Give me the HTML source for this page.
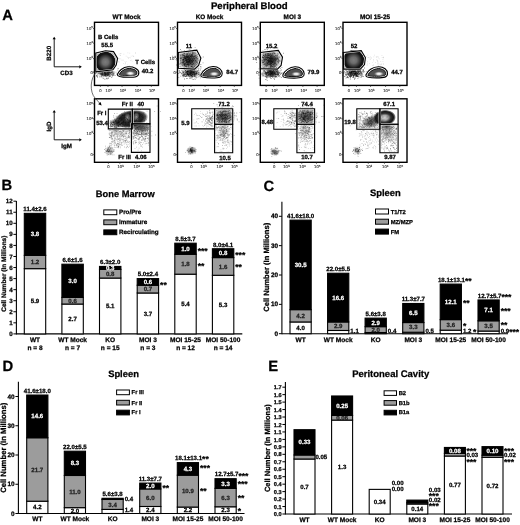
<!DOCTYPE html>
<html><head><meta charset="utf-8"><style>
html,body{margin:0;padding:0;background:#fff;}
svg{display:block;filter:blur(0.3px);}
text{font-family:"Liberation Sans",sans-serif;text-rendering:geometricPrecision;}
</style></head><body>
<svg width="520" height="525" viewBox="0 0 520 525">
<rect width="520" height="525" fill="#fff"/>
<text x="2.30" y="20.40" font-size="14.8" text-anchor="start" font-weight="bold" fill="#000" stroke="#000" stroke-width="0.25" >A</text>
<text x="1.50" y="189.60" font-size="14.8" text-anchor="start" font-weight="bold" fill="#000" stroke="#000" stroke-width="0.25" >B</text>
<text x="263.50" y="191.20" font-size="14.8" text-anchor="start" font-weight="bold" fill="#000" stroke="#000" stroke-width="0.25" >C</text>
<text x="2.50" y="371.20" font-size="14.8" text-anchor="start" font-weight="bold" fill="#000" stroke="#000" stroke-width="0.25" >D</text>
<text x="268.30" y="370.80" font-size="14.8" text-anchor="start" font-weight="bold" fill="#000" stroke="#000" stroke-width="0.25" >E</text>
<text x="249.30" y="9.20" font-size="9.6" text-anchor="middle" font-weight="bold" fill="#000" stroke="#000" stroke-width="0.25" >Peripheral Blood</text>
<text x="125.30" y="197.20" font-size="9.3" text-anchor="middle" font-weight="bold" fill="#000" stroke="#000" stroke-width="0.25" >Bone Marrow</text>
<text x="385.40" y="196.10" font-size="9.4" text-anchor="middle" font-weight="bold" fill="#000" stroke="#000" stroke-width="0.25" >Spleen</text>
<text x="123.50" y="376.90" font-size="9.4" text-anchor="middle" font-weight="bold" fill="#000" stroke="#000" stroke-width="0.25" >Spleen</text>
<text x="390.70" y="376.90" font-size="9.5" text-anchor="middle" font-weight="bold" fill="#000" stroke="#000" stroke-width="0.25" >Peritoneal Cavity</text>
<rect x="103.80" y="209.90" width="13.00" height="4.80" fill="#fff" stroke="#000" stroke-width="1"/>
<text x="119.00" y="214.20" font-size="6.25" text-anchor="start" font-weight="bold" fill="#000" stroke="#000" stroke-width="0.25" >Pro/Pre</text>
<rect x="103.80" y="219.90" width="13.00" height="4.80" fill="#9c9c9c" stroke="#000" stroke-width="1"/>
<text x="119.00" y="224.20" font-size="6.25" text-anchor="start" font-weight="bold" fill="#000" stroke="#000" stroke-width="0.25" >Immature</text>
<rect x="103.80" y="229.90" width="13.00" height="4.80" fill="#000" stroke="#000" stroke-width="1"/>
<text x="119.00" y="234.20" font-size="6.25" text-anchor="start" font-weight="bold" fill="#000" stroke="#000" stroke-width="0.25" >Recirculating</text>
<rect x="375.50" y="209.00" width="13.00" height="5.00" fill="#fff" stroke="#000" stroke-width="1"/>
<text x="390.70" y="213.50" font-size="5.8" text-anchor="start" font-weight="bold" fill="#000" stroke="#000" stroke-width="0.25" >T1/T2</text>
<rect x="375.50" y="219.20" width="13.00" height="5.00" fill="#9c9c9c" stroke="#000" stroke-width="1"/>
<text x="390.70" y="223.70" font-size="5.8" text-anchor="start" font-weight="bold" fill="#000" stroke="#000" stroke-width="0.25" >MZ/MZP</text>
<rect x="375.50" y="229.10" width="13.00" height="5.00" fill="#000" stroke="#000" stroke-width="1"/>
<text x="390.70" y="233.60" font-size="5.8" text-anchor="start" font-weight="bold" fill="#000" stroke="#000" stroke-width="0.25" >FM</text>
<rect x="116.60" y="390.00" width="12.80" height="4.70" fill="#fff" stroke="#000" stroke-width="1"/>
<text x="131.60" y="394.20" font-size="5.8" text-anchor="start" font-weight="bold" fill="#000" stroke="#000" stroke-width="0.25" >Fr III</text>
<rect x="116.60" y="400.30" width="12.80" height="4.70" fill="#9c9c9c" stroke="#000" stroke-width="1"/>
<text x="131.60" y="404.50" font-size="5.8" text-anchor="start" font-weight="bold" fill="#000" stroke="#000" stroke-width="0.25" >Fr II</text>
<rect x="116.60" y="410.20" width="12.80" height="4.70" fill="#000" stroke="#000" stroke-width="1"/>
<text x="131.60" y="414.40" font-size="5.8" text-anchor="start" font-weight="bold" fill="#000" stroke="#000" stroke-width="0.25" >Fr I</text>
<rect x="384.10" y="390.80" width="12.40" height="4.60" fill="#fff" stroke="#000" stroke-width="1"/>
<text x="398.70" y="394.90" font-size="5.8" text-anchor="start" font-weight="bold" fill="#000" stroke="#000" stroke-width="0.25" >B2</text>
<rect x="384.10" y="400.60" width="12.40" height="4.60" fill="#9c9c9c" stroke="#000" stroke-width="1"/>
<text x="398.70" y="404.70" font-size="5.8" text-anchor="start" font-weight="bold" fill="#000" stroke="#000" stroke-width="0.25" >B1b</text>
<rect x="384.10" y="410.30" width="12.40" height="4.60" fill="#000" stroke="#000" stroke-width="1"/>
<text x="398.70" y="414.40" font-size="5.8" text-anchor="start" font-weight="bold" fill="#000" stroke="#000" stroke-width="0.25" >B1a</text>
<text x="0" y="0" font-size="6.5" font-weight="bold" text-anchor="middle" stroke="#000" stroke-width="0.25" transform="translate(5.90,273.70) rotate(-90)">Cell Number (In Millions)</text>
<text x="0" y="0" font-size="7.6" font-weight="bold" text-anchor="middle" stroke="#000" stroke-width="0.25" transform="translate(269.40,267.30) rotate(-90)">Cell Number (In Millions)</text>
<text x="0" y="0" font-size="7.7" font-weight="bold" text-anchor="middle" stroke="#000" stroke-width="0.25" transform="translate(6.40,447.80) rotate(-90)">Cell Number (In Millions)</text>
<text x="0" y="0" font-size="7.5" font-weight="bold" text-anchor="middle" stroke="#000" stroke-width="0.25" transform="translate(270.30,448.10) rotate(-90)">Cell Number (In Millions)</text>
<line x1="16.40" y1="201.00" x2="16.40" y2="334.40" stroke="#000" stroke-width="1.1"/>
<line x1="16.40" y1="333.90" x2="242.30" y2="333.90" stroke="#000" stroke-width="1.1"/>
<line x1="13.40" y1="333.90" x2="16.40" y2="333.90" stroke="#000" stroke-width="1"/>
<text x="12.60" y="336.00" font-size="6.2" text-anchor="end" font-weight="bold" fill="#000" stroke="#000" stroke-width="0.25" >0</text>
<line x1="13.40" y1="322.84" x2="16.40" y2="322.84" stroke="#000" stroke-width="1"/>
<text x="12.60" y="324.94" font-size="6.2" text-anchor="end" font-weight="bold" fill="#000" stroke="#000" stroke-width="0.25" >1</text>
<line x1="13.40" y1="311.78" x2="16.40" y2="311.78" stroke="#000" stroke-width="1"/>
<text x="12.60" y="313.88" font-size="6.2" text-anchor="end" font-weight="bold" fill="#000" stroke="#000" stroke-width="0.25" >2</text>
<line x1="13.40" y1="300.72" x2="16.40" y2="300.72" stroke="#000" stroke-width="1"/>
<text x="12.60" y="302.82" font-size="6.2" text-anchor="end" font-weight="bold" fill="#000" stroke="#000" stroke-width="0.25" >3</text>
<line x1="13.40" y1="289.66" x2="16.40" y2="289.66" stroke="#000" stroke-width="1"/>
<text x="12.60" y="291.76" font-size="6.2" text-anchor="end" font-weight="bold" fill="#000" stroke="#000" stroke-width="0.25" >4</text>
<line x1="13.40" y1="278.60" x2="16.40" y2="278.60" stroke="#000" stroke-width="1"/>
<text x="12.60" y="280.70" font-size="6.2" text-anchor="end" font-weight="bold" fill="#000" stroke="#000" stroke-width="0.25" >5</text>
<line x1="13.40" y1="267.54" x2="16.40" y2="267.54" stroke="#000" stroke-width="1"/>
<text x="12.60" y="269.64" font-size="6.2" text-anchor="end" font-weight="bold" fill="#000" stroke="#000" stroke-width="0.25" >6</text>
<line x1="13.40" y1="256.48" x2="16.40" y2="256.48" stroke="#000" stroke-width="1"/>
<text x="12.60" y="258.58" font-size="6.2" text-anchor="end" font-weight="bold" fill="#000" stroke="#000" stroke-width="0.25" >7</text>
<line x1="13.40" y1="245.42" x2="16.40" y2="245.42" stroke="#000" stroke-width="1"/>
<text x="12.60" y="247.52" font-size="6.2" text-anchor="end" font-weight="bold" fill="#000" stroke="#000" stroke-width="0.25" >8</text>
<line x1="13.40" y1="234.36" x2="16.40" y2="234.36" stroke="#000" stroke-width="1"/>
<text x="12.60" y="236.46" font-size="6.2" text-anchor="end" font-weight="bold" fill="#000" stroke="#000" stroke-width="0.25" >9</text>
<line x1="13.40" y1="223.30" x2="16.40" y2="223.30" stroke="#000" stroke-width="1"/>
<text x="12.60" y="225.40" font-size="6.2" text-anchor="end" font-weight="bold" fill="#000" stroke="#000" stroke-width="0.25" >10</text>
<line x1="13.40" y1="212.24" x2="16.40" y2="212.24" stroke="#000" stroke-width="1"/>
<text x="12.60" y="214.34" font-size="6.2" text-anchor="end" font-weight="bold" fill="#000" stroke="#000" stroke-width="0.25" >11</text>
<line x1="13.40" y1="201.18" x2="16.40" y2="201.18" stroke="#000" stroke-width="1"/>
<text x="12.60" y="203.28" font-size="6.2" text-anchor="end" font-weight="bold" fill="#000" stroke="#000" stroke-width="0.25" >12</text>
<rect x="24.30" y="268.65" width="21.40" height="65.25" fill="#fff" stroke="#000" stroke-width="1.1"/>
<text x="35.00" y="303.37" font-size="6.1" text-anchor="middle" font-weight="bold" fill="#000" stroke="#000" stroke-width="0.25" >5.9</text>
<rect x="24.30" y="255.37" width="21.40" height="13.27" fill="#9c9c9c" stroke="#000" stroke-width="1.1"/>
<text x="35.00" y="264.11" font-size="6.1" text-anchor="middle" font-weight="bold" fill="#222" stroke="#222" stroke-width="0.25" >1.2</text>
<rect x="24.30" y="213.35" width="21.40" height="42.03" fill="#000" stroke="#000" stroke-width="1.1"/>
<text x="35.00" y="236.46" font-size="6.1" text-anchor="middle" font-weight="bold" fill="#fff" stroke="#fff" stroke-width="0.25" >3.8</text>
<text x="35.00" y="211.15" font-size="6.1" text-anchor="middle" font-weight="bold" fill="#000" stroke="#000" stroke-width="0.25" >11.4±2.6</text>
<text x="35.00" y="342.00" font-size="6.55" text-anchor="middle" font-weight="bold" fill="#000" stroke="#000" stroke-width="0.25" >WT</text>
<text x="35.00" y="349.60" font-size="6.55" text-anchor="middle" font-weight="bold" fill="#000" stroke="#000" stroke-width="0.25" >n = 8</text>
<rect x="61.90" y="304.04" width="21.40" height="29.86" fill="#fff" stroke="#000" stroke-width="1.1"/>
<text x="72.60" y="321.07" font-size="6.1" text-anchor="middle" font-weight="bold" fill="#000" stroke="#000" stroke-width="0.25" >2.7</text>
<rect x="61.90" y="297.40" width="21.40" height="6.64" fill="#9c9c9c" stroke="#000" stroke-width="1.1"/>
<text x="72.60" y="302.82" font-size="6.1" text-anchor="middle" font-weight="bold" fill="#222" stroke="#222" stroke-width="0.25" >0.6</text>
<rect x="61.90" y="264.22" width="21.40" height="33.18" fill="#000" stroke="#000" stroke-width="1.1"/>
<text x="72.60" y="282.91" font-size="6.1" text-anchor="middle" font-weight="bold" fill="#fff" stroke="#fff" stroke-width="0.25" >3.0</text>
<text x="72.60" y="262.02" font-size="6.1" text-anchor="middle" font-weight="bold" fill="#000" stroke="#000" stroke-width="0.25" >6.6±1.6</text>
<text x="72.60" y="342.00" font-size="6.55" text-anchor="middle" font-weight="bold" fill="#000" stroke="#000" stroke-width="0.25" >WT Mock</text>
<text x="72.60" y="349.60" font-size="6.55" text-anchor="middle" font-weight="bold" fill="#000" stroke="#000" stroke-width="0.25" >n = 7</text>
<rect x="99.50" y="278.05" width="21.40" height="55.85" fill="#fff" stroke="#000" stroke-width="1.1"/>
<text x="110.20" y="308.07" font-size="6.1" text-anchor="middle" font-weight="bold" fill="#000" stroke="#000" stroke-width="0.25" >5.1</text>
<rect x="99.50" y="269.42" width="21.40" height="8.63" fill="#9c9c9c" stroke="#000" stroke-width="1.1"/>
<text x="110.20" y="275.83" font-size="6.1" text-anchor="middle" font-weight="bold" fill="#222" stroke="#222" stroke-width="0.25" >0.8</text>
<rect x="99.50" y="266.43" width="21.40" height="2.99" fill="#000" stroke="#000" stroke-width="1.1"/>
<text x="110.20" y="270.03" font-size="6.1" text-anchor="middle" font-weight="bold" fill="#fff" stroke="#fff" stroke-width="0.25" >0.3</text>
<text x="110.20" y="264.23" font-size="6.1" text-anchor="middle" font-weight="bold" fill="#000" stroke="#000" stroke-width="0.25" >6.3±2.0</text>
<text x="110.20" y="342.00" font-size="6.55" text-anchor="middle" font-weight="bold" fill="#000" stroke="#000" stroke-width="0.25" >KO</text>
<text x="110.20" y="349.60" font-size="6.55" text-anchor="middle" font-weight="bold" fill="#000" stroke="#000" stroke-width="0.25" >n = 15</text>
<rect x="137.20" y="292.98" width="21.40" height="40.92" fill="#fff" stroke="#000" stroke-width="1.1"/>
<text x="147.90" y="315.54" font-size="6.1" text-anchor="middle" font-weight="bold" fill="#000" stroke="#000" stroke-width="0.25" >3.7</text>
<rect x="137.20" y="285.24" width="21.40" height="7.74" fill="#9c9c9c" stroke="#000" stroke-width="1.1"/>
<text x="147.90" y="291.21" font-size="6.1" text-anchor="middle" font-weight="bold" fill="#222" stroke="#222" stroke-width="0.25" >0.7</text>
<rect x="137.20" y="278.60" width="21.40" height="6.64" fill="#000" stroke="#000" stroke-width="1.1"/>
<text x="147.90" y="284.02" font-size="6.1" text-anchor="middle" font-weight="bold" fill="#fff" stroke="#fff" stroke-width="0.25" >0.6</text>
<text x="147.90" y="276.40" font-size="6.1" text-anchor="middle" font-weight="bold" fill="#000" stroke="#000" stroke-width="0.25" >5.0±2.4</text>
<text x="160.10" y="285.60" font-size="6.1" text-anchor="start" font-weight="bold" fill="#000" stroke="#000" stroke-width="0.25" ><tspan font-size="8.54" dy="2.07">**</tspan></text>
<text x="147.90" y="342.00" font-size="6.55" text-anchor="middle" font-weight="bold" fill="#000" stroke="#000" stroke-width="0.25" >MOI 3</text>
<text x="147.90" y="349.60" font-size="6.55" text-anchor="middle" font-weight="bold" fill="#000" stroke="#000" stroke-width="0.25" >n = 3</text>
<rect x="174.80" y="274.18" width="21.40" height="59.72" fill="#fff" stroke="#000" stroke-width="1.1"/>
<text x="185.50" y="306.14" font-size="6.1" text-anchor="middle" font-weight="bold" fill="#000" stroke="#000" stroke-width="0.25" >5.4</text>
<rect x="174.80" y="254.27" width="21.40" height="19.91" fill="#9c9c9c" stroke="#000" stroke-width="1.1"/>
<text x="185.50" y="266.32" font-size="6.1" text-anchor="middle" font-weight="bold" fill="#222" stroke="#222" stroke-width="0.25" >1.8</text>
<rect x="174.80" y="243.21" width="21.40" height="11.06" fill="#000" stroke="#000" stroke-width="1.1"/>
<text x="185.50" y="250.84" font-size="6.1" text-anchor="middle" font-weight="bold" fill="#fff" stroke="#fff" stroke-width="0.25" >1.0</text>
<text x="185.50" y="241.01" font-size="6.1" text-anchor="middle" font-weight="bold" fill="#000" stroke="#000" stroke-width="0.25" >8.5±3.7</text>
<text x="197.70" y="251.50" font-size="6.1" text-anchor="start" font-weight="bold" fill="#000" stroke="#000" stroke-width="0.25" ><tspan font-size="8.54" dy="2.07">***</tspan></text>
<text x="197.70" y="266.60" font-size="6.1" text-anchor="start" font-weight="bold" fill="#000" stroke="#000" stroke-width="0.25" ><tspan font-size="8.54" dy="2.07">**</tspan></text>
<text x="185.50" y="342.00" font-size="6.55" text-anchor="middle" font-weight="bold" fill="#000" stroke="#000" stroke-width="0.25" >MOI 15-25</text>
<text x="185.50" y="349.60" font-size="6.55" text-anchor="middle" font-weight="bold" fill="#000" stroke="#000" stroke-width="0.25" >n = 12</text>
<rect x="212.40" y="275.28" width="21.40" height="58.62" fill="#fff" stroke="#000" stroke-width="1.1"/>
<text x="223.10" y="306.69" font-size="6.1" text-anchor="middle" font-weight="bold" fill="#000" stroke="#000" stroke-width="0.25" >5.3</text>
<rect x="212.40" y="257.59" width="21.40" height="17.70" fill="#9c9c9c" stroke="#000" stroke-width="1.1"/>
<text x="223.10" y="268.53" font-size="6.1" text-anchor="middle" font-weight="bold" fill="#222" stroke="#222" stroke-width="0.25" >1.6</text>
<rect x="212.40" y="248.74" width="21.40" height="8.85" fill="#000" stroke="#000" stroke-width="1.1"/>
<text x="223.10" y="255.26" font-size="6.1" text-anchor="middle" font-weight="bold" fill="#fff" stroke="#fff" stroke-width="0.25" >0.8</text>
<text x="223.10" y="246.54" font-size="6.1" text-anchor="middle" font-weight="bold" fill="#000" stroke="#000" stroke-width="0.25" >8.0±4.1</text>
<text x="235.30" y="255.60" font-size="6.1" text-anchor="start" font-weight="bold" fill="#000" stroke="#000" stroke-width="0.25" ><tspan font-size="8.54" dy="2.07">***</tspan></text>
<text x="235.30" y="268.00" font-size="6.1" text-anchor="start" font-weight="bold" fill="#000" stroke="#000" stroke-width="0.25" ><tspan font-size="8.54" dy="2.07">**</tspan></text>
<text x="223.10" y="342.00" font-size="6.55" text-anchor="middle" font-weight="bold" fill="#000" stroke="#000" stroke-width="0.25" >MOI 50-100</text>
<text x="223.10" y="349.60" font-size="6.55" text-anchor="middle" font-weight="bold" fill="#000" stroke="#000" stroke-width="0.25" >n = 14</text>
<line x1="281.90" y1="201.70" x2="281.90" y2="334.20" stroke="#000" stroke-width="1.1"/>
<line x1="281.90" y1="333.70" x2="508.00" y2="333.70" stroke="#000" stroke-width="1.1"/>
<line x1="278.90" y1="333.70" x2="281.90" y2="333.70" stroke="#000" stroke-width="1"/>
<text x="278.10" y="335.80" font-size="6.4" text-anchor="end" font-weight="bold" fill="#000" stroke="#000" stroke-width="0.25" >0</text>
<line x1="278.90" y1="304.35" x2="281.90" y2="304.35" stroke="#000" stroke-width="1"/>
<text x="278.10" y="306.45" font-size="6.4" text-anchor="end" font-weight="bold" fill="#000" stroke="#000" stroke-width="0.25" >10</text>
<line x1="278.90" y1="275.00" x2="281.90" y2="275.00" stroke="#000" stroke-width="1"/>
<text x="278.10" y="277.10" font-size="6.4" text-anchor="end" font-weight="bold" fill="#000" stroke="#000" stroke-width="0.25" >20</text>
<line x1="278.90" y1="245.65" x2="281.90" y2="245.65" stroke="#000" stroke-width="1"/>
<text x="278.10" y="247.75" font-size="6.4" text-anchor="end" font-weight="bold" fill="#000" stroke="#000" stroke-width="0.25" >30</text>
<line x1="278.90" y1="216.30" x2="281.90" y2="216.30" stroke="#000" stroke-width="1"/>
<text x="278.10" y="218.40" font-size="6.4" text-anchor="end" font-weight="bold" fill="#000" stroke="#000" stroke-width="0.25" >40</text>
<rect x="290.00" y="321.96" width="21.20" height="11.74" fill="#fff" stroke="#000" stroke-width="1.1"/>
<text x="300.60" y="329.93" font-size="6.1" text-anchor="middle" font-weight="bold" fill="#000" stroke="#000" stroke-width="0.25" >4.0</text>
<rect x="290.00" y="309.63" width="21.20" height="12.33" fill="#9c9c9c" stroke="#000" stroke-width="1.1"/>
<text x="300.60" y="317.90" font-size="6.1" text-anchor="middle" font-weight="bold" fill="#222" stroke="#222" stroke-width="0.25" >4.2</text>
<rect x="290.00" y="220.12" width="21.20" height="89.52" fill="#000" stroke="#000" stroke-width="1.1"/>
<text x="300.60" y="266.97" font-size="6.1" text-anchor="middle" font-weight="bold" fill="#fff" stroke="#fff" stroke-width="0.25" >30.5</text>
<text x="300.60" y="217.92" font-size="6.1" text-anchor="middle" font-weight="bold" fill="#000" stroke="#000" stroke-width="0.25" >41.6±18.0</text>
<text x="300.60" y="341.80" font-size="6.55" text-anchor="middle" font-weight="bold" fill="#000" stroke="#000" stroke-width="0.25" >WT</text>
<rect x="327.60" y="330.47" width="21.20" height="3.23" fill="#fff" stroke="#000" stroke-width="1.1"/>
<rect x="327.60" y="321.96" width="21.20" height="8.51" fill="#9c9c9c" stroke="#000" stroke-width="1.1"/>
<text x="338.20" y="328.32" font-size="6.1" text-anchor="middle" font-weight="bold" fill="#222" stroke="#222" stroke-width="0.25" >2.9</text>
<rect x="327.60" y="273.24" width="21.20" height="48.72" fill="#000" stroke="#000" stroke-width="1.1"/>
<text x="338.20" y="299.70" font-size="6.1" text-anchor="middle" font-weight="bold" fill="#fff" stroke="#fff" stroke-width="0.25" >16.6</text>
<text x="338.20" y="271.04" font-size="6.1" text-anchor="middle" font-weight="bold" fill="#000" stroke="#000" stroke-width="0.25" >22.0±5.5</text>
<text x="350.30" y="332.50" font-size="6.1" text-anchor="start" font-weight="bold" fill="#000" stroke="#000" stroke-width="0.25" >1.1</text>
<text x="338.20" y="341.80" font-size="6.55" text-anchor="middle" font-weight="bold" fill="#000" stroke="#000" stroke-width="0.25" >WT Mock</text>
<rect x="365.10" y="332.53" width="21.20" height="1.17" fill="#fff" stroke="#000" stroke-width="1.1"/>
<rect x="365.10" y="326.66" width="21.20" height="5.87" fill="#9c9c9c" stroke="#000" stroke-width="1.1"/>
<text x="375.70" y="331.69" font-size="6.1" text-anchor="middle" font-weight="bold" fill="#222" stroke="#222" stroke-width="0.25" >2.0</text>
<rect x="365.10" y="318.14" width="21.20" height="8.51" fill="#000" stroke="#000" stroke-width="1.1"/>
<text x="375.70" y="324.50" font-size="6.1" text-anchor="middle" font-weight="bold" fill="#fff" stroke="#fff" stroke-width="0.25" >2.9</text>
<text x="375.70" y="315.94" font-size="6.1" text-anchor="middle" font-weight="bold" fill="#000" stroke="#000" stroke-width="0.25" >5.6±3.8</text>
<text x="387.80" y="332.50" font-size="6.1" text-anchor="start" font-weight="bold" fill="#000" stroke="#000" stroke-width="0.25" >0.4</text>
<text x="375.70" y="341.80" font-size="6.55" text-anchor="middle" font-weight="bold" fill="#000" stroke="#000" stroke-width="0.25" >KO</text>
<rect x="402.70" y="332.23" width="21.20" height="1.47" fill="#fff" stroke="#000" stroke-width="1.1"/>
<rect x="402.70" y="322.55" width="21.20" height="9.69" fill="#9c9c9c" stroke="#000" stroke-width="1.1"/>
<text x="413.30" y="329.49" font-size="6.1" text-anchor="middle" font-weight="bold" fill="#222" stroke="#222" stroke-width="0.25" >3.3</text>
<rect x="402.70" y="303.47" width="21.20" height="19.08" fill="#000" stroke="#000" stroke-width="1.1"/>
<text x="413.30" y="315.11" font-size="6.1" text-anchor="middle" font-weight="bold" fill="#fff" stroke="#fff" stroke-width="0.25" >6.5</text>
<text x="413.30" y="301.27" font-size="6.1" text-anchor="middle" font-weight="bold" fill="#000" stroke="#000" stroke-width="0.25" >11.3±7.7</text>
<text x="425.40" y="332.50" font-size="6.1" text-anchor="start" font-weight="bold" fill="#000" stroke="#000" stroke-width="0.25" >0.5</text>
<text x="413.30" y="341.80" font-size="6.55" text-anchor="middle" font-weight="bold" fill="#000" stroke="#000" stroke-width="0.25" >MOI 3</text>
<rect x="440.20" y="330.18" width="21.20" height="3.52" fill="#fff" stroke="#000" stroke-width="1.1"/>
<rect x="440.20" y="319.61" width="21.20" height="10.57" fill="#9c9c9c" stroke="#000" stroke-width="1.1"/>
<text x="450.80" y="327.00" font-size="6.1" text-anchor="middle" font-weight="bold" fill="#222" stroke="#222" stroke-width="0.25" >3.6</text>
<rect x="440.20" y="284.10" width="21.20" height="35.51" fill="#000" stroke="#000" stroke-width="1.1"/>
<text x="450.80" y="303.96" font-size="6.1" text-anchor="middle" font-weight="bold" fill="#fff" stroke="#fff" stroke-width="0.25" >12.1</text>
<text x="454.80" y="281.90" font-size="6.1" text-anchor="middle" font-weight="bold" fill="#000" stroke="#000" stroke-width="0.25" >18.1±13.1<tspan font-size="8.54" dy="2.07">**</tspan></text>
<text x="462.90" y="304.00" font-size="6.1" text-anchor="start" font-weight="bold" fill="#000" stroke="#000" stroke-width="0.25" ><tspan font-size="8.54" dy="2.07">**</tspan></text>
<text x="462.90" y="326.50" font-size="6.1" text-anchor="start" font-weight="bold" fill="#000" stroke="#000" stroke-width="0.25" ><tspan font-size="8.54" dy="2.07">*</tspan></text>
<text x="462.90" y="332.50" font-size="6.1" text-anchor="start" font-weight="bold" fill="#000" stroke="#000" stroke-width="0.25" >1.2 <tspan font-size="8.54" dy="2.07">*</tspan></text>
<text x="450.80" y="341.80" font-size="6.55" text-anchor="middle" font-weight="bold" fill="#000" stroke="#000" stroke-width="0.25" >MOI 15-25</text>
<rect x="478.00" y="331.06" width="21.20" height="2.64" fill="#fff" stroke="#000" stroke-width="1.1"/>
<rect x="478.00" y="320.79" width="21.20" height="10.27" fill="#9c9c9c" stroke="#000" stroke-width="1.1"/>
<text x="488.60" y="328.02" font-size="6.1" text-anchor="middle" font-weight="bold" fill="#222" stroke="#222" stroke-width="0.25" >3.5</text>
<rect x="478.00" y="299.95" width="21.20" height="20.84" fill="#000" stroke="#000" stroke-width="1.1"/>
<text x="488.60" y="312.47" font-size="6.1" text-anchor="middle" font-weight="bold" fill="#fff" stroke="#fff" stroke-width="0.25" >7.1</text>
<text x="494.60" y="297.75" font-size="6.1" text-anchor="middle" font-weight="bold" fill="#000" stroke="#000" stroke-width="0.25" >12.7±5.7<tspan font-size="8.54" dy="2.07">***</tspan></text>
<text x="500.70" y="312.30" font-size="6.1" text-anchor="start" font-weight="bold" fill="#000" stroke="#000" stroke-width="0.25" ><tspan font-size="8.54" dy="2.07">***</tspan></text>
<text x="500.70" y="326.00" font-size="6.1" text-anchor="start" font-weight="bold" fill="#000" stroke="#000" stroke-width="0.25" ><tspan font-size="8.54" dy="2.07">**</tspan></text>
<text x="500.70" y="332.50" font-size="6.1" text-anchor="start" font-weight="bold" fill="#000" stroke="#000" stroke-width="0.25" >0.9<tspan font-size="8.54" dy="2.07">***</tspan></text>
<text x="488.60" y="341.80" font-size="6.55" text-anchor="middle" font-weight="bold" fill="#000" stroke="#000" stroke-width="0.25" >MOI 50-100</text>
<line x1="18.40" y1="381.70" x2="18.40" y2="514.00" stroke="#000" stroke-width="1.1"/>
<line x1="18.40" y1="513.50" x2="244.50" y2="513.50" stroke="#000" stroke-width="1.1"/>
<line x1="15.40" y1="513.50" x2="18.40" y2="513.50" stroke="#000" stroke-width="1"/>
<text x="14.60" y="515.60" font-size="6.4" text-anchor="end" font-weight="bold" fill="#000" stroke="#000" stroke-width="0.25" >0</text>
<line x1="15.40" y1="484.25" x2="18.40" y2="484.25" stroke="#000" stroke-width="1"/>
<text x="14.60" y="486.35" font-size="6.4" text-anchor="end" font-weight="bold" fill="#000" stroke="#000" stroke-width="0.25" >10</text>
<line x1="15.40" y1="455.00" x2="18.40" y2="455.00" stroke="#000" stroke-width="1"/>
<text x="14.60" y="457.10" font-size="6.4" text-anchor="end" font-weight="bold" fill="#000" stroke="#000" stroke-width="0.25" >20</text>
<line x1="15.40" y1="425.75" x2="18.40" y2="425.75" stroke="#000" stroke-width="1"/>
<text x="14.60" y="427.85" font-size="6.4" text-anchor="end" font-weight="bold" fill="#000" stroke="#000" stroke-width="0.25" >30</text>
<line x1="15.40" y1="396.50" x2="18.40" y2="396.50" stroke="#000" stroke-width="1"/>
<text x="14.60" y="398.60" font-size="6.4" text-anchor="end" font-weight="bold" fill="#000" stroke="#000" stroke-width="0.25" >40</text>
<rect x="26.70" y="501.21" width="21.20" height="12.29" fill="#fff" stroke="#000" stroke-width="1.1"/>
<text x="37.30" y="509.46" font-size="6.1" text-anchor="middle" font-weight="bold" fill="#000" stroke="#000" stroke-width="0.25" >4.2</text>
<rect x="26.70" y="437.74" width="21.20" height="63.47" fill="#9c9c9c" stroke="#000" stroke-width="1.1"/>
<text x="37.30" y="471.58" font-size="6.1" text-anchor="middle" font-weight="bold" fill="#222" stroke="#222" stroke-width="0.25" >21.7</text>
<rect x="26.70" y="395.04" width="21.20" height="42.70" fill="#000" stroke="#000" stroke-width="1.1"/>
<text x="37.30" y="418.49" font-size="6.1" text-anchor="middle" font-weight="bold" fill="#fff" stroke="#fff" stroke-width="0.25" >14.6</text>
<text x="37.30" y="392.84" font-size="6.1" text-anchor="middle" font-weight="bold" fill="#000" stroke="#000" stroke-width="0.25" >41.6±18.0</text>
<text x="37.30" y="521.30" font-size="6.55" text-anchor="middle" font-weight="bold" fill="#000" stroke="#000" stroke-width="0.25" >WT</text>
<rect x="64.30" y="507.65" width="21.20" height="5.85" fill="#fff" stroke="#000" stroke-width="1.1"/>
<text x="74.90" y="512.67" font-size="6.1" text-anchor="middle" font-weight="bold" fill="#000" stroke="#000" stroke-width="0.25" >2.0</text>
<rect x="64.30" y="475.47" width="21.20" height="32.17" fill="#9c9c9c" stroke="#000" stroke-width="1.1"/>
<text x="74.90" y="493.66" font-size="6.1" text-anchor="middle" font-weight="bold" fill="#222" stroke="#222" stroke-width="0.25" >11.0</text>
<rect x="64.30" y="451.20" width="21.20" height="24.28" fill="#000" stroke="#000" stroke-width="1.1"/>
<text x="74.90" y="465.44" font-size="6.1" text-anchor="middle" font-weight="bold" fill="#fff" stroke="#fff" stroke-width="0.25" >8.3</text>
<text x="74.90" y="449.00" font-size="6.1" text-anchor="middle" font-weight="bold" fill="#000" stroke="#000" stroke-width="0.25" >22.0±5.5</text>
<text x="74.90" y="521.30" font-size="6.55" text-anchor="middle" font-weight="bold" fill="#000" stroke="#000" stroke-width="0.25" >WT Mock</text>
<rect x="102.00" y="509.40" width="21.20" height="4.09" fill="#fff" stroke="#000" stroke-width="1.1"/>
<rect x="102.00" y="499.46" width="21.20" height="9.94" fill="#9c9c9c" stroke="#000" stroke-width="1.1"/>
<text x="112.60" y="506.53" font-size="6.1" text-anchor="middle" font-weight="bold" fill="#222" stroke="#222" stroke-width="0.25" >3.4</text>
<rect x="102.00" y="498.29" width="21.20" height="1.17" fill="#000" stroke="#000" stroke-width="1.1"/>
<text x="112.60" y="496.09" font-size="6.1" text-anchor="middle" font-weight="bold" fill="#000" stroke="#000" stroke-width="0.25" >5.6±3.8</text>
<text x="124.70" y="501.30" font-size="6.1" text-anchor="start" font-weight="bold" fill="#000" stroke="#000" stroke-width="0.25" >0.4</text>
<text x="124.70" y="511.70" font-size="6.1" text-anchor="start" font-weight="bold" fill="#000" stroke="#000" stroke-width="0.25" >1.4</text>
<text x="112.60" y="521.30" font-size="6.55" text-anchor="middle" font-weight="bold" fill="#000" stroke="#000" stroke-width="0.25" >KO</text>
<rect x="139.70" y="506.48" width="21.20" height="7.02" fill="#fff" stroke="#000" stroke-width="1.1"/>
<text x="150.30" y="512.09" font-size="6.1" text-anchor="middle" font-weight="bold" fill="#000" stroke="#000" stroke-width="0.25" >2.4</text>
<rect x="139.70" y="488.93" width="21.20" height="17.55" fill="#9c9c9c" stroke="#000" stroke-width="1.1"/>
<text x="150.30" y="499.81" font-size="6.1" text-anchor="middle" font-weight="bold" fill="#222" stroke="#222" stroke-width="0.25" >6.0</text>
<rect x="139.70" y="483.08" width="21.20" height="5.85" fill="#000" stroke="#000" stroke-width="1.1"/>
<text x="150.30" y="488.11" font-size="6.1" text-anchor="middle" font-weight="bold" fill="#fff" stroke="#fff" stroke-width="0.25" >2.0</text>
<text x="150.30" y="480.88" font-size="6.1" text-anchor="middle" font-weight="bold" fill="#000" stroke="#000" stroke-width="0.25" >11.3±7.7</text>
<text x="162.40" y="488.50" font-size="6.1" text-anchor="start" font-weight="bold" fill="#000" stroke="#000" stroke-width="0.25" ><tspan font-size="8.54" dy="2.07">**</tspan></text>
<text x="150.30" y="521.30" font-size="6.55" text-anchor="middle" font-weight="bold" fill="#000" stroke="#000" stroke-width="0.25" >MOI 3</text>
<rect x="177.30" y="507.06" width="21.20" height="6.44" fill="#fff" stroke="#000" stroke-width="1.1"/>
<text x="187.90" y="512.38" font-size="6.1" text-anchor="middle" font-weight="bold" fill="#000" stroke="#000" stroke-width="0.25" >2.2</text>
<rect x="177.30" y="475.18" width="21.20" height="31.88" fill="#9c9c9c" stroke="#000" stroke-width="1.1"/>
<text x="187.90" y="493.22" font-size="6.1" text-anchor="middle" font-weight="bold" fill="#222" stroke="#222" stroke-width="0.25" >10.9</text>
<rect x="177.30" y="462.61" width="21.20" height="12.58" fill="#000" stroke="#000" stroke-width="1.1"/>
<text x="187.90" y="470.99" font-size="6.1" text-anchor="middle" font-weight="bold" fill="#fff" stroke="#fff" stroke-width="0.25" >4.3</text>
<text x="191.90" y="460.41" font-size="6.1" text-anchor="middle" font-weight="bold" fill="#000" stroke="#000" stroke-width="0.25" >18.1±13.1<tspan font-size="8.54" dy="2.07">**</tspan></text>
<text x="200.00" y="469.10" font-size="6.1" text-anchor="start" font-weight="bold" fill="#000" stroke="#000" stroke-width="0.25" ><tspan font-size="8.54" dy="2.07">***</tspan></text>
<text x="200.00" y="491.70" font-size="6.1" text-anchor="start" font-weight="bold" fill="#000" stroke="#000" stroke-width="0.25" ><tspan font-size="8.54" dy="2.07">**</tspan></text>
<text x="187.90" y="521.30" font-size="6.55" text-anchor="middle" font-weight="bold" fill="#000" stroke="#000" stroke-width="0.25" >MOI 15-25</text>
<rect x="215.00" y="506.77" width="21.20" height="6.73" fill="#fff" stroke="#000" stroke-width="1.1"/>
<text x="225.60" y="512.24" font-size="6.1" text-anchor="middle" font-weight="bold" fill="#000" stroke="#000" stroke-width="0.25" >2.3</text>
<rect x="215.00" y="488.34" width="21.20" height="18.43" fill="#9c9c9c" stroke="#000" stroke-width="1.1"/>
<text x="225.60" y="499.66" font-size="6.1" text-anchor="middle" font-weight="bold" fill="#222" stroke="#222" stroke-width="0.25" >6.3</text>
<rect x="215.00" y="478.69" width="21.20" height="9.65" fill="#000" stroke="#000" stroke-width="1.1"/>
<text x="225.60" y="485.62" font-size="6.1" text-anchor="middle" font-weight="bold" fill="#fff" stroke="#fff" stroke-width="0.25" >3.3</text>
<text x="231.60" y="476.49" font-size="6.1" text-anchor="middle" font-weight="bold" fill="#000" stroke="#000" stroke-width="0.25" >12.7±5.7<tspan font-size="8.54" dy="2.07">***</tspan></text>
<text x="237.70" y="485.20" font-size="6.1" text-anchor="start" font-weight="bold" fill="#000" stroke="#000" stroke-width="0.25" ><tspan font-size="8.54" dy="2.07">***</tspan></text>
<text x="237.70" y="498.90" font-size="6.1" text-anchor="start" font-weight="bold" fill="#000" stroke="#000" stroke-width="0.25" ><tspan font-size="8.54" dy="2.07">**</tspan></text>
<text x="237.70" y="511.90" font-size="6.1" text-anchor="start" font-weight="bold" fill="#000" stroke="#000" stroke-width="0.25" ><tspan font-size="8.54" dy="2.07">*</tspan></text>
<text x="225.60" y="521.30" font-size="6.55" text-anchor="middle" font-weight="bold" fill="#000" stroke="#000" stroke-width="0.25" >MOI 50-100</text>
<line x1="285.40" y1="382.00" x2="285.40" y2="514.50" stroke="#000" stroke-width="1.1"/>
<line x1="285.40" y1="514.00" x2="512.00" y2="514.00" stroke="#000" stroke-width="1.1"/>
<line x1="282.40" y1="514.00" x2="285.40" y2="514.00" stroke="#000" stroke-width="1"/>
<text x="281.60" y="516.10" font-size="5.6" text-anchor="end" font-weight="bold" fill="#000" stroke="#000" stroke-width="0.25" >0.0</text>
<line x1="282.40" y1="506.54" x2="285.40" y2="506.54" stroke="#000" stroke-width="1"/>
<text x="281.60" y="508.64" font-size="5.6" text-anchor="end" font-weight="bold" fill="#000" stroke="#000" stroke-width="0.25" >0.1</text>
<line x1="282.40" y1="499.08" x2="285.40" y2="499.08" stroke="#000" stroke-width="1"/>
<text x="281.60" y="501.18" font-size="5.6" text-anchor="end" font-weight="bold" fill="#000" stroke="#000" stroke-width="0.25" >0.2</text>
<line x1="282.40" y1="491.62" x2="285.40" y2="491.62" stroke="#000" stroke-width="1"/>
<text x="281.60" y="493.72" font-size="5.6" text-anchor="end" font-weight="bold" fill="#000" stroke="#000" stroke-width="0.25" >0.3</text>
<line x1="282.40" y1="484.16" x2="285.40" y2="484.16" stroke="#000" stroke-width="1"/>
<text x="281.60" y="486.26" font-size="5.6" text-anchor="end" font-weight="bold" fill="#000" stroke="#000" stroke-width="0.25" >0.4</text>
<line x1="282.40" y1="476.70" x2="285.40" y2="476.70" stroke="#000" stroke-width="1"/>
<text x="281.60" y="478.80" font-size="5.6" text-anchor="end" font-weight="bold" fill="#000" stroke="#000" stroke-width="0.25" >0.5</text>
<line x1="282.40" y1="469.24" x2="285.40" y2="469.24" stroke="#000" stroke-width="1"/>
<text x="281.60" y="471.34" font-size="5.6" text-anchor="end" font-weight="bold" fill="#000" stroke="#000" stroke-width="0.25" >0.6</text>
<line x1="282.40" y1="461.78" x2="285.40" y2="461.78" stroke="#000" stroke-width="1"/>
<text x="281.60" y="463.88" font-size="5.6" text-anchor="end" font-weight="bold" fill="#000" stroke="#000" stroke-width="0.25" >0.7</text>
<line x1="282.40" y1="454.32" x2="285.40" y2="454.32" stroke="#000" stroke-width="1"/>
<text x="281.60" y="456.42" font-size="5.6" text-anchor="end" font-weight="bold" fill="#000" stroke="#000" stroke-width="0.25" >0.8</text>
<line x1="282.40" y1="446.86" x2="285.40" y2="446.86" stroke="#000" stroke-width="1"/>
<text x="281.60" y="448.96" font-size="5.6" text-anchor="end" font-weight="bold" fill="#000" stroke="#000" stroke-width="0.25" >0.9</text>
<line x1="282.40" y1="439.40" x2="285.40" y2="439.40" stroke="#000" stroke-width="1"/>
<text x="281.60" y="441.50" font-size="5.6" text-anchor="end" font-weight="bold" fill="#000" stroke="#000" stroke-width="0.25" >1.0</text>
<line x1="282.40" y1="431.94" x2="285.40" y2="431.94" stroke="#000" stroke-width="1"/>
<text x="281.60" y="434.04" font-size="5.6" text-anchor="end" font-weight="bold" fill="#000" stroke="#000" stroke-width="0.25" >1.1</text>
<line x1="282.40" y1="424.48" x2="285.40" y2="424.48" stroke="#000" stroke-width="1"/>
<text x="281.60" y="426.58" font-size="5.6" text-anchor="end" font-weight="bold" fill="#000" stroke="#000" stroke-width="0.25" >1.2</text>
<line x1="282.40" y1="417.02" x2="285.40" y2="417.02" stroke="#000" stroke-width="1"/>
<text x="281.60" y="419.12" font-size="5.6" text-anchor="end" font-weight="bold" fill="#000" stroke="#000" stroke-width="0.25" >1.3</text>
<line x1="282.40" y1="409.56" x2="285.40" y2="409.56" stroke="#000" stroke-width="1"/>
<text x="281.60" y="411.66" font-size="5.6" text-anchor="end" font-weight="bold" fill="#000" stroke="#000" stroke-width="0.25" >1.4</text>
<line x1="282.40" y1="402.10" x2="285.40" y2="402.10" stroke="#000" stroke-width="1"/>
<text x="281.60" y="404.20" font-size="5.6" text-anchor="end" font-weight="bold" fill="#000" stroke="#000" stroke-width="0.25" >1.5</text>
<line x1="282.40" y1="394.64" x2="285.40" y2="394.64" stroke="#000" stroke-width="1"/>
<text x="281.60" y="396.74" font-size="5.6" text-anchor="end" font-weight="bold" fill="#000" stroke="#000" stroke-width="0.25" >1.6</text>
<line x1="282.40" y1="387.18" x2="285.40" y2="387.18" stroke="#000" stroke-width="1"/>
<text x="281.60" y="389.28" font-size="5.6" text-anchor="end" font-weight="bold" fill="#000" stroke="#000" stroke-width="0.25" >1.7</text>
<rect x="294.00" y="459.02" width="21.00" height="54.98" fill="#fff" stroke="#000" stroke-width="1.1"/>
<text x="304.50" y="488.61" font-size="6.1" text-anchor="middle" font-weight="bold" fill="#000" stroke="#000" stroke-width="0.25" >0.7</text>
<rect x="294.00" y="454.99" width="21.00" height="4.03" fill="#9c9c9c" stroke="#000" stroke-width="1.1"/>
<rect x="294.00" y="429.70" width="21.00" height="25.29" fill="#000" stroke="#000" stroke-width="1.1"/>
<text x="304.50" y="444.45" font-size="6.1" text-anchor="middle" font-weight="bold" fill="#fff" stroke="#fff" stroke-width="0.25" >0.33</text>
<text x="315.40" y="458.60" font-size="6.1" text-anchor="start" font-weight="bold" fill="#000" stroke="#000" stroke-width="0.25" >0.05</text>
<text x="304.50" y="522.30" font-size="6.55" text-anchor="middle" font-weight="bold" fill="#000" stroke="#000" stroke-width="0.25" >WT</text>
<rect x="331.60" y="420.08" width="21.00" height="93.92" fill="#fff" stroke="#000" stroke-width="1.1"/>
<text x="342.10" y="469.14" font-size="6.1" text-anchor="middle" font-weight="bold" fill="#000" stroke="#000" stroke-width="0.25" >1.3</text>
<rect x="331.60" y="415.45" width="21.00" height="4.63" fill="#9c9c9c" stroke="#000" stroke-width="1.1"/>
<text x="342.10" y="419.87" font-size="6.1" text-anchor="middle" font-weight="bold" fill="#222" stroke="#222" stroke-width="0.25" >0.06</text>
<rect x="331.60" y="395.98" width="21.00" height="19.47" fill="#000" stroke="#000" stroke-width="1.1"/>
<text x="342.10" y="407.82" font-size="6.1" text-anchor="middle" font-weight="bold" fill="#fff" stroke="#fff" stroke-width="0.25" >0.25</text>
<text x="342.10" y="522.30" font-size="6.55" text-anchor="middle" font-weight="bold" fill="#000" stroke="#000" stroke-width="0.25" >WT Mock</text>
<rect x="369.20" y="489.38" width="21.00" height="24.62" fill="#fff" stroke="#000" stroke-width="1.1"/>
<text x="379.70" y="503.79" font-size="6.1" text-anchor="middle" font-weight="bold" fill="#000" stroke="#000" stroke-width="0.25" >0.34</text>
<rect x="369.20" y="489.38" width="21.00" height="0.00" fill="#9c9c9c" stroke="#000" stroke-width="1.1"/>
<rect x="369.20" y="489.38" width="21.00" height="0.00" fill="#000" stroke="#000" stroke-width="1.1"/>
<text x="391.70" y="485.30" font-size="6.1" text-anchor="start" font-weight="bold" fill="#000" stroke="#000" stroke-width="0.25" >0.00</text>
<text x="391.70" y="491.10" font-size="6.1" text-anchor="start" font-weight="bold" fill="#000" stroke="#000" stroke-width="0.25" >0.00</text>
<text x="379.70" y="522.30" font-size="6.55" text-anchor="middle" font-weight="bold" fill="#000" stroke="#000" stroke-width="0.25" >KO</text>
<rect x="406.80" y="504.00" width="21.00" height="10.00" fill="#fff" stroke="#000" stroke-width="1.1"/>
<text x="417.30" y="511.10" font-size="6.1" text-anchor="middle" font-weight="bold" fill="#000" stroke="#000" stroke-width="0.25" >0.14</text>
<rect x="406.80" y="502.74" width="21.00" height="1.27" fill="#9c9c9c" stroke="#000" stroke-width="1.1"/>
<rect x="406.80" y="500.12" width="21.00" height="2.61" fill="#000" stroke="#000" stroke-width="1.1"/>
<text x="428.80" y="492.40" font-size="6.1" text-anchor="start" font-weight="bold" fill="#000" stroke="#000" stroke-width="0.25" >0.03</text>
<text x="428.80" y="497.20" font-size="6.1" text-anchor="start" font-weight="bold" fill="#000" stroke="#000" stroke-width="0.25" ><tspan font-size="8.54" dy="2.07">***</tspan></text>
<text x="428.80" y="501.70" font-size="6.1" text-anchor="start" font-weight="bold" fill="#000" stroke="#000" stroke-width="0.25" >0.02</text>
<text x="428.80" y="506.80" font-size="6.1" text-anchor="start" font-weight="bold" fill="#000" stroke="#000" stroke-width="0.25" ><tspan font-size="8.54" dy="2.07">***</tspan></text>
<text x="417.30" y="522.30" font-size="6.55" text-anchor="middle" font-weight="bold" fill="#000" stroke="#000" stroke-width="0.25" >MOI 3</text>
<rect x="444.40" y="456.04" width="21.00" height="57.96" fill="#fff" stroke="#000" stroke-width="1.1"/>
<text x="454.90" y="487.12" font-size="6.1" text-anchor="middle" font-weight="bold" fill="#000" stroke="#000" stroke-width="0.25" >0.77</text>
<rect x="444.40" y="453.42" width="21.00" height="2.61" fill="#9c9c9c" stroke="#000" stroke-width="1.1"/>
<rect x="444.40" y="447.46" width="21.00" height="5.97" fill="#000" stroke="#000" stroke-width="1.1"/>
<text x="454.90" y="452.54" font-size="6.1" text-anchor="middle" font-weight="bold" fill="#fff" stroke="#fff" stroke-width="0.25" >0.08</text>
<text x="466.40" y="451.80" font-size="6.1" text-anchor="start" font-weight="bold" fill="#000" stroke="#000" stroke-width="0.25" ><tspan font-size="8.54" dy="2.07">***</tspan></text>
<text x="466.40" y="457.30" font-size="6.1" text-anchor="start" font-weight="bold" fill="#000" stroke="#000" stroke-width="0.25" >0.03</text>
<text x="466.40" y="462.90" font-size="6.1" text-anchor="start" font-weight="bold" fill="#000" stroke="#000" stroke-width="0.25" ><tspan font-size="8.54" dy="2.07">***</tspan></text>
<text x="454.90" y="522.30" font-size="6.55" text-anchor="middle" font-weight="bold" fill="#000" stroke="#000" stroke-width="0.25" >MOI 15-25</text>
<rect x="482.00" y="457.30" width="21.00" height="56.70" fill="#fff" stroke="#000" stroke-width="1.1"/>
<text x="492.50" y="487.75" font-size="6.1" text-anchor="middle" font-weight="bold" fill="#000" stroke="#000" stroke-width="0.25" >0.72</text>
<rect x="482.00" y="455.22" width="21.00" height="2.09" fill="#9c9c9c" stroke="#000" stroke-width="1.1"/>
<rect x="482.00" y="446.64" width="21.00" height="8.58" fill="#000" stroke="#000" stroke-width="1.1"/>
<text x="492.50" y="453.03" font-size="6.1" text-anchor="middle" font-weight="bold" fill="#fff" stroke="#fff" stroke-width="0.25" >0.10</text>
<text x="504.00" y="451.80" font-size="6.1" text-anchor="start" font-weight="bold" fill="#000" stroke="#000" stroke-width="0.25" ><tspan font-size="8.54" dy="2.07">***</tspan></text>
<text x="504.00" y="457.30" font-size="6.1" text-anchor="start" font-weight="bold" fill="#000" stroke="#000" stroke-width="0.25" >0.02</text>
<text x="504.00" y="462.90" font-size="6.1" text-anchor="start" font-weight="bold" fill="#000" stroke="#000" stroke-width="0.25" ><tspan font-size="8.54" dy="2.07">***</tspan></text>
<text x="492.50" y="522.30" font-size="6.55" text-anchor="middle" font-weight="bold" fill="#000" stroke="#000" stroke-width="0.25" >MOI 50-100</text>
<text x="126.50" y="18.80" font-size="6.4" text-anchor="middle" font-weight="bold" fill="#000" stroke="#000" stroke-width="0.25" >WT Mock</text>
<text x="209.50" y="18.80" font-size="6.4" text-anchor="middle" font-weight="bold" fill="#000" stroke="#000" stroke-width="0.25" >KO Mock</text>
<text x="292.30" y="18.80" font-size="6.4" text-anchor="middle" font-weight="bold" fill="#000" stroke="#000" stroke-width="0.25" >MOI 3</text>
<text x="375.00" y="18.80" font-size="6.4" text-anchor="middle" font-weight="bold" fill="#000" stroke="#000" stroke-width="0.25" >MOI 15-25</text>
<path fill="#000" fill-opacity="0.15" d="M123.5 53.8h.71v.71h-.71zM125.3 63.2h.71v.71h-.71zM120.2 53.3h.71v.71h-.71zM129.9 57.6h.71v.71h-.71zM130.8 55.7h.71v.71h-.71zM133.4 56.0h.71v.71h-.71zM129.3 65.5h.71v.71h-.71zM120.0 55.1h.71v.71h-.71z"/>
<path fill="#000" fill-opacity="0.15" d="M129.4 52.7h.71v.71h-.71zM119.9 54.8h.71v.71h-.71zM123.2 63.1h.71v.71h-.71zM123.3 59.8h.71v.71h-.71zM135.3 53.3h.71v.71h-.71zM130.2 60.0h.71v.71h-.71zM132.4 55.6h.71v.71h-.71zM124.7 63.8h.71v.71h-.71z"/>
<path fill="#000" fill-opacity="0.15" d="M127.3 56.8h.71v.71h-.71zM128.9 64.9h.71v.71h-.71zM120.9 59.8h.71v.71h-.71zM125.8 55.8h.71v.71h-.71zM125.2 62.2h.71v.71h-.71zM128.1 58.0h.71v.71h-.71zM124.6 61.0h.71v.71h-.71zM119.1 57.9h.71v.71h-.71z"/>
<path fill="#000" fill-opacity="0.15" d="M118.7 58.8h.71v.71h-.71zM128.0 57.2h.71v.71h-.71zM129.1 56.9h.71v.71h-.71zM131.9 61.4h.71v.71h-.71zM120.4 58.5h.71v.71h-.71zM132.8 64.9h.71v.71h-.71zM118.1 58.1h.71v.71h-.71z"/>
<path fill="#000" fill-opacity="0.15" d="M118.3 57.7h.71v.71h-.71zM135.2 52.3h.71v.71h-.71zM127.5 52.5h.71v.71h-.71zM122.0 59.7h.71v.71h-.71zM118.4 61.0h.71v.71h-.71zM126.2 60.9h.71v.71h-.71zM120.7 53.3h.71v.71h-.71z"/>
<path fill="#000" fill-opacity="0.15" d="M118.9 52.9h.71v.71h-.71zM133.1 55.7h.71v.71h-.71zM118.7 54.5h.71v.71h-.71zM127.1 63.9h.71v.71h-.71zM131.4 59.7h.71v.71h-.71zM118.7 61.5h.71v.71h-.71zM118.7 62.4h.71v.71h-.71z"/>
<defs><radialGradient id="rg1"><stop offset="0" stop-color="#333" stop-opacity="0.6"/><stop offset="0.6" stop-color="#555" stop-opacity="0.35"/><stop offset="1" stop-color="#888" stop-opacity="0"/></radialGradient></defs>
<ellipse cx="105.50" cy="73.00" rx="10.00" ry="4.80" fill="url(#rg1)" transform="rotate(0 105.50 73.00)"/>
<path fill="#000" fill-opacity="0.5" d="M96.2 71.1h.8v.8h-.8zM105.6 75.4h.8v.8h-.8zM104.4 71.9h.8v.8h-.8zM105.8 74.0h.8v.8h-.8zM105.0 74.8h.8v.8h-.8zM106.4 71.3h.8v.8h-.8zM104.8 74.9h.8v.8h-.8zM108.2 69.0h.8v.8h-.8zM117.5 69.8h.8v.8h-.8zM100.5 69.1h.8v.8h-.8zM109.5 72.2h.8v.8h-.8zM111.6 72.2h.8v.8h-.8zM106.5 71.1h.8v.8h-.8zM96.7 70.0h.8v.8h-.8zM107.5 75.0h.8v.8h-.8zM105.8 69.8h.8v.8h-.8zM94.5 73.4h.8v.8h-.8zM108.1 73.4h.8v.8h-.8zM107.2 78.4h.8v.8h-.8zM104.9 72.1h.8v.8h-.8zM107.9 73.8h.8v.8h-.8zM98.8 71.0h.8v.8h-.8zM113.3 74.5h.8v.8h-.8zM108.0 73.1h.8v.8h-.8zM104.5 69.6h.8v.8h-.8zM100.2 66.3h.8v.8h-.8zM105.0 74.0h.8v.8h-.8zM104.1 78.7h.8v.8h-.8zM106.7 75.3h.8v.8h-.8zM105.1 69.1h.8v.8h-.8zM110.0 70.5h.8v.8h-.8zM102.3 69.2h.8v.8h-.8zM104.7 72.6h.8v.8h-.8zM104.7 71.0h.8v.8h-.8zM107.2 74.1h.8v.8h-.8zM100.1 72.3h.8v.8h-.8zM101.7 73.2h.8v.8h-.8zM110.4 70.2h.8v.8h-.8zM101.6 76.8h.8v.8h-.8zM111.1 72.6h.8v.8h-.8zM102.2 72.5h.8v.8h-.8zM104.6 70.0h.8v.8h-.8zM108.6 72.3h.8v.8h-.8zM117.7 68.1h.8v.8h-.8zM105.1 70.1h.8v.8h-.8zM107.1 71.3h.8v.8h-.8zM109.1 70.9h.8v.8h-.8zM98.4 72.1h.8v.8h-.8zM102.8 71.0h.8v.8h-.8zM104.6 72.4h.8v.8h-.8z"/>
<path fill="#000" fill-opacity="0.5" d="M108.9 68.3h.8v.8h-.8zM102.1 71.6h.8v.8h-.8zM111.4 70.1h.8v.8h-.8zM104.3 73.3h.8v.8h-.8zM103.6 73.5h.8v.8h-.8zM116.0 73.5h.8v.8h-.8zM109.0 76.2h.8v.8h-.8zM105.9 75.5h.8v.8h-.8zM109.2 72.0h.8v.8h-.8zM110.8 74.4h.8v.8h-.8zM96.2 76.0h.8v.8h-.8zM101.8 75.0h.8v.8h-.8zM105.1 74.6h.8v.8h-.8zM96.3 75.2h.8v.8h-.8zM104.2 69.6h.8v.8h-.8zM98.1 71.1h.8v.8h-.8zM102.2 67.9h.8v.8h-.8zM111.1 74.2h.8v.8h-.8zM100.9 74.3h.8v.8h-.8zM100.5 71.7h.8v.8h-.8zM112.7 73.6h.8v.8h-.8zM106.4 73.0h.8v.8h-.8zM101.2 73.2h.8v.8h-.8zM103.6 74.5h.8v.8h-.8zM107.0 75.1h.8v.8h-.8zM100.4 76.4h.8v.8h-.8zM112.5 74.9h.8v.8h-.8zM110.7 72.1h.8v.8h-.8zM108.6 72.7h.8v.8h-.8zM103.1 67.8h.8v.8h-.8zM104.3 68.2h.8v.8h-.8zM105.2 73.2h.8v.8h-.8zM107.3 68.8h.8v.8h-.8zM104.3 66.1h.8v.8h-.8zM104.9 70.6h.8v.8h-.8zM102.9 72.9h.8v.8h-.8zM107.8 78.2h.8v.8h-.8zM106.2 77.7h.8v.8h-.8zM112.6 72.6h.8v.8h-.8zM102.1 74.5h.8v.8h-.8zM97.2 76.9h.8v.8h-.8zM105.2 69.2h.8v.8h-.8zM103.0 70.9h.8v.8h-.8zM102.8 73.0h.8v.8h-.8zM100.4 74.1h.8v.8h-.8zM104.7 74.4h.8v.8h-.8zM105.0 72.6h.8v.8h-.8zM111.8 71.2h.8v.8h-.8zM107.5 73.9h.8v.8h-.8zM103.5 75.1h.8v.8h-.8z"/>
<path fill="#000" fill-opacity="0.5" d="M104.3 75.0h.8v.8h-.8zM109.8 72.7h.8v.8h-.8zM110.8 69.6h.8v.8h-.8zM107.7 72.6h.8v.8h-.8zM113.4 66.4h.8v.8h-.8zM102.6 72.4h.8v.8h-.8zM97.4 71.8h.8v.8h-.8zM104.4 73.1h.8v.8h-.8zM105.7 74.3h.8v.8h-.8zM111.7 70.4h.8v.8h-.8zM104.7 71.2h.8v.8h-.8zM105.6 72.9h.8v.8h-.8zM105.5 75.8h.8v.8h-.8zM99.6 72.6h.8v.8h-.8zM102.6 75.2h.8v.8h-.8zM109.3 71.2h.8v.8h-.8zM108.4 71.9h.8v.8h-.8zM107.1 67.6h.8v.8h-.8zM113.6 72.3h.8v.8h-.8zM109.1 72.8h.8v.8h-.8zM104.8 73.9h.8v.8h-.8zM103.3 70.3h.8v.8h-.8zM95.4 70.8h.8v.8h-.8zM105.3 70.6h.8v.8h-.8zM107.1 72.1h.8v.8h-.8zM103.4 69.3h.8v.8h-.8zM109.7 70.0h.8v.8h-.8zM105.5 78.8h.8v.8h-.8zM108.9 73.9h.8v.8h-.8zM102.0 74.0h.8v.8h-.8zM108.6 74.8h.8v.8h-.8zM108.0 74.3h.8v.8h-.8zM99.5 72.5h.8v.8h-.8zM100.7 72.7h.8v.8h-.8zM104.5 72.4h.8v.8h-.8zM107.5 71.6h.8v.8h-.8zM106.6 75.7h.8v.8h-.8zM104.1 72.6h.8v.8h-.8zM106.3 71.6h.8v.8h-.8zM104.9 73.3h.8v.8h-.8zM111.2 69.7h.8v.8h-.8zM104.8 73.3h.8v.8h-.8zM100.9 71.8h.8v.8h-.8zM105.8 73.6h.8v.8h-.8zM102.2 74.1h.8v.8h-.8zM101.2 74.1h.8v.8h-.8zM97.1 76.1h.8v.8h-.8zM100.5 69.3h.8v.8h-.8zM100.5 69.8h.8v.8h-.8zM111.4 71.7h.8v.8h-.8z"/>
<path fill="#000" fill-opacity="0.5" d="M99.2 76.5h.8v.8h-.8zM101.1 74.9h.8v.8h-.8zM101.6 74.1h.8v.8h-.8zM108.5 74.0h.8v.8h-.8zM100.0 73.2h.8v.8h-.8zM104.1 72.5h.8v.8h-.8zM103.6 74.1h.8v.8h-.8zM108.7 72.9h.8v.8h-.8zM106.1 74.1h.8v.8h-.8zM105.1 69.9h.8v.8h-.8zM106.9 73.6h.8v.8h-.8zM111.5 72.0h.8v.8h-.8zM104.8 75.1h.8v.8h-.8zM104.2 72.5h.8v.8h-.8zM97.7 71.2h.8v.8h-.8zM101.0 70.8h.8v.8h-.8zM95.1 70.5h.8v.8h-.8zM109.1 75.7h.8v.8h-.8zM107.6 74.8h.8v.8h-.8zM101.3 70.6h.8v.8h-.8zM96.4 75.1h.8v.8h-.8zM114.6 75.1h.8v.8h-.8zM104.8 73.9h.8v.8h-.8zM102.3 72.6h.8v.8h-.8zM107.1 70.3h.8v.8h-.8zM101.7 73.9h.8v.8h-.8zM104.4 74.4h.8v.8h-.8zM103.6 74.7h.8v.8h-.8zM106.0 72.7h.8v.8h-.8zM107.7 72.5h.8v.8h-.8zM96.6 72.5h.8v.8h-.8zM111.9 75.4h.8v.8h-.8zM104.2 71.9h.8v.8h-.8zM98.3 73.1h.8v.8h-.8zM108.4 73.3h.8v.8h-.8zM115.6 71.8h.8v.8h-.8zM108.6 74.9h.8v.8h-.8zM110.3 72.7h.8v.8h-.8zM111.5 70.9h.8v.8h-.8zM112.0 75.3h.8v.8h-.8zM98.3 68.7h.8v.8h-.8zM107.2 72.0h.8v.8h-.8zM106.4 73.8h.8v.8h-.8zM104.0 73.5h.8v.8h-.8zM108.5 73.3h.8v.8h-.8zM113.5 71.3h.8v.8h-.8zM109.1 68.4h.8v.8h-.8zM99.6 73.4h.8v.8h-.8zM106.4 73.2h.8v.8h-.8zM108.9 70.8h.8v.8h-.8z"/>
<path fill="#000" fill-opacity="0.5" d="M107.6 72.2h.8v.8h-.8zM111.7 71.5h.8v.8h-.8zM110.2 74.7h.8v.8h-.8zM114.1 73.4h.8v.8h-.8zM106.9 73.2h.8v.8h-.8zM92.8 71.4h.8v.8h-.8zM110.0 66.2h.8v.8h-.8zM104.7 76.3h.8v.8h-.8zM98.2 69.0h.8v.8h-.8zM108.5 76.4h.8v.8h-.8zM111.8 70.2h.8v.8h-.8zM94.8 71.7h.8v.8h-.8zM111.8 76.5h.8v.8h-.8zM102.4 73.2h.8v.8h-.8zM109.6 74.5h.8v.8h-.8zM98.2 72.3h.8v.8h-.8zM106.4 71.5h.8v.8h-.8zM103.8 71.5h.8v.8h-.8zM101.0 72.4h.8v.8h-.8zM117.1 75.3h.8v.8h-.8zM106.6 70.9h.8v.8h-.8zM99.7 69.4h.8v.8h-.8zM101.8 72.3h.8v.8h-.8zM104.6 73.0h.8v.8h-.8zM96.6 72.7h.8v.8h-.8zM107.3 73.0h.8v.8h-.8zM103.8 75.2h.8v.8h-.8zM109.5 72.6h.8v.8h-.8zM104.0 74.2h.8v.8h-.8zM104.1 69.2h.8v.8h-.8zM107.9 68.4h.8v.8h-.8zM99.2 71.4h.8v.8h-.8zM104.8 70.8h.8v.8h-.8zM105.8 69.3h.8v.8h-.8zM101.9 69.4h.8v.8h-.8zM110.1 72.9h.8v.8h-.8zM107.4 72.2h.8v.8h-.8zM101.5 73.2h.8v.8h-.8zM108.1 71.5h.8v.8h-.8zM102.8 78.1h.8v.8h-.8zM110.4 71.5h.8v.8h-.8zM101.0 73.0h.8v.8h-.8zM107.7 77.6h.8v.8h-.8zM105.3 74.5h.8v.8h-.8zM107.4 72.4h.8v.8h-.8zM105.8 72.2h.8v.8h-.8zM108.5 72.3h.8v.8h-.8zM112.7 73.6h.8v.8h-.8zM99.2 72.1h.8v.8h-.8zM105.4 74.4h.8v.8h-.8z"/>
<path fill="#000" fill-opacity="0.5" d="M106.6 74.2h.8v.8h-.8zM98.9 72.3h.8v.8h-.8zM106.7 72.9h.8v.8h-.8zM103.2 71.7h.8v.8h-.8zM103.2 74.2h.8v.8h-.8zM109.6 69.8h.8v.8h-.8zM110.0 69.1h.8v.8h-.8zM109.8 71.9h.8v.8h-.8zM107.9 70.3h.8v.8h-.8zM101.1 76.3h.8v.8h-.8zM110.2 76.2h.8v.8h-.8zM96.8 74.6h.8v.8h-.8zM102.1 74.7h.8v.8h-.8zM113.2 72.7h.8v.8h-.8zM105.1 74.5h.8v.8h-.8zM99.8 73.5h.8v.8h-.8zM108.6 74.4h.8v.8h-.8zM113.8 68.4h.8v.8h-.8zM106.4 74.6h.8v.8h-.8zM108.0 66.4h.8v.8h-.8zM111.1 76.9h.8v.8h-.8zM112.8 75.0h.8v.8h-.8zM107.2 73.5h.8v.8h-.8zM105.1 73.0h.8v.8h-.8zM100.9 74.4h.8v.8h-.8zM111.8 74.3h.8v.8h-.8zM107.8 74.8h.8v.8h-.8zM99.8 73.1h.8v.8h-.8zM100.4 71.1h.8v.8h-.8zM113.3 73.8h.8v.8h-.8zM96.9 70.0h.8v.8h-.8zM100.3 70.0h.8v.8h-.8zM108.3 73.5h.8v.8h-.8zM104.0 71.8h.8v.8h-.8zM103.4 70.8h.8v.8h-.8zM110.1 66.9h.8v.8h-.8zM107.4 70.0h.8v.8h-.8zM107.7 74.3h.8v.8h-.8zM102.0 74.3h.8v.8h-.8zM105.1 74.5h.8v.8h-.8zM104.8 71.9h.8v.8h-.8zM102.9 76.4h.8v.8h-.8zM101.9 72.6h.8v.8h-.8zM96.6 70.5h.8v.8h-.8zM98.8 72.5h.8v.8h-.8zM112.0 73.4h.8v.8h-.8zM107.1 73.5h.8v.8h-.8zM106.2 78.0h.8v.8h-.8zM102.7 73.7h.8v.8h-.8zM111.9 71.7h.8v.8h-.8z"/>
<path d="M95.8 53.0 L105.5 50.7 L113.5 51.6 L117.6 58.4 L116.2 65.1 L112.9 69.8 L95.8 71.8 Z" fill="#888" fill-opacity="0.6"/>
<defs><radialGradient id="rg2"><stop offset="0" stop-color="#7c7c7c" stop-opacity="1"/><stop offset="0.3" stop-color="#6c6c6c" stop-opacity="1"/><stop offset="0.58" stop-color="#383838" stop-opacity="1"/><stop offset="0.76" stop-color="#141414" stop-opacity="1"/><stop offset="0.94" stop-color="#111" stop-opacity="1"/><stop offset="1" stop-color="#444" stop-opacity="0"/></radialGradient></defs>
<ellipse cx="105.40" cy="62.00" rx="10.30" ry="10.60" fill="url(#rg2)" transform="rotate(0 105.40 62.00)"/>
<path d="M119.2 74.6 C120.4 71.8, 124 68.6, 128 68.4 C132.5 68.1, 137.0 70, 137.1 72.6 C137.2 75.3, 135 75.9, 128 75.9 C122 75.9, 119.2 75.6, 119.2 74.6 Z" fill="#505050" stroke="#000" stroke-width="1.0"/>
<defs><radialGradient id="rg3"><stop offset="0" stop-color="#fff" stop-opacity="1"/><stop offset="0.35" stop-color="#ddd" stop-opacity="1"/><stop offset="0.7" stop-color="#777" stop-opacity="0.8"/><stop offset="1" stop-color="#444" stop-opacity="0"/></radialGradient></defs>
<ellipse cx="130.40" cy="73.40" rx="5.80" ry="2.80" fill="url(#rg3)" transform="rotate(0 130.40 73.40)"/>
<path d="M95.8 53.0 L105.5 50.7 L113.5 51.6 L117.6 58.4 L116.2 65.1 L112.9 69.8 L95.8 71.8 Z" fill="none" stroke="#fff" stroke-width="2.3" stroke-opacity="0.8"/>
<path d="M117.3 74.5 C118.5 71, 123 67.2, 128 66.8 C133.5 66.4, 138.6 69, 138.8 72.5 C139 76.5, 136 77.3, 128 77.3 C121 77.3, 117.3 76.8, 117.3 74.5 Z" fill="none" stroke="#fff" stroke-width="2.3" stroke-opacity="0.8"/>
<path d="M95.8 53.0 L105.5 50.7 L113.5 51.6 L117.6 58.4 L116.2 65.1 L112.9 69.8 L95.8 71.8 Z" fill="none" stroke="#000" stroke-width="1.1"/>
<path d="M117.3 74.5 C118.5 71, 123 67.2, 128 66.8 C133.5 66.4, 138.6 69, 138.8 72.5 C139 76.5, 136 77.3, 128 77.3 C121 77.3, 117.3 76.8, 117.3 74.5 Z" fill="none" stroke="#000" stroke-width="1.1"/>
<text x="98.00" y="38.90" font-size="6.0" text-anchor="start" font-weight="bold" fill="#000" stroke="#000" stroke-width="0.25" >B Cells</text>
<text x="107.20" y="46.60" font-size="6.0" text-anchor="middle" font-weight="bold" fill="#000" stroke="#000" stroke-width="0.25" >55.5</text>
<text x="135.30" y="64.00" font-size="6.0" text-anchor="start" font-weight="bold" fill="#000" stroke="#000" stroke-width="0.25" >T Cells</text>
<text x="147.50" y="72.90" font-size="6.0" text-anchor="middle" font-weight="bold" fill="#000" stroke="#000" stroke-width="0.25" >40.2</text>
<defs><radialGradient id="rg4"><stop offset="0" stop-color="#333" stop-opacity="0.6"/><stop offset="0.6" stop-color="#555" stop-opacity="0.35"/><stop offset="1" stop-color="#888" stop-opacity="0"/></radialGradient></defs>
<ellipse cx="190.50" cy="73.00" rx="10.50" ry="4.80" fill="url(#rg4)" transform="rotate(0 190.50 73.00)"/>
<path fill="#000" fill-opacity="0.55" d="M189.8 73.1h.8v.8h-.8zM188.8 71.1h.8v.8h-.8zM186.9 78.3h.8v.8h-.8zM191.1 73.2h.8v.8h-.8zM190.1 72.0h.8v.8h-.8zM193.2 72.2h.8v.8h-.8zM191.0 72.2h.8v.8h-.8zM188.1 74.2h.8v.8h-.8zM191.1 72.4h.8v.8h-.8zM192.6 68.9h.8v.8h-.8zM190.1 73.5h.8v.8h-.8zM188.8 70.1h.8v.8h-.8zM185.9 71.7h.8v.8h-.8zM186.7 72.5h.8v.8h-.8zM192.3 73.7h.8v.8h-.8zM184.7 70.7h.8v.8h-.8zM188.8 71.2h.8v.8h-.8zM193.9 75.8h.8v.8h-.8zM188.0 73.8h.8v.8h-.8zM196.1 72.9h.8v.8h-.8zM194.4 74.4h.8v.8h-.8zM195.5 70.7h.8v.8h-.8zM185.5 72.3h.8v.8h-.8zM185.3 70.8h.8v.8h-.8zM186.6 72.7h.8v.8h-.8zM188.7 72.6h.8v.8h-.8zM199.9 66.3h.8v.8h-.8zM194.1 73.5h.8v.8h-.8zM186.0 72.5h.8v.8h-.8zM187.2 70.9h.8v.8h-.8zM196.3 72.4h.8v.8h-.8zM184.1 70.8h.8v.8h-.8zM189.5 72.2h.8v.8h-.8zM197.5 76.8h.8v.8h-.8zM186.0 71.8h.8v.8h-.8zM197.8 74.1h.8v.8h-.8zM188.6 74.5h.8v.8h-.8zM190.4 73.7h.8v.8h-.8zM191.5 69.8h.8v.8h-.8zM190.0 70.5h.8v.8h-.8zM187.1 68.1h.8v.8h-.8zM198.6 76.0h.8v.8h-.8zM184.4 76.0h.8v.8h-.8zM195.1 69.0h.8v.8h-.8zM193.7 72.8h.8v.8h-.8zM182.6 74.2h.8v.8h-.8zM191.1 66.0h.8v.8h-.8zM189.4 74.2h.8v.8h-.8zM186.2 74.0h.8v.8h-.8zM190.6 75.3h.8v.8h-.8zM192.6 74.9h.8v.8h-.8zM191.7 73.8h.8v.8h-.8zM193.8 74.0h.8v.8h-.8zM183.4 75.1h.8v.8h-.8zM183.1 70.8h.8v.8h-.8zM187.5 75.7h.8v.8h-.8zM185.2 67.7h.8v.8h-.8zM195.4 71.5h.8v.8h-.8zM191.9 76.1h.8v.8h-.8zM183.7 74.4h.8v.8h-.8zM195.7 75.6h.8v.8h-.8zM186.2 73.0h.8v.8h-.8zM197.7 72.7h.8v.8h-.8zM198.4 74.2h.8v.8h-.8z"/>
<path fill="#000" fill-opacity="0.55" d="M183.0 72.6h.8v.8h-.8zM192.4 68.8h.8v.8h-.8zM187.1 72.6h.8v.8h-.8zM194.5 73.5h.8v.8h-.8zM187.7 70.6h.8v.8h-.8zM184.7 76.1h.8v.8h-.8zM182.8 74.9h.8v.8h-.8zM196.4 71.7h.8v.8h-.8zM190.6 75.3h.8v.8h-.8zM193.7 68.9h.8v.8h-.8zM196.0 73.2h.8v.8h-.8zM190.6 75.1h.8v.8h-.8zM189.9 71.0h.8v.8h-.8zM192.6 69.3h.8v.8h-.8zM196.3 72.1h.8v.8h-.8zM191.0 74.9h.8v.8h-.8zM188.9 74.1h.8v.8h-.8zM186.8 73.7h.8v.8h-.8zM189.7 71.0h.8v.8h-.8zM183.5 68.5h.8v.8h-.8zM194.3 66.7h.8v.8h-.8zM191.4 71.3h.8v.8h-.8zM192.6 73.9h.8v.8h-.8zM187.3 71.1h.8v.8h-.8zM190.8 68.4h.8v.8h-.8zM188.8 71.9h.8v.8h-.8zM189.1 68.2h.8v.8h-.8zM190.2 71.2h.8v.8h-.8zM193.0 73.0h.8v.8h-.8zM194.3 70.4h.8v.8h-.8zM185.0 75.7h.8v.8h-.8zM190.0 72.7h.8v.8h-.8zM194.5 72.6h.8v.8h-.8zM190.2 74.0h.8v.8h-.8zM187.0 70.5h.8v.8h-.8zM196.1 72.8h.8v.8h-.8zM199.6 74.1h.8v.8h-.8zM190.2 73.3h.8v.8h-.8zM189.5 76.0h.8v.8h-.8zM193.2 71.1h.8v.8h-.8zM183.1 74.1h.8v.8h-.8zM188.6 73.7h.8v.8h-.8zM194.3 68.0h.8v.8h-.8zM184.2 69.3h.8v.8h-.8zM188.6 76.3h.8v.8h-.8zM185.9 75.7h.8v.8h-.8zM195.6 72.7h.8v.8h-.8zM188.4 69.9h.8v.8h-.8zM191.7 72.0h.8v.8h-.8zM182.3 71.8h.8v.8h-.8zM191.0 69.5h.8v.8h-.8zM190.2 74.7h.8v.8h-.8zM198.5 72.2h.8v.8h-.8zM188.2 70.0h.8v.8h-.8zM187.1 73.4h.8v.8h-.8zM194.1 74.0h.8v.8h-.8zM192.9 75.8h.8v.8h-.8zM195.1 74.5h.8v.8h-.8zM183.8 75.1h.8v.8h-.8zM187.9 74.1h.8v.8h-.8zM192.6 69.4h.8v.8h-.8zM187.8 72.2h.8v.8h-.8zM189.4 74.4h.8v.8h-.8zM197.0 70.3h.8v.8h-.8z"/>
<path fill="#000" fill-opacity="0.55" d="M186.9 73.5h.8v.8h-.8zM186.9 72.6h.8v.8h-.8zM190.9 75.1h.8v.8h-.8zM198.0 69.6h.8v.8h-.8zM187.1 74.1h.8v.8h-.8zM192.3 70.3h.8v.8h-.8zM190.2 71.9h.8v.8h-.8zM189.5 76.4h.8v.8h-.8zM201.4 71.0h.8v.8h-.8zM186.8 71.3h.8v.8h-.8zM184.0 78.6h.8v.8h-.8zM185.0 70.1h.8v.8h-.8zM190.2 74.4h.8v.8h-.8zM192.3 72.5h.8v.8h-.8zM194.2 71.6h.8v.8h-.8zM192.1 73.9h.8v.8h-.8zM191.8 69.7h.8v.8h-.8zM186.0 78.2h.8v.8h-.8zM200.3 72.8h.8v.8h-.8zM195.7 74.4h.8v.8h-.8zM190.9 73.8h.8v.8h-.8zM190.8 70.9h.8v.8h-.8zM188.5 67.5h.8v.8h-.8zM184.6 74.1h.8v.8h-.8zM187.2 73.0h.8v.8h-.8zM189.3 68.5h.8v.8h-.8zM194.7 79.0h.8v.8h-.8zM193.1 71.4h.8v.8h-.8zM196.0 77.4h.8v.8h-.8zM181.5 70.2h.8v.8h-.8zM187.3 73.1h.8v.8h-.8zM192.7 72.9h.8v.8h-.8zM193.6 74.0h.8v.8h-.8zM195.7 74.5h.8v.8h-.8zM197.2 71.1h.8v.8h-.8zM192.5 72.1h.8v.8h-.8zM191.6 68.9h.8v.8h-.8zM186.1 76.0h.8v.8h-.8zM193.3 72.2h.8v.8h-.8zM190.8 77.8h.8v.8h-.8zM186.4 71.7h.8v.8h-.8zM191.5 72.7h.8v.8h-.8zM198.8 74.5h.8v.8h-.8zM187.5 71.1h.8v.8h-.8zM187.3 74.2h.8v.8h-.8zM186.9 72.2h.8v.8h-.8zM181.7 72.8h.8v.8h-.8zM195.3 74.8h.8v.8h-.8zM190.9 72.3h.8v.8h-.8zM190.2 69.1h.8v.8h-.8zM193.8 74.5h.8v.8h-.8zM187.3 72.4h.8v.8h-.8zM189.6 70.1h.8v.8h-.8zM186.6 70.6h.8v.8h-.8zM188.4 67.7h.8v.8h-.8zM191.6 68.9h.8v.8h-.8zM190.9 70.3h.8v.8h-.8zM182.8 71.6h.8v.8h-.8zM199.9 77.4h.8v.8h-.8zM191.3 76.5h.8v.8h-.8zM184.1 73.2h.8v.8h-.8zM192.3 70.7h.8v.8h-.8zM188.4 75.2h.8v.8h-.8z"/>
<path fill="#000" fill-opacity="0.55" d="M184.8 67.9h.8v.8h-.8zM194.1 72.2h.8v.8h-.8zM184.3 67.6h.8v.8h-.8zM188.3 64.3h.8v.8h-.8zM190.3 72.8h.8v.8h-.8zM195.2 73.4h.8v.8h-.8zM191.8 72.8h.8v.8h-.8zM188.6 74.4h.8v.8h-.8zM187.4 73.8h.8v.8h-.8zM188.2 74.7h.8v.8h-.8zM200.5 67.8h.8v.8h-.8zM190.0 68.0h.8v.8h-.8zM195.7 76.7h.8v.8h-.8zM181.5 73.3h.8v.8h-.8zM193.5 70.6h.8v.8h-.8zM189.9 75.8h.8v.8h-.8zM192.1 73.0h.8v.8h-.8zM187.8 75.5h.8v.8h-.8zM182.3 74.7h.8v.8h-.8zM186.2 74.7h.8v.8h-.8zM202.2 70.3h.8v.8h-.8zM182.6 75.2h.8v.8h-.8zM196.0 73.4h.8v.8h-.8zM183.9 74.2h.8v.8h-.8zM187.9 72.8h.8v.8h-.8zM188.5 72.5h.8v.8h-.8zM178.3 72.9h.8v.8h-.8zM191.2 71.4h.8v.8h-.8zM185.8 68.0h.8v.8h-.8zM201.9 77.2h.8v.8h-.8zM190.0 71.8h.8v.8h-.8zM186.4 70.9h.8v.8h-.8zM191.1 75.7h.8v.8h-.8zM195.8 69.6h.8v.8h-.8zM190.2 77.8h.8v.8h-.8zM192.1 75.7h.8v.8h-.8zM199.2 72.8h.8v.8h-.8zM187.0 68.2h.8v.8h-.8zM190.7 72.3h.8v.8h-.8zM185.2 69.9h.8v.8h-.8zM191.7 75.9h.8v.8h-.8zM187.7 69.4h.8v.8h-.8zM199.9 69.6h.8v.8h-.8zM191.8 73.2h.8v.8h-.8zM195.6 72.0h.8v.8h-.8zM191.4 71.8h.8v.8h-.8zM192.3 75.2h.8v.8h-.8zM197.4 74.7h.8v.8h-.8zM191.1 74.4h.8v.8h-.8zM187.7 74.3h.8v.8h-.8zM192.7 71.4h.8v.8h-.8zM188.7 74.0h.8v.8h-.8zM192.3 75.8h.8v.8h-.8zM194.1 75.1h.8v.8h-.8zM191.2 68.9h.8v.8h-.8zM187.6 71.3h.8v.8h-.8zM177.3 73.0h.8v.8h-.8zM183.4 72.3h.8v.8h-.8zM189.1 73.2h.8v.8h-.8zM195.5 71.5h.8v.8h-.8zM191.9 78.7h.8v.8h-.8zM192.3 71.1h.8v.8h-.8zM184.0 74.1h.8v.8h-.8z"/>
<path fill="#000" fill-opacity="0.55" d="M190.3 73.2h.8v.8h-.8zM191.6 71.0h.8v.8h-.8zM193.0 74.5h.8v.8h-.8zM193.9 71.7h.8v.8h-.8zM189.3 74.8h.8v.8h-.8zM182.7 76.5h.8v.8h-.8zM193.3 71.7h.8v.8h-.8zM198.0 72.7h.8v.8h-.8zM185.1 73.8h.8v.8h-.8zM190.5 71.6h.8v.8h-.8zM189.9 73.6h.8v.8h-.8zM188.9 71.6h.8v.8h-.8zM186.4 71.6h.8v.8h-.8zM195.7 68.1h.8v.8h-.8zM189.6 76.8h.8v.8h-.8zM188.3 71.3h.8v.8h-.8zM185.4 74.5h.8v.8h-.8zM187.0 74.5h.8v.8h-.8zM182.0 75.4h.8v.8h-.8zM192.4 74.2h.8v.8h-.8zM188.5 72.7h.8v.8h-.8zM191.5 71.3h.8v.8h-.8zM190.2 71.9h.8v.8h-.8zM185.3 73.4h.8v.8h-.8zM193.6 74.4h.8v.8h-.8zM185.5 72.5h.8v.8h-.8zM192.6 71.9h.8v.8h-.8zM179.5 72.5h.8v.8h-.8zM194.1 76.3h.8v.8h-.8zM186.9 70.9h.8v.8h-.8zM191.6 70.9h.8v.8h-.8zM180.1 72.2h.8v.8h-.8zM187.4 71.7h.8v.8h-.8zM187.1 73.7h.8v.8h-.8zM195.7 73.4h.8v.8h-.8zM183.3 72.5h.8v.8h-.8zM189.9 69.9h.8v.8h-.8zM189.2 70.8h.8v.8h-.8zM189.9 74.4h.8v.8h-.8zM183.4 66.9h.8v.8h-.8zM199.3 75.1h.8v.8h-.8zM187.6 68.9h.8v.8h-.8zM192.6 73.6h.8v.8h-.8zM190.2 71.0h.8v.8h-.8zM194.0 69.9h.8v.8h-.8zM191.3 71.3h.8v.8h-.8zM185.0 76.3h.8v.8h-.8zM187.4 68.6h.8v.8h-.8zM194.6 71.0h.8v.8h-.8zM195.2 76.4h.8v.8h-.8zM191.5 74.5h.8v.8h-.8zM197.6 72.0h.8v.8h-.8zM192.6 73.6h.8v.8h-.8zM183.7 74.8h.8v.8h-.8zM194.4 69.7h.8v.8h-.8zM185.5 73.8h.8v.8h-.8zM195.8 73.3h.8v.8h-.8zM192.8 70.0h.8v.8h-.8zM189.4 75.0h.8v.8h-.8zM191.8 76.8h.8v.8h-.8zM186.0 75.3h.8v.8h-.8zM187.5 73.9h.8v.8h-.8zM187.7 70.7h.8v.8h-.8z"/>
<path fill="#000" fill-opacity="0.55" d="M187.5 74.7h.8v.8h-.8zM191.5 76.6h.8v.8h-.8zM193.0 78.9h.8v.8h-.8zM194.5 77.8h.8v.8h-.8zM192.4 72.3h.8v.8h-.8zM191.7 74.7h.8v.8h-.8zM189.9 67.5h.8v.8h-.8zM195.9 70.9h.8v.8h-.8zM192.8 71.9h.8v.8h-.8zM192.7 76.4h.8v.8h-.8zM194.7 74.2h.8v.8h-.8zM192.2 70.9h.8v.8h-.8zM178.4 77.2h.8v.8h-.8zM193.9 73.1h.8v.8h-.8zM192.2 72.2h.8v.8h-.8zM194.3 72.8h.8v.8h-.8zM188.8 71.8h.8v.8h-.8zM200.6 66.5h.8v.8h-.8zM187.4 72.9h.8v.8h-.8zM179.4 71.9h.8v.8h-.8zM194.3 71.5h.8v.8h-.8zM191.1 75.0h.8v.8h-.8zM191.3 71.6h.8v.8h-.8zM196.6 73.1h.8v.8h-.8zM194.4 74.0h.8v.8h-.8zM192.5 72.2h.8v.8h-.8zM192.7 67.2h.8v.8h-.8zM191.1 74.4h.8v.8h-.8zM194.5 74.6h.8v.8h-.8zM191.2 70.8h.8v.8h-.8zM181.4 67.3h.8v.8h-.8zM192.4 73.9h.8v.8h-.8zM186.3 70.7h.8v.8h-.8zM196.9 72.9h.8v.8h-.8zM187.2 73.6h.8v.8h-.8zM191.2 71.2h.8v.8h-.8zM189.8 70.0h.8v.8h-.8zM185.3 71.8h.8v.8h-.8zM189.7 66.8h.8v.8h-.8zM181.2 73.5h.8v.8h-.8zM190.8 73.0h.8v.8h-.8zM195.9 73.9h.8v.8h-.8zM191.1 73.0h.8v.8h-.8zM188.0 74.9h.8v.8h-.8zM194.9 73.1h.8v.8h-.8zM193.3 72.6h.8v.8h-.8zM189.3 78.3h.8v.8h-.8zM187.0 71.0h.8v.8h-.8zM183.0 76.0h.8v.8h-.8zM186.0 69.2h.8v.8h-.8zM187.5 68.2h.8v.8h-.8zM199.8 76.3h.8v.8h-.8zM189.2 73.0h.8v.8h-.8zM194.3 71.2h.8v.8h-.8zM186.8 70.6h.8v.8h-.8zM186.6 70.9h.8v.8h-.8zM194.5 76.1h.8v.8h-.8zM180.4 75.7h.8v.8h-.8zM195.0 72.8h.8v.8h-.8zM187.6 73.6h.8v.8h-.8zM193.7 68.6h.8v.8h-.8zM187.4 73.3h.8v.8h-.8zM198.5 70.6h.8v.8h-.8z"/>
<path d="M178.3 52.5 L196.8 50.2 L200.9 58.0 L198.6 65.4 L194.5 69.1 L178.3 68.2 Z" fill="#aaa" fill-opacity="0.45"/>
<defs><radialGradient id="rg5"><stop offset="0" stop-color="#2a2a2a" stop-opacity="0.7"/><stop offset="0.55" stop-color="#3a3a3a" stop-opacity="0.55"/><stop offset="0.85" stop-color="#555" stop-opacity="0.3"/><stop offset="1" stop-color="#666" stop-opacity="0"/></radialGradient></defs>
<ellipse cx="188.90" cy="60.00" rx="10.45" ry="9.90" fill="url(#rg5)" transform="rotate(0 188.90 60.00)"/>
<path fill="#000" fill-opacity="0.42" d="M194.2 66.1h.89v.89h-.89zM186.9 61.7h.89v.89h-.89zM190.8 66.1h.89v.89h-.89zM185.9 60.1h.89v.89h-.89zM185.0 62.9h.89v.89h-.89zM183.0 59.2h.89v.89h-.89zM189.7 64.2h.89v.89h-.89zM183.7 53.0h.89v.89h-.89zM192.3 60.7h.89v.89h-.89zM186.3 53.8h.89v.89h-.89zM185.9 56.0h.89v.89h-.89zM194.2 61.5h.89v.89h-.89zM193.8 58.9h.89v.89h-.89zM196.6 64.3h.89v.89h-.89zM188.2 57.7h.89v.89h-.89zM189.3 57.9h.89v.89h-.89zM193.7 65.9h.89v.89h-.89zM200.4 64.1h.89v.89h-.89zM183.3 64.3h.89v.89h-.89zM197.1 61.8h.89v.89h-.89zM180.4 56.9h.89v.89h-.89zM189.8 54.7h.89v.89h-.89zM189.6 62.3h.89v.89h-.89zM193.7 63.5h.89v.89h-.89zM185.1 58.1h.89v.89h-.89zM189.8 60.3h.89v.89h-.89zM188.2 65.4h.89v.89h-.89zM188.3 63.7h.89v.89h-.89zM188.8 48.9h.89v.89h-.89zM188.6 62.1h.89v.89h-.89zM191.8 63.3h.89v.89h-.89zM188.7 61.1h.89v.89h-.89zM191.2 64.1h.89v.89h-.89zM188.3 62.6h.89v.89h-.89zM189.3 59.4h.89v.89h-.89zM186.1 58.5h.89v.89h-.89zM182.8 55.0h.89v.89h-.89zM193.6 52.0h.89v.89h-.89zM184.1 63.9h.89v.89h-.89zM182.6 64.6h.89v.89h-.89zM189.4 61.5h.89v.89h-.89zM187.8 57.6h.89v.89h-.89zM180.5 54.7h.89v.89h-.89zM179.5 66.1h.89v.89h-.89zM193.9 61.4h.89v.89h-.89zM191.0 59.9h.89v.89h-.89zM186.8 56.3h.89v.89h-.89zM193.1 63.7h.89v.89h-.89zM187.6 62.8h.89v.89h-.89zM184.4 56.3h.89v.89h-.89zM183.3 57.7h.89v.89h-.89zM181.3 62.3h.89v.89h-.89zM190.9 54.7h.89v.89h-.89zM189.1 53.6h.89v.89h-.89zM187.8 55.9h.89v.89h-.89zM192.3 64.2h.89v.89h-.89zM189.9 59.7h.89v.89h-.89zM184.5 64.3h.89v.89h-.89zM193.8 58.4h.89v.89h-.89zM186.2 59.4h.89v.89h-.89zM189.6 62.2h.89v.89h-.89zM192.5 59.7h.89v.89h-.89zM184.1 57.5h.89v.89h-.89zM189.2 59.8h.89v.89h-.89zM184.0 60.9h.89v.89h-.89zM184.4 68.4h.89v.89h-.89zM184.9 68.1h.89v.89h-.89zM183.9 58.6h.89v.89h-.89zM186.2 56.0h.89v.89h-.89zM183.9 65.3h.89v.89h-.89zM193.6 56.0h.89v.89h-.89zM183.2 63.9h.89v.89h-.89zM184.9 63.6h.89v.89h-.89zM195.5 53.5h.89v.89h-.89zM191.0 56.1h.89v.89h-.89zM186.9 63.7h.89v.89h-.89zM188.3 59.7h.89v.89h-.89zM191.1 69.2h.89v.89h-.89zM195.1 56.6h.89v.89h-.89zM188.6 58.2h.89v.89h-.89zM185.8 61.1h.89v.89h-.89zM185.4 68.5h.89v.89h-.89zM189.4 51.1h.89v.89h-.89zM186.0 64.1h.89v.89h-.89zM192.7 62.9h.89v.89h-.89zM188.5 62.0h.89v.89h-.89zM192.2 53.1h.89v.89h-.89z"/>
<path fill="#000" fill-opacity="0.42" d="M187.9 59.0h.89v.89h-.89zM195.4 55.0h.89v.89h-.89zM180.8 58.1h.89v.89h-.89zM182.9 59.8h.89v.89h-.89zM190.3 59.1h.89v.89h-.89zM189.5 58.8h.89v.89h-.89zM183.1 62.2h.89v.89h-.89zM186.4 63.0h.89v.89h-.89zM191.5 59.7h.89v.89h-.89zM187.1 56.7h.89v.89h-.89zM192.1 52.5h.89v.89h-.89zM190.8 60.1h.89v.89h-.89zM186.6 60.6h.89v.89h-.89zM189.1 60.2h.89v.89h-.89zM183.3 54.4h.89v.89h-.89zM185.6 66.3h.89v.89h-.89zM184.0 64.5h.89v.89h-.89zM185.9 51.5h.89v.89h-.89zM180.3 53.8h.89v.89h-.89zM192.1 51.2h.89v.89h-.89zM190.9 66.7h.89v.89h-.89zM195.8 63.8h.89v.89h-.89zM191.6 65.9h.89v.89h-.89zM189.1 57.0h.89v.89h-.89zM189.4 54.9h.89v.89h-.89zM179.5 56.3h.89v.89h-.89zM180.9 50.8h.89v.89h-.89zM196.9 54.0h.89v.89h-.89zM186.7 56.2h.89v.89h-.89zM188.1 58.9h.89v.89h-.89zM197.4 65.5h.89v.89h-.89zM187.1 54.0h.89v.89h-.89zM184.2 68.4h.89v.89h-.89zM178.9 70.0h.89v.89h-.89zM190.0 55.7h.89v.89h-.89zM191.9 66.5h.89v.89h-.89zM190.8 54.0h.89v.89h-.89zM187.6 59.6h.89v.89h-.89zM194.2 59.7h.89v.89h-.89zM197.4 63.0h.89v.89h-.89zM188.4 67.9h.89v.89h-.89zM193.6 54.3h.89v.89h-.89zM192.2 64.2h.89v.89h-.89zM189.2 55.5h.89v.89h-.89zM199.2 56.8h.89v.89h-.89zM196.5 58.1h.89v.89h-.89zM178.0 56.9h.89v.89h-.89zM193.9 58.1h.89v.89h-.89zM193.5 62.5h.89v.89h-.89zM187.1 62.7h.89v.89h-.89zM185.4 72.6h.89v.89h-.89zM191.1 61.6h.89v.89h-.89zM187.9 52.2h.89v.89h-.89zM176.3 59.7h.89v.89h-.89zM183.8 63.2h.89v.89h-.89zM186.7 58.6h.89v.89h-.89zM183.3 57.5h.89v.89h-.89zM181.6 68.4h.89v.89h-.89zM182.3 61.9h.89v.89h-.89zM194.2 55.3h.89v.89h-.89zM184.0 55.1h.89v.89h-.89zM191.9 54.6h.89v.89h-.89zM190.5 61.4h.89v.89h-.89zM189.0 55.6h.89v.89h-.89zM197.9 62.7h.89v.89h-.89zM190.1 56.1h.89v.89h-.89zM180.1 60.3h.89v.89h-.89zM187.0 60.5h.89v.89h-.89zM192.6 65.4h.89v.89h-.89zM179.9 67.5h.89v.89h-.89zM186.0 62.1h.89v.89h-.89zM184.7 58.0h.89v.89h-.89zM187.9 61.1h.89v.89h-.89zM191.0 62.2h.89v.89h-.89zM186.4 57.5h.89v.89h-.89zM192.4 60.5h.89v.89h-.89zM192.6 52.8h.89v.89h-.89zM188.5 57.6h.89v.89h-.89zM187.8 51.1h.89v.89h-.89zM185.9 51.8h.89v.89h-.89zM187.5 61.8h.89v.89h-.89zM192.3 64.1h.89v.89h-.89zM191.4 62.0h.89v.89h-.89zM186.6 61.6h.89v.89h-.89zM185.6 60.7h.89v.89h-.89zM196.5 60.9h.89v.89h-.89zM187.1 62.1h.89v.89h-.89z"/>
<path fill="#000" fill-opacity="0.42" d="M200.1 60.4h.89v.89h-.89zM193.4 67.8h.89v.89h-.89zM179.3 63.1h.89v.89h-.89zM179.3 57.4h.89v.89h-.89zM184.1 54.7h.89v.89h-.89zM187.1 53.4h.89v.89h-.89zM190.3 56.2h.89v.89h-.89zM186.5 65.3h.89v.89h-.89zM194.2 56.6h.89v.89h-.89zM185.8 55.2h.89v.89h-.89zM185.1 58.2h.89v.89h-.89zM190.8 54.1h.89v.89h-.89zM186.4 57.1h.89v.89h-.89zM187.8 56.3h.89v.89h-.89zM177.8 62.1h.89v.89h-.89zM193.2 67.3h.89v.89h-.89zM185.1 56.2h.89v.89h-.89zM185.3 64.9h.89v.89h-.89zM189.8 56.1h.89v.89h-.89zM185.0 58.0h.89v.89h-.89zM191.6 58.2h.89v.89h-.89zM188.9 56.3h.89v.89h-.89zM184.5 64.0h.89v.89h-.89zM184.9 57.2h.89v.89h-.89zM196.1 57.0h.89v.89h-.89zM177.3 62.4h.89v.89h-.89zM186.2 55.6h.89v.89h-.89zM189.2 58.4h.89v.89h-.89zM181.7 55.4h.89v.89h-.89zM187.8 56.7h.89v.89h-.89zM192.1 54.3h.89v.89h-.89zM194.4 66.7h.89v.89h-.89zM198.4 67.8h.89v.89h-.89zM199.3 59.4h.89v.89h-.89zM188.6 59.8h.89v.89h-.89zM187.7 56.7h.89v.89h-.89zM189.0 61.1h.89v.89h-.89zM193.0 56.8h.89v.89h-.89zM183.1 61.4h.89v.89h-.89zM193.8 58.1h.89v.89h-.89zM190.6 59.9h.89v.89h-.89zM190.8 60.2h.89v.89h-.89zM188.4 56.9h.89v.89h-.89zM188.7 63.6h.89v.89h-.89zM188.5 64.3h.89v.89h-.89zM194.7 57.1h.89v.89h-.89zM185.8 57.2h.89v.89h-.89zM187.8 64.6h.89v.89h-.89zM191.9 54.3h.89v.89h-.89zM189.5 64.9h.89v.89h-.89zM186.2 67.0h.89v.89h-.89zM196.0 57.7h.89v.89h-.89zM188.8 54.5h.89v.89h-.89zM184.0 57.5h.89v.89h-.89zM185.3 62.2h.89v.89h-.89zM192.1 57.6h.89v.89h-.89zM195.6 55.8h.89v.89h-.89zM185.9 54.6h.89v.89h-.89zM192.8 59.5h.89v.89h-.89zM194.7 47.2h.89v.89h-.89zM179.3 71.0h.89v.89h-.89zM186.9 57.0h.89v.89h-.89zM188.6 57.4h.89v.89h-.89zM187.5 55.5h.89v.89h-.89zM178.0 53.9h.89v.89h-.89zM178.8 52.7h.89v.89h-.89zM188.6 62.3h.89v.89h-.89zM194.8 65.4h.89v.89h-.89zM191.6 61.5h.89v.89h-.89zM191.5 70.2h.89v.89h-.89zM185.9 57.6h.89v.89h-.89zM186.9 60.8h.89v.89h-.89zM187.2 62.5h.89v.89h-.89zM195.5 60.8h.89v.89h-.89zM196.3 66.1h.89v.89h-.89zM186.5 57.4h.89v.89h-.89zM188.1 60.9h.89v.89h-.89zM186.8 55.3h.89v.89h-.89zM184.8 56.0h.89v.89h-.89zM188.0 65.2h.89v.89h-.89zM186.6 53.1h.89v.89h-.89zM184.1 66.7h.89v.89h-.89zM186.4 61.9h.89v.89h-.89zM189.1 59.8h.89v.89h-.89zM187.9 59.4h.89v.89h-.89zM190.6 56.4h.89v.89h-.89zM190.4 56.0h.89v.89h-.89z"/>
<path fill="#000" fill-opacity="0.42" d="M186.5 56.7h.89v.89h-.89zM182.0 54.6h.89v.89h-.89zM185.0 58.4h.89v.89h-.89zM197.6 59.9h.89v.89h-.89zM194.9 60.7h.89v.89h-.89zM183.5 67.2h.89v.89h-.89zM190.7 55.5h.89v.89h-.89zM182.9 53.7h.89v.89h-.89zM183.9 52.9h.89v.89h-.89zM188.6 57.5h.89v.89h-.89zM186.9 64.0h.89v.89h-.89zM193.0 57.2h.89v.89h-.89zM188.9 60.2h.89v.89h-.89zM188.1 56.7h.89v.89h-.89zM188.1 71.2h.89v.89h-.89zM186.8 59.7h.89v.89h-.89zM182.2 64.8h.89v.89h-.89zM197.3 58.4h.89v.89h-.89zM192.2 59.6h.89v.89h-.89zM193.6 53.0h.89v.89h-.89zM182.9 55.3h.89v.89h-.89zM179.6 55.0h.89v.89h-.89zM183.8 62.7h.89v.89h-.89zM187.5 59.4h.89v.89h-.89zM193.6 49.0h.89v.89h-.89zM189.9 58.7h.89v.89h-.89zM185.8 60.4h.89v.89h-.89zM190.1 52.7h.89v.89h-.89zM191.8 62.0h.89v.89h-.89zM199.1 61.9h.89v.89h-.89zM184.3 60.8h.89v.89h-.89zM188.0 64.2h.89v.89h-.89zM197.9 62.9h.89v.89h-.89zM191.7 61.7h.89v.89h-.89zM191.3 54.8h.89v.89h-.89zM190.2 60.5h.89v.89h-.89zM187.9 55.0h.89v.89h-.89zM191.1 57.0h.89v.89h-.89zM193.9 64.5h.89v.89h-.89zM182.6 59.1h.89v.89h-.89zM187.5 56.7h.89v.89h-.89zM182.9 59.8h.89v.89h-.89zM193.6 50.1h.89v.89h-.89zM176.1 64.6h.89v.89h-.89zM185.4 56.4h.89v.89h-.89zM192.0 50.9h.89v.89h-.89zM183.4 58.9h.89v.89h-.89zM185.8 59.0h.89v.89h-.89zM182.2 56.8h.89v.89h-.89zM183.8 63.6h.89v.89h-.89zM189.4 61.0h.89v.89h-.89zM190.9 62.9h.89v.89h-.89zM190.1 52.7h.89v.89h-.89zM190.5 50.6h.89v.89h-.89zM190.6 51.0h.89v.89h-.89zM193.5 52.4h.89v.89h-.89zM172.0 55.7h.89v.89h-.89zM192.2 62.1h.89v.89h-.89zM179.9 58.0h.89v.89h-.89zM192.2 56.5h.89v.89h-.89zM187.5 58.6h.89v.89h-.89zM182.4 59.6h.89v.89h-.89zM190.8 61.2h.89v.89h-.89zM190.3 62.7h.89v.89h-.89zM182.3 61.9h.89v.89h-.89zM176.8 59.9h.89v.89h-.89zM186.5 61.8h.89v.89h-.89zM186.3 62.3h.89v.89h-.89zM189.7 57.5h.89v.89h-.89zM185.0 59.5h.89v.89h-.89zM190.1 57.9h.89v.89h-.89zM192.6 67.4h.89v.89h-.89zM193.8 64.6h.89v.89h-.89zM186.2 56.0h.89v.89h-.89zM187.7 52.5h.89v.89h-.89zM191.7 54.6h.89v.89h-.89zM192.4 54.7h.89v.89h-.89zM188.3 51.1h.89v.89h-.89zM195.4 61.9h.89v.89h-.89zM195.1 58.3h.89v.89h-.89zM188.7 62.9h.89v.89h-.89zM180.8 57.3h.89v.89h-.89zM192.0 60.9h.89v.89h-.89zM196.4 59.2h.89v.89h-.89zM194.4 56.4h.89v.89h-.89zM191.1 65.5h.89v.89h-.89zM184.4 63.7h.89v.89h-.89z"/>
<path fill="#000" fill-opacity="0.42" d="M190.6 61.0h.89v.89h-.89zM183.5 51.2h.89v.89h-.89zM188.7 62.0h.89v.89h-.89zM182.5 60.7h.89v.89h-.89zM183.9 50.1h.89v.89h-.89zM184.9 63.4h.89v.89h-.89zM184.7 59.5h.89v.89h-.89zM195.8 61.4h.89v.89h-.89zM194.0 56.2h.89v.89h-.89zM189.0 60.7h.89v.89h-.89zM186.4 63.9h.89v.89h-.89zM193.1 60.0h.89v.89h-.89zM195.7 59.8h.89v.89h-.89zM196.2 62.0h.89v.89h-.89zM188.3 58.9h.89v.89h-.89zM184.3 63.9h.89v.89h-.89zM196.3 56.9h.89v.89h-.89zM185.2 57.3h.89v.89h-.89zM182.9 62.4h.89v.89h-.89zM184.3 50.4h.89v.89h-.89zM185.3 60.2h.89v.89h-.89zM192.8 55.9h.89v.89h-.89zM189.3 60.7h.89v.89h-.89zM202.6 62.4h.89v.89h-.89zM188.4 60.8h.89v.89h-.89zM184.6 56.9h.89v.89h-.89zM202.8 56.6h.89v.89h-.89zM180.1 49.1h.89v.89h-.89zM188.3 61.9h.89v.89h-.89zM190.5 69.9h.89v.89h-.89zM190.9 55.0h.89v.89h-.89zM190.6 62.5h.89v.89h-.89zM186.9 56.9h.89v.89h-.89zM189.8 58.6h.89v.89h-.89zM190.5 64.0h.89v.89h-.89zM184.1 56.2h.89v.89h-.89zM188.2 58.1h.89v.89h-.89zM192.0 67.4h.89v.89h-.89zM192.3 51.3h.89v.89h-.89zM187.5 59.3h.89v.89h-.89zM194.8 60.2h.89v.89h-.89zM188.0 61.8h.89v.89h-.89zM184.7 62.6h.89v.89h-.89zM192.0 50.2h.89v.89h-.89zM186.7 59.2h.89v.89h-.89zM189.4 58.8h.89v.89h-.89zM192.2 58.4h.89v.89h-.89zM190.3 61.2h.89v.89h-.89zM190.7 66.3h.89v.89h-.89zM192.9 59.9h.89v.89h-.89zM192.0 56.1h.89v.89h-.89zM184.2 65.0h.89v.89h-.89zM190.6 58.4h.89v.89h-.89zM184.8 56.8h.89v.89h-.89zM183.3 59.6h.89v.89h-.89zM191.6 58.8h.89v.89h-.89zM182.8 59.0h.89v.89h-.89zM183.5 62.9h.89v.89h-.89zM190.4 63.0h.89v.89h-.89zM190.6 62.7h.89v.89h-.89zM181.4 63.7h.89v.89h-.89zM187.8 66.0h.89v.89h-.89zM179.7 58.4h.89v.89h-.89zM196.8 65.3h.89v.89h-.89zM188.5 60.9h.89v.89h-.89zM188.7 64.0h.89v.89h-.89zM192.3 58.9h.89v.89h-.89zM189.9 63.0h.89v.89h-.89zM180.0 62.5h.89v.89h-.89zM186.1 60.3h.89v.89h-.89zM182.5 59.1h.89v.89h-.89zM185.4 65.5h.89v.89h-.89zM187.5 64.0h.89v.89h-.89zM182.5 63.0h.89v.89h-.89zM189.8 59.9h.89v.89h-.89zM187.7 56.2h.89v.89h-.89zM191.9 60.5h.89v.89h-.89zM188.1 61.5h.89v.89h-.89zM183.3 61.9h.89v.89h-.89zM185.0 58.6h.89v.89h-.89zM183.3 59.1h.89v.89h-.89zM191.9 65.4h.89v.89h-.89zM190.9 66.2h.89v.89h-.89zM195.0 63.2h.89v.89h-.89zM180.7 52.0h.89v.89h-.89zM194.6 51.1h.89v.89h-.89z"/>
<path fill="#000" fill-opacity="0.42" d="M189.3 67.3h.89v.89h-.89zM190.6 51.2h.89v.89h-.89zM186.8 59.6h.89v.89h-.89zM183.8 52.1h.89v.89h-.89zM182.0 70.7h.89v.89h-.89zM180.4 58.3h.89v.89h-.89zM175.6 59.1h.89v.89h-.89zM192.9 55.8h.89v.89h-.89zM183.5 55.3h.89v.89h-.89zM190.1 49.7h.89v.89h-.89zM181.5 51.4h.89v.89h-.89zM179.1 53.8h.89v.89h-.89zM197.4 67.7h.89v.89h-.89zM186.3 50.9h.89v.89h-.89zM195.3 60.2h.89v.89h-.89zM181.8 62.1h.89v.89h-.89zM184.8 58.0h.89v.89h-.89zM179.5 63.6h.89v.89h-.89zM192.5 50.9h.89v.89h-.89zM187.3 61.1h.89v.89h-.89zM188.2 67.1h.89v.89h-.89zM182.2 60.4h.89v.89h-.89zM193.1 59.5h.89v.89h-.89zM192.1 55.7h.89v.89h-.89zM189.4 62.3h.89v.89h-.89zM197.2 67.3h.89v.89h-.89zM188.7 60.8h.89v.89h-.89zM191.0 60.4h.89v.89h-.89zM185.6 59.9h.89v.89h-.89zM195.1 52.6h.89v.89h-.89zM186.6 57.8h.89v.89h-.89zM190.7 56.1h.89v.89h-.89zM184.6 60.1h.89v.89h-.89zM187.9 55.8h.89v.89h-.89zM191.3 57.9h.89v.89h-.89zM188.0 62.6h.89v.89h-.89zM190.1 55.8h.89v.89h-.89zM186.6 61.6h.89v.89h-.89zM185.2 66.0h.89v.89h-.89zM191.8 58.9h.89v.89h-.89zM183.3 57.0h.89v.89h-.89zM186.3 60.9h.89v.89h-.89zM191.6 54.9h.89v.89h-.89zM192.1 51.5h.89v.89h-.89zM183.3 61.7h.89v.89h-.89zM186.1 56.8h.89v.89h-.89zM186.1 65.7h.89v.89h-.89zM187.1 64.0h.89v.89h-.89zM182.7 60.9h.89v.89h-.89zM190.7 57.0h.89v.89h-.89zM192.8 61.3h.89v.89h-.89zM181.6 53.7h.89v.89h-.89zM188.8 59.3h.89v.89h-.89zM183.4 61.0h.89v.89h-.89zM190.1 63.1h.89v.89h-.89zM179.1 64.0h.89v.89h-.89zM186.6 55.5h.89v.89h-.89zM179.7 55.4h.89v.89h-.89zM197.3 58.4h.89v.89h-.89zM182.8 59.2h.89v.89h-.89zM185.9 66.0h.89v.89h-.89zM172.5 56.5h.89v.89h-.89zM181.9 54.2h.89v.89h-.89zM184.6 57.5h.89v.89h-.89zM196.9 55.8h.89v.89h-.89zM187.8 56.4h.89v.89h-.89zM186.3 58.7h.89v.89h-.89zM188.6 60.8h.89v.89h-.89zM189.4 57.1h.89v.89h-.89zM187.5 56.2h.89v.89h-.89zM187.4 67.2h.89v.89h-.89zM193.2 63.2h.89v.89h-.89zM195.4 55.3h.89v.89h-.89zM187.3 56.3h.89v.89h-.89zM190.1 62.1h.89v.89h-.89zM181.8 62.3h.89v.89h-.89zM194.9 64.7h.89v.89h-.89zM193.2 58.0h.89v.89h-.89zM190.7 58.5h.89v.89h-.89zM192.6 61.1h.89v.89h-.89zM192.5 57.9h.89v.89h-.89zM184.2 56.6h.89v.89h-.89zM186.3 60.3h.89v.89h-.89zM194.5 58.8h.89v.89h-.89zM186.4 56.8h.89v.89h-.89zM192.5 66.4h.89v.89h-.89z"/>
<path d="M202.8 74.8 C204.3 71.8, 208.5 68.4, 213.0 68.2 C217.5 68.2, 220.5 70.9, 220.5 73.6 C220.5 76.2, 218.5 76.6, 212.0 76.6 C206.0 76.6, 202.8 76.3, 202.8 75.6 Z" fill="#505050" stroke="#000" stroke-width="1.0"/>
<defs><radialGradient id="rg6"><stop offset="0" stop-color="#fff" stop-opacity="1"/><stop offset="0.35" stop-color="#ddd" stop-opacity="1"/><stop offset="0.7" stop-color="#777" stop-opacity="0.8"/><stop offset="1" stop-color="#444" stop-opacity="0"/></radialGradient></defs>
<ellipse cx="214.20" cy="73.90" rx="5.80" ry="2.80" fill="url(#rg6)" transform="rotate(0 214.20 73.90)"/>
<path d="M178.3 52.5 L196.8 50.2 L200.9 58.0 L198.6 65.4 L194.5 69.1 L178.3 68.2 Z" fill="none" stroke="#fff" stroke-width="2.3" stroke-opacity="0.8"/>
<path d="M200.9 74.8 C202.5 70.6, 207.5 66.8, 213.0 66.5 C218.5 66.4, 222.2 70.1, 222.2 73.6 C222.2 77.4, 219.5 78.0, 212.0 78.0 C205.0 78.0, 200.9 77.6, 200.9 76.1 Z" fill="none" stroke="#fff" stroke-width="2.3" stroke-opacity="0.8"/>
<path d="M178.3 52.5 L196.8 50.2 L200.9 58.0 L198.6 65.4 L194.5 69.1 L178.3 68.2 Z" fill="none" stroke="#000" stroke-width="1.1"/>
<path d="M200.9 74.8 C202.5 70.6, 207.5 66.8, 213.0 66.5 C218.5 66.4, 222.2 70.1, 222.2 73.6 C222.2 77.4, 219.5 78.0, 212.0 78.0 C205.0 78.0, 200.9 77.6, 200.9 76.1 Z" fill="none" stroke="#000" stroke-width="1.1"/>
<text x="189.00" y="47.50" font-size="6.0" text-anchor="middle" font-weight="bold" fill="#000" stroke="#000" stroke-width="0.25" >11</text>
<text x="232.20" y="73.90" font-size="6.0" text-anchor="middle" font-weight="bold" fill="#000" stroke="#000" stroke-width="0.25" >84.7</text>
<defs><radialGradient id="rg7"><stop offset="0" stop-color="#333" stop-opacity="0.6"/><stop offset="0.6" stop-color="#555" stop-opacity="0.35"/><stop offset="1" stop-color="#888" stop-opacity="0"/></radialGradient></defs>
<ellipse cx="271.80" cy="73.20" rx="10.50" ry="4.80" fill="url(#rg7)" transform="rotate(0 271.80 73.20)"/>
<path fill="#000" fill-opacity="0.55" d="M265.3 76.1h.8v.8h-.8zM273.6 74.5h.8v.8h-.8zM271.3 72.6h.8v.8h-.8zM267.0 68.9h.8v.8h-.8zM281.6 71.9h.8v.8h-.8zM276.6 72.0h.8v.8h-.8zM267.1 75.1h.8v.8h-.8zM271.4 73.9h.8v.8h-.8zM269.9 73.3h.8v.8h-.8zM269.1 73.7h.8v.8h-.8zM272.3 74.8h.8v.8h-.8zM267.0 76.2h.8v.8h-.8zM263.3 71.5h.8v.8h-.8zM277.9 75.6h.8v.8h-.8zM272.1 72.7h.8v.8h-.8zM268.7 73.0h.8v.8h-.8zM273.6 74.8h.8v.8h-.8zM273.9 73.2h.8v.8h-.8zM263.9 71.3h.8v.8h-.8zM268.7 76.6h.8v.8h-.8zM266.9 73.1h.8v.8h-.8zM272.3 73.6h.8v.8h-.8zM259.2 69.4h.8v.8h-.8zM273.3 74.4h.8v.8h-.8zM269.9 72.2h.8v.8h-.8zM267.8 76.3h.8v.8h-.8zM268.4 71.7h.8v.8h-.8zM272.9 73.9h.8v.8h-.8zM271.2 71.0h.8v.8h-.8zM271.8 73.0h.8v.8h-.8zM276.6 73.8h.8v.8h-.8zM272.0 71.0h.8v.8h-.8zM277.6 74.2h.8v.8h-.8zM271.0 75.4h.8v.8h-.8zM273.9 71.4h.8v.8h-.8zM262.8 70.4h.8v.8h-.8zM281.2 77.0h.8v.8h-.8zM269.4 68.0h.8v.8h-.8zM285.8 73.7h.8v.8h-.8zM269.1 72.8h.8v.8h-.8zM271.2 73.7h.8v.8h-.8zM266.5 66.5h.8v.8h-.8zM271.9 72.8h.8v.8h-.8zM272.7 72.4h.8v.8h-.8zM258.6 68.5h.8v.8h-.8zM267.3 70.6h.8v.8h-.8zM276.6 71.5h.8v.8h-.8zM272.3 72.3h.8v.8h-.8zM269.5 73.1h.8v.8h-.8zM268.0 72.6h.8v.8h-.8zM269.8 74.4h.8v.8h-.8zM267.2 73.6h.8v.8h-.8zM278.7 72.1h.8v.8h-.8zM277.7 73.3h.8v.8h-.8zM267.7 69.3h.8v.8h-.8zM273.0 73.4h.8v.8h-.8zM280.1 72.7h.8v.8h-.8zM275.2 70.4h.8v.8h-.8zM267.0 72.3h.8v.8h-.8zM266.7 72.3h.8v.8h-.8zM262.3 74.5h.8v.8h-.8zM273.1 70.1h.8v.8h-.8zM273.9 67.0h.8v.8h-.8zM270.5 74.5h.8v.8h-.8z"/>
<path fill="#000" fill-opacity="0.55" d="M271.5 73.5h.8v.8h-.8zM269.7 72.3h.8v.8h-.8zM276.4 68.8h.8v.8h-.8zM273.7 72.0h.8v.8h-.8zM279.9 67.9h.8v.8h-.8zM269.0 71.2h.8v.8h-.8zM266.4 74.3h.8v.8h-.8zM267.9 72.5h.8v.8h-.8zM262.6 74.6h.8v.8h-.8zM277.3 72.0h.8v.8h-.8zM270.1 70.4h.8v.8h-.8zM267.7 68.7h.8v.8h-.8zM279.6 76.4h.8v.8h-.8zM273.8 75.6h.8v.8h-.8zM269.9 73.9h.8v.8h-.8zM274.1 70.8h.8v.8h-.8zM265.3 73.4h.8v.8h-.8zM269.6 71.1h.8v.8h-.8zM277.1 69.8h.8v.8h-.8zM271.0 69.9h.8v.8h-.8zM271.5 74.6h.8v.8h-.8zM270.1 74.8h.8v.8h-.8zM266.3 76.0h.8v.8h-.8zM270.5 71.2h.8v.8h-.8zM274.9 68.2h.8v.8h-.8zM268.5 70.8h.8v.8h-.8zM270.6 72.9h.8v.8h-.8zM271.6 71.8h.8v.8h-.8zM269.5 68.8h.8v.8h-.8zM264.6 73.3h.8v.8h-.8zM268.6 72.3h.8v.8h-.8zM276.9 72.5h.8v.8h-.8zM263.7 75.6h.8v.8h-.8zM271.8 74.4h.8v.8h-.8zM271.5 68.3h.8v.8h-.8zM273.8 77.6h.8v.8h-.8zM281.8 73.1h.8v.8h-.8zM272.6 72.7h.8v.8h-.8zM267.5 77.3h.8v.8h-.8zM268.0 75.0h.8v.8h-.8zM276.8 73.6h.8v.8h-.8zM276.7 70.1h.8v.8h-.8zM263.0 69.4h.8v.8h-.8zM270.0 70.8h.8v.8h-.8zM272.1 76.2h.8v.8h-.8zM272.5 76.1h.8v.8h-.8zM265.7 72.4h.8v.8h-.8zM264.8 75.9h.8v.8h-.8zM258.7 77.8h.8v.8h-.8zM268.4 74.4h.8v.8h-.8zM272.4 71.9h.8v.8h-.8zM270.5 70.8h.8v.8h-.8zM266.5 75.4h.8v.8h-.8zM266.3 73.4h.8v.8h-.8zM270.3 73.2h.8v.8h-.8zM271.5 69.7h.8v.8h-.8zM273.2 71.8h.8v.8h-.8zM266.5 72.6h.8v.8h-.8zM266.1 73.4h.8v.8h-.8zM267.6 72.0h.8v.8h-.8zM276.1 73.7h.8v.8h-.8zM268.1 69.6h.8v.8h-.8zM265.4 74.6h.8v.8h-.8zM267.8 71.8h.8v.8h-.8z"/>
<path fill="#000" fill-opacity="0.55" d="M265.3 71.4h.8v.8h-.8zM270.3 71.5h.8v.8h-.8zM272.5 70.3h.8v.8h-.8zM270.0 75.3h.8v.8h-.8zM277.8 72.0h.8v.8h-.8zM266.0 77.0h.8v.8h-.8zM267.0 71.8h.8v.8h-.8zM265.4 73.0h.8v.8h-.8zM264.3 71.6h.8v.8h-.8zM271.8 71.5h.8v.8h-.8zM276.4 70.6h.8v.8h-.8zM274.7 74.4h.8v.8h-.8zM269.8 71.2h.8v.8h-.8zM269.6 76.3h.8v.8h-.8zM261.8 72.7h.8v.8h-.8zM275.9 70.4h.8v.8h-.8zM268.0 74.3h.8v.8h-.8zM270.6 75.6h.8v.8h-.8zM266.9 70.3h.8v.8h-.8zM268.5 71.1h.8v.8h-.8zM269.9 73.9h.8v.8h-.8zM270.5 69.8h.8v.8h-.8zM262.8 74.9h.8v.8h-.8zM268.9 73.7h.8v.8h-.8zM270.0 73.9h.8v.8h-.8zM269.5 70.8h.8v.8h-.8zM276.8 71.4h.8v.8h-.8zM273.3 70.5h.8v.8h-.8zM272.1 70.8h.8v.8h-.8zM272.1 70.6h.8v.8h-.8zM275.6 72.0h.8v.8h-.8zM268.6 71.1h.8v.8h-.8zM277.1 73.9h.8v.8h-.8zM271.8 69.4h.8v.8h-.8zM270.5 74.9h.8v.8h-.8zM266.1 76.0h.8v.8h-.8zM275.9 76.0h.8v.8h-.8zM272.2 77.0h.8v.8h-.8zM275.4 74.7h.8v.8h-.8zM275.2 71.7h.8v.8h-.8zM266.4 74.5h.8v.8h-.8zM268.1 74.0h.8v.8h-.8zM271.2 76.1h.8v.8h-.8zM267.8 70.4h.8v.8h-.8zM271.2 70.5h.8v.8h-.8zM270.4 78.0h.8v.8h-.8zM272.8 71.2h.8v.8h-.8zM272.4 71.7h.8v.8h-.8zM269.7 70.3h.8v.8h-.8zM270.7 73.1h.8v.8h-.8zM265.3 69.2h.8v.8h-.8zM265.7 74.7h.8v.8h-.8zM270.5 73.6h.8v.8h-.8zM274.0 70.7h.8v.8h-.8zM268.8 70.0h.8v.8h-.8zM278.1 74.0h.8v.8h-.8zM268.5 75.3h.8v.8h-.8zM275.2 73.4h.8v.8h-.8zM267.5 71.7h.8v.8h-.8zM270.2 77.0h.8v.8h-.8zM270.4 72.2h.8v.8h-.8zM270.5 74.4h.8v.8h-.8zM270.9 78.0h.8v.8h-.8z"/>
<path fill="#000" fill-opacity="0.55" d="M274.5 69.4h.8v.8h-.8zM259.7 75.0h.8v.8h-.8zM270.0 76.3h.8v.8h-.8zM267.4 71.9h.8v.8h-.8zM272.0 72.0h.8v.8h-.8zM274.4 73.1h.8v.8h-.8zM273.6 73.8h.8v.8h-.8zM272.3 75.9h.8v.8h-.8zM271.5 71.6h.8v.8h-.8zM271.7 72.0h.8v.8h-.8zM275.6 70.6h.8v.8h-.8zM270.5 67.0h.8v.8h-.8zM273.2 75.2h.8v.8h-.8zM269.5 73.7h.8v.8h-.8zM271.8 72.2h.8v.8h-.8zM275.2 73.8h.8v.8h-.8zM277.6 72.9h.8v.8h-.8zM270.9 75.9h.8v.8h-.8zM268.9 74.3h.8v.8h-.8zM266.8 72.0h.8v.8h-.8zM281.0 73.0h.8v.8h-.8zM275.4 72.0h.8v.8h-.8zM276.4 73.9h.8v.8h-.8zM263.9 69.9h.8v.8h-.8zM273.6 75.6h.8v.8h-.8zM276.0 73.7h.8v.8h-.8zM273.0 72.7h.8v.8h-.8zM265.3 72.0h.8v.8h-.8zM273.2 66.3h.8v.8h-.8zM274.8 72.7h.8v.8h-.8zM273.1 74.0h.8v.8h-.8zM273.0 70.3h.8v.8h-.8zM262.5 75.7h.8v.8h-.8zM266.8 80.2h.8v.8h-.8zM261.5 73.3h.8v.8h-.8zM273.4 71.6h.8v.8h-.8zM273.8 73.6h.8v.8h-.8zM270.9 72.2h.8v.8h-.8zM274.7 74.7h.8v.8h-.8zM274.1 78.9h.8v.8h-.8zM271.0 73.1h.8v.8h-.8zM260.3 75.9h.8v.8h-.8zM268.9 74.0h.8v.8h-.8zM266.3 78.7h.8v.8h-.8zM270.3 70.5h.8v.8h-.8zM264.0 73.4h.8v.8h-.8zM275.5 76.7h.8v.8h-.8zM273.4 74.3h.8v.8h-.8zM263.0 73.4h.8v.8h-.8zM273.3 75.8h.8v.8h-.8zM272.9 75.2h.8v.8h-.8zM273.0 70.7h.8v.8h-.8zM271.6 70.5h.8v.8h-.8zM261.6 73.6h.8v.8h-.8zM272.4 68.7h.8v.8h-.8zM270.1 70.1h.8v.8h-.8zM285.5 73.1h.8v.8h-.8zM277.1 69.6h.8v.8h-.8zM272.4 71.3h.8v.8h-.8zM269.5 76.5h.8v.8h-.8zM272.6 72.1h.8v.8h-.8zM272.8 71.7h.8v.8h-.8zM270.3 71.5h.8v.8h-.8z"/>
<path fill="#000" fill-opacity="0.55" d="M280.8 69.6h.8v.8h-.8zM272.5 73.2h.8v.8h-.8zM266.5 72.6h.8v.8h-.8zM272.1 73.8h.8v.8h-.8zM268.5 69.9h.8v.8h-.8zM269.2 70.4h.8v.8h-.8zM276.0 70.9h.8v.8h-.8zM275.7 74.7h.8v.8h-.8zM278.9 72.6h.8v.8h-.8zM271.8 75.1h.8v.8h-.8zM279.7 70.4h.8v.8h-.8zM271.2 72.1h.8v.8h-.8zM274.7 70.1h.8v.8h-.8zM275.6 70.7h.8v.8h-.8zM275.0 76.8h.8v.8h-.8zM273.5 77.8h.8v.8h-.8zM270.9 73.2h.8v.8h-.8zM259.7 71.7h.8v.8h-.8zM274.1 68.1h.8v.8h-.8zM275.4 73.6h.8v.8h-.8zM266.5 73.6h.8v.8h-.8zM276.9 71.3h.8v.8h-.8zM274.5 71.7h.8v.8h-.8zM269.5 71.5h.8v.8h-.8zM276.2 70.4h.8v.8h-.8zM277.8 73.8h.8v.8h-.8zM265.7 70.3h.8v.8h-.8zM264.9 71.6h.8v.8h-.8zM267.7 73.4h.8v.8h-.8zM271.5 71.8h.8v.8h-.8zM270.6 67.4h.8v.8h-.8zM266.8 77.4h.8v.8h-.8zM277.6 71.7h.8v.8h-.8zM272.7 75.8h.8v.8h-.8zM275.2 75.9h.8v.8h-.8zM281.5 66.9h.8v.8h-.8zM270.6 71.8h.8v.8h-.8zM268.0 72.7h.8v.8h-.8zM274.5 76.1h.8v.8h-.8zM277.1 70.2h.8v.8h-.8zM268.8 69.6h.8v.8h-.8zM267.9 74.3h.8v.8h-.8zM272.1 73.9h.8v.8h-.8zM279.2 72.8h.8v.8h-.8zM265.0 72.3h.8v.8h-.8zM266.1 72.4h.8v.8h-.8zM264.9 73.6h.8v.8h-.8zM274.9 74.2h.8v.8h-.8zM271.6 71.4h.8v.8h-.8zM274.2 73.3h.8v.8h-.8zM273.1 69.6h.8v.8h-.8zM266.7 74.9h.8v.8h-.8zM265.9 72.3h.8v.8h-.8zM266.3 73.8h.8v.8h-.8zM273.9 73.9h.8v.8h-.8zM278.2 74.0h.8v.8h-.8zM270.8 74.7h.8v.8h-.8zM273.7 71.4h.8v.8h-.8zM276.7 71.3h.8v.8h-.8zM273.4 69.8h.8v.8h-.8zM269.0 71.9h.8v.8h-.8zM274.2 72.0h.8v.8h-.8zM278.2 74.1h.8v.8h-.8z"/>
<path fill="#000" fill-opacity="0.55" d="M265.8 72.9h.8v.8h-.8zM268.5 73.4h.8v.8h-.8zM268.7 75.0h.8v.8h-.8zM269.1 75.2h.8v.8h-.8zM269.6 75.8h.8v.8h-.8zM277.4 74.6h.8v.8h-.8zM278.6 75.9h.8v.8h-.8zM269.8 72.3h.8v.8h-.8zM278.5 75.5h.8v.8h-.8zM277.7 73.1h.8v.8h-.8zM275.3 76.3h.8v.8h-.8zM269.7 72.1h.8v.8h-.8zM272.1 73.1h.8v.8h-.8zM268.2 68.8h.8v.8h-.8zM269.4 70.6h.8v.8h-.8zM270.2 72.4h.8v.8h-.8zM258.0 74.6h.8v.8h-.8zM272.6 72.8h.8v.8h-.8zM278.0 71.4h.8v.8h-.8zM265.1 79.2h.8v.8h-.8zM267.8 71.9h.8v.8h-.8zM274.0 73.5h.8v.8h-.8zM271.4 73.3h.8v.8h-.8zM270.2 66.7h.8v.8h-.8zM274.3 72.0h.8v.8h-.8zM268.6 75.2h.8v.8h-.8zM270.4 73.7h.8v.8h-.8zM268.0 71.5h.8v.8h-.8zM260.3 72.0h.8v.8h-.8zM273.9 73.0h.8v.8h-.8zM272.0 73.3h.8v.8h-.8zM277.4 75.2h.8v.8h-.8zM272.0 74.6h.8v.8h-.8zM276.6 76.8h.8v.8h-.8zM267.2 71.3h.8v.8h-.8zM271.1 73.3h.8v.8h-.8zM265.8 77.3h.8v.8h-.8zM269.4 73.3h.8v.8h-.8zM276.0 76.0h.8v.8h-.8zM271.0 74.3h.8v.8h-.8zM265.7 72.0h.8v.8h-.8zM269.2 73.5h.8v.8h-.8zM276.0 69.3h.8v.8h-.8zM274.8 70.5h.8v.8h-.8zM269.6 70.9h.8v.8h-.8zM271.9 74.1h.8v.8h-.8zM276.1 68.3h.8v.8h-.8zM273.3 70.0h.8v.8h-.8zM269.5 70.7h.8v.8h-.8zM270.6 70.9h.8v.8h-.8zM270.4 73.3h.8v.8h-.8zM274.1 72.1h.8v.8h-.8zM277.9 70.5h.8v.8h-.8zM262.6 72.5h.8v.8h-.8zM279.1 74.9h.8v.8h-.8zM266.0 74.4h.8v.8h-.8zM270.0 74.5h.8v.8h-.8zM271.9 73.6h.8v.8h-.8zM275.3 73.5h.8v.8h-.8zM260.8 74.4h.8v.8h-.8zM276.8 71.4h.8v.8h-.8zM273.1 73.4h.8v.8h-.8zM280.1 74.0h.8v.8h-.8z"/>
<path d="M260.3 52.5 L278.3 50.4 L282.5 57.1 L281.1 65.4 L277.4 69.1 L260.3 68.6 Z" fill="#aaa" fill-opacity="0.45"/>
<defs><radialGradient id="rg8"><stop offset="0" stop-color="#2a2a2a" stop-opacity="0.7"/><stop offset="0.55" stop-color="#3a3a3a" stop-opacity="0.55"/><stop offset="0.85" stop-color="#555" stop-opacity="0.3"/><stop offset="1" stop-color="#666" stop-opacity="0"/></radialGradient></defs>
<ellipse cx="270.20" cy="60.00" rx="9.90" ry="9.68" fill="url(#rg8)" transform="rotate(0 270.20 60.00)"/>
<path fill="#000" fill-opacity="0.42" d="M267.3 58.6h.89v.89h-.89zM270.7 65.0h.89v.89h-.89zM274.9 57.6h.89v.89h-.89zM271.9 60.8h.89v.89h-.89zM269.0 58.4h.89v.89h-.89zM262.2 57.1h.89v.89h-.89zM268.4 57.3h.89v.89h-.89zM264.2 59.7h.89v.89h-.89zM270.3 68.5h.89v.89h-.89zM271.8 62.4h.89v.89h-.89zM269.4 58.0h.89v.89h-.89zM270.3 59.2h.89v.89h-.89zM270.8 62.5h.89v.89h-.89zM271.7 65.4h.89v.89h-.89zM274.8 50.4h.89v.89h-.89zM275.1 58.2h.89v.89h-.89zM259.9 60.0h.89v.89h-.89zM264.8 52.7h.89v.89h-.89zM265.8 56.6h.89v.89h-.89zM265.4 52.8h.89v.89h-.89zM262.4 53.6h.89v.89h-.89zM274.7 69.0h.89v.89h-.89zM275.0 55.5h.89v.89h-.89zM274.2 56.7h.89v.89h-.89zM269.8 58.4h.89v.89h-.89zM267.5 56.8h.89v.89h-.89zM268.0 53.0h.89v.89h-.89zM269.6 56.9h.89v.89h-.89zM267.7 63.8h.89v.89h-.89zM264.7 53.8h.89v.89h-.89zM266.1 58.9h.89v.89h-.89zM274.9 61.9h.89v.89h-.89zM270.5 55.2h.89v.89h-.89zM265.1 51.3h.89v.89h-.89zM268.5 68.0h.89v.89h-.89zM264.3 52.3h.89v.89h-.89zM270.1 61.5h.89v.89h-.89zM272.1 62.3h.89v.89h-.89zM266.9 64.5h.89v.89h-.89zM268.3 60.3h.89v.89h-.89zM273.7 58.6h.89v.89h-.89zM266.8 61.6h.89v.89h-.89zM277.1 58.3h.89v.89h-.89zM269.4 63.7h.89v.89h-.89zM271.5 60.8h.89v.89h-.89zM264.8 57.5h.89v.89h-.89zM273.0 51.7h.89v.89h-.89zM274.0 56.1h.89v.89h-.89zM274.5 63.1h.89v.89h-.89zM265.3 60.4h.89v.89h-.89zM270.7 72.5h.89v.89h-.89zM271.1 59.9h.89v.89h-.89zM269.9 57.5h.89v.89h-.89zM278.5 59.7h.89v.89h-.89zM269.3 59.9h.89v.89h-.89zM275.4 58.7h.89v.89h-.89zM260.0 52.0h.89v.89h-.89zM263.8 51.7h.89v.89h-.89zM274.4 69.1h.89v.89h-.89zM276.7 56.5h.89v.89h-.89zM266.1 66.2h.89v.89h-.89zM272.4 59.0h.89v.89h-.89zM267.5 68.9h.89v.89h-.89zM269.8 62.9h.89v.89h-.89zM269.2 61.1h.89v.89h-.89zM270.7 61.4h.89v.89h-.89zM271.3 56.8h.89v.89h-.89zM268.3 57.2h.89v.89h-.89zM277.7 67.8h.89v.89h-.89zM268.8 63.8h.89v.89h-.89zM265.3 52.4h.89v.89h-.89zM270.3 64.3h.89v.89h-.89zM277.7 51.3h.89v.89h-.89zM274.2 57.3h.89v.89h-.89zM270.0 60.1h.89v.89h-.89zM274.7 65.8h.89v.89h-.89zM270.0 60.7h.89v.89h-.89zM270.3 64.5h.89v.89h-.89zM271.5 70.7h.89v.89h-.89zM269.5 64.4h.89v.89h-.89z"/>
<path fill="#000" fill-opacity="0.42" d="M273.1 57.5h.89v.89h-.89zM273.9 62.3h.89v.89h-.89zM268.7 63.5h.89v.89h-.89zM268.5 68.8h.89v.89h-.89zM267.3 63.7h.89v.89h-.89zM265.6 56.8h.89v.89h-.89zM274.9 68.7h.89v.89h-.89zM273.5 62.9h.89v.89h-.89zM260.3 59.5h.89v.89h-.89zM274.2 60.4h.89v.89h-.89zM269.9 65.5h.89v.89h-.89zM274.1 57.9h.89v.89h-.89zM263.8 70.0h.89v.89h-.89zM274.2 53.2h.89v.89h-.89zM275.9 55.5h.89v.89h-.89zM271.9 58.8h.89v.89h-.89zM267.0 53.2h.89v.89h-.89zM266.5 64.6h.89v.89h-.89zM268.2 62.2h.89v.89h-.89zM274.7 64.1h.89v.89h-.89zM265.6 62.7h.89v.89h-.89zM261.9 61.8h.89v.89h-.89zM275.3 62.4h.89v.89h-.89zM261.7 68.6h.89v.89h-.89zM268.6 61.7h.89v.89h-.89zM270.0 55.9h.89v.89h-.89zM269.3 62.1h.89v.89h-.89zM269.2 60.9h.89v.89h-.89zM272.5 61.7h.89v.89h-.89zM268.7 61.9h.89v.89h-.89zM267.4 57.1h.89v.89h-.89zM269.9 52.9h.89v.89h-.89zM276.7 56.9h.89v.89h-.89zM272.5 62.5h.89v.89h-.89zM271.8 51.4h.89v.89h-.89zM274.5 64.6h.89v.89h-.89zM264.3 48.9h.89v.89h-.89zM274.3 61.3h.89v.89h-.89zM271.4 67.2h.89v.89h-.89zM264.8 54.4h.89v.89h-.89zM271.5 59.4h.89v.89h-.89zM272.3 66.3h.89v.89h-.89zM279.3 56.4h.89v.89h-.89zM273.0 64.9h.89v.89h-.89zM274.2 65.8h.89v.89h-.89zM270.6 62.8h.89v.89h-.89zM270.2 60.1h.89v.89h-.89zM273.3 61.2h.89v.89h-.89zM271.9 61.7h.89v.89h-.89zM266.4 53.4h.89v.89h-.89zM270.4 63.9h.89v.89h-.89zM270.4 69.7h.89v.89h-.89zM276.7 58.4h.89v.89h-.89zM261.9 56.7h.89v.89h-.89zM269.7 58.6h.89v.89h-.89zM268.6 61.1h.89v.89h-.89zM269.8 59.0h.89v.89h-.89zM268.9 51.8h.89v.89h-.89zM263.2 62.0h.89v.89h-.89zM277.3 47.5h.89v.89h-.89zM271.2 50.4h.89v.89h-.89zM263.4 58.3h.89v.89h-.89zM273.2 59.8h.89v.89h-.89zM276.6 60.7h.89v.89h-.89zM270.5 59.9h.89v.89h-.89zM268.2 63.8h.89v.89h-.89zM274.7 53.3h.89v.89h-.89zM271.0 61.1h.89v.89h-.89zM265.0 64.9h.89v.89h-.89zM270.1 56.4h.89v.89h-.89zM269.9 60.6h.89v.89h-.89zM271.0 60.7h.89v.89h-.89zM271.1 57.9h.89v.89h-.89zM269.6 57.8h.89v.89h-.89zM266.7 55.2h.89v.89h-.89zM276.7 57.1h.89v.89h-.89zM267.5 60.5h.89v.89h-.89zM258.8 58.8h.89v.89h-.89zM267.8 63.6h.89v.89h-.89zM263.2 56.9h.89v.89h-.89z"/>
<path fill="#000" fill-opacity="0.42" d="M271.2 57.4h.89v.89h-.89zM269.1 54.9h.89v.89h-.89zM269.8 54.4h.89v.89h-.89zM271.6 56.9h.89v.89h-.89zM269.9 66.8h.89v.89h-.89zM275.0 60.7h.89v.89h-.89zM265.5 66.9h.89v.89h-.89zM272.6 64.2h.89v.89h-.89zM280.5 60.6h.89v.89h-.89zM266.0 59.1h.89v.89h-.89zM271.1 59.4h.89v.89h-.89zM268.1 60.6h.89v.89h-.89zM277.7 59.4h.89v.89h-.89zM275.7 63.4h.89v.89h-.89zM273.8 52.7h.89v.89h-.89zM277.5 58.0h.89v.89h-.89zM263.6 64.4h.89v.89h-.89zM273.9 52.9h.89v.89h-.89zM264.5 66.3h.89v.89h-.89zM277.8 61.7h.89v.89h-.89zM274.9 58.1h.89v.89h-.89zM269.7 63.7h.89v.89h-.89zM259.1 63.4h.89v.89h-.89zM277.8 62.5h.89v.89h-.89zM278.8 56.9h.89v.89h-.89zM265.2 58.3h.89v.89h-.89zM262.3 55.8h.89v.89h-.89zM268.5 63.7h.89v.89h-.89zM266.3 62.2h.89v.89h-.89zM270.0 54.6h.89v.89h-.89zM269.9 58.3h.89v.89h-.89zM262.8 63.7h.89v.89h-.89zM267.3 63.2h.89v.89h-.89zM274.0 61.4h.89v.89h-.89zM273.7 64.9h.89v.89h-.89zM268.0 53.8h.89v.89h-.89zM271.1 55.6h.89v.89h-.89zM262.1 56.9h.89v.89h-.89zM272.0 67.7h.89v.89h-.89zM265.8 57.3h.89v.89h-.89zM267.4 59.9h.89v.89h-.89zM264.9 59.1h.89v.89h-.89zM268.5 52.6h.89v.89h-.89zM273.6 59.4h.89v.89h-.89zM256.2 62.0h.89v.89h-.89zM279.5 60.8h.89v.89h-.89zM271.1 65.2h.89v.89h-.89zM263.1 53.1h.89v.89h-.89zM264.0 61.1h.89v.89h-.89zM270.2 65.9h.89v.89h-.89zM271.7 51.6h.89v.89h-.89zM271.0 66.0h.89v.89h-.89zM272.9 66.9h.89v.89h-.89zM263.5 59.5h.89v.89h-.89zM273.7 52.5h.89v.89h-.89zM268.7 51.1h.89v.89h-.89zM271.7 60.5h.89v.89h-.89zM277.1 55.2h.89v.89h-.89zM269.7 63.3h.89v.89h-.89zM269.8 56.0h.89v.89h-.89zM271.3 54.3h.89v.89h-.89zM259.5 57.1h.89v.89h-.89zM266.9 46.6h.89v.89h-.89zM270.6 62.9h.89v.89h-.89zM268.2 61.4h.89v.89h-.89zM267.9 55.1h.89v.89h-.89zM268.0 56.4h.89v.89h-.89zM274.2 59.1h.89v.89h-.89zM274.9 65.5h.89v.89h-.89zM270.8 62.5h.89v.89h-.89zM267.7 60.4h.89v.89h-.89zM266.5 63.4h.89v.89h-.89zM274.9 57.7h.89v.89h-.89zM266.0 60.7h.89v.89h-.89zM274.8 60.3h.89v.89h-.89zM272.4 56.3h.89v.89h-.89zM272.4 66.4h.89v.89h-.89zM255.8 60.2h.89v.89h-.89zM266.1 65.0h.89v.89h-.89zM271.9 62.0h.89v.89h-.89z"/>
<path fill="#000" fill-opacity="0.42" d="M273.6 47.8h.89v.89h-.89zM268.8 57.6h.89v.89h-.89zM271.6 58.7h.89v.89h-.89zM270.8 59.0h.89v.89h-.89zM273.2 66.5h.89v.89h-.89zM275.1 63.2h.89v.89h-.89zM273.4 56.0h.89v.89h-.89zM265.5 59.4h.89v.89h-.89zM261.8 60.1h.89v.89h-.89zM271.2 58.4h.89v.89h-.89zM264.7 55.0h.89v.89h-.89zM270.0 66.7h.89v.89h-.89zM264.5 60.2h.89v.89h-.89zM268.2 61.7h.89v.89h-.89zM265.7 57.0h.89v.89h-.89zM269.6 68.0h.89v.89h-.89zM271.6 53.1h.89v.89h-.89zM275.0 59.7h.89v.89h-.89zM267.0 57.1h.89v.89h-.89zM271.2 62.8h.89v.89h-.89zM272.7 59.4h.89v.89h-.89zM274.4 62.9h.89v.89h-.89zM265.5 64.5h.89v.89h-.89zM267.4 54.4h.89v.89h-.89zM273.4 64.2h.89v.89h-.89zM276.2 58.7h.89v.89h-.89zM270.9 55.6h.89v.89h-.89zM281.0 57.2h.89v.89h-.89zM273.2 58.8h.89v.89h-.89zM263.5 57.2h.89v.89h-.89zM272.5 54.5h.89v.89h-.89zM272.7 62.0h.89v.89h-.89zM271.2 55.7h.89v.89h-.89zM261.0 59.4h.89v.89h-.89zM269.9 54.4h.89v.89h-.89zM269.5 61.2h.89v.89h-.89zM269.2 57.9h.89v.89h-.89zM277.9 61.6h.89v.89h-.89zM271.8 54.5h.89v.89h-.89zM263.8 59.1h.89v.89h-.89zM263.2 61.5h.89v.89h-.89zM272.0 66.1h.89v.89h-.89zM272.6 60.7h.89v.89h-.89zM272.4 60.3h.89v.89h-.89zM276.6 55.4h.89v.89h-.89zM267.1 49.3h.89v.89h-.89zM269.3 60.0h.89v.89h-.89zM263.4 60.2h.89v.89h-.89zM265.1 54.3h.89v.89h-.89zM267.9 54.9h.89v.89h-.89zM264.8 54.2h.89v.89h-.89zM275.6 56.9h.89v.89h-.89zM272.6 64.1h.89v.89h-.89zM263.1 55.1h.89v.89h-.89zM267.5 60.1h.89v.89h-.89zM271.0 57.9h.89v.89h-.89zM267.6 54.0h.89v.89h-.89zM269.5 58.5h.89v.89h-.89zM267.4 62.7h.89v.89h-.89zM269.8 64.1h.89v.89h-.89zM276.4 64.6h.89v.89h-.89zM261.4 64.9h.89v.89h-.89zM271.9 63.8h.89v.89h-.89zM276.1 58.2h.89v.89h-.89zM273.7 62.9h.89v.89h-.89zM269.5 57.6h.89v.89h-.89zM272.7 59.7h.89v.89h-.89zM266.4 54.9h.89v.89h-.89zM269.7 63.8h.89v.89h-.89zM266.6 62.3h.89v.89h-.89zM262.9 61.3h.89v.89h-.89zM275.0 57.4h.89v.89h-.89zM269.9 62.2h.89v.89h-.89zM271.6 65.8h.89v.89h-.89zM269.4 54.1h.89v.89h-.89zM272.1 58.0h.89v.89h-.89zM260.5 54.3h.89v.89h-.89zM267.5 57.4h.89v.89h-.89zM274.1 60.2h.89v.89h-.89zM278.1 67.2h.89v.89h-.89z"/>
<path fill="#000" fill-opacity="0.42" d="M268.9 60.3h.89v.89h-.89zM270.8 57.6h.89v.89h-.89zM260.8 60.4h.89v.89h-.89zM260.2 52.9h.89v.89h-.89zM269.2 61.2h.89v.89h-.89zM273.8 63.8h.89v.89h-.89zM270.9 61.1h.89v.89h-.89zM271.2 63.8h.89v.89h-.89zM263.5 56.7h.89v.89h-.89zM266.9 58.0h.89v.89h-.89zM271.4 55.9h.89v.89h-.89zM268.6 57.3h.89v.89h-.89zM271.6 50.1h.89v.89h-.89zM276.3 58.2h.89v.89h-.89zM273.3 52.7h.89v.89h-.89zM270.1 62.5h.89v.89h-.89zM277.6 56.6h.89v.89h-.89zM271.9 59.8h.89v.89h-.89zM272.8 61.4h.89v.89h-.89zM273.9 58.5h.89v.89h-.89zM271.1 57.3h.89v.89h-.89zM273.3 55.5h.89v.89h-.89zM266.8 56.4h.89v.89h-.89zM262.7 61.9h.89v.89h-.89zM268.5 58.9h.89v.89h-.89zM272.0 53.3h.89v.89h-.89zM273.2 63.6h.89v.89h-.89zM271.2 63.1h.89v.89h-.89zM272.6 68.8h.89v.89h-.89zM269.8 56.0h.89v.89h-.89zM263.3 67.9h.89v.89h-.89zM262.5 50.5h.89v.89h-.89zM273.3 67.8h.89v.89h-.89zM266.8 54.5h.89v.89h-.89zM277.5 53.9h.89v.89h-.89zM263.1 54.6h.89v.89h-.89zM271.9 56.2h.89v.89h-.89zM272.2 61.6h.89v.89h-.89zM277.4 61.0h.89v.89h-.89zM271.1 68.3h.89v.89h-.89zM268.5 54.9h.89v.89h-.89zM270.9 62.8h.89v.89h-.89zM278.7 60.3h.89v.89h-.89zM263.8 67.0h.89v.89h-.89zM261.5 60.8h.89v.89h-.89zM274.5 59.0h.89v.89h-.89zM273.6 52.8h.89v.89h-.89zM270.7 62.7h.89v.89h-.89zM268.2 60.2h.89v.89h-.89zM276.0 67.0h.89v.89h-.89zM271.7 60.0h.89v.89h-.89zM272.8 57.9h.89v.89h-.89zM276.0 64.3h.89v.89h-.89zM271.1 60.2h.89v.89h-.89zM268.0 57.1h.89v.89h-.89zM267.2 62.3h.89v.89h-.89zM264.8 58.9h.89v.89h-.89zM266.1 51.8h.89v.89h-.89zM273.8 62.2h.89v.89h-.89zM273.0 60.0h.89v.89h-.89zM267.3 65.2h.89v.89h-.89zM265.4 48.9h.89v.89h-.89zM267.1 53.3h.89v.89h-.89zM264.2 56.1h.89v.89h-.89zM276.5 58.3h.89v.89h-.89zM273.5 57.9h.89v.89h-.89zM271.9 58.1h.89v.89h-.89zM270.0 61.1h.89v.89h-.89zM267.6 59.2h.89v.89h-.89zM266.6 55.7h.89v.89h-.89zM271.6 60.8h.89v.89h-.89zM272.6 60.9h.89v.89h-.89zM271.8 57.3h.89v.89h-.89zM268.3 61.3h.89v.89h-.89zM270.3 64.7h.89v.89h-.89zM270.6 65.4h.89v.89h-.89zM264.2 63.4h.89v.89h-.89zM271.3 57.0h.89v.89h-.89zM274.2 66.6h.89v.89h-.89zM271.2 61.5h.89v.89h-.89z"/>
<path fill="#000" fill-opacity="0.42" d="M265.1 63.9h.89v.89h-.89zM283.0 52.8h.89v.89h-.89zM265.2 56.4h.89v.89h-.89zM263.7 68.3h.89v.89h-.89zM267.9 58.8h.89v.89h-.89zM267.1 63.0h.89v.89h-.89zM271.4 58.0h.89v.89h-.89zM270.4 61.8h.89v.89h-.89zM270.7 66.8h.89v.89h-.89zM263.2 55.2h.89v.89h-.89zM271.6 55.0h.89v.89h-.89zM268.4 61.6h.89v.89h-.89zM269.8 53.3h.89v.89h-.89zM269.7 57.2h.89v.89h-.89zM272.4 56.9h.89v.89h-.89zM266.6 60.4h.89v.89h-.89zM268.2 60.6h.89v.89h-.89zM271.5 55.3h.89v.89h-.89zM268.3 55.0h.89v.89h-.89zM271.3 68.7h.89v.89h-.89zM269.6 59.5h.89v.89h-.89zM262.4 66.6h.89v.89h-.89zM263.1 58.6h.89v.89h-.89zM275.4 55.1h.89v.89h-.89zM263.9 64.1h.89v.89h-.89zM261.3 67.3h.89v.89h-.89zM271.7 57.7h.89v.89h-.89zM272.6 58.5h.89v.89h-.89zM261.6 62.1h.89v.89h-.89zM263.2 67.0h.89v.89h-.89zM269.4 62.8h.89v.89h-.89zM265.2 54.5h.89v.89h-.89zM264.4 58.5h.89v.89h-.89zM264.9 62.8h.89v.89h-.89zM269.4 51.4h.89v.89h-.89zM269.3 62.6h.89v.89h-.89zM276.1 59.7h.89v.89h-.89zM266.9 56.6h.89v.89h-.89zM275.0 60.5h.89v.89h-.89zM277.9 59.3h.89v.89h-.89zM268.2 62.0h.89v.89h-.89zM263.3 57.0h.89v.89h-.89zM268.6 53.4h.89v.89h-.89zM271.4 55.0h.89v.89h-.89zM271.3 61.1h.89v.89h-.89zM269.3 55.3h.89v.89h-.89zM268.5 59.9h.89v.89h-.89zM273.4 57.1h.89v.89h-.89zM269.5 58.1h.89v.89h-.89zM268.4 58.6h.89v.89h-.89zM277.8 58.4h.89v.89h-.89zM270.2 60.3h.89v.89h-.89zM277.5 53.3h.89v.89h-.89zM266.2 58.5h.89v.89h-.89zM267.8 60.5h.89v.89h-.89zM270.0 57.1h.89v.89h-.89zM264.6 62.9h.89v.89h-.89zM261.4 63.4h.89v.89h-.89zM276.3 58.8h.89v.89h-.89zM277.4 53.1h.89v.89h-.89zM266.0 63.6h.89v.89h-.89zM272.4 61.2h.89v.89h-.89zM269.6 52.2h.89v.89h-.89zM264.1 55.6h.89v.89h-.89zM268.6 67.0h.89v.89h-.89zM270.3 58.6h.89v.89h-.89zM266.5 54.6h.89v.89h-.89zM278.5 60.4h.89v.89h-.89zM269.8 67.4h.89v.89h-.89zM270.7 58.5h.89v.89h-.89zM267.0 59.9h.89v.89h-.89zM269.5 53.9h.89v.89h-.89zM272.8 61.3h.89v.89h-.89zM274.9 59.1h.89v.89h-.89zM264.6 55.6h.89v.89h-.89zM271.3 58.5h.89v.89h-.89zM280.7 60.4h.89v.89h-.89zM274.7 59.5h.89v.89h-.89zM275.9 59.6h.89v.89h-.89zM263.9 58.7h.89v.89h-.89z"/>
<path d="M284.8 74.9 C286.3 71.9, 290.5 68.7, 295.0 68.5 C299.5 68.5, 302.5 71.0, 302.5 73.7 C302.5 76.3, 300.5 76.7, 294.0 76.7 C288.0 76.7, 284.8 76.4, 284.8 75.7 Z" fill="#505050" stroke="#000" stroke-width="1.0"/>
<defs><radialGradient id="rg9"><stop offset="0" stop-color="#fff" stop-opacity="1"/><stop offset="0.35" stop-color="#ddd" stop-opacity="1"/><stop offset="0.7" stop-color="#777" stop-opacity="0.8"/><stop offset="1" stop-color="#444" stop-opacity="0"/></radialGradient></defs>
<ellipse cx="296.20" cy="74.00" rx="5.80" ry="2.80" fill="url(#rg9)" transform="rotate(0 296.20 74.00)"/>
<path d="M260.3 52.5 L278.3 50.4 L282.5 57.1 L281.1 65.4 L277.4 69.1 L260.3 68.6 Z" fill="none" stroke="#fff" stroke-width="2.3" stroke-opacity="0.8"/>
<path d="M282.9 74.9 C284.5 70.7, 289.5 67.1, 295.0 66.8 C300.5 66.7, 304.2 70.2, 304.2 73.7 C304.2 77.5, 301.5 78.1, 294.0 78.1 C287.0 78.1, 282.9 77.7, 282.9 76.2 Z" fill="none" stroke="#fff" stroke-width="2.3" stroke-opacity="0.8"/>
<path d="M260.3 52.5 L278.3 50.4 L282.5 57.1 L281.1 65.4 L277.4 69.1 L260.3 68.6 Z" fill="none" stroke="#000" stroke-width="1.1"/>
<path d="M282.9 74.9 C284.5 70.7, 289.5 67.1, 295.0 66.8 C300.5 66.7, 304.2 70.2, 304.2 73.7 C304.2 77.5, 301.5 78.1, 294.0 78.1 C287.0 78.1, 282.9 77.7, 282.9 76.2 Z" fill="none" stroke="#000" stroke-width="1.1"/>
<text x="271.50" y="47.50" font-size="6.0" text-anchor="middle" font-weight="bold" fill="#000" stroke="#000" stroke-width="0.25" >15.2</text>
<text x="313.40" y="73.90" font-size="6.0" text-anchor="middle" font-weight="bold" fill="#000" stroke="#000" stroke-width="0.25" >79.9</text>
<path fill="#000" fill-opacity="0.16" d="M381.6 55.3h.71v.71h-.71zM382.6 59.1h.71v.71h-.71zM380.9 63.5h.71v.71h-.71zM367.0 64.5h.71v.71h-.71zM376.9 59.8h.71v.71h-.71zM369.8 59.4h.71v.71h-.71zM367.9 57.1h.71v.71h-.71zM372.0 62.4h.71v.71h-.71zM377.2 61.6h.71v.71h-.71zM376.2 56.8h.71v.71h-.71z"/>
<path fill="#000" fill-opacity="0.16" d="M369.9 56.5h.71v.71h-.71zM366.6 64.7h.71v.71h-.71zM377.4 60.3h.71v.71h-.71zM375.9 56.6h.71v.71h-.71zM377.7 63.4h.71v.71h-.71zM382.9 56.9h.71v.71h-.71zM369.5 57.6h.71v.71h-.71zM373.5 56.6h.71v.71h-.71zM378.3 65.3h.71v.71h-.71z"/>
<path fill="#000" fill-opacity="0.16" d="M376.2 59.6h.71v.71h-.71zM367.5 54.8h.71v.71h-.71zM367.7 57.3h.71v.71h-.71zM378.1 57.5h.71v.71h-.71zM365.8 59.9h.71v.71h-.71zM373.0 65.2h.71v.71h-.71zM366.3 56.1h.71v.71h-.71zM374.3 54.8h.71v.71h-.71zM369.2 63.1h.71v.71h-.71z"/>
<path fill="#000" fill-opacity="0.16" d="M373.0 64.4h.71v.71h-.71zM370.9 57.8h.71v.71h-.71zM377.5 61.1h.71v.71h-.71zM369.9 58.7h.71v.71h-.71zM377.8 62.4h.71v.71h-.71zM381.8 57.2h.71v.71h-.71zM373.0 59.3h.71v.71h-.71zM377.8 56.4h.71v.71h-.71zM371.1 57.5h.71v.71h-.71z"/>
<path fill="#000" fill-opacity="0.16" d="M377.6 64.1h.71v.71h-.71zM383.1 64.2h.71v.71h-.71zM380.1 64.5h.71v.71h-.71zM375.1 62.1h.71v.71h-.71zM377.3 56.6h.71v.71h-.71zM378.9 58.6h.71v.71h-.71zM367.0 61.1h.71v.71h-.71zM372.3 65.2h.71v.71h-.71zM380.4 61.3h.71v.71h-.71z"/>
<path fill="#000" fill-opacity="0.16" d="M382.9 57.6h.71v.71h-.71zM373.2 60.5h.71v.71h-.71zM383.0 56.8h.71v.71h-.71zM367.0 62.8h.71v.71h-.71zM382.9 63.3h.71v.71h-.71zM377.6 63.1h.71v.71h-.71zM382.6 61.0h.71v.71h-.71zM379.4 63.8h.71v.71h-.71zM380.9 64.3h.71v.71h-.71z"/>
<defs><radialGradient id="rg10"><stop offset="0" stop-color="#333" stop-opacity="0.6"/><stop offset="0.6" stop-color="#555" stop-opacity="0.35"/><stop offset="1" stop-color="#888" stop-opacity="0"/></radialGradient></defs>
<ellipse cx="354.00" cy="73.00" rx="10.00" ry="4.80" fill="url(#rg10)" transform="rotate(0 354.00 73.00)"/>
<path fill="#000" fill-opacity="0.55" d="M359.1 72.9h.8v.8h-.8zM354.5 72.6h.8v.8h-.8zM355.4 72.9h.8v.8h-.8zM358.8 71.3h.8v.8h-.8zM356.1 76.1h.8v.8h-.8zM351.4 71.3h.8v.8h-.8zM346.3 69.2h.8v.8h-.8zM354.7 70.6h.8v.8h-.8zM350.7 73.0h.8v.8h-.8zM350.2 72.8h.8v.8h-.8zM352.0 71.8h.8v.8h-.8zM360.4 74.3h.8v.8h-.8zM355.0 73.2h.8v.8h-.8zM355.8 72.4h.8v.8h-.8zM353.4 71.3h.8v.8h-.8zM356.0 70.9h.8v.8h-.8zM346.0 69.4h.8v.8h-.8zM355.0 77.8h.8v.8h-.8zM354.9 70.9h.8v.8h-.8zM355.4 71.7h.8v.8h-.8zM355.4 67.9h.8v.8h-.8zM353.4 71.0h.8v.8h-.8zM350.1 77.1h.8v.8h-.8zM350.8 74.3h.8v.8h-.8zM345.4 71.9h.8v.8h-.8zM351.0 67.2h.8v.8h-.8zM359.4 72.6h.8v.8h-.8zM344.0 72.5h.8v.8h-.8zM353.4 74.5h.8v.8h-.8zM350.8 72.4h.8v.8h-.8zM354.9 72.2h.8v.8h-.8zM349.7 76.1h.8v.8h-.8zM351.5 75.2h.8v.8h-.8zM354.5 73.4h.8v.8h-.8zM353.1 72.5h.8v.8h-.8zM352.6 66.8h.8v.8h-.8zM354.5 73.7h.8v.8h-.8zM359.4 71.1h.8v.8h-.8zM350.1 72.1h.8v.8h-.8zM356.9 73.3h.8v.8h-.8zM353.5 67.9h.8v.8h-.8zM352.0 69.3h.8v.8h-.8zM353.5 74.3h.8v.8h-.8zM353.1 72.0h.8v.8h-.8zM358.6 71.0h.8v.8h-.8zM347.9 74.4h.8v.8h-.8zM360.2 70.2h.8v.8h-.8zM350.0 72.7h.8v.8h-.8zM355.4 72.2h.8v.8h-.8zM357.9 74.2h.8v.8h-.8zM356.3 68.8h.8v.8h-.8zM359.2 72.4h.8v.8h-.8zM354.5 72.2h.8v.8h-.8zM355.7 75.2h.8v.8h-.8zM361.2 71.9h.8v.8h-.8zM345.4 73.6h.8v.8h-.8zM353.1 74.9h.8v.8h-.8zM357.9 72.1h.8v.8h-.8zM346.5 77.1h.8v.8h-.8zM354.2 72.7h.8v.8h-.8z"/>
<path fill="#000" fill-opacity="0.55" d="M353.1 70.7h.8v.8h-.8zM361.5 76.3h.8v.8h-.8zM354.6 73.5h.8v.8h-.8zM356.1 73.0h.8v.8h-.8zM356.3 68.6h.8v.8h-.8zM353.3 75.1h.8v.8h-.8zM354.7 74.6h.8v.8h-.8zM350.7 76.1h.8v.8h-.8zM357.5 74.5h.8v.8h-.8zM352.0 71.1h.8v.8h-.8zM347.4 73.5h.8v.8h-.8zM354.2 70.0h.8v.8h-.8zM356.5 75.1h.8v.8h-.8zM353.2 76.5h.8v.8h-.8zM357.5 78.3h.8v.8h-.8zM357.1 76.1h.8v.8h-.8zM357.4 72.0h.8v.8h-.8zM348.2 74.4h.8v.8h-.8zM351.1 70.7h.8v.8h-.8zM360.5 71.1h.8v.8h-.8zM354.5 74.7h.8v.8h-.8zM349.2 73.2h.8v.8h-.8zM351.7 72.1h.8v.8h-.8zM360.3 71.7h.8v.8h-.8zM354.6 70.4h.8v.8h-.8zM354.7 74.5h.8v.8h-.8zM354.4 71.1h.8v.8h-.8zM362.7 69.1h.8v.8h-.8zM348.9 74.0h.8v.8h-.8zM345.8 69.5h.8v.8h-.8zM358.2 71.7h.8v.8h-.8zM353.7 74.2h.8v.8h-.8zM355.7 75.1h.8v.8h-.8zM350.1 66.6h.8v.8h-.8zM357.9 69.5h.8v.8h-.8zM356.2 74.4h.8v.8h-.8zM360.1 70.0h.8v.8h-.8zM349.6 72.9h.8v.8h-.8zM349.5 76.5h.8v.8h-.8zM352.9 68.8h.8v.8h-.8zM352.1 73.3h.8v.8h-.8zM355.6 73.5h.8v.8h-.8zM368.0 71.4h.8v.8h-.8zM346.2 74.2h.8v.8h-.8zM355.3 73.8h.8v.8h-.8zM347.0 71.0h.8v.8h-.8zM355.6 68.3h.8v.8h-.8zM355.3 72.1h.8v.8h-.8zM354.0 71.5h.8v.8h-.8zM353.1 71.0h.8v.8h-.8zM345.0 73.9h.8v.8h-.8zM353.5 71.3h.8v.8h-.8zM348.7 73.2h.8v.8h-.8zM352.2 73.8h.8v.8h-.8zM349.8 70.4h.8v.8h-.8zM363.5 71.3h.8v.8h-.8zM346.4 71.2h.8v.8h-.8zM349.9 72.0h.8v.8h-.8zM349.9 70.4h.8v.8h-.8zM350.7 72.1h.8v.8h-.8z"/>
<path fill="#000" fill-opacity="0.55" d="M354.0 72.7h.8v.8h-.8zM356.1 72.3h.8v.8h-.8zM348.7 70.0h.8v.8h-.8zM352.0 70.4h.8v.8h-.8zM353.8 73.7h.8v.8h-.8zM346.5 71.8h.8v.8h-.8zM351.8 71.0h.8v.8h-.8zM359.4 73.7h.8v.8h-.8zM349.4 72.3h.8v.8h-.8zM351.5 75.1h.8v.8h-.8zM353.4 73.3h.8v.8h-.8zM357.5 73.8h.8v.8h-.8zM355.0 71.3h.8v.8h-.8zM361.2 69.3h.8v.8h-.8zM360.1 75.3h.8v.8h-.8zM352.0 73.9h.8v.8h-.8zM358.4 69.0h.8v.8h-.8zM359.3 70.0h.8v.8h-.8zM354.9 71.5h.8v.8h-.8zM350.7 69.5h.8v.8h-.8zM353.6 73.7h.8v.8h-.8zM357.2 67.0h.8v.8h-.8zM346.4 70.2h.8v.8h-.8zM360.7 76.4h.8v.8h-.8zM354.9 76.5h.8v.8h-.8zM350.1 76.0h.8v.8h-.8zM358.4 71.0h.8v.8h-.8zM343.2 72.2h.8v.8h-.8zM351.7 72.8h.8v.8h-.8zM355.4 75.6h.8v.8h-.8zM355.1 73.1h.8v.8h-.8zM356.0 74.7h.8v.8h-.8zM342.4 75.0h.8v.8h-.8zM350.1 73.9h.8v.8h-.8zM349.7 75.3h.8v.8h-.8zM358.3 69.2h.8v.8h-.8zM357.5 73.0h.8v.8h-.8zM348.9 74.7h.8v.8h-.8zM357.3 75.7h.8v.8h-.8zM362.8 69.5h.8v.8h-.8zM358.9 69.7h.8v.8h-.8zM356.2 75.6h.8v.8h-.8zM352.8 71.2h.8v.8h-.8zM349.2 71.4h.8v.8h-.8zM348.5 75.1h.8v.8h-.8zM344.0 75.9h.8v.8h-.8zM360.5 72.4h.8v.8h-.8zM360.5 70.9h.8v.8h-.8zM353.2 73.8h.8v.8h-.8zM351.5 71.0h.8v.8h-.8zM344.6 76.0h.8v.8h-.8zM350.7 70.8h.8v.8h-.8zM352.2 68.8h.8v.8h-.8zM358.2 71.4h.8v.8h-.8zM356.6 70.5h.8v.8h-.8zM357.2 75.7h.8v.8h-.8zM351.3 71.8h.8v.8h-.8zM356.6 72.9h.8v.8h-.8zM358.0 69.9h.8v.8h-.8zM351.3 72.5h.8v.8h-.8z"/>
<path fill="#000" fill-opacity="0.55" d="M356.8 75.9h.8v.8h-.8zM350.8 75.1h.8v.8h-.8zM353.0 76.8h.8v.8h-.8zM352.9 70.9h.8v.8h-.8zM350.6 70.0h.8v.8h-.8zM360.7 73.3h.8v.8h-.8zM355.4 74.0h.8v.8h-.8zM354.8 73.0h.8v.8h-.8zM352.4 69.7h.8v.8h-.8zM351.8 68.6h.8v.8h-.8zM363.4 72.0h.8v.8h-.8zM363.2 76.0h.8v.8h-.8zM357.1 76.2h.8v.8h-.8zM342.5 73.6h.8v.8h-.8zM351.8 74.1h.8v.8h-.8zM346.3 74.8h.8v.8h-.8zM353.2 74.9h.8v.8h-.8zM354.0 78.0h.8v.8h-.8zM349.6 72.1h.8v.8h-.8zM362.3 74.0h.8v.8h-.8zM353.1 73.1h.8v.8h-.8zM351.3 75.8h.8v.8h-.8zM348.5 72.3h.8v.8h-.8zM359.5 73.3h.8v.8h-.8zM354.6 71.0h.8v.8h-.8zM355.8 75.4h.8v.8h-.8zM354.1 67.8h.8v.8h-.8zM351.3 72.1h.8v.8h-.8zM357.7 72.7h.8v.8h-.8zM352.2 68.7h.8v.8h-.8zM355.6 69.1h.8v.8h-.8zM350.8 71.2h.8v.8h-.8zM342.8 73.1h.8v.8h-.8zM349.9 73.6h.8v.8h-.8zM357.6 71.4h.8v.8h-.8zM347.9 70.7h.8v.8h-.8zM348.4 73.0h.8v.8h-.8zM354.4 70.8h.8v.8h-.8zM356.5 72.8h.8v.8h-.8zM344.0 70.9h.8v.8h-.8zM343.5 68.8h.8v.8h-.8zM348.0 67.0h.8v.8h-.8zM354.7 73.8h.8v.8h-.8zM358.1 70.4h.8v.8h-.8zM361.7 72.7h.8v.8h-.8zM363.5 71.1h.8v.8h-.8zM350.5 76.3h.8v.8h-.8zM358.1 75.9h.8v.8h-.8zM357.0 70.7h.8v.8h-.8zM346.7 76.5h.8v.8h-.8zM351.4 72.8h.8v.8h-.8zM353.6 77.0h.8v.8h-.8zM347.8 77.2h.8v.8h-.8zM354.4 70.8h.8v.8h-.8zM361.7 75.7h.8v.8h-.8zM349.3 71.8h.8v.8h-.8zM356.9 71.1h.8v.8h-.8zM356.2 74.0h.8v.8h-.8zM349.7 75.1h.8v.8h-.8zM357.1 69.6h.8v.8h-.8z"/>
<path fill="#000" fill-opacity="0.55" d="M356.9 72.6h.8v.8h-.8zM351.6 74.9h.8v.8h-.8zM353.1 70.4h.8v.8h-.8zM356.0 68.5h.8v.8h-.8zM355.5 73.8h.8v.8h-.8zM354.3 74.6h.8v.8h-.8zM354.7 68.1h.8v.8h-.8zM351.0 72.5h.8v.8h-.8zM353.9 71.5h.8v.8h-.8zM350.2 74.5h.8v.8h-.8zM357.1 74.5h.8v.8h-.8zM357.1 73.2h.8v.8h-.8zM350.0 73.6h.8v.8h-.8zM350.7 71.4h.8v.8h-.8zM353.4 75.3h.8v.8h-.8zM357.4 70.2h.8v.8h-.8zM350.6 74.2h.8v.8h-.8zM358.2 65.7h.8v.8h-.8zM355.4 70.6h.8v.8h-.8zM348.9 71.8h.8v.8h-.8zM354.5 71.0h.8v.8h-.8zM357.6 70.9h.8v.8h-.8zM345.6 75.1h.8v.8h-.8zM347.1 74.2h.8v.8h-.8zM364.0 67.6h.8v.8h-.8zM346.9 72.6h.8v.8h-.8zM347.0 76.8h.8v.8h-.8zM348.1 69.4h.8v.8h-.8zM352.1 68.7h.8v.8h-.8zM351.9 68.9h.8v.8h-.8zM356.7 74.7h.8v.8h-.8zM355.3 74.0h.8v.8h-.8zM350.7 72.9h.8v.8h-.8zM352.0 70.4h.8v.8h-.8zM350.1 73.4h.8v.8h-.8zM347.8 77.5h.8v.8h-.8zM347.4 76.5h.8v.8h-.8zM350.5 74.3h.8v.8h-.8zM361.2 74.2h.8v.8h-.8zM362.3 75.5h.8v.8h-.8zM355.1 72.8h.8v.8h-.8zM345.6 77.7h.8v.8h-.8zM349.2 75.8h.8v.8h-.8zM351.3 74.7h.8v.8h-.8zM354.8 69.8h.8v.8h-.8zM350.7 71.2h.8v.8h-.8zM353.1 75.9h.8v.8h-.8zM344.8 70.3h.8v.8h-.8zM353.1 70.8h.8v.8h-.8zM368.4 69.7h.8v.8h-.8zM353.6 71.3h.8v.8h-.8zM358.6 73.2h.8v.8h-.8zM354.6 73.8h.8v.8h-.8zM356.3 71.7h.8v.8h-.8zM355.9 69.2h.8v.8h-.8zM354.8 73.7h.8v.8h-.8zM365.9 70.9h.8v.8h-.8zM349.6 70.4h.8v.8h-.8zM349.9 78.6h.8v.8h-.8zM349.5 67.6h.8v.8h-.8z"/>
<path fill="#000" fill-opacity="0.55" d="M352.9 76.4h.8v.8h-.8zM350.2 72.8h.8v.8h-.8zM350.7 72.7h.8v.8h-.8zM358.6 74.4h.8v.8h-.8zM351.7 72.0h.8v.8h-.8zM349.2 69.8h.8v.8h-.8zM351.2 66.7h.8v.8h-.8zM362.0 70.6h.8v.8h-.8zM357.6 73.6h.8v.8h-.8zM363.0 70.1h.8v.8h-.8zM350.8 71.2h.8v.8h-.8zM353.9 71.3h.8v.8h-.8zM356.0 73.9h.8v.8h-.8zM346.6 73.4h.8v.8h-.8zM356.1 72.5h.8v.8h-.8zM361.2 72.9h.8v.8h-.8zM352.0 73.4h.8v.8h-.8zM352.6 68.6h.8v.8h-.8zM358.5 68.7h.8v.8h-.8zM349.4 76.2h.8v.8h-.8zM355.1 73.0h.8v.8h-.8zM359.5 70.3h.8v.8h-.8zM352.0 71.2h.8v.8h-.8zM351.8 73.1h.8v.8h-.8zM349.6 73.6h.8v.8h-.8zM360.6 77.3h.8v.8h-.8zM353.9 73.1h.8v.8h-.8zM348.2 74.1h.8v.8h-.8zM353.9 74.4h.8v.8h-.8zM352.4 77.1h.8v.8h-.8zM343.5 66.2h.8v.8h-.8zM356.1 73.4h.8v.8h-.8zM351.5 71.9h.8v.8h-.8zM358.8 76.5h.8v.8h-.8zM347.3 71.4h.8v.8h-.8zM349.3 71.9h.8v.8h-.8zM350.3 75.0h.8v.8h-.8zM347.1 76.6h.8v.8h-.8zM355.6 74.0h.8v.8h-.8zM350.9 73.2h.8v.8h-.8zM354.3 73.0h.8v.8h-.8zM349.5 73.6h.8v.8h-.8zM358.8 73.7h.8v.8h-.8zM362.0 70.9h.8v.8h-.8zM361.6 72.8h.8v.8h-.8zM351.1 73.9h.8v.8h-.8zM358.4 76.6h.8v.8h-.8zM349.5 71.3h.8v.8h-.8zM352.8 69.2h.8v.8h-.8zM348.4 74.0h.8v.8h-.8zM353.0 71.9h.8v.8h-.8zM361.1 75.0h.8v.8h-.8zM354.5 71.5h.8v.8h-.8zM358.8 70.8h.8v.8h-.8zM353.5 70.9h.8v.8h-.8zM348.4 73.1h.8v.8h-.8zM357.4 75.0h.8v.8h-.8zM360.1 71.4h.8v.8h-.8zM354.0 79.0h.8v.8h-.8zM360.4 72.4h.8v.8h-.8z"/>
<path d="M343.2 52.5 L361.2 50.6 L365.4 57.5 L364.5 64.5 L360.3 69.1 L343.7 69.1 Z" fill="#888" fill-opacity="0.6"/>
<defs><radialGradient id="rg11"><stop offset="0" stop-color="#7c7c7c" stop-opacity="1"/><stop offset="0.3" stop-color="#6c6c6c" stop-opacity="1"/><stop offset="0.58" stop-color="#383838" stop-opacity="1"/><stop offset="0.76" stop-color="#141414" stop-opacity="1"/><stop offset="0.94" stop-color="#111" stop-opacity="1"/><stop offset="1" stop-color="#444" stop-opacity="0"/></radialGradient></defs>
<ellipse cx="353.60" cy="60.20" rx="10.80" ry="10.60" fill="url(#rg11)" transform="rotate(0 353.60 60.20)"/>
<path d="M367.9 74.9 C369.4 71.8, 373.6 68.6, 378.5 68.5 C383 68.5, 385.8 71.0, 385.8 73.6 C385.8 76.1, 383.5 76.4, 376.5 76.4 C371 76.4, 367.9 76.2, 367.9 75.6 Z" fill="#505050" stroke="#000" stroke-width="1.0"/>
<defs><radialGradient id="rg12"><stop offset="0" stop-color="#fff" stop-opacity="1"/><stop offset="0.35" stop-color="#ddd" stop-opacity="1"/><stop offset="0.7" stop-color="#777" stop-opacity="0.8"/><stop offset="1" stop-color="#444" stop-opacity="0"/></radialGradient></defs>
<ellipse cx="379.00" cy="73.80" rx="5.80" ry="2.80" fill="url(#rg12)" transform="rotate(0 379.00 73.80)"/>
<path d="M343.2 52.5 L361.2 50.6 L365.4 57.5 L364.5 64.5 L360.3 69.1 L343.7 69.1 Z" fill="none" stroke="#fff" stroke-width="2.3" stroke-opacity="0.8"/>
<path d="M366.0 74.8 C367.6 70.5, 372.5 66.9, 378.5 66.8 C384 66.7, 387.5 70.0, 387.5 73.5 C387.5 77.3, 384.5 77.9, 376.5 77.9 C370 77.9, 366.0 77.5, 366.0 76.0 Z" fill="none" stroke="#fff" stroke-width="2.3" stroke-opacity="0.8"/>
<path d="M343.2 52.5 L361.2 50.6 L365.4 57.5 L364.5 64.5 L360.3 69.1 L343.7 69.1 Z" fill="none" stroke="#000" stroke-width="1.1"/>
<path d="M366.0 74.8 C367.6 70.5, 372.5 66.9, 378.5 66.8 C384 66.7, 387.5 70.0, 387.5 73.5 C387.5 77.3, 384.5 77.9, 376.5 77.9 C370 77.9, 366.0 77.5, 366.0 76.0 Z" fill="none" stroke="#000" stroke-width="1.1"/>
<text x="354.00" y="47.50" font-size="6.0" text-anchor="middle" font-weight="bold" fill="#000" stroke="#000" stroke-width="0.25" >52</text>
<text x="397.00" y="73.90" font-size="6.0" text-anchor="middle" font-weight="bold" fill="#000" stroke="#000" stroke-width="0.25" >44.7</text>
<path fill="#000" fill-opacity="0.28" d="M124.3 128.6h.8v.8h-.8zM114.6 131.4h.8v.8h-.8zM109.9 136.6h.8v.8h-.8zM122.9 136.6h.8v.8h-.8zM122.4 129.7h.8v.8h-.8zM116.0 133.7h.8v.8h-.8zM119.2 131.0h.8v.8h-.8zM127.8 142.2h.8v.8h-.8zM117.8 141.2h.8v.8h-.8zM114.6 129.8h.8v.8h-.8zM125.6 135.7h.8v.8h-.8zM115.1 132.4h.8v.8h-.8zM121.5 135.8h.8v.8h-.8zM110.7 130.3h.8v.8h-.8zM111.1 141.1h.8v.8h-.8zM119.5 137.6h.8v.8h-.8zM123.0 130.6h.8v.8h-.8zM114.1 141.8h.8v.8h-.8zM116.4 144.0h.8v.8h-.8zM119.8 131.4h.8v.8h-.8zM125.5 139.4h.8v.8h-.8zM114.1 134.3h.8v.8h-.8zM126.9 137.6h.8v.8h-.8zM124.3 142.4h.8v.8h-.8zM116.7 132.0h.8v.8h-.8zM118.3 143.1h.8v.8h-.8zM128.9 130.7h.8v.8h-.8zM109.6 142.7h.8v.8h-.8zM113.6 130.8h.8v.8h-.8zM118.8 142.2h.8v.8h-.8zM112.3 131.6h.8v.8h-.8zM108.6 146.8h.8v.8h-.8zM110.8 134.9h.8v.8h-.8zM121.5 133.1h.8v.8h-.8zM114.4 140.4h.8v.8h-.8zM121.3 135.8h.8v.8h-.8zM126.0 129.2h.8v.8h-.8zM129.2 131.7h.8v.8h-.8zM127.7 144.3h.8v.8h-.8zM125.5 134.4h.8v.8h-.8zM111.4 135.9h.8v.8h-.8zM130.4 137.7h.8v.8h-.8zM116.9 136.5h.8v.8h-.8zM113.2 129.6h.8v.8h-.8zM122.4 133.9h.8v.8h-.8zM116.9 147.3h.8v.8h-.8zM125.4 140.7h.8v.8h-.8zM110.7 133.4h.8v.8h-.8zM116.7 130.9h.8v.8h-.8zM112.8 140.5h.8v.8h-.8zM125.1 140.0h.8v.8h-.8zM129.6 130.2h.8v.8h-.8zM117.7 146.6h.8v.8h-.8zM119.9 147.4h.8v.8h-.8zM111.4 136.7h.8v.8h-.8zM114.9 137.4h.8v.8h-.8zM122.2 130.5h.8v.8h-.8zM122.6 135.1h.8v.8h-.8zM125.3 136.3h.8v.8h-.8zM120.6 128.6h.8v.8h-.8zM114.2 144.7h.8v.8h-.8zM119.8 132.0h.8v.8h-.8zM127.3 141.7h.8v.8h-.8zM127.9 134.7h.8v.8h-.8z"/>
<path fill="#000" fill-opacity="0.28" d="M118.0 147.0h.8v.8h-.8zM116.5 145.7h.8v.8h-.8zM125.3 133.2h.8v.8h-.8zM119.9 146.4h.8v.8h-.8zM116.0 130.5h.8v.8h-.8zM113.5 136.2h.8v.8h-.8zM111.1 134.7h.8v.8h-.8zM117.0 141.4h.8v.8h-.8zM120.3 133.8h.8v.8h-.8zM113.6 135.0h.8v.8h-.8zM128.5 137.0h.8v.8h-.8zM128.6 133.0h.8v.8h-.8zM126.1 144.0h.8v.8h-.8zM118.1 138.2h.8v.8h-.8zM116.5 136.2h.8v.8h-.8zM114.3 140.8h.8v.8h-.8zM116.1 129.1h.8v.8h-.8zM116.7 138.3h.8v.8h-.8zM114.7 140.7h.8v.8h-.8zM127.7 136.0h.8v.8h-.8zM113.4 143.4h.8v.8h-.8zM111.1 132.8h.8v.8h-.8zM123.1 139.2h.8v.8h-.8zM109.1 137.0h.8v.8h-.8zM119.6 136.5h.8v.8h-.8zM112.0 138.5h.8v.8h-.8zM124.4 129.0h.8v.8h-.8zM129.4 136.4h.8v.8h-.8zM119.7 142.3h.8v.8h-.8zM123.1 130.6h.8v.8h-.8zM113.3 135.0h.8v.8h-.8zM114.2 129.1h.8v.8h-.8zM129.2 143.4h.8v.8h-.8zM119.4 136.1h.8v.8h-.8zM120.5 135.7h.8v.8h-.8zM125.3 140.3h.8v.8h-.8zM126.2 133.1h.8v.8h-.8zM110.0 134.9h.8v.8h-.8zM126.9 146.1h.8v.8h-.8zM126.5 131.6h.8v.8h-.8zM114.8 142.6h.8v.8h-.8zM128.9 141.1h.8v.8h-.8zM116.6 130.6h.8v.8h-.8zM113.8 143.4h.8v.8h-.8zM113.7 132.1h.8v.8h-.8zM127.9 129.2h.8v.8h-.8zM124.7 141.3h.8v.8h-.8zM129.6 128.9h.8v.8h-.8zM114.1 139.6h.8v.8h-.8zM130.2 132.2h.8v.8h-.8zM129.7 130.5h.8v.8h-.8zM124.6 140.1h.8v.8h-.8zM124.7 129.4h.8v.8h-.8zM109.0 134.8h.8v.8h-.8zM118.1 139.3h.8v.8h-.8zM113.9 133.4h.8v.8h-.8zM124.7 130.9h.8v.8h-.8zM111.3 139.3h.8v.8h-.8zM118.0 146.1h.8v.8h-.8zM118.1 129.9h.8v.8h-.8zM115.1 130.5h.8v.8h-.8zM111.0 131.9h.8v.8h-.8zM123.7 143.7h.8v.8h-.8zM120.4 130.5h.8v.8h-.8z"/>
<path fill="#000" fill-opacity="0.28" d="M121.1 128.8h.8v.8h-.8zM111.7 131.6h.8v.8h-.8zM113.9 130.4h.8v.8h-.8zM112.0 134.4h.8v.8h-.8zM124.4 138.3h.8v.8h-.8zM118.1 131.6h.8v.8h-.8zM121.4 142.3h.8v.8h-.8zM121.1 132.3h.8v.8h-.8zM116.9 134.1h.8v.8h-.8zM116.7 133.7h.8v.8h-.8zM121.7 133.5h.8v.8h-.8zM121.2 134.7h.8v.8h-.8zM109.8 135.8h.8v.8h-.8zM112.3 138.3h.8v.8h-.8zM123.2 141.2h.8v.8h-.8zM122.1 131.9h.8v.8h-.8zM110.1 130.0h.8v.8h-.8zM127.9 135.4h.8v.8h-.8zM116.9 139.6h.8v.8h-.8zM112.6 139.6h.8v.8h-.8zM124.6 132.9h.8v.8h-.8zM115.8 130.7h.8v.8h-.8zM121.2 133.3h.8v.8h-.8zM121.7 135.0h.8v.8h-.8zM117.0 136.9h.8v.8h-.8zM129.2 145.7h.8v.8h-.8zM111.4 137.6h.8v.8h-.8zM127.6 130.5h.8v.8h-.8zM117.7 145.6h.8v.8h-.8zM122.9 141.7h.8v.8h-.8zM112.0 142.2h.8v.8h-.8zM124.2 139.7h.8v.8h-.8zM118.8 143.0h.8v.8h-.8zM119.7 134.7h.8v.8h-.8zM117.5 130.5h.8v.8h-.8zM109.2 137.3h.8v.8h-.8zM121.9 134.8h.8v.8h-.8zM111.5 134.4h.8v.8h-.8zM121.1 133.8h.8v.8h-.8zM116.3 145.3h.8v.8h-.8zM122.6 137.7h.8v.8h-.8zM119.9 134.1h.8v.8h-.8zM120.0 139.7h.8v.8h-.8zM120.4 138.7h.8v.8h-.8zM123.0 136.1h.8v.8h-.8zM117.1 143.2h.8v.8h-.8zM113.0 134.5h.8v.8h-.8zM115.7 132.4h.8v.8h-.8zM126.0 139.3h.8v.8h-.8zM109.5 133.8h.8v.8h-.8zM124.5 134.6h.8v.8h-.8zM128.9 136.9h.8v.8h-.8zM119.4 137.9h.8v.8h-.8zM111.3 136.5h.8v.8h-.8zM117.2 136.7h.8v.8h-.8zM126.1 137.5h.8v.8h-.8zM116.1 139.5h.8v.8h-.8zM119.9 133.4h.8v.8h-.8zM117.0 133.8h.8v.8h-.8zM115.8 133.3h.8v.8h-.8zM123.6 134.0h.8v.8h-.8zM119.9 137.7h.8v.8h-.8zM112.0 141.1h.8v.8h-.8z"/>
<path fill="#000" fill-opacity="0.28" d="M108.9 132.5h.8v.8h-.8zM121.5 143.8h.8v.8h-.8zM117.1 135.0h.8v.8h-.8zM128.6 142.0h.8v.8h-.8zM123.3 136.8h.8v.8h-.8zM110.8 138.1h.8v.8h-.8zM123.9 135.6h.8v.8h-.8zM119.2 135.0h.8v.8h-.8zM124.7 132.6h.8v.8h-.8zM127.7 136.9h.8v.8h-.8zM117.2 135.8h.8v.8h-.8zM119.8 130.9h.8v.8h-.8zM110.9 133.5h.8v.8h-.8zM116.8 145.0h.8v.8h-.8zM117.5 133.0h.8v.8h-.8zM115.5 139.1h.8v.8h-.8zM111.3 131.6h.8v.8h-.8zM117.5 138.6h.8v.8h-.8zM118.2 128.6h.8v.8h-.8zM119.1 138.8h.8v.8h-.8zM122.9 135.7h.8v.8h-.8zM125.8 147.5h.8v.8h-.8zM127.6 130.1h.8v.8h-.8zM123.3 134.1h.8v.8h-.8zM129.9 134.7h.8v.8h-.8zM120.9 136.5h.8v.8h-.8zM111.9 132.8h.8v.8h-.8zM114.7 138.0h.8v.8h-.8zM129.4 133.5h.8v.8h-.8zM117.9 135.7h.8v.8h-.8zM115.3 133.7h.8v.8h-.8zM111.3 144.7h.8v.8h-.8zM111.4 131.2h.8v.8h-.8zM130.5 132.5h.8v.8h-.8zM126.2 140.0h.8v.8h-.8zM119.1 140.7h.8v.8h-.8zM114.0 138.4h.8v.8h-.8zM121.4 130.9h.8v.8h-.8zM120.5 131.2h.8v.8h-.8zM110.2 142.9h.8v.8h-.8zM121.1 145.0h.8v.8h-.8zM116.8 144.3h.8v.8h-.8zM130.2 136.5h.8v.8h-.8zM115.2 129.9h.8v.8h-.8zM120.3 140.7h.8v.8h-.8zM125.2 137.9h.8v.8h-.8zM110.7 135.2h.8v.8h-.8zM128.4 129.1h.8v.8h-.8zM115.9 131.1h.8v.8h-.8zM111.9 138.6h.8v.8h-.8zM117.6 142.9h.8v.8h-.8zM126.5 133.8h.8v.8h-.8zM119.9 143.8h.8v.8h-.8zM115.2 142.5h.8v.8h-.8zM130.0 130.3h.8v.8h-.8zM127.5 130.8h.8v.8h-.8zM118.3 144.1h.8v.8h-.8zM114.7 143.5h.8v.8h-.8zM128.1 135.4h.8v.8h-.8zM123.0 130.8h.8v.8h-.8zM110.5 147.3h.8v.8h-.8zM109.5 144.4h.8v.8h-.8zM111.5 131.7h.8v.8h-.8z"/>
<path fill="#000" fill-opacity="0.28" d="M123.9 129.9h.8v.8h-.8zM119.7 139.5h.8v.8h-.8zM121.9 132.0h.8v.8h-.8zM112.3 129.5h.8v.8h-.8zM110.6 145.8h.8v.8h-.8zM112.9 141.3h.8v.8h-.8zM108.7 130.3h.8v.8h-.8zM119.8 139.8h.8v.8h-.8zM116.5 134.4h.8v.8h-.8zM115.5 147.1h.8v.8h-.8zM116.8 143.1h.8v.8h-.8zM115.5 136.5h.8v.8h-.8zM118.3 147.5h.8v.8h-.8zM127.9 135.4h.8v.8h-.8zM118.7 144.4h.8v.8h-.8zM119.2 140.3h.8v.8h-.8zM126.4 142.5h.8v.8h-.8zM128.8 137.6h.8v.8h-.8zM121.8 140.5h.8v.8h-.8zM119.7 144.5h.8v.8h-.8zM109.7 133.3h.8v.8h-.8zM109.4 143.0h.8v.8h-.8zM128.0 147.2h.8v.8h-.8zM111.1 142.5h.8v.8h-.8zM114.7 130.7h.8v.8h-.8zM118.4 146.0h.8v.8h-.8zM110.6 132.3h.8v.8h-.8zM118.2 134.0h.8v.8h-.8zM110.4 145.0h.8v.8h-.8zM124.9 141.0h.8v.8h-.8zM108.9 136.9h.8v.8h-.8zM120.7 144.0h.8v.8h-.8zM112.4 147.1h.8v.8h-.8zM108.9 130.4h.8v.8h-.8zM125.3 129.5h.8v.8h-.8zM124.1 146.6h.8v.8h-.8zM116.2 143.9h.8v.8h-.8zM119.8 131.3h.8v.8h-.8zM128.2 133.2h.8v.8h-.8zM123.3 130.2h.8v.8h-.8zM114.3 130.6h.8v.8h-.8zM125.2 137.5h.8v.8h-.8zM121.6 138.9h.8v.8h-.8zM123.0 132.9h.8v.8h-.8zM125.8 142.3h.8v.8h-.8zM125.6 132.7h.8v.8h-.8zM121.3 131.9h.8v.8h-.8zM115.4 128.9h.8v.8h-.8zM122.0 130.5h.8v.8h-.8zM126.1 130.4h.8v.8h-.8zM119.0 144.0h.8v.8h-.8zM128.9 133.7h.8v.8h-.8zM127.9 136.6h.8v.8h-.8zM126.3 147.2h.8v.8h-.8zM124.5 136.1h.8v.8h-.8zM130.3 142.2h.8v.8h-.8zM129.5 134.8h.8v.8h-.8zM112.2 132.3h.8v.8h-.8zM118.7 138.6h.8v.8h-.8zM112.2 133.5h.8v.8h-.8zM122.1 135.3h.8v.8h-.8zM115.6 131.3h.8v.8h-.8zM111.4 135.9h.8v.8h-.8z"/>
<path fill="#000" fill-opacity="0.28" d="M130.2 130.7h.8v.8h-.8zM117.7 138.9h.8v.8h-.8zM110.4 134.9h.8v.8h-.8zM127.2 140.9h.8v.8h-.8zM113.5 136.2h.8v.8h-.8zM126.5 137.6h.8v.8h-.8zM127.6 140.7h.8v.8h-.8zM114.7 138.2h.8v.8h-.8zM125.2 142.5h.8v.8h-.8zM128.2 136.7h.8v.8h-.8zM123.6 140.5h.8v.8h-.8zM113.9 144.9h.8v.8h-.8zM118.8 132.6h.8v.8h-.8zM122.1 139.3h.8v.8h-.8zM124.7 129.1h.8v.8h-.8zM121.1 142.9h.8v.8h-.8zM122.1 145.0h.8v.8h-.8zM125.9 132.4h.8v.8h-.8zM112.8 130.5h.8v.8h-.8zM129.1 132.4h.8v.8h-.8zM114.2 130.2h.8v.8h-.8zM129.1 136.1h.8v.8h-.8zM118.9 131.1h.8v.8h-.8zM129.2 129.1h.8v.8h-.8zM118.5 145.2h.8v.8h-.8zM121.5 142.1h.8v.8h-.8zM111.6 144.2h.8v.8h-.8zM115.2 133.8h.8v.8h-.8zM114.3 140.3h.8v.8h-.8zM121.1 138.4h.8v.8h-.8zM108.9 145.0h.8v.8h-.8zM120.5 133.7h.8v.8h-.8zM110.3 137.2h.8v.8h-.8zM121.4 128.8h.8v.8h-.8zM126.8 145.6h.8v.8h-.8zM115.7 145.3h.8v.8h-.8zM109.0 133.7h.8v.8h-.8zM126.4 133.0h.8v.8h-.8zM123.4 130.9h.8v.8h-.8zM118.5 129.2h.8v.8h-.8zM125.5 131.6h.8v.8h-.8zM110.6 147.2h.8v.8h-.8zM114.1 134.6h.8v.8h-.8zM119.3 129.3h.8v.8h-.8zM113.7 142.0h.8v.8h-.8zM108.6 133.5h.8v.8h-.8zM111.2 142.9h.8v.8h-.8zM114.6 132.6h.8v.8h-.8zM128.1 129.2h.8v.8h-.8zM127.5 131.0h.8v.8h-.8zM120.6 129.1h.8v.8h-.8zM123.2 139.7h.8v.8h-.8zM113.9 137.3h.8v.8h-.8zM113.2 130.6h.8v.8h-.8zM121.6 135.6h.8v.8h-.8zM111.8 129.8h.8v.8h-.8zM111.0 136.4h.8v.8h-.8zM113.3 134.9h.8v.8h-.8zM112.5 135.0h.8v.8h-.8zM126.7 139.7h.8v.8h-.8zM118.2 146.3h.8v.8h-.8zM125.8 131.0h.8v.8h-.8zM111.2 133.5h.8v.8h-.8z"/>
<path fill="#000" fill-opacity="0.3" d="M137.3 128.1h.8v.8h-.8zM145.5 128.4h.8v.8h-.8zM141.7 136.3h.8v.8h-.8zM131.7 133.8h.8v.8h-.8zM147.1 124.8h.8v.8h-.8zM133.0 143.2h.8v.8h-.8zM147.2 129.7h.8v.8h-.8zM141.0 135.7h.8v.8h-.8zM145.9 127.4h.8v.8h-.8zM138.7 131.5h.8v.8h-.8zM132.0 137.7h.8v.8h-.8zM138.4 126.0h.8v.8h-.8zM142.3 138.7h.8v.8h-.8zM138.6 127.8h.8v.8h-.8zM148.8 140.5h.8v.8h-.8zM145.7 129.2h.8v.8h-.8zM146.5 143.1h.8v.8h-.8zM147.2 127.2h.8v.8h-.8zM136.8 131.1h.8v.8h-.8zM148.5 137.5h.8v.8h-.8zM147.4 127.0h.8v.8h-.8zM140.3 142.2h.8v.8h-.8zM140.6 131.2h.8v.8h-.8zM135.1 141.6h.8v.8h-.8zM134.2 131.3h.8v.8h-.8zM133.1 127.2h.8v.8h-.8zM135.4 127.6h.8v.8h-.8zM146.0 130.5h.8v.8h-.8zM131.9 124.7h.8v.8h-.8zM141.4 133.8h.8v.8h-.8zM136.5 138.2h.8v.8h-.8zM145.3 128.5h.8v.8h-.8zM140.8 131.2h.8v.8h-.8zM143.9 127.1h.8v.8h-.8zM132.4 136.5h.8v.8h-.8zM148.2 127.6h.8v.8h-.8zM133.3 141.9h.8v.8h-.8zM146.1 132.9h.8v.8h-.8zM134.2 140.4h.8v.8h-.8zM144.3 128.4h.8v.8h-.8zM148.0 126.6h.8v.8h-.8zM138.9 126.6h.8v.8h-.8zM139.1 137.0h.8v.8h-.8zM139.4 125.8h.8v.8h-.8zM149.1 146.3h.8v.8h-.8zM135.6 126.3h.8v.8h-.8zM147.5 126.0h.8v.8h-.8zM142.2 136.7h.8v.8h-.8zM135.7 128.8h.8v.8h-.8zM141.2 134.8h.8v.8h-.8zM138.2 133.5h.8v.8h-.8zM133.5 131.5h.8v.8h-.8zM139.0 125.6h.8v.8h-.8zM148.7 126.6h.8v.8h-.8zM135.6 124.9h.8v.8h-.8z"/>
<path fill="#000" fill-opacity="0.3" d="M144.1 134.3h.8v.8h-.8zM141.1 150.5h.8v.8h-.8zM133.0 127.5h.8v.8h-.8zM142.2 146.8h.8v.8h-.8zM139.5 129.2h.8v.8h-.8zM137.4 132.8h.8v.8h-.8zM149.3 125.9h.8v.8h-.8zM144.8 143.4h.8v.8h-.8zM133.8 133.0h.8v.8h-.8zM134.7 131.4h.8v.8h-.8zM136.3 134.6h.8v.8h-.8zM148.5 131.3h.8v.8h-.8zM148.6 135.0h.8v.8h-.8zM140.5 146.0h.8v.8h-.8zM147.3 128.6h.8v.8h-.8zM149.3 124.4h.8v.8h-.8zM133.5 125.5h.8v.8h-.8zM145.5 138.3h.8v.8h-.8zM140.6 133.9h.8v.8h-.8zM138.0 129.5h.8v.8h-.8zM134.9 133.2h.8v.8h-.8zM145.5 132.5h.8v.8h-.8zM140.9 127.0h.8v.8h-.8zM142.9 142.5h.8v.8h-.8zM145.2 136.1h.8v.8h-.8zM134.9 129.1h.8v.8h-.8zM139.5 135.8h.8v.8h-.8zM132.2 126.4h.8v.8h-.8zM143.5 138.5h.8v.8h-.8zM135.0 133.3h.8v.8h-.8zM135.8 140.5h.8v.8h-.8zM131.7 127.5h.8v.8h-.8zM136.3 129.8h.8v.8h-.8zM136.4 127.0h.8v.8h-.8zM147.6 127.6h.8v.8h-.8zM149.5 132.5h.8v.8h-.8zM145.2 138.8h.8v.8h-.8zM146.1 135.5h.8v.8h-.8zM145.1 129.0h.8v.8h-.8zM132.3 136.9h.8v.8h-.8zM147.2 126.2h.8v.8h-.8zM134.8 126.2h.8v.8h-.8zM132.9 131.8h.8v.8h-.8zM135.7 130.1h.8v.8h-.8zM140.3 130.1h.8v.8h-.8zM139.7 127.5h.8v.8h-.8zM148.1 127.3h.8v.8h-.8zM134.7 137.4h.8v.8h-.8zM132.9 124.8h.8v.8h-.8zM141.1 133.9h.8v.8h-.8zM138.5 137.8h.8v.8h-.8zM148.5 128.8h.8v.8h-.8zM137.8 136.0h.8v.8h-.8zM140.4 125.5h.8v.8h-.8zM140.0 124.4h.8v.8h-.8z"/>
<path fill="#000" fill-opacity="0.3" d="M146.2 133.4h.8v.8h-.8zM146.9 128.2h.8v.8h-.8zM135.6 124.7h.8v.8h-.8zM148.5 127.0h.8v.8h-.8zM142.2 135.9h.8v.8h-.8zM148.1 127.0h.8v.8h-.8zM148.3 142.5h.8v.8h-.8zM143.0 132.7h.8v.8h-.8zM132.7 136.1h.8v.8h-.8zM132.7 132.4h.8v.8h-.8zM131.6 131.3h.8v.8h-.8zM143.7 130.5h.8v.8h-.8zM145.3 130.1h.8v.8h-.8zM134.0 129.8h.8v.8h-.8zM139.9 137.0h.8v.8h-.8zM135.7 125.4h.8v.8h-.8zM147.2 127.5h.8v.8h-.8zM135.6 142.1h.8v.8h-.8zM136.1 126.1h.8v.8h-.8zM145.3 126.5h.8v.8h-.8zM140.0 125.4h.8v.8h-.8zM134.9 143.2h.8v.8h-.8zM145.3 134.1h.8v.8h-.8zM132.7 125.8h.8v.8h-.8zM138.8 138.4h.8v.8h-.8zM136.0 129.1h.8v.8h-.8zM141.5 131.7h.8v.8h-.8zM140.5 127.2h.8v.8h-.8zM135.5 135.3h.8v.8h-.8zM144.7 136.4h.8v.8h-.8zM141.0 141.9h.8v.8h-.8zM133.1 137.1h.8v.8h-.8zM144.8 131.5h.8v.8h-.8zM141.1 126.2h.8v.8h-.8zM145.9 132.8h.8v.8h-.8zM136.1 137.9h.8v.8h-.8zM140.9 130.0h.8v.8h-.8zM138.2 124.3h.8v.8h-.8zM132.3 139.3h.8v.8h-.8zM135.2 125.3h.8v.8h-.8zM148.5 133.5h.8v.8h-.8zM141.8 126.6h.8v.8h-.8zM144.4 136.4h.8v.8h-.8zM148.3 124.5h.8v.8h-.8zM133.9 132.0h.8v.8h-.8zM141.1 132.2h.8v.8h-.8zM141.0 145.6h.8v.8h-.8zM145.1 141.2h.8v.8h-.8zM137.2 127.8h.8v.8h-.8zM145.6 134.6h.8v.8h-.8zM139.7 141.7h.8v.8h-.8zM143.7 128.2h.8v.8h-.8zM135.0 137.2h.8v.8h-.8zM145.0 131.3h.8v.8h-.8zM136.2 126.6h.8v.8h-.8z"/>
<path fill="#000" fill-opacity="0.3" d="M146.0 132.5h.8v.8h-.8zM149.5 141.9h.8v.8h-.8zM132.6 138.6h.8v.8h-.8zM136.2 124.8h.8v.8h-.8zM133.3 143.7h.8v.8h-.8zM143.7 134.3h.8v.8h-.8zM132.9 125.1h.8v.8h-.8zM148.2 138.7h.8v.8h-.8zM141.8 126.2h.8v.8h-.8zM138.2 124.1h.8v.8h-.8zM137.4 135.5h.8v.8h-.8zM145.1 129.9h.8v.8h-.8zM148.5 136.4h.8v.8h-.8zM141.2 140.1h.8v.8h-.8zM144.5 138.9h.8v.8h-.8zM138.0 143.8h.8v.8h-.8zM142.4 127.4h.8v.8h-.8zM142.1 130.7h.8v.8h-.8zM143.9 140.2h.8v.8h-.8zM140.6 125.1h.8v.8h-.8zM148.5 137.6h.8v.8h-.8zM138.5 139.3h.8v.8h-.8zM148.4 125.6h.8v.8h-.8zM148.8 131.7h.8v.8h-.8zM148.8 129.3h.8v.8h-.8zM143.9 140.0h.8v.8h-.8zM146.6 129.8h.8v.8h-.8zM139.2 138.0h.8v.8h-.8zM132.2 124.5h.8v.8h-.8zM147.2 134.9h.8v.8h-.8zM134.9 129.2h.8v.8h-.8zM134.7 132.9h.8v.8h-.8zM142.8 126.1h.8v.8h-.8zM137.7 127.6h.8v.8h-.8zM137.2 135.7h.8v.8h-.8zM134.4 127.5h.8v.8h-.8zM145.7 142.8h.8v.8h-.8zM137.7 129.0h.8v.8h-.8zM134.5 128.0h.8v.8h-.8zM144.1 124.4h.8v.8h-.8zM134.2 130.1h.8v.8h-.8zM142.7 124.5h.8v.8h-.8zM144.1 139.2h.8v.8h-.8zM133.7 130.3h.8v.8h-.8zM136.2 129.4h.8v.8h-.8zM138.7 147.7h.8v.8h-.8zM146.7 131.5h.8v.8h-.8zM135.7 142.0h.8v.8h-.8zM147.5 128.0h.8v.8h-.8zM139.4 140.7h.8v.8h-.8zM147.9 124.3h.8v.8h-.8zM142.0 144.0h.8v.8h-.8zM140.4 129.3h.8v.8h-.8zM133.7 126.8h.8v.8h-.8zM134.3 135.1h.8v.8h-.8z"/>
<path fill="#000" fill-opacity="0.3" d="M132.5 124.4h.8v.8h-.8zM133.8 126.2h.8v.8h-.8zM136.7 125.2h.8v.8h-.8zM144.1 133.7h.8v.8h-.8zM147.5 128.9h.8v.8h-.8zM139.2 129.2h.8v.8h-.8zM131.7 131.0h.8v.8h-.8zM137.7 133.7h.8v.8h-.8zM137.2 127.5h.8v.8h-.8zM145.9 127.6h.8v.8h-.8zM137.4 124.6h.8v.8h-.8zM134.7 130.8h.8v.8h-.8zM137.2 127.0h.8v.8h-.8zM136.2 128.2h.8v.8h-.8zM149.3 126.0h.8v.8h-.8zM140.9 138.9h.8v.8h-.8zM147.0 124.4h.8v.8h-.8zM147.0 134.2h.8v.8h-.8zM135.5 131.2h.8v.8h-.8zM146.6 140.7h.8v.8h-.8zM139.9 131.7h.8v.8h-.8zM147.9 142.1h.8v.8h-.8zM143.2 134.8h.8v.8h-.8zM140.2 128.0h.8v.8h-.8zM148.3 132.4h.8v.8h-.8zM138.3 141.7h.8v.8h-.8zM141.6 133.1h.8v.8h-.8zM141.5 129.6h.8v.8h-.8zM147.5 130.3h.8v.8h-.8zM132.8 129.8h.8v.8h-.8zM146.2 125.8h.8v.8h-.8zM144.5 133.1h.8v.8h-.8zM135.3 137.0h.8v.8h-.8zM144.9 139.6h.8v.8h-.8zM143.7 125.8h.8v.8h-.8zM133.2 127.5h.8v.8h-.8zM136.3 132.7h.8v.8h-.8zM147.4 132.2h.8v.8h-.8zM146.1 126.8h.8v.8h-.8zM137.6 134.9h.8v.8h-.8zM131.6 135.6h.8v.8h-.8zM147.0 125.1h.8v.8h-.8zM139.9 125.8h.8v.8h-.8zM134.6 148.2h.8v.8h-.8zM148.7 125.5h.8v.8h-.8zM133.9 124.6h.8v.8h-.8zM138.7 142.0h.8v.8h-.8zM140.6 134.3h.8v.8h-.8zM132.8 141.1h.8v.8h-.8zM149.5 131.8h.8v.8h-.8zM147.7 140.5h.8v.8h-.8zM132.5 142.5h.8v.8h-.8zM143.8 130.2h.8v.8h-.8zM142.1 124.5h.8v.8h-.8zM139.9 128.6h.8v.8h-.8z"/>
<path fill="#000" fill-opacity="0.3" d="M145.6 128.3h.8v.8h-.8zM137.4 131.3h.8v.8h-.8zM140.4 128.9h.8v.8h-.8zM148.3 138.7h.8v.8h-.8zM131.9 136.0h.8v.8h-.8zM141.6 133.1h.8v.8h-.8zM147.5 137.9h.8v.8h-.8zM131.7 135.6h.8v.8h-.8zM142.7 130.4h.8v.8h-.8zM135.6 142.2h.8v.8h-.8zM144.9 137.7h.8v.8h-.8zM143.4 126.5h.8v.8h-.8zM132.9 128.8h.8v.8h-.8zM140.2 137.0h.8v.8h-.8zM147.9 127.9h.8v.8h-.8zM142.0 136.4h.8v.8h-.8zM149.1 131.3h.8v.8h-.8zM140.1 143.7h.8v.8h-.8zM140.9 131.8h.8v.8h-.8zM144.3 124.3h.8v.8h-.8zM144.5 130.4h.8v.8h-.8zM139.0 134.0h.8v.8h-.8zM147.7 133.1h.8v.8h-.8zM147.5 125.3h.8v.8h-.8zM137.3 138.8h.8v.8h-.8zM138.3 138.2h.8v.8h-.8zM135.3 129.2h.8v.8h-.8zM144.8 128.6h.8v.8h-.8zM139.0 143.1h.8v.8h-.8zM146.9 138.3h.8v.8h-.8zM148.8 129.6h.8v.8h-.8zM140.2 144.7h.8v.8h-.8zM136.2 146.8h.8v.8h-.8zM135.9 137.2h.8v.8h-.8zM147.6 131.9h.8v.8h-.8zM148.1 144.8h.8v.8h-.8zM148.2 128.5h.8v.8h-.8zM143.4 139.2h.8v.8h-.8zM132.4 126.8h.8v.8h-.8zM135.0 126.6h.8v.8h-.8zM132.2 127.1h.8v.8h-.8zM144.0 129.0h.8v.8h-.8zM149.3 134.6h.8v.8h-.8zM137.7 149.7h.8v.8h-.8zM146.1 133.4h.8v.8h-.8zM141.0 130.4h.8v.8h-.8zM139.0 124.9h.8v.8h-.8zM144.1 141.3h.8v.8h-.8zM142.8 134.2h.8v.8h-.8zM146.6 134.1h.8v.8h-.8zM137.2 131.0h.8v.8h-.8zM148.3 143.1h.8v.8h-.8zM139.8 129.6h.8v.8h-.8zM137.6 128.6h.8v.8h-.8zM147.4 133.0h.8v.8h-.8z"/>
<path fill="#000" fill-opacity="0.32" d="M141.6 129.1h.89v.89h-.89zM129.9 128.9h.89v.89h-.89zM137.4 130.4h.89v.89h-.89zM136.2 127.5h.89v.89h-.89zM147.1 130.6h.89v.89h-.89zM136.7 130.8h.89v.89h-.89zM142.2 123.7h.89v.89h-.89zM133.7 130.0h.89v.89h-.89zM140.9 136.0h.89v.89h-.89zM145.7 126.8h.89v.89h-.89zM146.9 129.5h.89v.89h-.89zM142.3 133.9h.89v.89h-.89zM135.2 125.5h.89v.89h-.89zM134.3 129.2h.89v.89h-.89zM141.0 133.3h.89v.89h-.89zM138.3 127.5h.89v.89h-.89zM138.9 121.7h.89v.89h-.89zM133.6 130.9h.89v.89h-.89zM131.9 126.7h.89v.89h-.89zM146.1 124.3h.89v.89h-.89zM139.2 130.9h.89v.89h-.89zM141.1 127.6h.89v.89h-.89zM138.8 133.5h.89v.89h-.89zM132.2 132.1h.89v.89h-.89zM138.2 128.7h.89v.89h-.89zM135.9 129.5h.89v.89h-.89zM143.7 137.9h.89v.89h-.89zM142.7 138.3h.89v.89h-.89zM144.2 126.8h.89v.89h-.89zM144.0 127.1h.89v.89h-.89zM146.2 124.0h.89v.89h-.89zM135.4 133.0h.89v.89h-.89zM128.8 130.1h.89v.89h-.89zM133.8 136.0h.89v.89h-.89zM135.0 128.8h.89v.89h-.89zM134.5 134.6h.89v.89h-.89zM136.3 121.7h.89v.89h-.89z"/>
<path fill="#000" fill-opacity="0.32" d="M134.6 123.4h.89v.89h-.89zM136.8 131.9h.89v.89h-.89zM136.8 132.4h.89v.89h-.89zM142.2 125.4h.89v.89h-.89zM139.8 126.6h.89v.89h-.89zM133.4 132.3h.89v.89h-.89zM140.7 127.5h.89v.89h-.89zM143.5 128.1h.89v.89h-.89zM144.9 133.9h.89v.89h-.89zM149.0 134.2h.89v.89h-.89zM148.5 128.7h.89v.89h-.89zM143.1 133.5h.89v.89h-.89zM137.2 127.6h.89v.89h-.89zM141.9 129.6h.89v.89h-.89zM143.4 131.4h.89v.89h-.89zM140.9 128.7h.89v.89h-.89zM138.5 126.9h.89v.89h-.89zM140.8 127.9h.89v.89h-.89zM143.1 128.5h.89v.89h-.89zM135.8 133.2h.89v.89h-.89zM133.3 126.9h.89v.89h-.89zM135.5 127.1h.89v.89h-.89zM130.0 128.3h.89v.89h-.89zM141.1 128.2h.89v.89h-.89zM143.7 129.8h.89v.89h-.89zM132.1 132.8h.89v.89h-.89zM149.5 133.5h.89v.89h-.89zM132.7 125.2h.89v.89h-.89zM140.1 127.5h.89v.89h-.89zM147.9 132.8h.89v.89h-.89zM125.6 126.8h.89v.89h-.89zM138.8 132.2h.89v.89h-.89zM144.8 133.0h.89v.89h-.89zM135.0 131.4h.89v.89h-.89zM134.8 128.1h.89v.89h-.89zM142.3 134.6h.89v.89h-.89zM133.2 127.0h.89v.89h-.89z"/>
<path fill="#000" fill-opacity="0.32" d="M129.1 130.6h.89v.89h-.89zM142.9 130.2h.89v.89h-.89zM144.5 128.1h.89v.89h-.89zM145.9 129.0h.89v.89h-.89zM141.1 130.5h.89v.89h-.89zM146.4 122.3h.89v.89h-.89zM146.5 127.3h.89v.89h-.89zM145.8 125.0h.89v.89h-.89zM136.7 133.2h.89v.89h-.89zM142.0 130.2h.89v.89h-.89zM130.4 131.0h.89v.89h-.89zM146.1 133.8h.89v.89h-.89zM130.2 130.8h.89v.89h-.89zM142.6 125.4h.89v.89h-.89zM131.3 128.6h.89v.89h-.89zM155.1 134.6h.89v.89h-.89zM128.8 132.0h.89v.89h-.89zM136.0 127.3h.89v.89h-.89zM136.2 122.0h.89v.89h-.89zM131.8 125.3h.89v.89h-.89zM132.5 134.5h.89v.89h-.89zM134.8 121.5h.89v.89h-.89zM148.1 135.1h.89v.89h-.89zM151.4 130.8h.89v.89h-.89zM145.7 124.5h.89v.89h-.89zM137.9 129.5h.89v.89h-.89zM144.8 132.8h.89v.89h-.89zM136.2 132.1h.89v.89h-.89zM136.7 126.5h.89v.89h-.89zM139.2 136.7h.89v.89h-.89zM144.6 129.6h.89v.89h-.89zM136.1 124.1h.89v.89h-.89zM136.8 127.1h.89v.89h-.89zM138.6 128.6h.89v.89h-.89zM133.2 138.1h.89v.89h-.89zM138.2 139.4h.89v.89h-.89zM145.6 136.1h.89v.89h-.89z"/>
<path fill="#000" fill-opacity="0.32" d="M144.4 135.3h.89v.89h-.89zM146.9 137.6h.89v.89h-.89zM143.5 129.0h.89v.89h-.89zM150.4 126.0h.89v.89h-.89zM137.3 129.0h.89v.89h-.89zM139.1 130.4h.89v.89h-.89zM142.1 131.1h.89v.89h-.89zM128.6 125.0h.89v.89h-.89zM143.8 121.8h.89v.89h-.89zM137.8 127.1h.89v.89h-.89zM146.7 126.9h.89v.89h-.89zM142.3 139.8h.89v.89h-.89zM136.8 127.3h.89v.89h-.89zM138.1 134.3h.89v.89h-.89zM129.9 129.2h.89v.89h-.89zM134.3 132.7h.89v.89h-.89zM141.7 133.3h.89v.89h-.89zM139.8 122.4h.89v.89h-.89zM138.5 139.2h.89v.89h-.89zM130.3 134.4h.89v.89h-.89zM132.3 127.6h.89v.89h-.89zM145.8 119.3h.89v.89h-.89zM136.3 124.3h.89v.89h-.89zM142.8 137.3h.89v.89h-.89zM139.3 134.1h.89v.89h-.89zM135.8 134.3h.89v.89h-.89zM134.6 128.3h.89v.89h-.89zM137.2 124.1h.89v.89h-.89zM138.1 126.0h.89v.89h-.89zM134.2 129.9h.89v.89h-.89zM137.9 129.2h.89v.89h-.89zM151.3 135.4h.89v.89h-.89zM136.2 133.4h.89v.89h-.89zM135.0 124.1h.89v.89h-.89zM133.1 114.2h.89v.89h-.89zM131.3 137.8h.89v.89h-.89zM135.0 124.5h.89v.89h-.89z"/>
<path fill="#000" fill-opacity="0.32" d="M148.5 124.3h.89v.89h-.89zM137.9 133.5h.89v.89h-.89zM149.8 132.4h.89v.89h-.89zM134.1 134.4h.89v.89h-.89zM142.5 125.7h.89v.89h-.89zM135.7 123.7h.89v.89h-.89zM136.9 126.6h.89v.89h-.89zM145.8 124.6h.89v.89h-.89zM139.5 124.7h.89v.89h-.89zM139.7 122.7h.89v.89h-.89zM143.7 131.7h.89v.89h-.89zM145.1 133.5h.89v.89h-.89zM134.4 137.5h.89v.89h-.89zM141.5 130.2h.89v.89h-.89zM146.0 129.5h.89v.89h-.89zM137.5 128.3h.89v.89h-.89zM127.3 119.8h.89v.89h-.89zM137.1 130.9h.89v.89h-.89zM134.7 139.9h.89v.89h-.89zM140.8 134.9h.89v.89h-.89zM143.4 131.6h.89v.89h-.89zM144.5 128.6h.89v.89h-.89zM135.5 132.0h.89v.89h-.89zM136.6 131.4h.89v.89h-.89zM132.8 133.1h.89v.89h-.89zM140.1 134.0h.89v.89h-.89zM132.3 122.9h.89v.89h-.89zM142.1 128.2h.89v.89h-.89zM141.1 132.8h.89v.89h-.89zM143.1 130.2h.89v.89h-.89zM141.5 127.7h.89v.89h-.89zM142.3 131.5h.89v.89h-.89zM146.1 124.5h.89v.89h-.89zM143.5 132.6h.89v.89h-.89zM136.7 133.9h.89v.89h-.89zM135.4 127.9h.89v.89h-.89z"/>
<path fill="#000" fill-opacity="0.32" d="M142.7 125.6h.89v.89h-.89zM147.1 128.5h.89v.89h-.89zM147.4 133.2h.89v.89h-.89zM138.6 123.1h.89v.89h-.89zM147.7 129.4h.89v.89h-.89zM134.1 123.1h.89v.89h-.89zM143.3 128.2h.89v.89h-.89zM138.1 129.2h.89v.89h-.89zM125.4 126.6h.89v.89h-.89zM145.1 138.0h.89v.89h-.89zM138.2 125.4h.89v.89h-.89zM137.5 127.2h.89v.89h-.89zM144.9 131.2h.89v.89h-.89zM143.6 122.9h.89v.89h-.89zM142.1 130.2h.89v.89h-.89zM137.1 133.3h.89v.89h-.89zM147.1 130.7h.89v.89h-.89zM140.3 122.6h.89v.89h-.89zM127.9 123.6h.89v.89h-.89zM141.4 131.7h.89v.89h-.89zM142.5 129.9h.89v.89h-.89zM148.0 129.0h.89v.89h-.89zM133.0 133.5h.89v.89h-.89zM144.8 129.9h.89v.89h-.89zM138.5 133.7h.89v.89h-.89zM135.1 128.0h.89v.89h-.89zM138.8 131.0h.89v.89h-.89zM135.3 135.3h.89v.89h-.89zM138.3 122.6h.89v.89h-.89zM139.5 124.6h.89v.89h-.89zM136.1 127.8h.89v.89h-.89zM138.6 133.8h.89v.89h-.89zM137.7 129.8h.89v.89h-.89zM142.0 126.8h.89v.89h-.89zM132.9 136.3h.89v.89h-.89zM128.6 126.3h.89v.89h-.89z"/>
<defs><radialGradient id="rg13"><stop offset="0" stop-color="#222" stop-opacity="0.85"/><stop offset="0.6" stop-color="#333" stop-opacity="0.6"/><stop offset="1" stop-color="#555" stop-opacity="0"/></radialGradient></defs>
<ellipse cx="140.00" cy="126.50" rx="10.00" ry="4.50" fill="url(#rg13)" transform="rotate(0 140.00 126.50)"/>
<defs><radialGradient id="rg14"><stop offset="0" stop-color="#444" stop-opacity="0.6"/><stop offset="1" stop-color="#777" stop-opacity="0"/></radialGradient></defs>
<ellipse cx="141.00" cy="129.00" rx="9.00" ry="6.00" fill="url(#rg14)" transform="rotate(0 141.00 129.00)"/>
<defs><radialGradient id="rg15"><stop offset="0" stop-color="#888" stop-opacity="0.35"/><stop offset="1" stop-color="#aaa" stop-opacity="0"/></radialGradient></defs>
<ellipse cx="119.00" cy="133.00" rx="10.00" ry="5.00" fill="url(#rg15)" transform="rotate(0 119.00 133.00)"/>
<defs><radialGradient id="rg16"><stop offset="0" stop-color="#666" stop-opacity="0.6"/><stop offset="0.6" stop-color="#888" stop-opacity="0.35"/><stop offset="1" stop-color="#aaa" stop-opacity="0"/></radialGradient></defs>
<ellipse cx="109.50" cy="151.00" rx="5.00" ry="5.00" fill="url(#rg16)" transform="rotate(0 109.50 151.00)"/>
<path fill="#000" fill-opacity="0.35" d="M107.9 154.1h.8v.8h-.8zM108.0 148.5h.8v.8h-.8zM107.5 149.3h.8v.8h-.8zM113.8 150.6h.8v.8h-.8zM110.6 151.7h.8v.8h-.8zM107.1 148.4h.8v.8h-.8zM111.3 150.7h.8v.8h-.8zM105.6 150.1h.8v.8h-.8zM111.3 149.8h.8v.8h-.8zM107.7 151.1h.8v.8h-.8zM110.4 147.7h.8v.8h-.8zM108.2 151.4h.8v.8h-.8z"/>
<path fill="#000" fill-opacity="0.35" d="M107.2 150.3h.8v.8h-.8zM108.4 150.6h.8v.8h-.8zM105.4 147.7h.8v.8h-.8zM111.0 151.2h.8v.8h-.8zM109.2 151.1h.8v.8h-.8zM105.5 152.4h.8v.8h-.8zM109.2 149.4h.8v.8h-.8zM113.6 154.4h.8v.8h-.8zM105.7 151.3h.8v.8h-.8zM108.5 147.1h.8v.8h-.8zM110.3 148.3h.8v.8h-.8zM112.7 149.5h.8v.8h-.8z"/>
<path fill="#000" fill-opacity="0.35" d="M112.9 150.4h.8v.8h-.8zM112.3 147.9h.8v.8h-.8zM108.2 151.2h.8v.8h-.8zM106.3 151.1h.8v.8h-.8zM109.7 148.9h.8v.8h-.8zM107.1 150.2h.8v.8h-.8zM105.8 150.5h.8v.8h-.8zM109.0 146.1h.8v.8h-.8zM111.8 154.4h.8v.8h-.8zM108.6 149.5h.8v.8h-.8zM108.9 151.4h.8v.8h-.8zM114.2 146.7h.8v.8h-.8z"/>
<path fill="#000" fill-opacity="0.35" d="M107.3 146.8h.8v.8h-.8zM107.1 149.2h.8v.8h-.8zM113.3 150.9h.8v.8h-.8zM109.7 153.7h.8v.8h-.8zM109.0 146.6h.8v.8h-.8zM106.6 150.7h.8v.8h-.8zM107.2 150.2h.8v.8h-.8zM110.5 153.8h.8v.8h-.8zM106.8 154.6h.8v.8h-.8zM111.9 151.5h.8v.8h-.8zM108.2 147.5h.8v.8h-.8zM107.9 151.1h.8v.8h-.8z"/>
<path fill="#000" fill-opacity="0.35" d="M108.4 148.6h.8v.8h-.8zM109.3 150.2h.8v.8h-.8zM106.8 151.1h.8v.8h-.8zM105.0 145.7h.8v.8h-.8zM109.2 150.1h.8v.8h-.8zM110.4 153.6h.8v.8h-.8zM112.5 151.0h.8v.8h-.8zM106.6 153.0h.8v.8h-.8zM109.8 151.5h.8v.8h-.8zM112.1 152.3h.8v.8h-.8zM107.3 148.7h.8v.8h-.8z"/>
<path fill="#000" fill-opacity="0.35" d="M113.7 149.3h.8v.8h-.8zM107.7 151.6h.8v.8h-.8zM110.1 150.8h.8v.8h-.8zM110.6 151.6h.8v.8h-.8zM105.4 148.4h.8v.8h-.8zM110.7 147.8h.8v.8h-.8zM110.6 153.2h.8v.8h-.8zM108.4 148.5h.8v.8h-.8zM107.7 149.7h.8v.8h-.8zM104.2 149.1h.8v.8h-.8zM104.4 152.0h.8v.8h-.8z"/>
<defs><radialGradient id="rg17"><stop offset="0" stop-color="#333" stop-opacity="1"/><stop offset="0.7" stop-color="#222" stop-opacity="1"/><stop offset="0.85" stop-color="#333" stop-opacity="0.8"/><stop offset="1" stop-color="#666" stop-opacity="0"/></radialGradient></defs>
<ellipse cx="131.00" cy="119.00" rx="17.50" ry="9.00" fill="url(#rg17)" transform="rotate(-10 131.00 119.00)"/>
<defs><radialGradient id="rg18"><stop offset="0" stop-color="#444" stop-opacity="0.6"/><stop offset="0.7" stop-color="#666" stop-opacity="0.4"/><stop offset="1" stop-color="#888" stop-opacity="0"/></radialGradient></defs>
<ellipse cx="116.00" cy="123.50" rx="7.50" ry="5.50" fill="url(#rg18)" transform="rotate(0 116.00 123.50)"/>
<path fill="#000" fill-opacity="0.35" d="M111.5 123.2h.89v.89h-.89zM112.2 124.6h.89v.89h-.89zM120.8 122.8h.89v.89h-.89zM118.4 124.8h.89v.89h-.89zM113.7 121.2h.89v.89h-.89zM115.3 123.5h.89v.89h-.89zM122.3 122.0h.89v.89h-.89zM110.9 123.2h.89v.89h-.89zM115.4 127.2h.89v.89h-.89zM116.1 123.9h.89v.89h-.89zM116.0 126.9h.89v.89h-.89zM115.9 119.1h.89v.89h-.89zM117.1 124.6h.89v.89h-.89zM113.6 124.7h.89v.89h-.89zM117.3 123.5h.89v.89h-.89zM117.4 118.9h.89v.89h-.89zM115.8 120.3h.89v.89h-.89zM117.3 120.7h.89v.89h-.89zM117.1 121.1h.89v.89h-.89zM113.9 123.7h.89v.89h-.89zM113.4 122.1h.89v.89h-.89zM111.5 121.0h.89v.89h-.89zM117.7 125.6h.89v.89h-.89zM115.6 123.6h.89v.89h-.89zM118.4 125.9h.89v.89h-.89zM114.4 127.0h.89v.89h-.89zM112.9 121.7h.89v.89h-.89zM112.4 129.1h.89v.89h-.89zM114.6 127.5h.89v.89h-.89zM117.5 121.6h.89v.89h-.89z"/>
<path fill="#000" fill-opacity="0.35" d="M110.9 126.0h.89v.89h-.89zM115.7 127.9h.89v.89h-.89zM115.3 125.7h.89v.89h-.89zM116.4 127.8h.89v.89h-.89zM113.0 121.1h.89v.89h-.89zM116.1 119.9h.89v.89h-.89zM112.9 124.4h.89v.89h-.89zM108.4 126.0h.89v.89h-.89zM114.6 126.5h.89v.89h-.89zM116.1 126.7h.89v.89h-.89zM121.6 128.4h.89v.89h-.89zM117.4 129.7h.89v.89h-.89zM115.5 122.6h.89v.89h-.89zM118.6 122.1h.89v.89h-.89zM113.0 120.4h.89v.89h-.89zM112.0 124.2h.89v.89h-.89zM119.6 127.4h.89v.89h-.89zM114.1 123.5h.89v.89h-.89zM115.6 123.6h.89v.89h-.89zM112.9 122.1h.89v.89h-.89zM111.1 123.8h.89v.89h-.89zM119.2 120.7h.89v.89h-.89zM114.1 118.6h.89v.89h-.89zM115.2 121.4h.89v.89h-.89zM113.4 119.9h.89v.89h-.89zM112.9 122.2h.89v.89h-.89zM110.7 121.9h.89v.89h-.89zM122.0 126.1h.89v.89h-.89zM117.7 122.2h.89v.89h-.89zM120.6 120.2h.89v.89h-.89z"/>
<path fill="#000" fill-opacity="0.35" d="M115.6 130.0h.89v.89h-.89zM123.0 120.9h.89v.89h-.89zM118.8 124.1h.89v.89h-.89zM112.3 124.4h.89v.89h-.89zM117.7 120.2h.89v.89h-.89zM110.1 123.6h.89v.89h-.89zM110.1 124.9h.89v.89h-.89zM120.1 122.8h.89v.89h-.89zM115.7 122.4h.89v.89h-.89zM110.7 125.6h.89v.89h-.89zM108.0 121.3h.89v.89h-.89zM118.7 121.6h.89v.89h-.89zM112.8 121.3h.89v.89h-.89zM113.7 122.7h.89v.89h-.89zM111.8 126.1h.89v.89h-.89zM116.1 124.4h.89v.89h-.89zM117.0 124.6h.89v.89h-.89zM115.0 128.3h.89v.89h-.89zM111.2 122.4h.89v.89h-.89zM119.9 125.6h.89v.89h-.89zM113.9 126.4h.89v.89h-.89zM115.8 121.8h.89v.89h-.89zM118.9 121.1h.89v.89h-.89zM118.3 120.4h.89v.89h-.89zM117.6 122.2h.89v.89h-.89zM117.8 122.0h.89v.89h-.89zM116.6 123.1h.89v.89h-.89zM120.0 124.3h.89v.89h-.89zM110.9 125.9h.89v.89h-.89zM112.9 122.1h.89v.89h-.89z"/>
<path fill="#000" fill-opacity="0.35" d="M116.2 125.1h.89v.89h-.89zM116.0 123.6h.89v.89h-.89zM115.6 120.8h.89v.89h-.89zM117.7 121.5h.89v.89h-.89zM114.9 119.7h.89v.89h-.89zM117.2 123.6h.89v.89h-.89zM110.1 124.0h.89v.89h-.89zM114.0 122.6h.89v.89h-.89zM117.8 120.4h.89v.89h-.89zM115.1 120.6h.89v.89h-.89zM114.4 121.5h.89v.89h-.89zM125.5 119.4h.89v.89h-.89zM114.9 121.1h.89v.89h-.89zM109.5 125.9h.89v.89h-.89zM116.5 126.6h.89v.89h-.89zM114.4 120.7h.89v.89h-.89zM118.0 125.8h.89v.89h-.89zM113.9 128.5h.89v.89h-.89zM116.2 125.0h.89v.89h-.89zM113.0 122.3h.89v.89h-.89zM114.6 122.9h.89v.89h-.89zM121.2 118.8h.89v.89h-.89zM118.7 122.2h.89v.89h-.89zM118.3 125.4h.89v.89h-.89zM119.7 124.0h.89v.89h-.89zM114.8 124.7h.89v.89h-.89zM118.5 118.3h.89v.89h-.89zM121.1 122.3h.89v.89h-.89zM108.6 120.5h.89v.89h-.89zM117.3 123.1h.89v.89h-.89z"/>
<path fill="#000" fill-opacity="0.35" d="M116.8 121.4h.89v.89h-.89zM110.2 124.6h.89v.89h-.89zM117.3 126.0h.89v.89h-.89zM106.2 125.4h.89v.89h-.89zM114.4 120.6h.89v.89h-.89zM115.3 122.3h.89v.89h-.89zM121.4 122.8h.89v.89h-.89zM108.2 120.7h.89v.89h-.89zM115.7 125.3h.89v.89h-.89zM113.9 122.3h.89v.89h-.89zM115.0 119.5h.89v.89h-.89zM114.3 124.5h.89v.89h-.89zM113.2 123.3h.89v.89h-.89zM118.5 118.8h.89v.89h-.89zM113.9 123.8h.89v.89h-.89zM112.5 122.1h.89v.89h-.89zM115.7 122.4h.89v.89h-.89zM119.5 118.0h.89v.89h-.89zM114.1 121.9h.89v.89h-.89zM115.7 127.2h.89v.89h-.89zM118.2 124.9h.89v.89h-.89zM110.0 120.4h.89v.89h-.89zM119.2 123.4h.89v.89h-.89zM115.9 121.2h.89v.89h-.89zM113.5 125.2h.89v.89h-.89zM113.9 119.2h.89v.89h-.89zM117.7 124.0h.89v.89h-.89zM118.3 121.8h.89v.89h-.89zM112.1 124.2h.89v.89h-.89zM119.7 117.3h.89v.89h-.89z"/>
<path fill="#000" fill-opacity="0.35" d="M115.1 121.0h.89v.89h-.89zM107.0 121.1h.89v.89h-.89zM119.6 120.8h.89v.89h-.89zM114.0 126.1h.89v.89h-.89zM117.5 125.0h.89v.89h-.89zM118.4 120.8h.89v.89h-.89zM109.8 122.7h.89v.89h-.89zM115.8 127.5h.89v.89h-.89zM110.1 121.6h.89v.89h-.89zM111.7 120.7h.89v.89h-.89zM111.7 125.8h.89v.89h-.89zM115.7 126.1h.89v.89h-.89zM122.5 123.6h.89v.89h-.89zM117.7 122.1h.89v.89h-.89zM115.9 121.4h.89v.89h-.89zM115.3 124.6h.89v.89h-.89zM120.4 121.2h.89v.89h-.89zM117.9 125.2h.89v.89h-.89zM117.2 117.9h.89v.89h-.89zM118.4 121.8h.89v.89h-.89zM118.2 125.7h.89v.89h-.89zM112.0 122.2h.89v.89h-.89zM109.7 121.9h.89v.89h-.89zM116.7 122.8h.89v.89h-.89zM109.8 126.3h.89v.89h-.89zM114.4 124.0h.89v.89h-.89zM109.6 125.3h.89v.89h-.89zM122.8 121.5h.89v.89h-.89zM116.9 124.9h.89v.89h-.89zM118.3 122.6h.89v.89h-.89z"/>
<defs><radialGradient id="rg19"><stop offset="0" stop-color="#aaa" stop-opacity="0.9"/><stop offset="0.6" stop-color="#777" stop-opacity="0.6"/><stop offset="1" stop-color="#555" stop-opacity="0"/></radialGradient></defs>
<ellipse cx="127.50" cy="117.50" rx="3.20" ry="5.00" fill="url(#rg19)" transform="rotate(0 127.50 117.50)"/>
<defs><radialGradient id="rg20"><stop offset="0" stop-color="#aaa" stop-opacity="0.9"/><stop offset="0.6" stop-color="#777" stop-opacity="0.6"/><stop offset="1" stop-color="#555" stop-opacity="0"/></radialGradient></defs>
<ellipse cx="136.50" cy="117.00" rx="3.20" ry="5.00" fill="url(#rg20)" transform="rotate(0 136.50 117.00)"/>
<path fill="#000" fill-opacity="0.3" d="M139.0 115.5h.89v.89h-.89zM127.3 122.4h.89v.89h-.89zM122.8 119.5h.89v.89h-.89zM132.0 123.6h.89v.89h-.89zM124.2 125.5h.89v.89h-.89zM125.7 122.4h.89v.89h-.89zM120.1 124.1h.89v.89h-.89zM125.0 118.9h.89v.89h-.89zM125.1 122.2h.89v.89h-.89zM138.0 116.9h.89v.89h-.89zM126.7 120.6h.89v.89h-.89zM127.1 112.6h.89v.89h-.89zM121.8 115.1h.89v.89h-.89zM122.9 121.7h.89v.89h-.89zM118.9 124.1h.89v.89h-.89zM129.7 114.5h.89v.89h-.89zM128.1 117.4h.89v.89h-.89zM124.2 111.1h.89v.89h-.89zM127.0 124.4h.89v.89h-.89zM116.6 130.4h.89v.89h-.89zM120.9 126.0h.89v.89h-.89zM118.8 123.0h.89v.89h-.89zM130.2 116.0h.89v.89h-.89zM117.8 123.1h.89v.89h-.89zM132.3 118.3h.89v.89h-.89zM128.4 127.5h.89v.89h-.89zM117.0 122.7h.89v.89h-.89zM114.1 113.0h.89v.89h-.89zM128.1 126.7h.89v.89h-.89zM122.7 117.3h.89v.89h-.89zM121.0 117.9h.89v.89h-.89zM109.1 129.6h.89v.89h-.89zM121.9 117.9h.89v.89h-.89zM137.2 115.5h.89v.89h-.89zM128.4 121.9h.89v.89h-.89zM125.6 115.5h.89v.89h-.89zM99.6 121.6h.89v.89h-.89z"/>
<path fill="#000" fill-opacity="0.3" d="M116.3 128.8h.89v.89h-.89zM135.8 114.9h.89v.89h-.89zM141.7 106.5h.89v.89h-.89zM99.9 120.4h.89v.89h-.89zM154.2 111.1h.89v.89h-.89zM140.3 120.6h.89v.89h-.89zM133.4 113.3h.89v.89h-.89zM129.1 114.1h.89v.89h-.89zM158.2 116.8h.89v.89h-.89zM135.7 119.6h.89v.89h-.89zM136.2 119.0h.89v.89h-.89zM121.7 122.1h.89v.89h-.89zM138.0 117.5h.89v.89h-.89zM116.9 122.0h.89v.89h-.89zM127.1 118.7h.89v.89h-.89zM136.7 119.7h.89v.89h-.89zM128.1 123.8h.89v.89h-.89zM138.9 112.6h.89v.89h-.89zM133.1 116.6h.89v.89h-.89zM160.1 110.9h.89v.89h-.89zM134.0 121.3h.89v.89h-.89zM135.1 120.5h.89v.89h-.89zM111.1 123.0h.89v.89h-.89zM120.5 119.9h.89v.89h-.89zM139.3 115.5h.89v.89h-.89zM123.8 117.1h.89v.89h-.89zM121.9 118.9h.89v.89h-.89zM128.6 114.7h.89v.89h-.89zM129.2 112.4h.89v.89h-.89zM125.9 117.6h.89v.89h-.89zM124.8 122.0h.89v.89h-.89zM126.7 114.6h.89v.89h-.89zM119.7 113.9h.89v.89h-.89zM115.0 120.0h.89v.89h-.89zM114.2 120.7h.89v.89h-.89zM122.7 122.7h.89v.89h-.89zM146.6 110.7h.89v.89h-.89z"/>
<path fill="#000" fill-opacity="0.3" d="M134.8 111.9h.89v.89h-.89zM130.9 118.8h.89v.89h-.89zM136.8 108.0h.89v.89h-.89zM129.2 119.5h.89v.89h-.89zM121.1 118.9h.89v.89h-.89zM134.0 121.5h.89v.89h-.89zM120.4 120.3h.89v.89h-.89zM121.5 117.1h.89v.89h-.89zM135.5 120.4h.89v.89h-.89zM137.4 117.8h.89v.89h-.89zM126.8 118.5h.89v.89h-.89zM121.3 116.9h.89v.89h-.89zM103.0 124.2h.89v.89h-.89zM141.8 120.9h.89v.89h-.89zM140.9 118.9h.89v.89h-.89zM123.8 112.5h.89v.89h-.89zM127.4 119.6h.89v.89h-.89zM137.8 119.0h.89v.89h-.89zM124.2 117.6h.89v.89h-.89zM138.6 114.6h.89v.89h-.89zM131.5 120.7h.89v.89h-.89zM125.0 123.4h.89v.89h-.89zM131.5 115.6h.89v.89h-.89zM144.2 120.3h.89v.89h-.89zM131.1 111.4h.89v.89h-.89zM128.7 116.3h.89v.89h-.89zM124.8 127.6h.89v.89h-.89zM129.3 120.5h.89v.89h-.89zM123.1 118.2h.89v.89h-.89zM138.7 126.2h.89v.89h-.89zM134.4 125.0h.89v.89h-.89zM124.2 121.9h.89v.89h-.89zM122.0 122.9h.89v.89h-.89zM125.7 123.6h.89v.89h-.89zM118.0 120.2h.89v.89h-.89zM131.7 126.8h.89v.89h-.89zM129.6 121.3h.89v.89h-.89z"/>
<path fill="#000" fill-opacity="0.3" d="M128.9 121.3h.89v.89h-.89zM127.2 119.1h.89v.89h-.89zM138.7 116.7h.89v.89h-.89zM115.2 127.6h.89v.89h-.89zM119.2 114.9h.89v.89h-.89zM127.5 123.6h.89v.89h-.89zM132.8 121.4h.89v.89h-.89zM132.5 111.9h.89v.89h-.89zM132.3 117.9h.89v.89h-.89zM113.2 115.3h.89v.89h-.89zM111.4 122.1h.89v.89h-.89zM140.1 114.8h.89v.89h-.89zM133.6 113.0h.89v.89h-.89zM127.4 116.5h.89v.89h-.89zM142.7 113.5h.89v.89h-.89zM113.8 127.4h.89v.89h-.89zM139.8 114.6h.89v.89h-.89zM120.3 118.4h.89v.89h-.89zM143.4 112.0h.89v.89h-.89zM116.6 112.9h.89v.89h-.89zM156.7 105.6h.89v.89h-.89zM125.1 117.0h.89v.89h-.89zM116.6 122.0h.89v.89h-.89zM130.2 114.1h.89v.89h-.89zM140.8 120.6h.89v.89h-.89zM132.9 112.6h.89v.89h-.89zM138.3 106.7h.89v.89h-.89zM130.7 114.1h.89v.89h-.89zM122.7 114.9h.89v.89h-.89zM112.6 123.9h.89v.89h-.89zM128.1 121.3h.89v.89h-.89zM136.7 122.0h.89v.89h-.89zM135.8 119.5h.89v.89h-.89zM126.7 114.4h.89v.89h-.89zM123.9 115.9h.89v.89h-.89zM134.3 115.4h.89v.89h-.89zM130.9 116.8h.89v.89h-.89z"/>
<path fill="#000" fill-opacity="0.3" d="M133.3 121.7h.89v.89h-.89zM127.4 119.1h.89v.89h-.89zM119.5 119.5h.89v.89h-.89zM139.9 120.4h.89v.89h-.89zM122.2 114.1h.89v.89h-.89zM107.5 129.2h.89v.89h-.89zM136.7 119.8h.89v.89h-.89zM139.2 121.3h.89v.89h-.89zM121.1 123.1h.89v.89h-.89zM136.2 120.0h.89v.89h-.89zM137.7 117.7h.89v.89h-.89zM116.4 117.9h.89v.89h-.89zM128.0 122.0h.89v.89h-.89zM129.8 120.3h.89v.89h-.89zM122.6 121.5h.89v.89h-.89zM128.0 120.0h.89v.89h-.89zM129.5 120.2h.89v.89h-.89zM130.6 120.5h.89v.89h-.89zM138.5 116.0h.89v.89h-.89zM110.3 126.8h.89v.89h-.89zM133.7 113.4h.89v.89h-.89zM132.7 127.8h.89v.89h-.89zM136.9 118.0h.89v.89h-.89zM130.4 110.4h.89v.89h-.89zM143.8 120.5h.89v.89h-.89zM129.8 112.7h.89v.89h-.89zM124.2 115.0h.89v.89h-.89zM127.2 120.4h.89v.89h-.89zM141.0 115.9h.89v.89h-.89zM132.9 123.5h.89v.89h-.89zM122.0 123.7h.89v.89h-.89zM126.3 118.0h.89v.89h-.89zM115.7 115.8h.89v.89h-.89zM118.3 123.3h.89v.89h-.89zM136.3 117.5h.89v.89h-.89zM119.2 118.9h.89v.89h-.89z"/>
<path fill="#000" fill-opacity="0.3" d="M135.1 123.6h.89v.89h-.89zM116.3 122.6h.89v.89h-.89zM130.5 116.2h.89v.89h-.89zM113.4 116.8h.89v.89h-.89zM118.7 125.8h.89v.89h-.89zM117.1 120.3h.89v.89h-.89zM139.6 118.5h.89v.89h-.89zM129.3 126.6h.89v.89h-.89zM121.0 113.3h.89v.89h-.89zM138.9 113.5h.89v.89h-.89zM118.6 124.2h.89v.89h-.89zM118.3 121.6h.89v.89h-.89zM121.0 123.0h.89v.89h-.89zM115.2 122.8h.89v.89h-.89zM140.0 122.1h.89v.89h-.89zM137.0 127.0h.89v.89h-.89zM108.1 118.2h.89v.89h-.89zM138.4 112.4h.89v.89h-.89zM120.9 120.4h.89v.89h-.89zM131.3 115.2h.89v.89h-.89zM128.0 112.4h.89v.89h-.89zM132.3 108.2h.89v.89h-.89zM127.6 112.6h.89v.89h-.89zM121.8 112.7h.89v.89h-.89zM125.1 123.6h.89v.89h-.89zM144.6 115.8h.89v.89h-.89zM118.1 125.4h.89v.89h-.89zM108.6 123.1h.89v.89h-.89zM117.8 129.0h.89v.89h-.89zM132.4 126.8h.89v.89h-.89zM139.2 117.0h.89v.89h-.89zM123.6 120.5h.89v.89h-.89zM148.5 125.3h.89v.89h-.89zM138.4 120.9h.89v.89h-.89zM142.4 117.1h.89v.89h-.89zM141.3 122.4h.89v.89h-.89z"/>
<path d="M108.3 109.1 L132.3 109.1 L132.3 128.9 L108.3 128.9 Z" fill="none" stroke="#fff" stroke-width="2.3" stroke-opacity="0.8"/>
<path d="M132.3 109.1 L150.0 109.1 L150.0 123.9 L132.3 123.9 Z" fill="none" stroke="#fff" stroke-width="2.3" stroke-opacity="0.8"/>
<path d="M131.4 123.9 L150.0 123.9 L150.0 152.4 L131.4 152.4 Z" fill="none" stroke="#fff" stroke-width="2.3" stroke-opacity="0.8"/>
<path d="M108.3 109.1 L132.3 109.1 L132.3 128.9 L108.3 128.9 Z" fill="none" stroke="#000" stroke-width="1.1"/>
<path d="M132.3 109.1 L150.0 109.1 L150.0 123.9 L132.3 123.9 Z" fill="none" stroke="#000" stroke-width="1.1"/>
<path d="M131.4 123.9 L150.0 123.9 L150.0 152.4 L131.4 152.4 Z" fill="none" stroke="#000" stroke-width="1.1"/>
<text x="121.80" y="106.20" font-size="6.0" text-anchor="start" font-weight="bold" fill="#000" stroke="#000" stroke-width="0.25" >Fr II</text>
<text x="140.80" y="106.20" font-size="6.0" text-anchor="middle" font-weight="bold" fill="#000" stroke="#000" stroke-width="0.25" >40</text>
<text x="97.20" y="115.40" font-size="6.0" text-anchor="start" font-weight="bold" fill="#000" stroke="#000" stroke-width="0.25" >Fr I</text>
<text x="102.00" y="124.60" font-size="6.0" text-anchor="middle" font-weight="bold" fill="#000" stroke="#000" stroke-width="0.25" >53.4</text>
<text x="118.30" y="159.20" font-size="6.0" text-anchor="start" font-weight="bold" fill="#000" stroke="#000" stroke-width="0.25" >Fr III</text>
<text x="140.80" y="159.20" font-size="6.0" text-anchor="middle" font-weight="bold" fill="#000" stroke="#000" stroke-width="0.25" >4.06</text>
<path fill="#000" fill-opacity="0.3" d="M209.5 116.6h.89v.89h-.89zM206.8 121.8h.89v.89h-.89zM216.7 127.1h.89v.89h-.89zM212.7 111.5h.89v.89h-.89zM211.3 116.1h.89v.89h-.89zM212.2 115.2h.89v.89h-.89zM212.1 119.7h.89v.89h-.89zM213.3 117.6h.89v.89h-.89zM208.3 121.5h.89v.89h-.89zM210.1 119.0h.89v.89h-.89zM205.3 116.1h.89v.89h-.89zM210.8 117.0h.89v.89h-.89zM208.3 120.8h.89v.89h-.89zM214.8 124.0h.89v.89h-.89zM212.4 113.9h.89v.89h-.89zM210.3 123.7h.89v.89h-.89zM214.0 122.4h.89v.89h-.89zM214.9 116.0h.89v.89h-.89zM203.0 114.0h.89v.89h-.89zM207.7 120.4h.89v.89h-.89zM209.2 120.8h.89v.89h-.89zM208.4 118.8h.89v.89h-.89z"/>
<path fill="#000" fill-opacity="0.3" d="M210.1 117.6h.89v.89h-.89zM209.3 121.5h.89v.89h-.89zM218.4 115.7h.89v.89h-.89zM214.7 118.4h.89v.89h-.89zM210.8 125.7h.89v.89h-.89zM210.0 118.0h.89v.89h-.89zM209.2 124.0h.89v.89h-.89zM207.8 118.0h.89v.89h-.89zM198.5 118.3h.89v.89h-.89zM218.6 123.9h.89v.89h-.89zM215.1 121.4h.89v.89h-.89zM207.3 117.6h.89v.89h-.89zM206.9 116.6h.89v.89h-.89zM211.7 126.0h.89v.89h-.89zM210.7 125.0h.89v.89h-.89zM212.5 118.3h.89v.89h-.89zM222.2 118.4h.89v.89h-.89zM207.7 118.6h.89v.89h-.89zM208.0 122.7h.89v.89h-.89zM208.7 120.3h.89v.89h-.89zM212.3 121.7h.89v.89h-.89zM207.3 122.6h.89v.89h-.89z"/>
<path fill="#000" fill-opacity="0.3" d="M218.3 123.1h.89v.89h-.89zM209.4 121.9h.89v.89h-.89zM206.5 125.5h.89v.89h-.89zM210.8 118.7h.89v.89h-.89zM209.7 118.7h.89v.89h-.89zM214.5 120.4h.89v.89h-.89zM208.5 116.1h.89v.89h-.89zM207.2 119.9h.89v.89h-.89zM217.6 121.1h.89v.89h-.89zM214.5 120.9h.89v.89h-.89zM210.5 111.8h.89v.89h-.89zM216.3 127.3h.89v.89h-.89zM213.4 117.5h.89v.89h-.89zM219.5 122.8h.89v.89h-.89zM208.4 120.0h.89v.89h-.89zM210.5 123.5h.89v.89h-.89zM204.1 125.2h.89v.89h-.89zM203.0 119.4h.89v.89h-.89zM211.9 116.0h.89v.89h-.89zM214.9 112.8h.89v.89h-.89zM209.3 117.8h.89v.89h-.89zM215.1 121.2h.89v.89h-.89z"/>
<path fill="#000" fill-opacity="0.3" d="M205.7 118.4h.89v.89h-.89zM214.0 126.4h.89v.89h-.89zM209.8 118.1h.89v.89h-.89zM211.1 117.2h.89v.89h-.89zM206.8 127.9h.89v.89h-.89zM208.9 117.2h.89v.89h-.89zM206.5 118.5h.89v.89h-.89zM205.6 113.5h.89v.89h-.89zM207.9 123.7h.89v.89h-.89zM210.0 117.9h.89v.89h-.89zM209.9 112.8h.89v.89h-.89zM205.2 114.4h.89v.89h-.89zM209.4 127.7h.89v.89h-.89zM211.2 118.2h.89v.89h-.89zM214.8 113.7h.89v.89h-.89zM224.6 117.7h.89v.89h-.89zM209.9 117.4h.89v.89h-.89zM198.7 115.0h.89v.89h-.89zM204.5 124.4h.89v.89h-.89zM217.1 117.6h.89v.89h-.89zM213.8 115.7h.89v.89h-.89zM213.8 114.4h.89v.89h-.89z"/>
<path fill="#000" fill-opacity="0.3" d="M218.3 117.6h.89v.89h-.89zM206.4 122.4h.89v.89h-.89zM205.6 123.2h.89v.89h-.89zM205.7 118.9h.89v.89h-.89zM210.0 122.1h.89v.89h-.89zM219.1 120.9h.89v.89h-.89zM208.7 117.9h.89v.89h-.89zM217.4 109.9h.89v.89h-.89zM209.9 125.2h.89v.89h-.89zM213.3 117.7h.89v.89h-.89zM213.8 121.8h.89v.89h-.89zM206.0 115.7h.89v.89h-.89zM209.7 114.7h.89v.89h-.89zM215.9 126.3h.89v.89h-.89zM210.7 123.1h.89v.89h-.89zM217.0 119.2h.89v.89h-.89zM213.5 117.0h.89v.89h-.89zM201.0 117.0h.89v.89h-.89zM207.4 115.1h.89v.89h-.89zM213.1 122.4h.89v.89h-.89zM211.5 120.5h.89v.89h-.89z"/>
<path fill="#000" fill-opacity="0.3" d="M211.6 125.0h.89v.89h-.89zM213.1 113.3h.89v.89h-.89zM200.0 116.2h.89v.89h-.89zM216.3 121.3h.89v.89h-.89zM201.6 121.4h.89v.89h-.89zM211.1 120.1h.89v.89h-.89zM210.5 118.8h.89v.89h-.89zM205.1 120.3h.89v.89h-.89zM206.7 118.9h.89v.89h-.89zM215.2 117.9h.89v.89h-.89zM209.3 118.8h.89v.89h-.89zM211.7 117.8h.89v.89h-.89zM205.4 123.5h.89v.89h-.89zM212.1 115.8h.89v.89h-.89zM208.8 115.3h.89v.89h-.89zM212.5 120.9h.89v.89h-.89zM212.9 118.6h.89v.89h-.89zM215.5 123.7h.89v.89h-.89zM218.2 119.5h.89v.89h-.89zM210.8 118.9h.89v.89h-.89zM206.4 118.3h.89v.89h-.89z"/>
<path fill="#000" fill-opacity="0.2" d="M196.1 121.1h.8v.8h-.8zM210.5 118.0h.8v.8h-.8zM207.3 122.9h.8v.8h-.8zM209.0 124.1h.8v.8h-.8zM203.8 115.1h.8v.8h-.8zM212.2 123.1h.8v.8h-.8zM196.1 113.8h.8v.8h-.8zM202.2 116.8h.8v.8h-.8zM204.2 122.6h.8v.8h-.8z"/>
<path fill="#000" fill-opacity="0.2" d="M195.1 112.8h.8v.8h-.8zM205.7 116.1h.8v.8h-.8zM200.2 111.3h.8v.8h-.8zM196.3 114.9h.8v.8h-.8zM201.8 121.5h.8v.8h-.8zM206.8 111.1h.8v.8h-.8zM197.7 123.1h.8v.8h-.8zM194.1 114.2h.8v.8h-.8zM206.1 126.9h.8v.8h-.8z"/>
<path fill="#000" fill-opacity="0.2" d="M193.5 119.4h.8v.8h-.8zM210.7 122.1h.8v.8h-.8zM202.9 125.9h.8v.8h-.8zM208.4 120.3h.8v.8h-.8zM206.8 120.9h.8v.8h-.8zM193.8 122.6h.8v.8h-.8zM198.6 125.5h.8v.8h-.8zM214.4 125.0h.8v.8h-.8z"/>
<path fill="#000" fill-opacity="0.2" d="M197.1 115.1h.8v.8h-.8zM195.0 122.4h.8v.8h-.8zM205.1 120.9h.8v.8h-.8zM211.7 123.6h.8v.8h-.8zM194.6 125.6h.8v.8h-.8zM211.3 117.0h.8v.8h-.8zM202.1 113.7h.8v.8h-.8zM202.3 125.2h.8v.8h-.8z"/>
<path fill="#000" fill-opacity="0.2" d="M195.9 125.6h.8v.8h-.8zM196.3 118.6h.8v.8h-.8zM209.6 121.2h.8v.8h-.8zM200.4 113.3h.8v.8h-.8zM208.3 125.8h.8v.8h-.8zM197.8 117.9h.8v.8h-.8zM202.1 112.8h.8v.8h-.8zM212.6 125.0h.8v.8h-.8z"/>
<path fill="#000" fill-opacity="0.2" d="M196.4 121.9h.8v.8h-.8zM197.2 118.6h.8v.8h-.8zM213.5 126.6h.8v.8h-.8zM207.3 112.3h.8v.8h-.8zM206.3 121.4h.8v.8h-.8zM211.2 123.2h.8v.8h-.8zM212.0 110.8h.8v.8h-.8zM208.8 120.0h.8v.8h-.8z"/>
<path fill="#000" fill-opacity="0.27" d="M226.5 143.9h.89v.89h-.89zM225.9 128.7h.89v.89h-.89zM224.1 130.7h.89v.89h-.89zM222.1 142.1h.89v.89h-.89zM223.0 129.1h.89v.89h-.89zM225.3 132.6h.89v.89h-.89zM227.2 127.6h.89v.89h-.89zM222.7 132.9h.89v.89h-.89zM227.0 125.8h.89v.89h-.89zM216.7 134.8h.89v.89h-.89zM222.5 126.1h.89v.89h-.89zM223.5 138.9h.89v.89h-.89zM222.1 132.6h.89v.89h-.89zM224.5 135.4h.89v.89h-.89zM220.9 129.1h.89v.89h-.89zM225.4 126.4h.89v.89h-.89zM220.1 130.6h.89v.89h-.89zM218.1 143.6h.89v.89h-.89zM221.8 134.1h.89v.89h-.89zM219.7 134.5h.89v.89h-.89zM222.7 142.5h.89v.89h-.89zM226.4 121.5h.89v.89h-.89zM228.9 120.2h.89v.89h-.89zM223.3 142.5h.89v.89h-.89zM219.7 135.5h.89v.89h-.89zM218.9 129.9h.89v.89h-.89zM218.7 137.0h.89v.89h-.89zM222.3 123.6h.89v.89h-.89zM215.2 139.5h.89v.89h-.89zM227.2 133.8h.89v.89h-.89zM227.4 139.4h.89v.89h-.89zM220.0 134.4h.89v.89h-.89zM228.4 142.0h.89v.89h-.89zM222.4 135.1h.89v.89h-.89zM223.2 135.0h.89v.89h-.89zM223.4 131.7h.89v.89h-.89zM224.2 134.4h.89v.89h-.89zM220.6 132.8h.89v.89h-.89zM223.1 136.0h.89v.89h-.89z"/>
<path fill="#000" fill-opacity="0.27" d="M223.2 124.3h.89v.89h-.89zM218.9 119.7h.89v.89h-.89zM222.1 135.9h.89v.89h-.89zM228.3 135.4h.89v.89h-.89zM222.9 125.0h.89v.89h-.89zM223.0 126.2h.89v.89h-.89zM223.7 133.9h.89v.89h-.89zM228.7 124.4h.89v.89h-.89zM222.5 130.2h.89v.89h-.89zM231.7 122.4h.89v.89h-.89zM217.7 136.3h.89v.89h-.89zM226.6 131.5h.89v.89h-.89zM227.4 137.2h.89v.89h-.89zM224.6 133.0h.89v.89h-.89zM225.5 133.2h.89v.89h-.89zM219.7 139.7h.89v.89h-.89zM218.6 131.9h.89v.89h-.89zM225.6 109.7h.89v.89h-.89zM224.3 135.7h.89v.89h-.89zM222.7 118.3h.89v.89h-.89zM220.0 138.8h.89v.89h-.89zM218.5 126.4h.89v.89h-.89zM222.7 136.2h.89v.89h-.89zM223.9 136.3h.89v.89h-.89zM221.5 134.2h.89v.89h-.89zM222.8 137.7h.89v.89h-.89zM216.7 138.5h.89v.89h-.89zM220.7 115.6h.89v.89h-.89zM223.7 135.1h.89v.89h-.89zM227.6 126.0h.89v.89h-.89zM218.9 129.6h.89v.89h-.89zM224.5 124.8h.89v.89h-.89zM212.8 126.4h.89v.89h-.89zM217.5 119.8h.89v.89h-.89zM223.8 135.8h.89v.89h-.89zM222.5 129.5h.89v.89h-.89zM223.9 137.0h.89v.89h-.89zM228.7 134.0h.89v.89h-.89zM225.2 128.2h.89v.89h-.89z"/>
<path fill="#000" fill-opacity="0.27" d="M224.9 127.0h.89v.89h-.89zM227.4 124.7h.89v.89h-.89zM224.4 127.9h.89v.89h-.89zM222.6 147.7h.89v.89h-.89zM225.5 144.4h.89v.89h-.89zM226.1 130.9h.89v.89h-.89zM222.7 148.7h.89v.89h-.89zM223.3 126.9h.89v.89h-.89zM224.6 142.6h.89v.89h-.89zM224.4 137.1h.89v.89h-.89zM224.0 128.2h.89v.89h-.89zM220.7 128.4h.89v.89h-.89zM225.6 122.5h.89v.89h-.89zM220.6 134.8h.89v.89h-.89zM223.2 132.1h.89v.89h-.89zM219.7 130.2h.89v.89h-.89zM222.9 134.6h.89v.89h-.89zM221.7 138.5h.89v.89h-.89zM231.6 141.4h.89v.89h-.89zM227.4 131.2h.89v.89h-.89zM222.4 134.4h.89v.89h-.89zM223.7 133.3h.89v.89h-.89zM225.5 135.4h.89v.89h-.89zM226.1 137.5h.89v.89h-.89zM227.5 138.7h.89v.89h-.89zM226.9 130.6h.89v.89h-.89zM227.3 141.9h.89v.89h-.89zM222.5 114.3h.89v.89h-.89zM224.6 136.2h.89v.89h-.89zM230.2 127.1h.89v.89h-.89zM226.4 137.3h.89v.89h-.89zM226.9 134.6h.89v.89h-.89zM214.0 127.1h.89v.89h-.89zM223.2 153.5h.89v.89h-.89zM220.6 133.7h.89v.89h-.89zM215.2 133.1h.89v.89h-.89zM227.3 136.8h.89v.89h-.89zM220.9 135.3h.89v.89h-.89z"/>
<path fill="#000" fill-opacity="0.27" d="M219.2 136.7h.89v.89h-.89zM225.9 123.6h.89v.89h-.89zM223.3 127.1h.89v.89h-.89zM220.4 139.9h.89v.89h-.89zM221.2 126.2h.89v.89h-.89zM224.9 121.3h.89v.89h-.89zM221.8 136.2h.89v.89h-.89zM228.3 128.7h.89v.89h-.89zM225.5 131.7h.89v.89h-.89zM224.0 125.7h.89v.89h-.89zM224.3 135.3h.89v.89h-.89zM223.8 127.0h.89v.89h-.89zM226.7 124.1h.89v.89h-.89zM216.5 126.7h.89v.89h-.89zM229.9 133.2h.89v.89h-.89zM224.2 134.0h.89v.89h-.89zM217.0 137.1h.89v.89h-.89zM216.1 135.2h.89v.89h-.89zM216.7 127.4h.89v.89h-.89zM216.7 136.9h.89v.89h-.89zM224.3 120.3h.89v.89h-.89zM223.5 130.3h.89v.89h-.89zM230.8 141.3h.89v.89h-.89zM222.0 139.6h.89v.89h-.89zM219.2 123.9h.89v.89h-.89zM223.7 128.2h.89v.89h-.89zM216.8 135.8h.89v.89h-.89zM221.2 135.8h.89v.89h-.89zM219.8 134.5h.89v.89h-.89zM222.3 131.4h.89v.89h-.89zM217.7 126.8h.89v.89h-.89zM223.5 132.3h.89v.89h-.89zM221.7 125.4h.89v.89h-.89zM220.5 130.4h.89v.89h-.89zM221.6 127.2h.89v.89h-.89zM220.6 127.7h.89v.89h-.89zM224.5 138.7h.89v.89h-.89zM225.1 133.4h.89v.89h-.89z"/>
<path fill="#000" fill-opacity="0.27" d="M225.8 130.4h.89v.89h-.89zM220.7 130.0h.89v.89h-.89zM217.6 146.1h.89v.89h-.89zM231.9 134.1h.89v.89h-.89zM228.0 135.5h.89v.89h-.89zM219.8 124.4h.89v.89h-.89zM222.1 131.1h.89v.89h-.89zM233.6 135.0h.89v.89h-.89zM227.6 135.0h.89v.89h-.89zM226.2 129.1h.89v.89h-.89zM223.7 121.7h.89v.89h-.89zM217.7 134.9h.89v.89h-.89zM224.4 119.2h.89v.89h-.89zM222.1 145.0h.89v.89h-.89zM228.1 121.6h.89v.89h-.89zM221.1 117.6h.89v.89h-.89zM226.1 137.5h.89v.89h-.89zM219.6 125.7h.89v.89h-.89zM218.6 133.6h.89v.89h-.89zM220.8 133.3h.89v.89h-.89zM221.6 122.8h.89v.89h-.89zM223.0 137.9h.89v.89h-.89zM219.1 127.9h.89v.89h-.89zM222.5 126.8h.89v.89h-.89zM220.1 125.4h.89v.89h-.89zM220.6 128.3h.89v.89h-.89zM220.7 134.4h.89v.89h-.89zM228.4 123.1h.89v.89h-.89zM222.1 131.8h.89v.89h-.89zM227.7 134.5h.89v.89h-.89zM224.3 129.9h.89v.89h-.89zM226.6 133.4h.89v.89h-.89zM225.1 132.5h.89v.89h-.89zM225.5 140.7h.89v.89h-.89zM222.7 138.1h.89v.89h-.89zM219.8 135.3h.89v.89h-.89zM221.5 124.2h.89v.89h-.89zM226.4 126.7h.89v.89h-.89z"/>
<path fill="#000" fill-opacity="0.27" d="M226.3 123.6h.89v.89h-.89zM212.7 129.3h.89v.89h-.89zM226.6 137.4h.89v.89h-.89zM217.4 120.6h.89v.89h-.89zM225.7 133.1h.89v.89h-.89zM227.6 140.8h.89v.89h-.89zM224.7 120.4h.89v.89h-.89zM222.3 127.4h.89v.89h-.89zM227.4 140.0h.89v.89h-.89zM221.0 127.8h.89v.89h-.89zM221.6 119.8h.89v.89h-.89zM224.0 140.8h.89v.89h-.89zM219.2 126.8h.89v.89h-.89zM224.3 127.7h.89v.89h-.89zM223.8 132.0h.89v.89h-.89zM225.7 132.5h.89v.89h-.89zM224.9 123.5h.89v.89h-.89zM215.1 130.1h.89v.89h-.89zM224.3 144.9h.89v.89h-.89zM219.8 132.1h.89v.89h-.89zM225.1 138.2h.89v.89h-.89zM221.3 121.8h.89v.89h-.89zM230.9 136.4h.89v.89h-.89zM226.2 137.1h.89v.89h-.89zM225.8 145.0h.89v.89h-.89zM223.4 136.9h.89v.89h-.89zM227.3 125.7h.89v.89h-.89zM226.2 126.9h.89v.89h-.89zM220.6 137.8h.89v.89h-.89zM224.9 126.5h.89v.89h-.89zM224.7 126.4h.89v.89h-.89zM222.9 131.4h.89v.89h-.89zM224.5 122.1h.89v.89h-.89zM225.4 129.4h.89v.89h-.89zM223.7 133.2h.89v.89h-.89zM222.5 133.3h.89v.89h-.89zM222.7 120.1h.89v.89h-.89zM227.3 121.1h.89v.89h-.89z"/>
<path fill="#000" fill-opacity="0.22" d="M230.9 144.2h.8v.8h-.8zM219.2 137.5h.8v.8h-.8zM228.9 135.1h.8v.8h-.8zM224.9 138.4h.8v.8h-.8zM228.4 151.2h.8v.8h-.8zM230.9 127.1h.8v.8h-.8zM218.0 136.6h.8v.8h-.8zM229.4 134.0h.8v.8h-.8zM217.6 146.5h.8v.8h-.8zM223.5 132.6h.8v.8h-.8zM220.6 134.1h.8v.8h-.8zM217.9 138.3h.8v.8h-.8zM222.9 140.4h.8v.8h-.8zM225.6 131.8h.8v.8h-.8zM228.6 131.1h.8v.8h-.8zM227.7 132.6h.8v.8h-.8zM221.6 139.6h.8v.8h-.8z"/>
<path fill="#000" fill-opacity="0.22" d="M215.9 125.0h.8v.8h-.8zM228.8 144.3h.8v.8h-.8zM224.4 130.8h.8v.8h-.8zM225.3 133.4h.8v.8h-.8zM226.5 130.3h.8v.8h-.8zM229.3 128.7h.8v.8h-.8zM216.7 138.0h.8v.8h-.8zM226.2 148.2h.8v.8h-.8zM217.3 127.8h.8v.8h-.8zM220.0 137.2h.8v.8h-.8zM225.3 130.6h.8v.8h-.8zM215.7 151.2h.8v.8h-.8zM220.5 149.4h.8v.8h-.8zM220.6 125.4h.8v.8h-.8zM227.8 130.2h.8v.8h-.8zM223.8 126.5h.8v.8h-.8zM223.3 134.1h.8v.8h-.8z"/>
<path fill="#000" fill-opacity="0.22" d="M219.1 151.6h.8v.8h-.8zM216.9 128.4h.8v.8h-.8zM217.7 131.7h.8v.8h-.8zM228.0 124.8h.8v.8h-.8zM220.9 150.9h.8v.8h-.8zM218.6 126.8h.8v.8h-.8zM229.5 124.5h.8v.8h-.8zM218.5 138.4h.8v.8h-.8zM222.4 140.6h.8v.8h-.8zM231.3 128.2h.8v.8h-.8zM227.2 124.8h.8v.8h-.8zM223.7 148.3h.8v.8h-.8zM226.7 128.8h.8v.8h-.8zM223.5 135.3h.8v.8h-.8zM231.6 150.0h.8v.8h-.8zM229.6 140.6h.8v.8h-.8zM223.9 134.0h.8v.8h-.8z"/>
<path fill="#000" fill-opacity="0.22" d="M231.1 134.3h.8v.8h-.8zM228.3 134.0h.8v.8h-.8zM218.3 135.2h.8v.8h-.8zM231.4 142.2h.8v.8h-.8zM216.2 124.7h.8v.8h-.8zM227.2 152.1h.8v.8h-.8zM216.3 139.9h.8v.8h-.8zM223.7 152.1h.8v.8h-.8zM221.6 131.8h.8v.8h-.8zM215.3 137.3h.8v.8h-.8zM229.3 143.0h.8v.8h-.8zM223.0 131.3h.8v.8h-.8zM221.7 151.3h.8v.8h-.8zM217.5 130.2h.8v.8h-.8zM219.9 137.3h.8v.8h-.8zM218.7 140.0h.8v.8h-.8zM223.2 141.7h.8v.8h-.8z"/>
<path fill="#000" fill-opacity="0.22" d="M221.3 130.9h.8v.8h-.8zM225.1 141.6h.8v.8h-.8zM230.7 140.9h.8v.8h-.8zM215.7 146.4h.8v.8h-.8zM222.7 148.2h.8v.8h-.8zM227.0 146.6h.8v.8h-.8zM226.5 141.4h.8v.8h-.8zM222.4 130.1h.8v.8h-.8zM226.8 136.7h.8v.8h-.8zM215.3 128.6h.8v.8h-.8zM228.9 145.6h.8v.8h-.8zM227.1 140.5h.8v.8h-.8zM227.8 142.6h.8v.8h-.8zM226.8 133.2h.8v.8h-.8zM218.2 143.1h.8v.8h-.8zM230.5 129.2h.8v.8h-.8z"/>
<path fill="#000" fill-opacity="0.22" d="M230.1 152.0h.8v.8h-.8zM219.7 134.1h.8v.8h-.8zM221.5 128.4h.8v.8h-.8zM223.1 135.5h.8v.8h-.8zM221.4 133.9h.8v.8h-.8zM216.3 129.6h.8v.8h-.8zM226.7 151.6h.8v.8h-.8zM231.5 133.7h.8v.8h-.8zM225.1 135.7h.8v.8h-.8zM223.2 132.9h.8v.8h-.8zM230.8 125.8h.8v.8h-.8zM220.4 151.1h.8v.8h-.8zM216.8 142.2h.8v.8h-.8zM217.2 134.6h.8v.8h-.8zM231.9 146.7h.8v.8h-.8zM222.7 135.0h.8v.8h-.8z"/>
<defs><radialGradient id="rg21"><stop offset="0" stop-color="#777" stop-opacity="0.4"/><stop offset="1" stop-color="#888" stop-opacity="0"/></radialGradient></defs>
<ellipse cx="223.50" cy="130.30" rx="7.00" ry="7.00" fill="url(#rg21)" transform="rotate(0 223.50 130.30)"/>
<defs><radialGradient id="rg22"><stop offset="0" stop-color="#383838" stop-opacity="0.7"/><stop offset="0.55" stop-color="#4a4a4a" stop-opacity="0.5"/><stop offset="0.85" stop-color="#666" stop-opacity="0.25"/><stop offset="1" stop-color="#888" stop-opacity="0"/></radialGradient></defs>
<ellipse cx="224.00" cy="116.80" rx="12.00" ry="10.00" fill="url(#rg22)" transform="rotate(0 224.00 116.80)"/>
<path fill="#000" fill-opacity="0.38" d="M222.9 110.4h.89v.89h-.89zM224.5 122.2h.89v.89h-.89zM219.5 118.2h.89v.89h-.89zM220.8 114.0h.89v.89h-.89zM217.2 112.5h.89v.89h-.89zM216.3 128.4h.89v.89h-.89zM221.8 113.4h.89v.89h-.89zM231.6 117.2h.89v.89h-.89zM226.0 121.1h.89v.89h-.89zM227.7 115.6h.89v.89h-.89zM219.2 123.1h.89v.89h-.89zM212.6 117.7h.89v.89h-.89zM231.6 116.2h.89v.89h-.89zM222.2 109.0h.89v.89h-.89zM222.4 116.7h.89v.89h-.89zM221.8 116.5h.89v.89h-.89zM229.1 112.7h.89v.89h-.89zM219.1 121.3h.89v.89h-.89zM220.8 112.7h.89v.89h-.89zM228.1 113.1h.89v.89h-.89zM219.3 115.7h.89v.89h-.89zM232.2 121.1h.89v.89h-.89zM218.8 122.9h.89v.89h-.89zM229.7 116.6h.89v.89h-.89zM224.3 118.5h.89v.89h-.89zM227.0 122.7h.89v.89h-.89zM217.2 120.8h.89v.89h-.89zM224.2 118.0h.89v.89h-.89zM227.2 119.2h.89v.89h-.89zM217.1 117.4h.89v.89h-.89zM224.3 109.6h.89v.89h-.89zM222.6 111.3h.89v.89h-.89zM214.4 112.2h.89v.89h-.89zM230.4 107.6h.89v.89h-.89zM225.9 122.5h.89v.89h-.89zM218.5 119.3h.89v.89h-.89zM225.3 114.0h.89v.89h-.89zM231.6 117.1h.89v.89h-.89zM225.3 114.4h.89v.89h-.89zM215.0 113.1h.89v.89h-.89zM223.0 113.9h.89v.89h-.89zM226.3 115.4h.89v.89h-.89zM220.6 115.9h.89v.89h-.89zM224.4 121.1h.89v.89h-.89zM228.0 111.5h.89v.89h-.89zM221.7 119.2h.89v.89h-.89zM223.2 110.9h.89v.89h-.89zM222.0 115.2h.89v.89h-.89zM231.0 118.4h.89v.89h-.89zM225.7 119.2h.89v.89h-.89zM230.9 107.9h.89v.89h-.89zM226.2 118.2h.89v.89h-.89zM230.9 120.5h.89v.89h-.89zM221.2 116.1h.89v.89h-.89zM220.5 114.3h.89v.89h-.89zM224.6 116.4h.89v.89h-.89zM221.6 114.6h.89v.89h-.89zM219.7 110.8h.89v.89h-.89zM219.4 114.0h.89v.89h-.89zM224.3 110.8h.89v.89h-.89zM223.1 114.0h.89v.89h-.89zM212.0 116.4h.89v.89h-.89zM222.2 119.8h.89v.89h-.89zM225.9 118.7h.89v.89h-.89zM211.6 122.3h.89v.89h-.89zM222.1 120.1h.89v.89h-.89zM217.8 116.8h.89v.89h-.89zM229.4 120.2h.89v.89h-.89zM222.1 116.3h.89v.89h-.89zM216.9 114.3h.89v.89h-.89z"/>
<path fill="#000" fill-opacity="0.38" d="M225.1 116.9h.89v.89h-.89zM223.2 116.4h.89v.89h-.89zM228.8 120.2h.89v.89h-.89zM215.4 113.6h.89v.89h-.89zM222.6 118.2h.89v.89h-.89zM221.8 115.1h.89v.89h-.89zM224.2 115.5h.89v.89h-.89zM224.9 112.4h.89v.89h-.89zM227.4 118.1h.89v.89h-.89zM222.7 114.9h.89v.89h-.89zM230.1 116.7h.89v.89h-.89zM216.6 114.2h.89v.89h-.89zM225.3 113.8h.89v.89h-.89zM231.1 115.7h.89v.89h-.89zM220.9 120.7h.89v.89h-.89zM221.7 121.3h.89v.89h-.89zM215.0 115.4h.89v.89h-.89zM218.3 117.9h.89v.89h-.89zM228.5 116.6h.89v.89h-.89zM215.9 118.2h.89v.89h-.89zM221.1 118.6h.89v.89h-.89zM209.3 112.5h.89v.89h-.89zM220.8 106.8h.89v.89h-.89zM220.5 116.2h.89v.89h-.89zM218.2 126.6h.89v.89h-.89zM228.8 115.8h.89v.89h-.89zM236.7 118.6h.89v.89h-.89zM221.6 115.3h.89v.89h-.89zM224.6 117.8h.89v.89h-.89zM218.6 118.5h.89v.89h-.89zM231.3 112.6h.89v.89h-.89zM211.5 120.1h.89v.89h-.89zM228.6 124.4h.89v.89h-.89zM217.4 116.4h.89v.89h-.89zM221.2 114.2h.89v.89h-.89zM228.8 121.8h.89v.89h-.89zM215.5 115.2h.89v.89h-.89zM213.2 114.1h.89v.89h-.89zM226.1 115.2h.89v.89h-.89zM223.5 130.8h.89v.89h-.89zM227.5 110.5h.89v.89h-.89zM224.3 120.8h.89v.89h-.89zM228.9 110.0h.89v.89h-.89zM221.9 120.3h.89v.89h-.89zM225.0 116.3h.89v.89h-.89zM219.1 111.7h.89v.89h-.89zM217.2 115.4h.89v.89h-.89zM220.9 115.9h.89v.89h-.89zM219.3 118.8h.89v.89h-.89zM216.4 114.1h.89v.89h-.89zM227.5 109.2h.89v.89h-.89zM226.2 109.3h.89v.89h-.89zM223.2 115.2h.89v.89h-.89zM220.2 116.3h.89v.89h-.89zM230.4 119.1h.89v.89h-.89zM222.2 107.3h.89v.89h-.89zM222.0 114.5h.89v.89h-.89zM219.1 114.3h.89v.89h-.89zM238.6 121.4h.89v.89h-.89zM221.9 122.5h.89v.89h-.89zM224.1 116.7h.89v.89h-.89zM215.2 117.8h.89v.89h-.89zM228.1 118.1h.89v.89h-.89zM224.1 115.0h.89v.89h-.89zM219.3 114.6h.89v.89h-.89zM225.2 112.6h.89v.89h-.89zM228.6 115.6h.89v.89h-.89zM227.6 112.9h.89v.89h-.89zM225.9 119.4h.89v.89h-.89zM216.9 114.5h.89v.89h-.89z"/>
<path fill="#000" fill-opacity="0.38" d="M216.6 115.4h.89v.89h-.89zM223.8 108.8h.89v.89h-.89zM221.4 109.4h.89v.89h-.89zM219.3 121.4h.89v.89h-.89zM220.1 115.3h.89v.89h-.89zM222.6 118.3h.89v.89h-.89zM223.7 117.4h.89v.89h-.89zM230.4 111.8h.89v.89h-.89zM222.1 114.3h.89v.89h-.89zM231.4 115.2h.89v.89h-.89zM222.0 117.4h.89v.89h-.89zM218.8 117.3h.89v.89h-.89zM226.5 113.0h.89v.89h-.89zM220.1 120.2h.89v.89h-.89zM229.1 116.7h.89v.89h-.89zM217.5 118.8h.89v.89h-.89zM215.8 118.2h.89v.89h-.89zM220.4 118.8h.89v.89h-.89zM216.3 115.6h.89v.89h-.89zM207.0 112.7h.89v.89h-.89zM223.5 118.6h.89v.89h-.89zM218.4 118.0h.89v.89h-.89zM219.2 114.6h.89v.89h-.89zM222.3 113.7h.89v.89h-.89zM219.9 119.3h.89v.89h-.89zM222.2 111.8h.89v.89h-.89zM217.9 112.3h.89v.89h-.89zM229.0 109.5h.89v.89h-.89zM219.3 115.6h.89v.89h-.89zM232.9 106.2h.89v.89h-.89zM223.0 117.7h.89v.89h-.89zM225.5 111.1h.89v.89h-.89zM227.0 116.1h.89v.89h-.89zM228.6 118.0h.89v.89h-.89zM218.3 117.4h.89v.89h-.89zM222.7 114.5h.89v.89h-.89zM233.4 113.1h.89v.89h-.89zM219.7 116.8h.89v.89h-.89zM225.1 115.8h.89v.89h-.89zM222.5 111.7h.89v.89h-.89zM225.2 117.3h.89v.89h-.89zM223.0 123.2h.89v.89h-.89zM224.0 114.5h.89v.89h-.89zM224.5 112.7h.89v.89h-.89zM220.5 117.6h.89v.89h-.89zM225.4 122.8h.89v.89h-.89zM236.3 112.5h.89v.89h-.89zM214.2 114.6h.89v.89h-.89zM220.5 118.7h.89v.89h-.89zM217.8 111.2h.89v.89h-.89zM220.3 114.7h.89v.89h-.89zM226.2 117.7h.89v.89h-.89zM227.6 115.1h.89v.89h-.89zM216.0 119.1h.89v.89h-.89zM225.7 117.9h.89v.89h-.89zM226.5 116.6h.89v.89h-.89zM228.7 128.3h.89v.89h-.89zM224.4 115.0h.89v.89h-.89zM220.8 117.0h.89v.89h-.89zM224.8 113.7h.89v.89h-.89zM217.5 113.8h.89v.89h-.89zM229.2 118.2h.89v.89h-.89zM224.9 111.2h.89v.89h-.89zM226.6 121.7h.89v.89h-.89zM213.4 108.3h.89v.89h-.89zM228.7 113.9h.89v.89h-.89zM222.6 118.5h.89v.89h-.89zM216.8 119.0h.89v.89h-.89zM222.6 114.3h.89v.89h-.89zM220.7 118.4h.89v.89h-.89z"/>
<path fill="#000" fill-opacity="0.38" d="M220.0 115.3h.89v.89h-.89zM235.9 115.5h.89v.89h-.89zM225.6 118.7h.89v.89h-.89zM214.4 110.9h.89v.89h-.89zM227.2 115.8h.89v.89h-.89zM217.2 116.6h.89v.89h-.89zM229.7 114.8h.89v.89h-.89zM219.3 116.4h.89v.89h-.89zM220.8 116.0h.89v.89h-.89zM226.3 116.9h.89v.89h-.89zM230.2 113.4h.89v.89h-.89zM227.2 116.6h.89v.89h-.89zM225.9 113.9h.89v.89h-.89zM217.6 113.5h.89v.89h-.89zM226.6 118.6h.89v.89h-.89zM230.1 118.7h.89v.89h-.89zM218.9 120.2h.89v.89h-.89zM216.1 110.2h.89v.89h-.89zM230.4 113.6h.89v.89h-.89zM224.9 117.4h.89v.89h-.89zM231.9 115.3h.89v.89h-.89zM230.4 116.6h.89v.89h-.89zM223.2 119.4h.89v.89h-.89zM223.4 113.8h.89v.89h-.89zM223.6 114.7h.89v.89h-.89zM224.9 119.9h.89v.89h-.89zM224.8 119.0h.89v.89h-.89zM222.9 118.6h.89v.89h-.89zM233.1 111.5h.89v.89h-.89zM222.6 108.1h.89v.89h-.89zM218.9 116.8h.89v.89h-.89zM226.5 116.2h.89v.89h-.89zM217.9 114.8h.89v.89h-.89zM209.2 109.8h.89v.89h-.89zM225.8 120.2h.89v.89h-.89zM221.6 117.8h.89v.89h-.89zM228.3 121.8h.89v.89h-.89zM225.0 114.7h.89v.89h-.89zM220.1 112.0h.89v.89h-.89zM225.7 124.8h.89v.89h-.89zM226.5 118.1h.89v.89h-.89zM227.9 110.4h.89v.89h-.89zM224.4 123.3h.89v.89h-.89zM221.9 110.9h.89v.89h-.89zM223.7 112.9h.89v.89h-.89zM225.1 117.0h.89v.89h-.89zM220.3 117.5h.89v.89h-.89zM220.8 112.2h.89v.89h-.89zM228.3 121.1h.89v.89h-.89zM218.0 121.9h.89v.89h-.89zM220.6 124.4h.89v.89h-.89zM226.7 116.1h.89v.89h-.89zM217.4 117.5h.89v.89h-.89zM223.6 113.9h.89v.89h-.89zM217.6 106.5h.89v.89h-.89zM228.6 117.6h.89v.89h-.89zM223.0 120.9h.89v.89h-.89zM217.3 114.8h.89v.89h-.89zM224.1 117.0h.89v.89h-.89zM224.3 120.6h.89v.89h-.89zM217.1 117.5h.89v.89h-.89zM226.8 117.3h.89v.89h-.89zM229.2 112.8h.89v.89h-.89zM221.2 112.1h.89v.89h-.89zM218.3 117.3h.89v.89h-.89zM225.4 114.7h.89v.89h-.89zM231.7 112.7h.89v.89h-.89zM224.9 119.2h.89v.89h-.89zM218.5 120.5h.89v.89h-.89zM218.3 108.9h.89v.89h-.89z"/>
<path fill="#000" fill-opacity="0.38" d="M218.9 121.9h.89v.89h-.89zM221.8 111.9h.89v.89h-.89zM221.8 114.7h.89v.89h-.89zM224.8 110.2h.89v.89h-.89zM227.3 114.1h.89v.89h-.89zM220.4 122.1h.89v.89h-.89zM232.1 105.6h.89v.89h-.89zM224.7 117.8h.89v.89h-.89zM226.2 114.4h.89v.89h-.89zM227.3 118.7h.89v.89h-.89zM231.0 116.2h.89v.89h-.89zM224.4 118.0h.89v.89h-.89zM221.6 121.3h.89v.89h-.89zM229.4 113.7h.89v.89h-.89zM232.2 110.1h.89v.89h-.89zM221.0 114.6h.89v.89h-.89zM222.9 110.8h.89v.89h-.89zM226.1 122.1h.89v.89h-.89zM220.8 113.2h.89v.89h-.89zM220.5 114.7h.89v.89h-.89zM222.0 117.9h.89v.89h-.89zM224.3 125.0h.89v.89h-.89zM227.1 118.5h.89v.89h-.89zM226.8 113.8h.89v.89h-.89zM232.5 120.8h.89v.89h-.89zM221.5 119.1h.89v.89h-.89zM231.4 106.8h.89v.89h-.89zM214.9 115.8h.89v.89h-.89zM222.6 111.4h.89v.89h-.89zM222.9 117.9h.89v.89h-.89zM231.3 109.7h.89v.89h-.89zM224.4 111.1h.89v.89h-.89zM222.2 118.2h.89v.89h-.89zM230.5 118.8h.89v.89h-.89zM231.1 118.9h.89v.89h-.89zM223.3 115.7h.89v.89h-.89zM220.7 117.4h.89v.89h-.89zM221.9 113.1h.89v.89h-.89zM213.8 110.9h.89v.89h-.89zM209.0 111.7h.89v.89h-.89zM224.4 109.2h.89v.89h-.89zM220.5 121.3h.89v.89h-.89zM226.1 110.9h.89v.89h-.89zM229.7 117.0h.89v.89h-.89zM219.7 111.1h.89v.89h-.89zM232.6 110.1h.89v.89h-.89zM218.3 115.3h.89v.89h-.89zM230.1 124.5h.89v.89h-.89zM218.1 115.8h.89v.89h-.89zM220.1 114.8h.89v.89h-.89zM222.7 121.1h.89v.89h-.89zM225.7 111.0h.89v.89h-.89zM217.2 114.5h.89v.89h-.89zM220.4 127.1h.89v.89h-.89zM231.4 119.3h.89v.89h-.89zM222.1 118.8h.89v.89h-.89zM213.3 103.2h.89v.89h-.89zM231.4 112.8h.89v.89h-.89zM226.0 115.1h.89v.89h-.89zM214.7 111.3h.89v.89h-.89zM224.9 119.0h.89v.89h-.89zM225.5 120.2h.89v.89h-.89zM220.2 112.9h.89v.89h-.89zM220.4 112.8h.89v.89h-.89zM228.0 109.0h.89v.89h-.89zM222.4 117.0h.89v.89h-.89zM215.3 115.2h.89v.89h-.89zM216.6 104.3h.89v.89h-.89zM224.1 102.5h.89v.89h-.89zM220.4 110.8h.89v.89h-.89z"/>
<path fill="#000" fill-opacity="0.38" d="M218.5 119.5h.89v.89h-.89zM222.8 122.9h.89v.89h-.89zM232.6 110.1h.89v.89h-.89zM213.1 113.9h.89v.89h-.89zM226.0 121.5h.89v.89h-.89zM214.5 119.0h.89v.89h-.89zM232.9 121.3h.89v.89h-.89zM217.4 115.0h.89v.89h-.89zM234.1 112.4h.89v.89h-.89zM232.0 113.5h.89v.89h-.89zM221.6 114.8h.89v.89h-.89zM231.8 118.7h.89v.89h-.89zM224.2 119.6h.89v.89h-.89zM229.3 115.2h.89v.89h-.89zM228.8 120.0h.89v.89h-.89zM212.5 112.4h.89v.89h-.89zM219.5 113.9h.89v.89h-.89zM216.3 115.2h.89v.89h-.89zM224.3 114.2h.89v.89h-.89zM226.2 131.2h.89v.89h-.89zM234.4 115.0h.89v.89h-.89zM225.3 124.9h.89v.89h-.89zM219.6 123.5h.89v.89h-.89zM226.0 117.7h.89v.89h-.89zM222.1 118.7h.89v.89h-.89zM224.2 114.6h.89v.89h-.89zM233.1 117.1h.89v.89h-.89zM231.4 117.9h.89v.89h-.89zM220.7 113.3h.89v.89h-.89zM224.6 121.2h.89v.89h-.89zM214.8 114.6h.89v.89h-.89zM222.4 118.3h.89v.89h-.89zM222.2 126.3h.89v.89h-.89zM236.9 119.6h.89v.89h-.89zM229.9 115.4h.89v.89h-.89zM224.9 115.2h.89v.89h-.89zM211.6 118.7h.89v.89h-.89zM226.5 117.2h.89v.89h-.89zM226.0 129.5h.89v.89h-.89zM230.0 111.7h.89v.89h-.89zM221.9 112.6h.89v.89h-.89zM221.0 121.2h.89v.89h-.89zM228.6 114.5h.89v.89h-.89zM228.6 111.9h.89v.89h-.89zM230.7 117.0h.89v.89h-.89zM239.5 111.9h.89v.89h-.89zM227.8 107.5h.89v.89h-.89zM227.7 112.8h.89v.89h-.89zM223.6 111.4h.89v.89h-.89zM228.7 120.5h.89v.89h-.89zM222.6 116.1h.89v.89h-.89zM229.5 111.4h.89v.89h-.89zM232.9 119.7h.89v.89h-.89zM221.3 114.4h.89v.89h-.89zM224.7 117.5h.89v.89h-.89zM224.5 114.5h.89v.89h-.89zM221.1 115.7h.89v.89h-.89zM223.9 120.5h.89v.89h-.89zM212.0 112.4h.89v.89h-.89zM220.1 114.6h.89v.89h-.89zM219.0 114.2h.89v.89h-.89zM230.1 124.6h.89v.89h-.89zM226.5 112.4h.89v.89h-.89zM222.3 115.7h.89v.89h-.89zM224.7 122.5h.89v.89h-.89zM230.4 109.5h.89v.89h-.89zM227.5 111.0h.89v.89h-.89zM229.4 120.4h.89v.89h-.89zM225.3 114.0h.89v.89h-.89zM227.4 115.5h.89v.89h-.89z"/>
<defs><radialGradient id="rg23"><stop offset="0" stop-color="#333" stop-opacity="1.0"/><stop offset="0.5" stop-color="#666" stop-opacity="0.55"/><stop offset="1" stop-color="#999" stop-opacity="0"/></radialGradient></defs>
<ellipse cx="191.40" cy="150.60" rx="5.50" ry="4.60" fill="url(#rg23)" transform="rotate(0 191.40 150.60)"/>
<path fill="#000" fill-opacity="0.35" d="M187.3 148.7h.8v.8h-.8zM192.4 148.6h.8v.8h-.8zM192.4 150.0h.8v.8h-.8zM186.7 150.3h.8v.8h-.8zM190.3 149.8h.8v.8h-.8zM191.8 147.1h.8v.8h-.8zM190.2 147.9h.8v.8h-.8zM190.9 152.6h.8v.8h-.8zM194.6 150.4h.8v.8h-.8zM190.2 148.7h.8v.8h-.8zM191.0 147.3h.8v.8h-.8zM190.9 152.3h.8v.8h-.8zM189.7 153.2h.8v.8h-.8zM190.7 150.7h.8v.8h-.8zM191.3 149.4h.8v.8h-.8z"/>
<path fill="#000" fill-opacity="0.35" d="M190.9 150.1h.8v.8h-.8zM193.8 148.5h.8v.8h-.8zM192.0 151.7h.8v.8h-.8zM192.4 150.3h.8v.8h-.8zM192.3 150.5h.8v.8h-.8zM191.7 146.9h.8v.8h-.8zM190.8 150.0h.8v.8h-.8zM191.1 148.3h.8v.8h-.8zM188.0 153.7h.8v.8h-.8zM192.1 152.7h.8v.8h-.8zM193.7 151.2h.8v.8h-.8zM192.4 147.3h.8v.8h-.8zM195.6 148.9h.8v.8h-.8zM189.8 153.6h.8v.8h-.8zM193.8 149.6h.8v.8h-.8z"/>
<path fill="#000" fill-opacity="0.35" d="M187.0 150.0h.8v.8h-.8zM188.5 151.6h.8v.8h-.8zM189.8 150.5h.8v.8h-.8zM194.8 151.7h.8v.8h-.8zM195.4 148.9h.8v.8h-.8zM188.4 152.2h.8v.8h-.8zM191.3 151.6h.8v.8h-.8zM190.3 148.7h.8v.8h-.8zM190.9 150.6h.8v.8h-.8zM190.4 150.0h.8v.8h-.8zM194.0 150.1h.8v.8h-.8zM194.6 151.0h.8v.8h-.8zM193.5 147.4h.8v.8h-.8zM191.1 152.3h.8v.8h-.8zM190.0 149.3h.8v.8h-.8z"/>
<path fill="#000" fill-opacity="0.35" d="M191.6 151.9h.8v.8h-.8zM190.8 150.8h.8v.8h-.8zM191.5 149.2h.8v.8h-.8zM190.2 149.0h.8v.8h-.8zM190.8 150.7h.8v.8h-.8zM194.4 150.4h.8v.8h-.8zM189.6 146.4h.8v.8h-.8zM190.5 151.2h.8v.8h-.8zM190.2 148.6h.8v.8h-.8zM192.2 151.8h.8v.8h-.8zM192.6 150.1h.8v.8h-.8zM189.9 149.1h.8v.8h-.8zM190.3 150.3h.8v.8h-.8zM191.2 149.9h.8v.8h-.8zM194.4 150.7h.8v.8h-.8z"/>
<path fill="#000" fill-opacity="0.35" d="M193.4 150.0h.8v.8h-.8zM190.3 150.3h.8v.8h-.8zM189.3 149.9h.8v.8h-.8zM192.1 149.5h.8v.8h-.8zM190.0 149.3h.8v.8h-.8zM185.0 152.0h.8v.8h-.8zM188.4 148.0h.8v.8h-.8zM188.5 151.4h.8v.8h-.8zM192.4 147.8h.8v.8h-.8zM193.3 151.4h.8v.8h-.8zM191.4 151.8h.8v.8h-.8zM195.4 150.4h.8v.8h-.8zM191.1 151.2h.8v.8h-.8zM190.6 148.0h.8v.8h-.8zM190.7 149.1h.8v.8h-.8z"/>
<path fill="#000" fill-opacity="0.35" d="M188.1 149.5h.8v.8h-.8zM189.7 153.5h.8v.8h-.8zM190.3 149.5h.8v.8h-.8zM187.5 150.4h.8v.8h-.8zM194.8 147.7h.8v.8h-.8zM191.5 148.3h.8v.8h-.8zM190.2 149.4h.8v.8h-.8zM194.9 152.8h.8v.8h-.8zM188.0 151.2h.8v.8h-.8zM189.5 151.1h.8v.8h-.8zM191.1 151.3h.8v.8h-.8zM192.1 151.2h.8v.8h-.8zM191.9 150.8h.8v.8h-.8zM195.5 150.9h.8v.8h-.8zM193.8 150.7h.8v.8h-.8z"/>
<path d="M191.7 108.7 L214.6 108.7 L214.6 128.9 L191.7 128.9 Z" fill="none" stroke="#fff" stroke-width="2.3" stroke-opacity="0.8"/>
<path d="M214.6 108.7 L232.7 108.7 L232.7 124.2 L214.6 124.2 Z" fill="none" stroke="#fff" stroke-width="2.3" stroke-opacity="0.8"/>
<path d="M214.6 124.2 L232.7 124.2 L232.7 152.8 L214.6 152.8 Z" fill="none" stroke="#fff" stroke-width="2.3" stroke-opacity="0.8"/>
<path d="M191.7 108.7 L214.6 108.7 L214.6 128.9 L191.7 128.9 Z" fill="none" stroke="#000" stroke-width="1.1"/>
<path d="M214.6 108.7 L232.7 108.7 L232.7 124.2 L214.6 124.2 Z" fill="none" stroke="#000" stroke-width="1.1"/>
<path d="M214.6 124.2 L232.7 124.2 L232.7 152.8 L214.6 152.8 Z" fill="none" stroke="#000" stroke-width="1.1"/>
<text x="224.00" y="105.50" font-size="6.0" text-anchor="middle" font-weight="bold" fill="#000" stroke="#000" stroke-width="0.25" >71.2</text>
<text x="185.40" y="124.90" font-size="6.0" text-anchor="middle" font-weight="bold" fill="#000" stroke="#000" stroke-width="0.25" >5.9</text>
<text x="225.00" y="159.60" font-size="6.0" text-anchor="middle" font-weight="bold" fill="#000" stroke="#000" stroke-width="0.25" >10.5</text>
<path fill="#000" fill-opacity="0.3" d="M291.1 122.0h.89v.89h-.89zM291.4 121.8h.89v.89h-.89zM292.1 114.7h.89v.89h-.89zM295.9 109.3h.89v.89h-.89zM299.0 117.8h.89v.89h-.89zM292.4 116.2h.89v.89h-.89zM292.2 118.8h.89v.89h-.89zM300.5 119.1h.89v.89h-.89zM299.7 123.6h.89v.89h-.89zM289.3 115.3h.89v.89h-.89zM295.0 125.7h.89v.89h-.89zM287.4 117.9h.89v.89h-.89zM287.9 116.2h.89v.89h-.89zM294.6 112.5h.89v.89h-.89zM294.2 120.4h.89v.89h-.89zM292.8 120.2h.89v.89h-.89zM294.9 117.0h.89v.89h-.89zM290.6 118.8h.89v.89h-.89zM294.0 122.8h.89v.89h-.89zM290.1 116.9h.89v.89h-.89zM289.5 117.4h.89v.89h-.89zM290.4 117.0h.89v.89h-.89z"/>
<path fill="#000" fill-opacity="0.3" d="M296.5 114.7h.89v.89h-.89zM287.7 120.6h.89v.89h-.89zM296.3 124.3h.89v.89h-.89zM289.8 113.1h.89v.89h-.89zM292.2 114.9h.89v.89h-.89zM294.6 124.0h.89v.89h-.89zM295.4 120.0h.89v.89h-.89zM289.9 120.9h.89v.89h-.89zM296.9 120.1h.89v.89h-.89zM294.4 125.4h.89v.89h-.89zM296.3 117.5h.89v.89h-.89zM291.3 114.2h.89v.89h-.89zM302.3 118.0h.89v.89h-.89zM294.3 115.3h.89v.89h-.89zM289.8 123.8h.89v.89h-.89zM296.3 114.4h.89v.89h-.89zM304.1 118.5h.89v.89h-.89zM297.0 124.5h.89v.89h-.89zM283.1 118.8h.89v.89h-.89zM300.4 117.1h.89v.89h-.89zM298.4 119.8h.89v.89h-.89zM294.4 120.9h.89v.89h-.89z"/>
<path fill="#000" fill-opacity="0.3" d="M297.7 122.7h.89v.89h-.89zM297.7 122.6h.89v.89h-.89zM293.8 117.4h.89v.89h-.89zM291.5 121.6h.89v.89h-.89zM297.7 118.3h.89v.89h-.89zM283.4 119.9h.89v.89h-.89zM294.6 116.7h.89v.89h-.89zM294.0 123.1h.89v.89h-.89zM292.1 119.9h.89v.89h-.89zM295.6 117.3h.89v.89h-.89zM293.8 115.4h.89v.89h-.89zM289.2 117.0h.89v.89h-.89zM299.9 121.7h.89v.89h-.89zM294.3 113.4h.89v.89h-.89zM299.0 119.8h.89v.89h-.89zM298.8 115.5h.89v.89h-.89zM285.7 123.9h.89v.89h-.89zM290.0 124.4h.89v.89h-.89zM291.0 114.5h.89v.89h-.89zM293.3 122.3h.89v.89h-.89zM298.0 119.0h.89v.89h-.89zM301.4 115.3h.89v.89h-.89z"/>
<path fill="#000" fill-opacity="0.3" d="M291.5 113.5h.89v.89h-.89zM295.8 119.6h.89v.89h-.89zM287.6 121.0h.89v.89h-.89zM286.8 123.8h.89v.89h-.89zM290.4 115.0h.89v.89h-.89zM297.4 119.1h.89v.89h-.89zM291.3 123.5h.89v.89h-.89zM294.9 121.4h.89v.89h-.89zM291.2 122.7h.89v.89h-.89zM295.1 115.4h.89v.89h-.89zM290.0 117.3h.89v.89h-.89zM294.4 120.9h.89v.89h-.89zM300.0 117.9h.89v.89h-.89zM296.4 117.7h.89v.89h-.89zM294.7 120.4h.89v.89h-.89zM295.5 121.3h.89v.89h-.89zM299.5 116.4h.89v.89h-.89zM286.2 121.3h.89v.89h-.89zM286.9 120.5h.89v.89h-.89zM300.0 120.0h.89v.89h-.89zM292.9 116.4h.89v.89h-.89zM297.0 121.9h.89v.89h-.89z"/>
<path fill="#000" fill-opacity="0.3" d="M297.5 117.2h.89v.89h-.89zM291.7 118.1h.89v.89h-.89zM291.5 116.0h.89v.89h-.89zM289.6 116.7h.89v.89h-.89zM289.8 118.2h.89v.89h-.89zM296.3 112.7h.89v.89h-.89zM290.4 113.1h.89v.89h-.89zM294.9 120.2h.89v.89h-.89zM291.3 115.7h.89v.89h-.89zM291.5 118.7h.89v.89h-.89zM297.1 116.0h.89v.89h-.89zM298.5 117.6h.89v.89h-.89zM296.8 117.4h.89v.89h-.89zM286.0 113.1h.89v.89h-.89zM291.6 123.5h.89v.89h-.89zM293.5 122.9h.89v.89h-.89zM288.4 122.8h.89v.89h-.89zM292.1 120.2h.89v.89h-.89zM295.2 121.0h.89v.89h-.89zM294.2 125.9h.89v.89h-.89zM287.4 120.5h.89v.89h-.89z"/>
<path fill="#000" fill-opacity="0.3" d="M291.7 117.5h.89v.89h-.89zM288.7 125.0h.89v.89h-.89zM295.3 113.6h.89v.89h-.89zM297.0 115.8h.89v.89h-.89zM289.4 121.6h.89v.89h-.89zM289.3 122.4h.89v.89h-.89zM291.1 122.0h.89v.89h-.89zM288.6 117.9h.89v.89h-.89zM285.5 124.5h.89v.89h-.89zM292.7 121.5h.89v.89h-.89zM285.8 114.7h.89v.89h-.89zM295.4 118.9h.89v.89h-.89zM287.8 114.1h.89v.89h-.89zM293.0 112.4h.89v.89h-.89zM290.4 109.1h.89v.89h-.89zM290.6 126.3h.89v.89h-.89zM293.0 114.9h.89v.89h-.89zM290.8 115.9h.89v.89h-.89zM284.1 112.8h.89v.89h-.89zM291.0 111.8h.89v.89h-.89zM294.3 120.7h.89v.89h-.89z"/>
<path fill="#000" fill-opacity="0.2" d="M284.1 110.6h.8v.8h-.8zM282.0 115.5h.8v.8h-.8zM282.8 115.5h.8v.8h-.8zM289.7 113.9h.8v.8h-.8zM278.4 117.9h.8v.8h-.8zM296.5 123.0h.8v.8h-.8zM276.5 118.0h.8v.8h-.8zM296.5 113.9h.8v.8h-.8zM289.5 112.0h.8v.8h-.8z"/>
<path fill="#000" fill-opacity="0.2" d="M280.7 121.2h.8v.8h-.8zM287.8 126.3h.8v.8h-.8zM289.6 122.3h.8v.8h-.8zM293.2 124.4h.8v.8h-.8zM277.2 111.7h.8v.8h-.8zM294.3 115.2h.8v.8h-.8zM282.9 122.5h.8v.8h-.8zM285.4 112.6h.8v.8h-.8zM282.8 125.8h.8v.8h-.8z"/>
<path fill="#000" fill-opacity="0.2" d="M275.8 126.4h.8v.8h-.8zM284.2 110.8h.8v.8h-.8zM276.3 112.6h.8v.8h-.8zM285.3 122.4h.8v.8h-.8zM289.6 117.3h.8v.8h-.8zM294.7 125.6h.8v.8h-.8zM276.4 122.4h.8v.8h-.8zM287.2 116.8h.8v.8h-.8z"/>
<path fill="#000" fill-opacity="0.2" d="M281.5 116.0h.8v.8h-.8zM283.3 124.6h.8v.8h-.8zM292.8 125.0h.8v.8h-.8zM295.4 125.3h.8v.8h-.8zM279.8 126.2h.8v.8h-.8zM295.4 113.1h.8v.8h-.8zM295.7 115.1h.8v.8h-.8zM296.0 122.5h.8v.8h-.8z"/>
<path fill="#000" fill-opacity="0.2" d="M295.5 112.5h.8v.8h-.8zM284.6 111.1h.8v.8h-.8zM292.1 113.1h.8v.8h-.8zM289.1 120.6h.8v.8h-.8zM281.6 119.3h.8v.8h-.8zM278.7 111.5h.8v.8h-.8zM284.0 122.7h.8v.8h-.8zM296.4 123.9h.8v.8h-.8z"/>
<path fill="#000" fill-opacity="0.2" d="M278.2 118.1h.8v.8h-.8zM280.7 114.0h.8v.8h-.8zM290.1 111.4h.8v.8h-.8zM283.0 121.7h.8v.8h-.8zM285.8 113.2h.8v.8h-.8zM277.3 122.0h.8v.8h-.8zM281.9 124.5h.8v.8h-.8zM292.9 116.6h.8v.8h-.8z"/>
<path fill="#000" fill-opacity="0.27" d="M307.4 130.6h.89v.89h-.89zM300.0 130.2h.89v.89h-.89zM309.6 128.2h.89v.89h-.89zM305.7 141.2h.89v.89h-.89zM304.4 146.9h.89v.89h-.89zM309.8 131.3h.89v.89h-.89zM304.8 138.4h.89v.89h-.89zM306.9 126.6h.89v.89h-.89zM303.5 126.2h.89v.89h-.89zM304.4 131.4h.89v.89h-.89zM307.7 132.0h.89v.89h-.89zM307.2 123.7h.89v.89h-.89zM304.2 130.9h.89v.89h-.89zM305.0 124.8h.89v.89h-.89zM301.0 130.1h.89v.89h-.89zM308.5 127.9h.89v.89h-.89zM312.7 127.7h.89v.89h-.89zM299.8 132.7h.89v.89h-.89zM308.8 135.6h.89v.89h-.89zM303.2 130.8h.89v.89h-.89zM298.3 144.5h.89v.89h-.89zM301.6 115.4h.89v.89h-.89zM309.0 139.9h.89v.89h-.89zM304.4 135.6h.89v.89h-.89zM303.7 119.1h.89v.89h-.89zM298.2 126.1h.89v.89h-.89zM297.7 129.3h.89v.89h-.89zM304.0 126.6h.89v.89h-.89zM301.8 117.4h.89v.89h-.89zM306.8 143.8h.89v.89h-.89zM307.8 131.1h.89v.89h-.89zM299.3 135.1h.89v.89h-.89zM303.6 132.4h.89v.89h-.89zM305.4 120.4h.89v.89h-.89zM299.9 128.0h.89v.89h-.89zM308.7 126.9h.89v.89h-.89zM305.6 132.3h.89v.89h-.89zM302.3 130.2h.89v.89h-.89zM303.6 124.5h.89v.89h-.89z"/>
<path fill="#000" fill-opacity="0.27" d="M301.2 131.3h.89v.89h-.89zM305.4 126.4h.89v.89h-.89zM305.9 129.4h.89v.89h-.89zM302.7 128.4h.89v.89h-.89zM302.6 133.9h.89v.89h-.89zM302.8 127.3h.89v.89h-.89zM306.2 140.6h.89v.89h-.89zM306.1 124.5h.89v.89h-.89zM308.5 137.3h.89v.89h-.89zM301.6 132.5h.89v.89h-.89zM297.2 136.9h.89v.89h-.89zM304.5 127.9h.89v.89h-.89zM302.9 130.0h.89v.89h-.89zM307.2 126.6h.89v.89h-.89zM299.4 132.2h.89v.89h-.89zM304.7 128.4h.89v.89h-.89zM308.3 134.6h.89v.89h-.89zM303.1 121.4h.89v.89h-.89zM299.9 126.6h.89v.89h-.89zM303.8 132.6h.89v.89h-.89zM305.0 136.7h.89v.89h-.89zM301.4 133.5h.89v.89h-.89zM308.3 125.1h.89v.89h-.89zM304.3 137.4h.89v.89h-.89zM301.5 132.6h.89v.89h-.89zM307.8 133.6h.89v.89h-.89zM303.7 125.1h.89v.89h-.89zM298.0 137.7h.89v.89h-.89zM307.2 123.4h.89v.89h-.89zM309.2 137.0h.89v.89h-.89zM304.1 118.0h.89v.89h-.89zM302.4 134.5h.89v.89h-.89zM303.7 136.7h.89v.89h-.89zM308.3 127.5h.89v.89h-.89zM308.2 129.0h.89v.89h-.89zM306.9 133.0h.89v.89h-.89zM312.6 119.0h.89v.89h-.89zM300.3 132.0h.89v.89h-.89zM307.1 139.9h.89v.89h-.89z"/>
<path fill="#000" fill-opacity="0.27" d="M301.3 125.1h.89v.89h-.89zM311.7 134.4h.89v.89h-.89zM307.5 138.2h.89v.89h-.89zM303.7 135.3h.89v.89h-.89zM303.4 117.3h.89v.89h-.89zM301.7 134.5h.89v.89h-.89zM300.9 135.8h.89v.89h-.89zM308.7 136.7h.89v.89h-.89zM307.4 141.2h.89v.89h-.89zM309.1 127.1h.89v.89h-.89zM305.1 131.7h.89v.89h-.89zM302.9 126.3h.89v.89h-.89zM308.3 129.7h.89v.89h-.89zM308.0 136.2h.89v.89h-.89zM305.4 131.8h.89v.89h-.89zM307.7 132.3h.89v.89h-.89zM308.3 138.1h.89v.89h-.89zM303.0 133.1h.89v.89h-.89zM310.5 135.7h.89v.89h-.89zM310.7 137.9h.89v.89h-.89zM313.6 129.9h.89v.89h-.89zM301.3 137.1h.89v.89h-.89zM307.6 129.4h.89v.89h-.89zM301.3 121.8h.89v.89h-.89zM305.9 121.9h.89v.89h-.89zM298.0 132.0h.89v.89h-.89zM301.3 130.2h.89v.89h-.89zM307.7 129.9h.89v.89h-.89zM306.6 135.0h.89v.89h-.89zM301.5 135.1h.89v.89h-.89zM297.3 127.7h.89v.89h-.89zM305.5 121.1h.89v.89h-.89zM303.0 137.9h.89v.89h-.89zM305.8 133.6h.89v.89h-.89zM305.2 133.4h.89v.89h-.89zM301.8 113.7h.89v.89h-.89zM308.7 130.2h.89v.89h-.89zM306.5 137.7h.89v.89h-.89z"/>
<path fill="#000" fill-opacity="0.27" d="M304.5 144.4h.89v.89h-.89zM302.9 120.9h.89v.89h-.89zM303.2 125.5h.89v.89h-.89zM302.1 130.0h.89v.89h-.89zM300.8 138.7h.89v.89h-.89zM303.4 134.2h.89v.89h-.89zM301.3 135.3h.89v.89h-.89zM304.6 135.3h.89v.89h-.89zM302.8 128.5h.89v.89h-.89zM307.3 130.1h.89v.89h-.89zM303.3 121.5h.89v.89h-.89zM303.4 135.9h.89v.89h-.89zM302.1 130.3h.89v.89h-.89zM306.9 133.0h.89v.89h-.89zM311.3 135.6h.89v.89h-.89zM302.5 125.6h.89v.89h-.89zM303.4 131.0h.89v.89h-.89zM305.8 129.7h.89v.89h-.89zM304.6 137.4h.89v.89h-.89zM308.8 131.1h.89v.89h-.89zM300.8 137.4h.89v.89h-.89zM313.4 133.1h.89v.89h-.89zM306.3 137.1h.89v.89h-.89zM306.5 130.2h.89v.89h-.89zM308.1 130.8h.89v.89h-.89zM307.6 141.5h.89v.89h-.89zM307.3 127.1h.89v.89h-.89zM306.3 130.3h.89v.89h-.89zM312.2 126.5h.89v.89h-.89zM309.4 123.3h.89v.89h-.89zM307.6 133.7h.89v.89h-.89zM301.2 138.9h.89v.89h-.89zM311.0 123.6h.89v.89h-.89zM299.8 137.6h.89v.89h-.89zM305.4 132.7h.89v.89h-.89zM305.0 126.3h.89v.89h-.89zM304.1 127.0h.89v.89h-.89zM308.8 128.0h.89v.89h-.89z"/>
<path fill="#000" fill-opacity="0.27" d="M298.8 134.5h.89v.89h-.89zM305.8 126.9h.89v.89h-.89zM312.2 137.0h.89v.89h-.89zM302.1 129.6h.89v.89h-.89zM299.1 149.2h.89v.89h-.89zM299.6 128.4h.89v.89h-.89zM314.2 140.6h.89v.89h-.89zM314.0 130.1h.89v.89h-.89zM306.7 114.3h.89v.89h-.89zM304.6 131.8h.89v.89h-.89zM310.7 142.5h.89v.89h-.89zM311.1 136.8h.89v.89h-.89zM305.5 130.6h.89v.89h-.89zM300.1 129.8h.89v.89h-.89zM304.4 127.5h.89v.89h-.89zM310.0 122.4h.89v.89h-.89zM308.8 134.5h.89v.89h-.89zM305.7 135.1h.89v.89h-.89zM310.2 139.9h.89v.89h-.89zM311.3 133.9h.89v.89h-.89zM306.0 125.2h.89v.89h-.89zM306.0 130.6h.89v.89h-.89zM302.6 132.4h.89v.89h-.89zM306.3 137.0h.89v.89h-.89zM309.3 128.9h.89v.89h-.89zM308.1 134.2h.89v.89h-.89zM306.3 135.5h.89v.89h-.89zM308.4 131.0h.89v.89h-.89zM305.7 136.9h.89v.89h-.89zM305.2 129.9h.89v.89h-.89zM307.9 120.6h.89v.89h-.89zM304.7 138.7h.89v.89h-.89zM304.5 134.4h.89v.89h-.89zM308.6 134.6h.89v.89h-.89zM306.9 131.1h.89v.89h-.89zM302.8 136.8h.89v.89h-.89zM305.3 131.4h.89v.89h-.89zM311.1 130.4h.89v.89h-.89z"/>
<path fill="#000" fill-opacity="0.27" d="M303.2 113.1h.89v.89h-.89zM309.0 124.6h.89v.89h-.89zM312.2 137.0h.89v.89h-.89zM309.3 137.9h.89v.89h-.89zM304.7 132.7h.89v.89h-.89zM312.8 133.3h.89v.89h-.89zM302.0 133.7h.89v.89h-.89zM298.3 133.2h.89v.89h-.89zM295.1 133.2h.89v.89h-.89zM310.7 134.3h.89v.89h-.89zM311.0 119.6h.89v.89h-.89zM305.1 130.2h.89v.89h-.89zM304.2 135.5h.89v.89h-.89zM305.6 135.0h.89v.89h-.89zM303.5 135.9h.89v.89h-.89zM298.4 111.9h.89v.89h-.89zM302.3 126.4h.89v.89h-.89zM300.7 126.0h.89v.89h-.89zM299.9 123.0h.89v.89h-.89zM306.0 131.0h.89v.89h-.89zM308.7 131.1h.89v.89h-.89zM308.4 131.3h.89v.89h-.89zM310.6 125.9h.89v.89h-.89zM309.1 128.9h.89v.89h-.89zM308.8 124.2h.89v.89h-.89zM299.2 133.4h.89v.89h-.89zM305.0 142.9h.89v.89h-.89zM306.0 130.6h.89v.89h-.89zM302.6 127.5h.89v.89h-.89zM307.5 120.3h.89v.89h-.89zM305.9 139.4h.89v.89h-.89zM306.4 136.6h.89v.89h-.89zM311.8 138.2h.89v.89h-.89zM307.4 133.3h.89v.89h-.89zM301.0 129.4h.89v.89h-.89zM302.2 133.2h.89v.89h-.89zM301.7 141.1h.89v.89h-.89zM310.9 141.6h.89v.89h-.89z"/>
<path fill="#000" fill-opacity="0.22" d="M300.3 137.0h.8v.8h-.8zM309.2 135.9h.8v.8h-.8zM305.7 151.5h.8v.8h-.8zM300.1 142.1h.8v.8h-.8zM301.6 126.4h.8v.8h-.8zM305.1 134.2h.8v.8h-.8zM304.2 131.9h.8v.8h-.8zM305.4 147.1h.8v.8h-.8zM311.6 125.3h.8v.8h-.8zM312.8 124.5h.8v.8h-.8zM310.1 147.9h.8v.8h-.8zM309.3 132.0h.8v.8h-.8zM304.4 141.5h.8v.8h-.8zM310.0 136.2h.8v.8h-.8zM306.2 128.0h.8v.8h-.8zM302.9 140.6h.8v.8h-.8zM308.1 127.4h.8v.8h-.8z"/>
<path fill="#000" fill-opacity="0.22" d="M307.3 132.1h.8v.8h-.8zM298.3 145.4h.8v.8h-.8zM302.5 131.5h.8v.8h-.8zM304.7 125.7h.8v.8h-.8zM300.8 128.6h.8v.8h-.8zM303.6 150.0h.8v.8h-.8zM297.5 133.9h.8v.8h-.8zM313.5 140.9h.8v.8h-.8zM302.2 138.1h.8v.8h-.8zM309.9 138.3h.8v.8h-.8zM309.5 132.2h.8v.8h-.8zM305.0 127.7h.8v.8h-.8zM313.0 147.0h.8v.8h-.8zM303.6 139.7h.8v.8h-.8zM298.6 137.1h.8v.8h-.8zM309.5 131.9h.8v.8h-.8zM299.3 132.5h.8v.8h-.8z"/>
<path fill="#000" fill-opacity="0.22" d="M305.4 132.4h.8v.8h-.8zM298.4 145.8h.8v.8h-.8zM305.0 127.6h.8v.8h-.8zM298.8 147.2h.8v.8h-.8zM304.7 140.7h.8v.8h-.8zM309.6 138.0h.8v.8h-.8zM302.9 128.4h.8v.8h-.8zM299.2 149.3h.8v.8h-.8zM304.4 128.0h.8v.8h-.8zM309.3 128.5h.8v.8h-.8zM307.9 148.2h.8v.8h-.8zM300.0 136.5h.8v.8h-.8zM304.2 139.0h.8v.8h-.8zM310.0 134.0h.8v.8h-.8zM311.3 126.1h.8v.8h-.8zM306.8 132.9h.8v.8h-.8zM306.3 126.7h.8v.8h-.8z"/>
<path fill="#000" fill-opacity="0.22" d="M313.5 126.7h.8v.8h-.8zM302.3 133.1h.8v.8h-.8zM311.8 137.7h.8v.8h-.8zM302.7 128.1h.8v.8h-.8zM308.7 141.3h.8v.8h-.8zM299.4 133.2h.8v.8h-.8zM300.3 134.3h.8v.8h-.8zM306.9 125.4h.8v.8h-.8zM303.0 127.3h.8v.8h-.8zM308.2 130.8h.8v.8h-.8zM305.1 144.0h.8v.8h-.8zM314.0 130.0h.8v.8h-.8zM300.3 140.6h.8v.8h-.8zM301.0 133.5h.8v.8h-.8zM310.4 125.3h.8v.8h-.8zM309.3 125.3h.8v.8h-.8zM310.3 132.3h.8v.8h-.8z"/>
<path fill="#000" fill-opacity="0.22" d="M298.9 127.7h.8v.8h-.8zM312.3 147.3h.8v.8h-.8zM308.9 129.8h.8v.8h-.8zM301.2 146.9h.8v.8h-.8zM311.6 128.1h.8v.8h-.8zM301.4 127.1h.8v.8h-.8zM307.9 138.6h.8v.8h-.8zM305.5 145.6h.8v.8h-.8zM304.0 150.6h.8v.8h-.8zM308.1 152.0h.8v.8h-.8zM303.8 139.3h.8v.8h-.8zM307.4 143.0h.8v.8h-.8zM312.0 124.1h.8v.8h-.8zM301.5 131.9h.8v.8h-.8zM300.2 130.4h.8v.8h-.8zM298.0 151.8h.8v.8h-.8z"/>
<path fill="#000" fill-opacity="0.22" d="M310.6 124.9h.8v.8h-.8zM299.6 132.2h.8v.8h-.8zM305.6 132.4h.8v.8h-.8zM301.6 140.6h.8v.8h-.8zM312.9 149.3h.8v.8h-.8zM304.9 124.5h.8v.8h-.8zM304.4 138.0h.8v.8h-.8zM309.0 143.5h.8v.8h-.8zM305.9 138.9h.8v.8h-.8zM303.9 145.9h.8v.8h-.8zM305.7 147.5h.8v.8h-.8zM311.5 134.5h.8v.8h-.8zM297.7 142.0h.8v.8h-.8zM308.0 126.5h.8v.8h-.8zM301.3 132.4h.8v.8h-.8zM313.2 145.0h.8v.8h-.8z"/>
<defs><radialGradient id="rg24"><stop offset="0" stop-color="#777" stop-opacity="0.4"/><stop offset="1" stop-color="#888" stop-opacity="0"/></radialGradient></defs>
<ellipse cx="305.50" cy="130.00" rx="7.00" ry="7.00" fill="url(#rg24)" transform="rotate(0 305.50 130.00)"/>
<defs><radialGradient id="rg25"><stop offset="0" stop-color="#383838" stop-opacity="0.7"/><stop offset="0.55" stop-color="#4a4a4a" stop-opacity="0.5"/><stop offset="0.85" stop-color="#666" stop-opacity="0.25"/><stop offset="1" stop-color="#888" stop-opacity="0"/></radialGradient></defs>
<ellipse cx="306.00" cy="116.50" rx="12.00" ry="10.00" fill="url(#rg25)" transform="rotate(0 306.00 116.50)"/>
<path fill="#000" fill-opacity="0.38" d="M310.5 111.6h.89v.89h-.89zM307.2 114.6h.89v.89h-.89zM309.4 112.0h.89v.89h-.89zM304.2 115.7h.89v.89h-.89zM302.7 127.0h.89v.89h-.89zM313.1 118.1h.89v.89h-.89zM303.3 118.8h.89v.89h-.89zM295.6 125.7h.89v.89h-.89zM298.2 108.1h.89v.89h-.89zM307.9 116.3h.89v.89h-.89zM304.9 112.4h.89v.89h-.89zM309.1 113.6h.89v.89h-.89zM307.4 123.3h.89v.89h-.89zM307.8 119.7h.89v.89h-.89zM313.8 114.5h.89v.89h-.89zM307.0 118.8h.89v.89h-.89zM296.6 113.9h.89v.89h-.89zM305.6 111.6h.89v.89h-.89zM310.1 117.6h.89v.89h-.89zM303.3 113.6h.89v.89h-.89zM301.7 120.8h.89v.89h-.89zM302.1 108.6h.89v.89h-.89zM312.3 119.7h.89v.89h-.89zM314.6 119.4h.89v.89h-.89zM297.8 112.4h.89v.89h-.89zM307.1 118.4h.89v.89h-.89zM305.2 116.0h.89v.89h-.89zM297.1 114.2h.89v.89h-.89zM312.7 110.3h.89v.89h-.89zM303.0 118.6h.89v.89h-.89zM303.2 117.4h.89v.89h-.89zM310.2 116.2h.89v.89h-.89zM301.3 119.7h.89v.89h-.89zM300.8 122.4h.89v.89h-.89zM304.1 108.4h.89v.89h-.89zM304.6 117.4h.89v.89h-.89zM299.6 116.7h.89v.89h-.89zM301.9 120.3h.89v.89h-.89zM306.7 119.6h.89v.89h-.89zM303.1 119.1h.89v.89h-.89zM300.6 113.8h.89v.89h-.89zM300.8 114.0h.89v.89h-.89zM304.8 117.2h.89v.89h-.89zM303.0 114.4h.89v.89h-.89zM303.0 113.1h.89v.89h-.89zM307.3 118.8h.89v.89h-.89zM308.8 119.3h.89v.89h-.89zM300.0 117.3h.89v.89h-.89zM312.4 121.6h.89v.89h-.89zM312.0 119.6h.89v.89h-.89zM306.6 113.3h.89v.89h-.89zM307.1 123.4h.89v.89h-.89zM309.1 120.2h.89v.89h-.89zM310.2 114.1h.89v.89h-.89zM310.4 119.3h.89v.89h-.89zM304.6 116.3h.89v.89h-.89zM309.3 116.4h.89v.89h-.89zM311.7 117.5h.89v.89h-.89zM304.9 119.9h.89v.89h-.89zM296.4 119.4h.89v.89h-.89zM301.2 121.6h.89v.89h-.89zM311.7 119.3h.89v.89h-.89zM303.9 113.4h.89v.89h-.89zM303.1 115.4h.89v.89h-.89zM314.0 117.6h.89v.89h-.89zM308.0 109.4h.89v.89h-.89zM305.5 119.1h.89v.89h-.89zM305.3 113.2h.89v.89h-.89zM294.1 114.5h.89v.89h-.89zM309.7 117.1h.89v.89h-.89z"/>
<path fill="#000" fill-opacity="0.38" d="M310.6 107.2h.89v.89h-.89zM307.9 113.8h.89v.89h-.89zM306.4 123.5h.89v.89h-.89zM303.6 114.5h.89v.89h-.89zM305.2 117.2h.89v.89h-.89zM307.6 114.0h.89v.89h-.89zM311.9 119.1h.89v.89h-.89zM304.6 113.2h.89v.89h-.89zM303.2 116.6h.89v.89h-.89zM309.5 117.6h.89v.89h-.89zM296.9 112.5h.89v.89h-.89zM313.8 114.3h.89v.89h-.89zM310.6 114.2h.89v.89h-.89zM303.8 116.6h.89v.89h-.89zM309.8 114.6h.89v.89h-.89zM310.8 116.6h.89v.89h-.89zM306.1 122.0h.89v.89h-.89zM307.5 118.1h.89v.89h-.89zM305.4 108.1h.89v.89h-.89zM308.3 121.4h.89v.89h-.89zM305.7 118.3h.89v.89h-.89zM308.0 117.7h.89v.89h-.89zM302.7 113.0h.89v.89h-.89zM307.3 110.7h.89v.89h-.89zM301.0 116.1h.89v.89h-.89zM304.6 116.1h.89v.89h-.89zM298.0 118.5h.89v.89h-.89zM310.2 112.0h.89v.89h-.89zM302.0 118.9h.89v.89h-.89zM301.3 113.5h.89v.89h-.89zM308.1 109.3h.89v.89h-.89zM304.6 113.5h.89v.89h-.89zM295.8 118.5h.89v.89h-.89zM303.0 110.6h.89v.89h-.89zM316.5 112.7h.89v.89h-.89zM311.9 123.1h.89v.89h-.89zM304.9 113.4h.89v.89h-.89zM307.4 113.9h.89v.89h-.89zM307.2 121.8h.89v.89h-.89zM302.5 120.4h.89v.89h-.89zM301.9 116.8h.89v.89h-.89zM302.1 111.5h.89v.89h-.89zM308.1 119.2h.89v.89h-.89zM302.5 117.9h.89v.89h-.89zM298.2 116.2h.89v.89h-.89zM307.0 109.7h.89v.89h-.89zM302.3 123.4h.89v.89h-.89zM301.2 114.0h.89v.89h-.89zM316.2 117.1h.89v.89h-.89zM301.8 106.4h.89v.89h-.89zM297.2 114.2h.89v.89h-.89zM305.8 112.9h.89v.89h-.89zM303.1 116.3h.89v.89h-.89zM306.7 114.8h.89v.89h-.89zM312.2 112.1h.89v.89h-.89zM312.8 118.5h.89v.89h-.89zM301.5 112.8h.89v.89h-.89zM308.6 118.0h.89v.89h-.89zM301.6 121.1h.89v.89h-.89zM299.1 112.6h.89v.89h-.89zM304.8 121.0h.89v.89h-.89zM306.9 112.1h.89v.89h-.89zM303.4 110.2h.89v.89h-.89zM298.6 114.0h.89v.89h-.89zM310.1 113.4h.89v.89h-.89zM304.7 119.6h.89v.89h-.89zM309.9 113.0h.89v.89h-.89zM295.3 120.0h.89v.89h-.89zM302.1 121.3h.89v.89h-.89zM312.8 121.3h.89v.89h-.89z"/>
<path fill="#000" fill-opacity="0.38" d="M305.7 118.8h.89v.89h-.89zM305.9 113.9h.89v.89h-.89zM301.9 117.4h.89v.89h-.89zM305.7 115.2h.89v.89h-.89zM304.6 120.0h.89v.89h-.89zM302.6 117.5h.89v.89h-.89zM302.6 117.6h.89v.89h-.89zM312.4 107.8h.89v.89h-.89zM313.9 116.4h.89v.89h-.89zM302.4 117.1h.89v.89h-.89zM305.7 120.0h.89v.89h-.89zM300.5 113.5h.89v.89h-.89zM307.0 118.4h.89v.89h-.89zM303.2 121.2h.89v.89h-.89zM306.8 107.9h.89v.89h-.89zM308.4 118.1h.89v.89h-.89zM304.5 110.7h.89v.89h-.89zM303.6 121.2h.89v.89h-.89zM295.9 122.4h.89v.89h-.89zM304.2 117.0h.89v.89h-.89zM310.2 116.1h.89v.89h-.89zM301.4 116.6h.89v.89h-.89zM306.1 114.9h.89v.89h-.89zM299.8 118.7h.89v.89h-.89zM297.9 114.3h.89v.89h-.89zM303.1 116.9h.89v.89h-.89zM310.3 105.8h.89v.89h-.89zM303.2 115.7h.89v.89h-.89zM300.2 115.2h.89v.89h-.89zM309.1 127.1h.89v.89h-.89zM307.1 122.2h.89v.89h-.89zM296.7 116.9h.89v.89h-.89zM303.7 118.8h.89v.89h-.89zM305.6 116.2h.89v.89h-.89zM308.9 113.5h.89v.89h-.89zM307.5 111.9h.89v.89h-.89zM306.9 112.5h.89v.89h-.89zM303.8 111.5h.89v.89h-.89zM297.8 113.2h.89v.89h-.89zM299.4 117.9h.89v.89h-.89zM307.6 115.9h.89v.89h-.89zM303.1 115.7h.89v.89h-.89zM300.6 110.9h.89v.89h-.89zM300.1 106.9h.89v.89h-.89zM292.4 112.2h.89v.89h-.89zM310.2 122.5h.89v.89h-.89zM306.1 110.9h.89v.89h-.89zM308.8 114.8h.89v.89h-.89zM308.0 111.5h.89v.89h-.89zM301.9 118.7h.89v.89h-.89zM304.1 109.7h.89v.89h-.89zM310.4 114.2h.89v.89h-.89zM312.0 113.1h.89v.89h-.89zM304.9 114.0h.89v.89h-.89zM321.0 116.2h.89v.89h-.89zM306.0 112.3h.89v.89h-.89zM310.0 118.1h.89v.89h-.89zM308.4 114.9h.89v.89h-.89zM303.6 120.5h.89v.89h-.89zM309.0 115.6h.89v.89h-.89zM299.3 110.8h.89v.89h-.89zM298.9 118.4h.89v.89h-.89zM306.7 114.9h.89v.89h-.89zM308.9 118.7h.89v.89h-.89zM300.4 120.2h.89v.89h-.89zM304.1 116.8h.89v.89h-.89zM301.2 115.0h.89v.89h-.89zM306.9 108.8h.89v.89h-.89zM314.0 121.3h.89v.89h-.89zM305.3 113.0h.89v.89h-.89z"/>
<path fill="#000" fill-opacity="0.38" d="M317.2 115.7h.89v.89h-.89zM298.8 116.0h.89v.89h-.89zM306.8 109.0h.89v.89h-.89zM304.2 113.3h.89v.89h-.89zM304.0 115.2h.89v.89h-.89zM310.8 113.9h.89v.89h-.89zM303.6 119.4h.89v.89h-.89zM301.1 122.6h.89v.89h-.89zM295.1 117.7h.89v.89h-.89zM302.2 109.5h.89v.89h-.89zM312.6 116.4h.89v.89h-.89zM299.9 109.9h.89v.89h-.89zM303.8 119.9h.89v.89h-.89zM302.3 114.1h.89v.89h-.89zM304.6 115.3h.89v.89h-.89zM315.5 117.0h.89v.89h-.89zM301.7 120.0h.89v.89h-.89zM309.7 117.4h.89v.89h-.89zM310.4 112.3h.89v.89h-.89zM311.0 122.0h.89v.89h-.89zM302.5 112.3h.89v.89h-.89zM307.5 117.7h.89v.89h-.89zM295.0 120.9h.89v.89h-.89zM298.8 116.1h.89v.89h-.89zM310.0 124.0h.89v.89h-.89zM307.1 119.9h.89v.89h-.89zM311.8 116.6h.89v.89h-.89zM303.1 118.0h.89v.89h-.89zM315.6 114.7h.89v.89h-.89zM306.4 117.7h.89v.89h-.89zM309.4 113.6h.89v.89h-.89zM304.0 117.8h.89v.89h-.89zM299.0 121.8h.89v.89h-.89zM308.7 113.3h.89v.89h-.89zM307.6 115.2h.89v.89h-.89zM304.8 115.1h.89v.89h-.89zM296.6 121.4h.89v.89h-.89zM313.2 113.8h.89v.89h-.89zM305.6 104.9h.89v.89h-.89zM298.1 105.2h.89v.89h-.89zM307.6 111.6h.89v.89h-.89zM313.0 117.1h.89v.89h-.89zM312.0 106.9h.89v.89h-.89zM301.4 119.7h.89v.89h-.89zM303.5 118.4h.89v.89h-.89zM311.9 110.3h.89v.89h-.89zM301.4 115.2h.89v.89h-.89zM297.6 116.6h.89v.89h-.89zM312.5 111.4h.89v.89h-.89zM311.5 110.4h.89v.89h-.89zM315.4 121.0h.89v.89h-.89zM308.0 113.7h.89v.89h-.89zM301.4 115.7h.89v.89h-.89zM305.2 117.8h.89v.89h-.89zM312.1 114.3h.89v.89h-.89zM307.9 118.9h.89v.89h-.89zM303.8 123.4h.89v.89h-.89zM308.5 115.4h.89v.89h-.89zM303.2 113.3h.89v.89h-.89zM303.2 117.5h.89v.89h-.89zM305.8 123.1h.89v.89h-.89zM292.0 111.8h.89v.89h-.89zM300.8 116.5h.89v.89h-.89zM304.9 121.4h.89v.89h-.89zM304.2 119.0h.89v.89h-.89zM303.3 117.1h.89v.89h-.89zM312.3 114.4h.89v.89h-.89zM302.5 114.7h.89v.89h-.89zM308.9 113.7h.89v.89h-.89zM302.2 111.8h.89v.89h-.89z"/>
<path fill="#000" fill-opacity="0.38" d="M300.4 124.7h.89v.89h-.89zM295.9 113.1h.89v.89h-.89zM308.3 111.7h.89v.89h-.89zM311.5 116.0h.89v.89h-.89zM313.0 112.0h.89v.89h-.89zM307.5 113.3h.89v.89h-.89zM310.5 120.0h.89v.89h-.89zM301.0 112.2h.89v.89h-.89zM309.5 115.5h.89v.89h-.89zM308.8 111.5h.89v.89h-.89zM309.8 119.1h.89v.89h-.89zM307.9 120.9h.89v.89h-.89zM310.3 112.6h.89v.89h-.89zM311.6 118.5h.89v.89h-.89zM304.8 120.1h.89v.89h-.89zM306.4 121.0h.89v.89h-.89zM302.8 112.1h.89v.89h-.89zM309.4 120.2h.89v.89h-.89zM303.9 118.5h.89v.89h-.89zM298.6 120.8h.89v.89h-.89zM309.3 115.8h.89v.89h-.89zM310.9 117.3h.89v.89h-.89zM308.3 116.8h.89v.89h-.89zM301.5 123.0h.89v.89h-.89zM301.0 118.4h.89v.89h-.89zM311.2 112.5h.89v.89h-.89zM301.4 119.2h.89v.89h-.89zM306.6 109.9h.89v.89h-.89zM323.3 104.7h.89v.89h-.89zM298.0 120.9h.89v.89h-.89zM306.6 122.9h.89v.89h-.89zM302.0 110.4h.89v.89h-.89zM305.4 113.4h.89v.89h-.89zM310.1 108.7h.89v.89h-.89zM309.8 123.8h.89v.89h-.89zM309.5 114.7h.89v.89h-.89zM305.0 109.3h.89v.89h-.89zM310.3 114.0h.89v.89h-.89zM298.5 115.1h.89v.89h-.89zM291.7 109.6h.89v.89h-.89zM303.0 119.0h.89v.89h-.89zM311.8 116.1h.89v.89h-.89zM304.1 115.6h.89v.89h-.89zM299.8 110.7h.89v.89h-.89zM296.3 121.0h.89v.89h-.89zM300.0 122.4h.89v.89h-.89zM304.2 115.4h.89v.89h-.89zM305.5 112.5h.89v.89h-.89zM303.7 113.2h.89v.89h-.89zM306.3 116.0h.89v.89h-.89zM314.6 118.7h.89v.89h-.89zM303.0 118.1h.89v.89h-.89zM295.6 120.6h.89v.89h-.89zM313.6 110.0h.89v.89h-.89zM313.7 117.0h.89v.89h-.89zM306.5 121.4h.89v.89h-.89zM306.0 122.0h.89v.89h-.89zM306.8 116.3h.89v.89h-.89zM310.6 120.6h.89v.89h-.89zM311.1 112.7h.89v.89h-.89zM298.5 114.5h.89v.89h-.89zM309.9 110.7h.89v.89h-.89zM303.4 118.8h.89v.89h-.89zM318.6 121.8h.89v.89h-.89zM312.0 112.9h.89v.89h-.89zM303.2 112.8h.89v.89h-.89zM309.3 121.6h.89v.89h-.89zM301.6 111.6h.89v.89h-.89zM303.9 109.3h.89v.89h-.89zM300.6 114.3h.89v.89h-.89z"/>
<path fill="#000" fill-opacity="0.38" d="M308.8 117.6h.89v.89h-.89zM313.5 117.5h.89v.89h-.89zM306.7 116.1h.89v.89h-.89zM295.5 115.2h.89v.89h-.89zM305.1 103.5h.89v.89h-.89zM298.6 111.9h.89v.89h-.89zM307.6 118.5h.89v.89h-.89zM312.0 112.5h.89v.89h-.89zM307.7 121.3h.89v.89h-.89zM305.8 108.6h.89v.89h-.89zM306.5 118.0h.89v.89h-.89zM305.1 118.7h.89v.89h-.89zM298.3 116.4h.89v.89h-.89zM305.8 116.4h.89v.89h-.89zM299.3 118.1h.89v.89h-.89zM304.2 115.5h.89v.89h-.89zM304.8 109.1h.89v.89h-.89zM308.5 123.5h.89v.89h-.89zM304.9 114.7h.89v.89h-.89zM305.3 115.8h.89v.89h-.89zM312.9 117.3h.89v.89h-.89zM306.4 116.8h.89v.89h-.89zM300.8 116.6h.89v.89h-.89zM301.8 115.7h.89v.89h-.89zM296.8 115.2h.89v.89h-.89zM304.2 121.9h.89v.89h-.89zM307.9 112.0h.89v.89h-.89zM310.1 120.2h.89v.89h-.89zM315.5 122.3h.89v.89h-.89zM307.5 111.7h.89v.89h-.89zM301.8 113.1h.89v.89h-.89zM296.7 110.3h.89v.89h-.89zM311.8 104.7h.89v.89h-.89zM310.8 110.7h.89v.89h-.89zM293.2 113.0h.89v.89h-.89zM307.4 120.7h.89v.89h-.89zM307.0 111.8h.89v.89h-.89zM301.7 116.8h.89v.89h-.89zM299.7 115.2h.89v.89h-.89zM302.7 121.3h.89v.89h-.89zM310.0 114.8h.89v.89h-.89zM304.0 122.8h.89v.89h-.89zM303.1 112.7h.89v.89h-.89zM303.0 118.6h.89v.89h-.89zM306.7 114.9h.89v.89h-.89zM304.8 125.8h.89v.89h-.89zM303.3 105.7h.89v.89h-.89zM311.3 120.5h.89v.89h-.89zM307.7 117.2h.89v.89h-.89zM310.7 114.8h.89v.89h-.89zM298.9 113.7h.89v.89h-.89zM308.4 116.6h.89v.89h-.89zM300.1 118.3h.89v.89h-.89zM307.2 111.3h.89v.89h-.89zM305.2 115.8h.89v.89h-.89zM303.9 125.2h.89v.89h-.89zM303.1 112.2h.89v.89h-.89zM311.4 108.5h.89v.89h-.89zM305.3 115.8h.89v.89h-.89zM310.9 111.7h.89v.89h-.89zM310.8 119.0h.89v.89h-.89zM304.5 117.2h.89v.89h-.89zM308.4 112.0h.89v.89h-.89zM296.5 122.2h.89v.89h-.89zM299.8 116.1h.89v.89h-.89zM303.9 118.7h.89v.89h-.89zM322.5 116.1h.89v.89h-.89zM306.6 117.2h.89v.89h-.89zM295.8 119.7h.89v.89h-.89zM299.5 113.9h.89v.89h-.89z"/>
<defs><radialGradient id="rg26"><stop offset="0" stop-color="#333" stop-opacity="0.55"/><stop offset="0.5" stop-color="#666" stop-opacity="0.30250000000000005"/><stop offset="1" stop-color="#999" stop-opacity="0"/></radialGradient></defs>
<ellipse cx="274.80" cy="151.80" rx="5.50" ry="4.60" fill="url(#rg26)" transform="rotate(0 274.80 151.80)"/>
<path fill="#000" fill-opacity="0.35" d="M273.5 153.0h.8v.8h-.8zM275.6 152.5h.8v.8h-.8zM272.4 149.8h.8v.8h-.8zM273.1 152.3h.8v.8h-.8zM270.8 151.1h.8v.8h-.8zM277.9 149.9h.8v.8h-.8zM275.7 153.3h.8v.8h-.8zM277.2 151.5h.8v.8h-.8zM274.2 153.3h.8v.8h-.8zM272.4 150.6h.8v.8h-.8zM273.9 152.3h.8v.8h-.8zM280.5 150.2h.8v.8h-.8zM276.8 151.0h.8v.8h-.8zM276.3 151.6h.8v.8h-.8zM271.8 151.4h.8v.8h-.8z"/>
<path fill="#000" fill-opacity="0.35" d="M276.0 153.6h.8v.8h-.8zM272.9 151.3h.8v.8h-.8zM276.2 151.8h.8v.8h-.8zM272.7 151.8h.8v.8h-.8zM275.4 148.2h.8v.8h-.8zM273.7 149.9h.8v.8h-.8zM276.5 152.0h.8v.8h-.8zM275.4 148.0h.8v.8h-.8zM276.3 152.7h.8v.8h-.8zM272.5 150.4h.8v.8h-.8zM274.9 147.4h.8v.8h-.8zM275.5 147.4h.8v.8h-.8zM278.5 149.9h.8v.8h-.8zM276.9 152.1h.8v.8h-.8zM274.7 151.1h.8v.8h-.8z"/>
<path fill="#000" fill-opacity="0.35" d="M275.1 150.2h.8v.8h-.8zM272.2 150.4h.8v.8h-.8zM273.8 151.6h.8v.8h-.8zM276.7 150.7h.8v.8h-.8zM270.7 149.1h.8v.8h-.8zM274.1 152.9h.8v.8h-.8zM275.7 154.8h.8v.8h-.8zM279.0 150.4h.8v.8h-.8zM277.8 151.2h.8v.8h-.8zM271.9 151.4h.8v.8h-.8zM273.4 150.4h.8v.8h-.8zM275.6 151.0h.8v.8h-.8zM275.6 150.7h.8v.8h-.8zM276.7 153.3h.8v.8h-.8zM275.1 152.6h.8v.8h-.8z"/>
<path fill="#000" fill-opacity="0.35" d="M272.5 150.5h.8v.8h-.8zM275.0 154.1h.8v.8h-.8zM277.7 153.4h.8v.8h-.8zM276.9 153.5h.8v.8h-.8zM274.3 149.6h.8v.8h-.8zM273.4 149.6h.8v.8h-.8zM272.0 150.7h.8v.8h-.8zM275.3 150.7h.8v.8h-.8zM272.5 151.8h.8v.8h-.8zM277.0 148.2h.8v.8h-.8zM277.0 153.7h.8v.8h-.8zM272.8 153.2h.8v.8h-.8zM272.0 153.2h.8v.8h-.8zM271.0 153.2h.8v.8h-.8zM270.7 152.7h.8v.8h-.8z"/>
<path fill="#000" fill-opacity="0.35" d="M274.7 152.0h.8v.8h-.8zM271.0 148.0h.8v.8h-.8zM276.6 152.9h.8v.8h-.8zM276.3 154.0h.8v.8h-.8zM271.5 153.9h.8v.8h-.8zM274.6 152.4h.8v.8h-.8zM274.0 151.5h.8v.8h-.8zM280.8 151.2h.8v.8h-.8zM275.0 153.3h.8v.8h-.8zM271.2 149.9h.8v.8h-.8zM273.3 150.9h.8v.8h-.8zM273.6 150.6h.8v.8h-.8zM276.0 148.3h.8v.8h-.8zM271.4 156.3h.8v.8h-.8zM273.6 150.3h.8v.8h-.8z"/>
<path fill="#000" fill-opacity="0.35" d="M277.9 152.1h.8v.8h-.8zM272.4 154.1h.8v.8h-.8zM274.6 153.6h.8v.8h-.8zM275.2 147.4h.8v.8h-.8zM276.3 150.6h.8v.8h-.8zM274.9 150.3h.8v.8h-.8zM277.3 147.8h.8v.8h-.8zM271.6 148.5h.8v.8h-.8zM273.8 153.4h.8v.8h-.8zM274.0 152.4h.8v.8h-.8zM278.1 151.3h.8v.8h-.8zM273.9 154.5h.8v.8h-.8zM276.8 153.3h.8v.8h-.8zM275.1 151.9h.8v.8h-.8zM271.5 153.4h.8v.8h-.8z"/>
<path d="M273.8 108.8 L296.9 108.8 L296.9 129.2 L273.8 129.2 Z" fill="none" stroke="#fff" stroke-width="2.3" stroke-opacity="0.8"/>
<path d="M296.9 108.8 L314.6 108.8 L314.6 124.2 L296.9 124.2 Z" fill="none" stroke="#fff" stroke-width="2.3" stroke-opacity="0.8"/>
<path d="M296.9 124.2 L314.6 124.2 L314.6 152.8 L296.9 152.8 Z" fill="none" stroke="#fff" stroke-width="2.3" stroke-opacity="0.8"/>
<path d="M273.8 108.8 L296.9 108.8 L296.9 129.2 L273.8 129.2 Z" fill="none" stroke="#000" stroke-width="1.1"/>
<path d="M296.9 108.8 L314.6 108.8 L314.6 124.2 L296.9 124.2 Z" fill="none" stroke="#000" stroke-width="1.1"/>
<path d="M296.9 124.2 L314.6 124.2 L314.6 152.8 L296.9 152.8 Z" fill="none" stroke="#000" stroke-width="1.1"/>
<text x="307.00" y="106.20" font-size="6.0" text-anchor="middle" font-weight="bold" fill="#000" stroke="#000" stroke-width="0.25" >74.4</text>
<text x="267.30" y="124.20" font-size="6.0" text-anchor="middle" font-weight="bold" fill="#000" stroke="#000" stroke-width="0.25" >8.48</text>
<text x="307.00" y="158.80" font-size="6.0" text-anchor="middle" font-weight="bold" fill="#000" stroke="#000" stroke-width="0.25" >10.7</text>
<path fill="#000" fill-opacity="0.28" d="M369.8 112.5h.8v.8h-.8zM377.5 119.3h.8v.8h-.8zM359.3 125.1h.8v.8h-.8zM371.1 113.0h.8v.8h-.8zM357.7 126.4h.8v.8h-.8zM377.8 127.3h.8v.8h-.8zM361.0 127.5h.8v.8h-.8zM363.7 123.9h.8v.8h-.8zM358.7 124.0h.8v.8h-.8zM363.9 118.2h.8v.8h-.8zM358.3 114.2h.8v.8h-.8zM365.9 118.5h.8v.8h-.8zM367.7 118.0h.8v.8h-.8zM377.2 120.5h.8v.8h-.8zM367.1 121.8h.8v.8h-.8zM365.3 128.5h.8v.8h-.8zM376.4 118.4h.8v.8h-.8zM370.6 128.4h.8v.8h-.8zM375.0 122.1h.8v.8h-.8zM374.7 123.3h.8v.8h-.8zM370.0 121.2h.8v.8h-.8zM378.5 126.3h.8v.8h-.8zM366.4 127.8h.8v.8h-.8zM358.1 127.5h.8v.8h-.8zM366.2 124.3h.8v.8h-.8zM366.3 113.1h.8v.8h-.8zM371.6 119.1h.8v.8h-.8zM367.6 121.1h.8v.8h-.8zM369.3 122.2h.8v.8h-.8zM364.5 121.8h.8v.8h-.8zM367.9 121.4h.8v.8h-.8zM364.4 111.6h.8v.8h-.8zM367.0 120.1h.8v.8h-.8zM376.6 118.9h.8v.8h-.8zM360.2 116.2h.8v.8h-.8zM374.4 124.5h.8v.8h-.8zM375.1 128.2h.8v.8h-.8zM375.2 120.4h.8v.8h-.8zM379.0 111.1h.8v.8h-.8zM367.1 119.5h.8v.8h-.8zM364.6 127.1h.8v.8h-.8zM375.1 117.0h.8v.8h-.8zM366.8 126.6h.8v.8h-.8zM364.0 123.6h.8v.8h-.8z"/>
<path fill="#000" fill-opacity="0.28" d="M358.1 118.8h.8v.8h-.8zM359.9 126.8h.8v.8h-.8zM376.1 112.5h.8v.8h-.8zM369.9 128.6h.8v.8h-.8zM361.3 124.0h.8v.8h-.8zM359.9 118.8h.8v.8h-.8zM360.3 120.4h.8v.8h-.8zM364.3 125.9h.8v.8h-.8zM361.2 128.4h.8v.8h-.8zM372.2 126.7h.8v.8h-.8zM369.3 128.3h.8v.8h-.8zM376.3 117.2h.8v.8h-.8zM366.3 115.9h.8v.8h-.8zM371.3 125.2h.8v.8h-.8zM359.9 118.1h.8v.8h-.8zM369.7 122.2h.8v.8h-.8zM359.4 127.1h.8v.8h-.8zM360.5 122.9h.8v.8h-.8zM370.1 119.6h.8v.8h-.8zM368.3 117.0h.8v.8h-.8zM369.3 124.1h.8v.8h-.8zM378.1 114.4h.8v.8h-.8zM360.9 111.7h.8v.8h-.8zM358.2 117.3h.8v.8h-.8zM374.4 121.3h.8v.8h-.8zM378.8 127.5h.8v.8h-.8zM376.1 122.6h.8v.8h-.8zM362.0 126.3h.8v.8h-.8zM363.1 120.1h.8v.8h-.8zM361.0 123.8h.8v.8h-.8zM379.0 116.6h.8v.8h-.8zM359.0 126.4h.8v.8h-.8zM375.1 127.5h.8v.8h-.8zM358.4 114.2h.8v.8h-.8zM368.7 123.8h.8v.8h-.8zM367.4 121.5h.8v.8h-.8zM372.4 118.6h.8v.8h-.8zM370.5 123.0h.8v.8h-.8zM369.9 119.3h.8v.8h-.8zM377.4 112.4h.8v.8h-.8zM358.3 123.2h.8v.8h-.8zM359.5 117.2h.8v.8h-.8zM364.5 124.3h.8v.8h-.8zM363.9 125.2h.8v.8h-.8z"/>
<path fill="#000" fill-opacity="0.28" d="M359.4 112.2h.8v.8h-.8zM371.4 124.0h.8v.8h-.8zM360.2 125.8h.8v.8h-.8zM359.1 124.3h.8v.8h-.8zM375.3 124.9h.8v.8h-.8zM367.1 114.1h.8v.8h-.8zM377.8 126.1h.8v.8h-.8zM376.1 120.5h.8v.8h-.8zM362.5 127.1h.8v.8h-.8zM374.2 127.1h.8v.8h-.8zM370.6 123.8h.8v.8h-.8zM363.1 125.7h.8v.8h-.8zM362.7 127.3h.8v.8h-.8zM371.9 114.5h.8v.8h-.8zM376.1 124.3h.8v.8h-.8zM361.9 113.4h.8v.8h-.8zM369.6 117.9h.8v.8h-.8zM363.7 113.1h.8v.8h-.8zM370.7 122.9h.8v.8h-.8zM364.6 123.2h.8v.8h-.8zM358.0 128.1h.8v.8h-.8zM379.2 120.9h.8v.8h-.8zM372.9 121.5h.8v.8h-.8zM378.8 121.1h.8v.8h-.8zM366.8 124.3h.8v.8h-.8zM371.7 118.0h.8v.8h-.8zM376.4 113.1h.8v.8h-.8zM364.7 115.9h.8v.8h-.8zM361.8 125.0h.8v.8h-.8zM362.3 116.6h.8v.8h-.8zM374.5 128.0h.8v.8h-.8zM365.1 125.7h.8v.8h-.8zM375.8 113.5h.8v.8h-.8zM368.8 117.6h.8v.8h-.8zM363.9 127.7h.8v.8h-.8zM369.1 125.8h.8v.8h-.8zM366.8 115.2h.8v.8h-.8zM365.3 124.2h.8v.8h-.8zM370.6 126.5h.8v.8h-.8zM362.5 113.7h.8v.8h-.8zM362.6 121.3h.8v.8h-.8zM362.2 114.5h.8v.8h-.8zM372.3 114.8h.8v.8h-.8z"/>
<path fill="#000" fill-opacity="0.28" d="M373.6 115.4h.8v.8h-.8zM379.3 112.7h.8v.8h-.8zM366.1 123.3h.8v.8h-.8zM359.8 123.6h.8v.8h-.8zM372.6 114.4h.8v.8h-.8zM378.1 116.1h.8v.8h-.8zM373.7 126.2h.8v.8h-.8zM367.9 120.3h.8v.8h-.8zM373.5 118.3h.8v.8h-.8zM371.5 117.1h.8v.8h-.8zM379.1 124.7h.8v.8h-.8zM366.8 113.1h.8v.8h-.8zM365.3 128.0h.8v.8h-.8zM363.5 117.9h.8v.8h-.8zM378.9 114.3h.8v.8h-.8zM365.3 116.6h.8v.8h-.8zM362.6 118.0h.8v.8h-.8zM369.6 124.4h.8v.8h-.8zM364.8 124.1h.8v.8h-.8zM367.8 121.8h.8v.8h-.8zM378.8 121.6h.8v.8h-.8zM364.3 124.1h.8v.8h-.8zM378.6 126.4h.8v.8h-.8zM376.7 127.1h.8v.8h-.8zM365.5 116.3h.8v.8h-.8zM372.0 128.0h.8v.8h-.8zM358.9 126.3h.8v.8h-.8zM365.3 117.6h.8v.8h-.8zM360.8 124.5h.8v.8h-.8zM377.1 122.1h.8v.8h-.8zM368.6 120.0h.8v.8h-.8zM362.8 119.9h.8v.8h-.8zM362.9 120.4h.8v.8h-.8zM371.0 126.5h.8v.8h-.8zM361.2 120.4h.8v.8h-.8zM359.3 119.5h.8v.8h-.8zM373.6 116.8h.8v.8h-.8zM370.2 112.3h.8v.8h-.8zM364.1 111.0h.8v.8h-.8zM366.2 125.5h.8v.8h-.8zM369.2 124.0h.8v.8h-.8zM362.9 127.4h.8v.8h-.8zM365.4 117.8h.8v.8h-.8z"/>
<path fill="#000" fill-opacity="0.28" d="M369.7 125.6h.8v.8h-.8zM368.3 127.3h.8v.8h-.8zM379.3 116.5h.8v.8h-.8zM370.1 121.7h.8v.8h-.8zM369.7 123.4h.8v.8h-.8zM375.0 122.5h.8v.8h-.8zM369.6 118.2h.8v.8h-.8zM365.8 119.3h.8v.8h-.8zM371.6 125.9h.8v.8h-.8zM363.6 122.2h.8v.8h-.8zM357.8 125.2h.8v.8h-.8zM360.1 126.3h.8v.8h-.8zM362.8 123.8h.8v.8h-.8zM370.8 111.3h.8v.8h-.8zM358.6 126.9h.8v.8h-.8zM359.2 122.2h.8v.8h-.8zM359.1 114.8h.8v.8h-.8zM362.0 124.9h.8v.8h-.8zM374.7 119.7h.8v.8h-.8zM370.3 124.8h.8v.8h-.8zM361.5 127.4h.8v.8h-.8zM359.5 118.9h.8v.8h-.8zM360.4 126.2h.8v.8h-.8zM375.8 126.2h.8v.8h-.8zM361.9 127.1h.8v.8h-.8zM365.4 125.5h.8v.8h-.8zM367.2 124.9h.8v.8h-.8zM358.6 126.5h.8v.8h-.8zM362.7 128.4h.8v.8h-.8zM377.6 128.2h.8v.8h-.8zM359.0 116.6h.8v.8h-.8zM379.2 114.8h.8v.8h-.8zM360.4 116.2h.8v.8h-.8zM365.0 119.6h.8v.8h-.8zM363.3 123.7h.8v.8h-.8zM379.5 128.3h.8v.8h-.8zM375.3 125.4h.8v.8h-.8zM377.6 116.9h.8v.8h-.8zM369.6 118.8h.8v.8h-.8zM378.5 125.3h.8v.8h-.8zM377.4 126.7h.8v.8h-.8zM368.8 127.6h.8v.8h-.8zM363.8 126.7h.8v.8h-.8z"/>
<path fill="#000" fill-opacity="0.28" d="M370.6 117.6h.8v.8h-.8zM362.2 120.0h.8v.8h-.8zM368.0 116.8h.8v.8h-.8zM367.1 119.2h.8v.8h-.8zM366.3 127.3h.8v.8h-.8zM359.6 128.5h.8v.8h-.8zM374.2 123.3h.8v.8h-.8zM364.0 124.0h.8v.8h-.8zM364.0 120.2h.8v.8h-.8zM359.9 125.8h.8v.8h-.8zM366.0 127.3h.8v.8h-.8zM371.8 118.6h.8v.8h-.8zM359.7 112.5h.8v.8h-.8zM370.9 124.9h.8v.8h-.8zM358.3 115.9h.8v.8h-.8zM374.6 120.6h.8v.8h-.8zM362.8 114.2h.8v.8h-.8zM360.2 115.4h.8v.8h-.8zM361.9 113.6h.8v.8h-.8zM379.2 111.1h.8v.8h-.8zM370.3 110.9h.8v.8h-.8zM361.2 113.0h.8v.8h-.8zM373.6 127.3h.8v.8h-.8zM375.5 127.6h.8v.8h-.8zM364.7 113.8h.8v.8h-.8zM362.3 125.5h.8v.8h-.8zM375.4 125.2h.8v.8h-.8zM374.1 127.6h.8v.8h-.8zM365.1 126.1h.8v.8h-.8zM358.8 119.9h.8v.8h-.8zM366.6 115.3h.8v.8h-.8zM362.5 127.6h.8v.8h-.8zM361.6 126.5h.8v.8h-.8zM358.5 116.1h.8v.8h-.8zM369.3 127.2h.8v.8h-.8zM371.2 120.6h.8v.8h-.8zM368.1 122.7h.8v.8h-.8zM370.2 123.1h.8v.8h-.8zM369.9 118.1h.8v.8h-.8zM366.3 112.2h.8v.8h-.8zM359.3 116.0h.8v.8h-.8zM377.3 120.0h.8v.8h-.8zM377.2 125.3h.8v.8h-.8z"/>
<path fill="#000" fill-opacity="0.2" d="M360.9 134.6h.8v.8h-.8zM365.9 133.6h.8v.8h-.8zM369.8 143.2h.8v.8h-.8zM375.8 132.3h.8v.8h-.8zM367.6 144.5h.8v.8h-.8zM372.5 141.3h.8v.8h-.8zM379.0 130.2h.8v.8h-.8zM358.8 136.0h.8v.8h-.8zM366.3 142.3h.8v.8h-.8zM365.7 134.3h.8v.8h-.8zM361.5 132.3h.8v.8h-.8zM361.3 131.5h.8v.8h-.8zM366.9 147.9h.8v.8h-.8zM370.0 129.4h.8v.8h-.8zM368.8 142.4h.8v.8h-.8zM359.4 148.0h.8v.8h-.8zM367.8 145.4h.8v.8h-.8zM371.9 139.7h.8v.8h-.8zM371.8 130.8h.8v.8h-.8zM364.4 135.8h.8v.8h-.8zM364.9 144.3h.8v.8h-.8zM362.2 129.5h.8v.8h-.8zM366.7 131.5h.8v.8h-.8zM378.1 136.0h.8v.8h-.8zM375.1 130.7h.8v.8h-.8z"/>
<path fill="#000" fill-opacity="0.2" d="M373.0 137.0h.8v.8h-.8zM375.5 130.6h.8v.8h-.8zM363.5 130.2h.8v.8h-.8zM358.9 133.1h.8v.8h-.8zM363.7 140.9h.8v.8h-.8zM363.1 145.1h.8v.8h-.8zM367.0 145.1h.8v.8h-.8zM377.8 130.5h.8v.8h-.8zM378.6 130.2h.8v.8h-.8zM366.2 139.1h.8v.8h-.8zM368.6 147.2h.8v.8h-.8zM360.1 139.6h.8v.8h-.8zM376.1 134.6h.8v.8h-.8zM369.1 136.1h.8v.8h-.8zM378.2 130.1h.8v.8h-.8zM366.0 148.2h.8v.8h-.8zM360.9 131.2h.8v.8h-.8zM375.1 148.4h.8v.8h-.8zM366.5 132.5h.8v.8h-.8zM365.0 144.3h.8v.8h-.8zM367.2 135.5h.8v.8h-.8zM367.1 143.4h.8v.8h-.8zM379.0 129.3h.8v.8h-.8zM366.6 130.7h.8v.8h-.8zM366.5 132.3h.8v.8h-.8z"/>
<path fill="#000" fill-opacity="0.2" d="M362.1 135.6h.8v.8h-.8zM362.1 143.0h.8v.8h-.8zM362.0 148.4h.8v.8h-.8zM372.8 148.2h.8v.8h-.8zM360.0 139.6h.8v.8h-.8zM364.9 138.5h.8v.8h-.8zM375.4 130.1h.8v.8h-.8zM366.0 141.1h.8v.8h-.8zM373.9 141.7h.8v.8h-.8zM363.0 140.8h.8v.8h-.8zM373.6 136.4h.8v.8h-.8zM376.5 133.8h.8v.8h-.8zM377.9 144.2h.8v.8h-.8zM361.4 138.9h.8v.8h-.8zM362.6 134.3h.8v.8h-.8zM360.5 146.0h.8v.8h-.8zM363.2 129.1h.8v.8h-.8zM378.8 134.3h.8v.8h-.8zM374.7 138.4h.8v.8h-.8zM379.2 131.5h.8v.8h-.8zM377.9 135.3h.8v.8h-.8zM378.4 143.9h.8v.8h-.8zM367.9 144.8h.8v.8h-.8zM367.6 148.1h.8v.8h-.8zM361.4 133.5h.8v.8h-.8z"/>
<path fill="#000" fill-opacity="0.2" d="M370.3 139.2h.8v.8h-.8zM377.2 132.5h.8v.8h-.8zM366.8 142.2h.8v.8h-.8zM369.1 134.3h.8v.8h-.8zM359.6 134.4h.8v.8h-.8zM370.0 139.9h.8v.8h-.8zM378.3 140.7h.8v.8h-.8zM365.3 138.3h.8v.8h-.8zM364.6 142.9h.8v.8h-.8zM363.4 130.4h.8v.8h-.8zM373.7 135.0h.8v.8h-.8zM374.3 129.8h.8v.8h-.8zM374.9 130.9h.8v.8h-.8zM378.9 133.6h.8v.8h-.8zM371.3 142.8h.8v.8h-.8zM372.2 134.6h.8v.8h-.8zM364.2 137.7h.8v.8h-.8zM374.0 144.9h.8v.8h-.8zM367.7 132.8h.8v.8h-.8zM373.2 135.5h.8v.8h-.8zM376.2 141.6h.8v.8h-.8zM375.0 132.8h.8v.8h-.8zM365.4 148.5h.8v.8h-.8zM368.2 140.7h.8v.8h-.8zM368.1 132.2h.8v.8h-.8z"/>
<path fill="#000" fill-opacity="0.2" d="M359.7 129.5h.8v.8h-.8zM377.8 140.8h.8v.8h-.8zM365.2 134.9h.8v.8h-.8zM358.8 146.7h.8v.8h-.8zM373.4 132.9h.8v.8h-.8zM362.5 136.4h.8v.8h-.8zM363.1 144.7h.8v.8h-.8zM359.5 135.0h.8v.8h-.8zM375.5 146.8h.8v.8h-.8zM369.6 137.9h.8v.8h-.8zM368.0 137.1h.8v.8h-.8zM359.9 133.4h.8v.8h-.8zM370.6 134.7h.8v.8h-.8zM373.2 146.6h.8v.8h-.8zM376.0 137.6h.8v.8h-.8zM363.2 143.9h.8v.8h-.8zM370.7 142.3h.8v.8h-.8zM365.1 139.2h.8v.8h-.8zM363.8 129.7h.8v.8h-.8zM376.6 131.8h.8v.8h-.8zM368.8 133.4h.8v.8h-.8zM359.6 144.6h.8v.8h-.8zM378.6 143.5h.8v.8h-.8zM373.5 133.9h.8v.8h-.8zM372.4 147.1h.8v.8h-.8z"/>
<path fill="#000" fill-opacity="0.2" d="M367.6 145.9h.8v.8h-.8zM362.2 136.9h.8v.8h-.8zM360.9 142.9h.8v.8h-.8zM375.2 146.2h.8v.8h-.8zM376.8 134.0h.8v.8h-.8zM375.1 139.8h.8v.8h-.8zM378.1 137.2h.8v.8h-.8zM364.4 135.7h.8v.8h-.8zM372.7 133.3h.8v.8h-.8zM369.5 144.1h.8v.8h-.8zM379.3 136.6h.8v.8h-.8zM376.2 134.3h.8v.8h-.8zM362.1 130.0h.8v.8h-.8zM371.0 142.8h.8v.8h-.8zM366.3 137.7h.8v.8h-.8zM372.9 132.5h.8v.8h-.8zM366.5 129.5h.8v.8h-.8zM367.0 134.6h.8v.8h-.8zM373.2 133.3h.8v.8h-.8zM371.6 133.3h.8v.8h-.8zM373.4 135.1h.8v.8h-.8zM373.1 130.0h.8v.8h-.8zM377.3 129.4h.8v.8h-.8zM377.2 139.4h.8v.8h-.8zM369.0 140.0h.8v.8h-.8z"/>
<path fill="#000" fill-opacity="0.33" d="M388.0 135.3h.8v.8h-.8zM393.7 127.0h.8v.8h-.8zM389.5 138.9h.8v.8h-.8zM394.1 127.4h.8v.8h-.8zM381.7 132.0h.8v.8h-.8zM383.7 147.7h.8v.8h-.8zM391.9 132.9h.8v.8h-.8zM394.0 130.4h.8v.8h-.8zM393.3 138.8h.8v.8h-.8zM391.8 128.9h.8v.8h-.8zM388.6 126.5h.8v.8h-.8zM381.4 128.2h.8v.8h-.8zM392.8 134.1h.8v.8h-.8zM396.7 127.4h.8v.8h-.8zM380.6 124.6h.8v.8h-.8zM388.5 139.6h.8v.8h-.8zM384.7 147.5h.8v.8h-.8zM393.2 147.7h.8v.8h-.8zM383.3 136.9h.8v.8h-.8zM382.2 127.6h.8v.8h-.8zM384.4 132.8h.8v.8h-.8zM384.9 135.0h.8v.8h-.8zM389.9 140.6h.8v.8h-.8zM390.9 125.9h.8v.8h-.8zM381.6 131.9h.8v.8h-.8zM391.0 150.6h.8v.8h-.8zM387.8 128.6h.8v.8h-.8zM386.0 127.4h.8v.8h-.8zM392.0 140.7h.8v.8h-.8zM386.4 133.8h.8v.8h-.8zM390.6 145.3h.8v.8h-.8zM389.1 132.6h.8v.8h-.8zM383.0 148.8h.8v.8h-.8zM386.1 128.4h.8v.8h-.8zM386.0 147.5h.8v.8h-.8zM380.6 143.6h.8v.8h-.8zM396.6 125.6h.8v.8h-.8zM392.8 134.0h.8v.8h-.8zM385.9 126.1h.8v.8h-.8zM381.7 132.9h.8v.8h-.8zM390.4 142.3h.8v.8h-.8zM394.9 137.7h.8v.8h-.8zM384.6 133.8h.8v.8h-.8zM385.0 132.7h.8v.8h-.8zM386.3 137.3h.8v.8h-.8zM384.1 151.0h.8v.8h-.8zM396.0 132.7h.8v.8h-.8zM382.8 125.1h.8v.8h-.8zM380.7 131.8h.8v.8h-.8zM396.9 125.8h.8v.8h-.8zM383.9 134.8h.8v.8h-.8zM385.9 133.9h.8v.8h-.8zM391.6 127.3h.8v.8h-.8zM396.5 127.9h.8v.8h-.8z"/>
<path fill="#000" fill-opacity="0.33" d="M380.1 124.9h.8v.8h-.8zM386.9 128.5h.8v.8h-.8zM383.9 132.4h.8v.8h-.8zM395.9 135.4h.8v.8h-.8zM393.2 142.3h.8v.8h-.8zM393.4 126.1h.8v.8h-.8zM382.5 125.9h.8v.8h-.8zM386.1 132.5h.8v.8h-.8zM395.7 140.3h.8v.8h-.8zM390.3 148.4h.8v.8h-.8zM386.7 127.4h.8v.8h-.8zM392.1 139.8h.8v.8h-.8zM388.1 141.0h.8v.8h-.8zM394.7 132.6h.8v.8h-.8zM389.6 126.1h.8v.8h-.8zM392.7 141.4h.8v.8h-.8zM395.5 144.3h.8v.8h-.8zM396.6 129.7h.8v.8h-.8zM383.2 138.7h.8v.8h-.8zM382.7 132.2h.8v.8h-.8zM381.4 146.8h.8v.8h-.8zM395.4 132.0h.8v.8h-.8zM389.0 140.5h.8v.8h-.8zM394.6 151.5h.8v.8h-.8zM381.3 139.6h.8v.8h-.8zM385.3 133.8h.8v.8h-.8zM396.3 133.4h.8v.8h-.8zM392.8 147.1h.8v.8h-.8zM380.9 136.4h.8v.8h-.8zM390.1 128.3h.8v.8h-.8zM385.6 130.8h.8v.8h-.8zM380.5 128.2h.8v.8h-.8zM393.4 138.7h.8v.8h-.8zM388.9 151.6h.8v.8h-.8zM394.3 133.2h.8v.8h-.8zM389.2 129.0h.8v.8h-.8zM392.8 126.1h.8v.8h-.8zM391.7 142.9h.8v.8h-.8zM390.4 130.9h.8v.8h-.8zM388.7 150.0h.8v.8h-.8zM381.5 130.0h.8v.8h-.8zM393.0 128.1h.8v.8h-.8zM382.4 129.5h.8v.8h-.8zM390.8 144.6h.8v.8h-.8zM393.3 139.0h.8v.8h-.8zM386.7 135.3h.8v.8h-.8zM394.5 135.3h.8v.8h-.8zM380.6 133.6h.8v.8h-.8zM380.5 128.5h.8v.8h-.8zM387.7 126.0h.8v.8h-.8zM396.2 148.0h.8v.8h-.8zM389.5 126.1h.8v.8h-.8zM391.5 128.7h.8v.8h-.8zM381.5 147.8h.8v.8h-.8z"/>
<path fill="#000" fill-opacity="0.33" d="M384.5 141.0h.8v.8h-.8zM386.7 125.2h.8v.8h-.8zM396.5 128.7h.8v.8h-.8zM393.1 134.1h.8v.8h-.8zM396.1 135.0h.8v.8h-.8zM391.6 145.3h.8v.8h-.8zM387.5 125.4h.8v.8h-.8zM390.6 134.0h.8v.8h-.8zM391.7 137.8h.8v.8h-.8zM381.8 129.4h.8v.8h-.8zM391.6 139.6h.8v.8h-.8zM381.6 131.4h.8v.8h-.8zM382.6 135.4h.8v.8h-.8zM384.5 124.5h.8v.8h-.8zM386.2 142.0h.8v.8h-.8zM390.5 131.5h.8v.8h-.8zM386.7 135.0h.8v.8h-.8zM390.6 140.9h.8v.8h-.8zM382.4 127.8h.8v.8h-.8zM384.4 140.5h.8v.8h-.8zM387.3 148.1h.8v.8h-.8zM394.5 135.3h.8v.8h-.8zM395.4 134.4h.8v.8h-.8zM387.4 125.8h.8v.8h-.8zM385.3 126.3h.8v.8h-.8zM384.9 137.9h.8v.8h-.8zM391.8 137.1h.8v.8h-.8zM383.3 129.9h.8v.8h-.8zM396.0 128.3h.8v.8h-.8zM390.8 139.9h.8v.8h-.8zM396.0 137.9h.8v.8h-.8zM382.4 128.9h.8v.8h-.8zM386.0 145.1h.8v.8h-.8zM381.9 125.9h.8v.8h-.8zM390.7 127.4h.8v.8h-.8zM382.6 136.2h.8v.8h-.8zM394.0 142.6h.8v.8h-.8zM389.6 124.2h.8v.8h-.8zM396.0 148.2h.8v.8h-.8zM382.5 129.6h.8v.8h-.8zM383.1 131.1h.8v.8h-.8zM394.4 138.8h.8v.8h-.8zM384.6 146.2h.8v.8h-.8zM390.4 145.6h.8v.8h-.8zM382.3 126.7h.8v.8h-.8zM380.8 142.8h.8v.8h-.8zM387.0 133.4h.8v.8h-.8zM381.3 133.0h.8v.8h-.8zM386.3 134.6h.8v.8h-.8zM384.3 143.4h.8v.8h-.8zM380.8 140.4h.8v.8h-.8zM384.5 132.9h.8v.8h-.8zM392.9 140.8h.8v.8h-.8z"/>
<path fill="#000" fill-opacity="0.33" d="M397.1 126.6h.8v.8h-.8zM389.2 130.0h.8v.8h-.8zM396.8 127.6h.8v.8h-.8zM391.9 124.7h.8v.8h-.8zM396.8 147.1h.8v.8h-.8zM387.1 133.8h.8v.8h-.8zM388.7 140.1h.8v.8h-.8zM393.0 145.0h.8v.8h-.8zM385.7 131.8h.8v.8h-.8zM382.8 138.8h.8v.8h-.8zM394.0 133.1h.8v.8h-.8zM391.8 145.6h.8v.8h-.8zM388.7 131.0h.8v.8h-.8zM386.9 146.8h.8v.8h-.8zM391.0 138.8h.8v.8h-.8zM386.3 133.3h.8v.8h-.8zM394.1 124.9h.8v.8h-.8zM387.2 126.4h.8v.8h-.8zM384.5 128.8h.8v.8h-.8zM391.1 127.7h.8v.8h-.8zM388.9 129.8h.8v.8h-.8zM395.0 128.5h.8v.8h-.8zM386.6 136.9h.8v.8h-.8zM382.1 127.1h.8v.8h-.8zM385.2 128.8h.8v.8h-.8zM395.8 139.1h.8v.8h-.8zM382.3 138.5h.8v.8h-.8zM397.0 126.3h.8v.8h-.8zM390.9 139.2h.8v.8h-.8zM385.2 138.7h.8v.8h-.8zM382.4 144.0h.8v.8h-.8zM390.0 136.5h.8v.8h-.8zM391.1 127.9h.8v.8h-.8zM382.2 141.5h.8v.8h-.8zM386.0 136.0h.8v.8h-.8zM386.3 130.1h.8v.8h-.8zM394.0 149.3h.8v.8h-.8zM383.2 127.1h.8v.8h-.8zM380.5 134.2h.8v.8h-.8zM391.7 128.9h.8v.8h-.8zM390.1 148.1h.8v.8h-.8zM391.3 130.3h.8v.8h-.8zM380.4 145.0h.8v.8h-.8zM395.9 137.6h.8v.8h-.8zM395.2 125.5h.8v.8h-.8zM383.4 142.1h.8v.8h-.8zM390.8 131.0h.8v.8h-.8zM390.6 139.6h.8v.8h-.8zM396.5 145.2h.8v.8h-.8zM396.5 147.6h.8v.8h-.8zM396.8 124.8h.8v.8h-.8zM388.2 149.5h.8v.8h-.8zM383.0 129.6h.8v.8h-.8z"/>
<path fill="#000" fill-opacity="0.33" d="M394.0 151.4h.8v.8h-.8zM392.6 151.4h.8v.8h-.8zM394.9 149.3h.8v.8h-.8zM388.3 139.3h.8v.8h-.8zM384.4 138.1h.8v.8h-.8zM381.7 139.0h.8v.8h-.8zM380.2 141.3h.8v.8h-.8zM384.2 124.2h.8v.8h-.8zM395.1 139.5h.8v.8h-.8zM391.9 135.8h.8v.8h-.8zM393.9 142.8h.8v.8h-.8zM387.1 137.0h.8v.8h-.8zM394.7 142.7h.8v.8h-.8zM385.3 130.5h.8v.8h-.8zM381.0 130.5h.8v.8h-.8zM396.4 150.7h.8v.8h-.8zM392.0 127.1h.8v.8h-.8zM389.8 128.6h.8v.8h-.8zM381.5 141.7h.8v.8h-.8zM396.6 129.1h.8v.8h-.8zM395.7 133.0h.8v.8h-.8zM393.2 135.5h.8v.8h-.8zM396.0 128.1h.8v.8h-.8zM392.0 143.3h.8v.8h-.8zM381.6 136.8h.8v.8h-.8zM390.2 149.5h.8v.8h-.8zM389.8 137.2h.8v.8h-.8zM389.1 129.6h.8v.8h-.8zM395.9 145.5h.8v.8h-.8zM390.3 132.5h.8v.8h-.8zM389.5 130.5h.8v.8h-.8zM396.9 127.2h.8v.8h-.8zM396.6 131.2h.8v.8h-.8zM395.8 141.9h.8v.8h-.8zM396.4 150.0h.8v.8h-.8zM396.8 128.0h.8v.8h-.8zM390.2 134.6h.8v.8h-.8zM383.3 136.5h.8v.8h-.8zM389.3 125.1h.8v.8h-.8zM384.1 126.7h.8v.8h-.8zM394.8 131.1h.8v.8h-.8zM384.7 129.3h.8v.8h-.8zM397.0 147.2h.8v.8h-.8zM396.7 125.0h.8v.8h-.8zM386.5 129.8h.8v.8h-.8zM382.8 132.5h.8v.8h-.8zM393.3 147.1h.8v.8h-.8zM385.0 137.1h.8v.8h-.8zM383.5 134.0h.8v.8h-.8zM395.3 136.3h.8v.8h-.8zM381.8 139.5h.8v.8h-.8zM386.1 139.0h.8v.8h-.8zM385.5 140.3h.8v.8h-.8z"/>
<path fill="#000" fill-opacity="0.33" d="M382.0 140.8h.8v.8h-.8zM391.0 127.2h.8v.8h-.8zM393.7 130.1h.8v.8h-.8zM389.2 136.2h.8v.8h-.8zM383.1 141.1h.8v.8h-.8zM391.7 133.1h.8v.8h-.8zM389.1 128.1h.8v.8h-.8zM382.5 137.9h.8v.8h-.8zM390.6 134.8h.8v.8h-.8zM382.0 139.8h.8v.8h-.8zM396.1 136.8h.8v.8h-.8zM389.7 128.6h.8v.8h-.8zM381.0 144.8h.8v.8h-.8zM387.1 133.2h.8v.8h-.8zM388.9 132.6h.8v.8h-.8zM388.8 126.0h.8v.8h-.8zM386.1 148.4h.8v.8h-.8zM388.3 142.4h.8v.8h-.8zM396.5 127.8h.8v.8h-.8zM388.1 140.9h.8v.8h-.8zM394.9 129.0h.8v.8h-.8zM394.5 140.6h.8v.8h-.8zM396.2 129.0h.8v.8h-.8zM383.6 129.4h.8v.8h-.8zM383.4 125.5h.8v.8h-.8zM393.4 132.1h.8v.8h-.8zM396.9 127.3h.8v.8h-.8zM392.0 133.3h.8v.8h-.8zM388.4 136.6h.8v.8h-.8zM380.9 133.5h.8v.8h-.8zM393.1 131.2h.8v.8h-.8zM393.1 142.5h.8v.8h-.8zM392.9 137.1h.8v.8h-.8zM394.7 142.9h.8v.8h-.8zM392.1 127.3h.8v.8h-.8zM389.5 151.3h.8v.8h-.8zM380.3 134.9h.8v.8h-.8zM392.6 144.7h.8v.8h-.8zM394.7 127.8h.8v.8h-.8zM386.6 138.0h.8v.8h-.8zM391.1 124.2h.8v.8h-.8zM393.0 124.9h.8v.8h-.8zM396.5 140.4h.8v.8h-.8zM388.4 132.3h.8v.8h-.8zM394.0 147.7h.8v.8h-.8zM388.0 139.4h.8v.8h-.8zM386.9 147.6h.8v.8h-.8zM380.2 147.3h.8v.8h-.8zM393.4 130.1h.8v.8h-.8zM382.6 128.9h.8v.8h-.8zM384.1 149.7h.8v.8h-.8zM391.5 134.4h.8v.8h-.8zM380.7 126.7h.8v.8h-.8z"/>
<defs><radialGradient id="rg27"><stop offset="0" stop-color="#444" stop-opacity="0.6"/><stop offset="1" stop-color="#777" stop-opacity="0"/></radialGradient></defs>
<ellipse cx="388.00" cy="133.00" rx="9.00" ry="9.00" fill="url(#rg27)" transform="rotate(0 388.00 133.00)"/>
<defs><radialGradient id="rg28"><stop offset="0" stop-color="#555" stop-opacity="0.7"/><stop offset="0.6" stop-color="#888" stop-opacity="0.35"/><stop offset="1" stop-color="#aaa" stop-opacity="0"/></radialGradient></defs>
<ellipse cx="357.00" cy="150.50" rx="4.50" ry="4.50" fill="url(#rg28)" transform="rotate(0 357.00 150.50)"/>
<path fill="#000" fill-opacity="0.35" d="M353.6 146.9h.8v.8h-.8zM357.7 151.0h.8v.8h-.8zM358.2 149.6h.8v.8h-.8zM358.7 151.8h.8v.8h-.8zM356.5 148.5h.8v.8h-.8zM355.0 149.6h.8v.8h-.8zM356.6 151.1h.8v.8h-.8zM356.9 151.7h.8v.8h-.8zM355.7 151.8h.8v.8h-.8zM361.9 150.2h.8v.8h-.8z"/>
<path fill="#000" fill-opacity="0.35" d="M354.9 150.6h.8v.8h-.8zM359.2 147.0h.8v.8h-.8zM358.0 151.1h.8v.8h-.8zM355.4 151.3h.8v.8h-.8zM360.4 153.1h.8v.8h-.8zM356.9 147.9h.8v.8h-.8zM355.3 150.1h.8v.8h-.8zM353.3 149.9h.8v.8h-.8zM358.1 150.1h.8v.8h-.8zM361.0 149.3h.8v.8h-.8z"/>
<path fill="#000" fill-opacity="0.35" d="M359.4 151.1h.8v.8h-.8zM355.2 149.0h.8v.8h-.8zM359.1 147.1h.8v.8h-.8zM359.4 149.1h.8v.8h-.8zM356.3 148.4h.8v.8h-.8zM357.1 152.6h.8v.8h-.8zM355.6 148.0h.8v.8h-.8zM357.7 151.2h.8v.8h-.8zM354.8 150.4h.8v.8h-.8zM362.1 150.0h.8v.8h-.8z"/>
<path fill="#000" fill-opacity="0.35" d="M355.2 147.4h.8v.8h-.8zM354.6 153.9h.8v.8h-.8zM354.7 148.5h.8v.8h-.8zM352.2 151.1h.8v.8h-.8zM357.4 153.2h.8v.8h-.8zM358.6 152.5h.8v.8h-.8zM357.4 154.4h.8v.8h-.8zM360.2 150.5h.8v.8h-.8zM355.8 149.3h.8v.8h-.8zM352.9 150.1h.8v.8h-.8z"/>
<path fill="#000" fill-opacity="0.35" d="M358.2 151.0h.8v.8h-.8zM357.2 150.9h.8v.8h-.8zM354.9 150.8h.8v.8h-.8zM357.1 151.3h.8v.8h-.8zM356.6 148.4h.8v.8h-.8zM358.0 149.9h.8v.8h-.8zM353.2 149.1h.8v.8h-.8zM359.0 149.0h.8v.8h-.8zM353.1 153.1h.8v.8h-.8zM358.2 153.4h.8v.8h-.8z"/>
<path fill="#000" fill-opacity="0.35" d="M356.4 151.3h.8v.8h-.8zM358.1 149.6h.8v.8h-.8zM358.5 149.3h.8v.8h-.8zM357.6 149.9h.8v.8h-.8zM358.4 150.5h.8v.8h-.8zM357.8 152.5h.8v.8h-.8zM357.0 148.6h.8v.8h-.8zM354.8 149.0h.8v.8h-.8zM357.7 155.9h.8v.8h-.8zM358.5 153.6h.8v.8h-.8z"/>
<defs><radialGradient id="rg29"><stop offset="0" stop-color="#333" stop-opacity="0.8"/><stop offset="0.6" stop-color="#444" stop-opacity="0.6"/><stop offset="1" stop-color="#666" stop-opacity="0"/></radialGradient></defs>
<ellipse cx="372.00" cy="121.50" rx="11.00" ry="6.50" fill="url(#rg29)" transform="rotate(-15 372.00 121.50)"/>
<defs><radialGradient id="rg30"><stop offset="0" stop-color="#222" stop-opacity="0.8"/><stop offset="1" stop-color="#555" stop-opacity="0"/></radialGradient></defs>
<ellipse cx="386.50" cy="126.50" rx="9.00" ry="4.50" fill="url(#rg30)" transform="rotate(0 386.50 126.50)"/>
<defs><radialGradient id="rg31"><stop offset="0" stop-color="#d0d0d0" stop-opacity="1"/><stop offset="0.3" stop-color="#aaa" stop-opacity="1"/><stop offset="0.55" stop-color="#333" stop-opacity="1"/><stop offset="0.78" stop-color="#151515" stop-opacity="1"/><stop offset="0.9" stop-color="#333" stop-opacity="0.7"/><stop offset="1" stop-color="#666" stop-opacity="0"/></radialGradient></defs>
<ellipse cx="384.50" cy="117.80" rx="11.50" ry="8.00" fill="url(#rg31)" transform="rotate(-5 384.50 117.80)"/>
<path fill="#000" fill-opacity="0.3" d="M371.2 115.4h.89v.89h-.89zM367.9 121.9h.89v.89h-.89zM362.2 121.5h.89v.89h-.89zM371.2 123.6h.89v.89h-.89zM375.3 129.3h.89v.89h-.89zM368.3 122.5h.89v.89h-.89zM368.1 128.5h.89v.89h-.89zM370.1 121.6h.89v.89h-.89zM370.7 125.8h.89v.89h-.89zM380.6 121.6h.89v.89h-.89zM378.2 128.8h.89v.89h-.89zM376.9 121.6h.89v.89h-.89zM382.5 116.6h.89v.89h-.89zM370.9 118.9h.89v.89h-.89zM368.7 123.5h.89v.89h-.89zM379.3 124.2h.89v.89h-.89zM370.4 120.0h.89v.89h-.89zM367.9 124.2h.89v.89h-.89zM369.7 121.6h.89v.89h-.89zM367.5 128.2h.89v.89h-.89zM382.3 119.5h.89v.89h-.89zM374.5 115.9h.89v.89h-.89zM369.8 121.4h.89v.89h-.89zM369.7 119.8h.89v.89h-.89zM370.5 113.4h.89v.89h-.89zM361.1 126.5h.89v.89h-.89zM378.1 123.5h.89v.89h-.89z"/>
<path fill="#000" fill-opacity="0.3" d="M371.6 117.9h.89v.89h-.89zM379.4 119.9h.89v.89h-.89zM375.1 121.5h.89v.89h-.89zM369.5 127.6h.89v.89h-.89zM373.2 119.5h.89v.89h-.89zM387.2 116.4h.89v.89h-.89zM370.1 122.9h.89v.89h-.89zM369.6 126.3h.89v.89h-.89zM360.4 119.5h.89v.89h-.89zM374.3 126.3h.89v.89h-.89zM373.0 119.4h.89v.89h-.89zM383.5 119.5h.89v.89h-.89zM369.5 120.2h.89v.89h-.89zM359.6 121.8h.89v.89h-.89zM369.0 123.4h.89v.89h-.89zM380.0 122.2h.89v.89h-.89zM367.8 125.0h.89v.89h-.89zM363.3 126.3h.89v.89h-.89zM363.6 123.3h.89v.89h-.89zM371.2 121.4h.89v.89h-.89zM381.0 112.9h.89v.89h-.89zM381.0 112.8h.89v.89h-.89zM369.0 121.0h.89v.89h-.89zM374.0 120.4h.89v.89h-.89zM367.6 123.4h.89v.89h-.89zM379.7 120.2h.89v.89h-.89zM389.6 120.9h.89v.89h-.89z"/>
<path fill="#000" fill-opacity="0.3" d="M374.9 111.9h.89v.89h-.89zM377.8 108.2h.89v.89h-.89zM373.3 120.3h.89v.89h-.89zM373.8 124.7h.89v.89h-.89zM378.7 120.1h.89v.89h-.89zM355.8 129.3h.89v.89h-.89zM370.5 122.5h.89v.89h-.89zM357.0 123.2h.89v.89h-.89zM366.3 113.0h.89v.89h-.89zM373.5 126.1h.89v.89h-.89zM378.7 124.3h.89v.89h-.89zM371.0 116.6h.89v.89h-.89zM373.9 114.1h.89v.89h-.89zM376.6 119.9h.89v.89h-.89zM369.5 121.0h.89v.89h-.89zM374.7 121.2h.89v.89h-.89zM378.8 119.8h.89v.89h-.89zM366.8 123.2h.89v.89h-.89zM371.9 118.9h.89v.89h-.89zM366.9 124.4h.89v.89h-.89zM368.7 123.2h.89v.89h-.89zM366.2 124.9h.89v.89h-.89zM366.5 122.9h.89v.89h-.89zM366.8 119.5h.89v.89h-.89zM380.4 120.6h.89v.89h-.89zM372.5 120.6h.89v.89h-.89zM365.5 119.7h.89v.89h-.89z"/>
<path fill="#000" fill-opacity="0.3" d="M363.7 118.9h.89v.89h-.89zM385.7 126.8h.89v.89h-.89zM357.4 118.7h.89v.89h-.89zM365.7 123.9h.89v.89h-.89zM371.7 122.0h.89v.89h-.89zM367.3 118.9h.89v.89h-.89zM356.9 120.4h.89v.89h-.89zM369.0 118.6h.89v.89h-.89zM368.4 121.5h.89v.89h-.89zM379.6 128.1h.89v.89h-.89zM372.0 123.6h.89v.89h-.89zM386.5 116.5h.89v.89h-.89zM377.9 118.3h.89v.89h-.89zM368.6 126.3h.89v.89h-.89zM371.5 122.9h.89v.89h-.89zM375.9 117.6h.89v.89h-.89zM363.5 122.9h.89v.89h-.89zM371.0 119.5h.89v.89h-.89zM371.1 120.0h.89v.89h-.89zM362.9 117.4h.89v.89h-.89zM367.7 122.7h.89v.89h-.89zM370.9 124.3h.89v.89h-.89zM371.8 116.2h.89v.89h-.89zM374.8 122.0h.89v.89h-.89zM363.8 127.0h.89v.89h-.89zM371.7 117.2h.89v.89h-.89zM377.8 121.7h.89v.89h-.89z"/>
<path fill="#000" fill-opacity="0.3" d="M373.3 125.3h.89v.89h-.89zM370.8 132.8h.89v.89h-.89zM364.8 119.3h.89v.89h-.89zM360.0 116.8h.89v.89h-.89zM379.7 125.9h.89v.89h-.89zM388.5 125.3h.89v.89h-.89zM360.6 115.5h.89v.89h-.89zM380.7 118.6h.89v.89h-.89zM358.6 120.7h.89v.89h-.89zM378.1 117.4h.89v.89h-.89zM372.7 122.3h.89v.89h-.89zM367.8 121.4h.89v.89h-.89zM363.4 129.8h.89v.89h-.89zM371.8 121.7h.89v.89h-.89zM356.3 125.5h.89v.89h-.89zM370.9 122.9h.89v.89h-.89zM369.1 117.8h.89v.89h-.89zM376.7 112.7h.89v.89h-.89zM364.4 123.0h.89v.89h-.89zM372.2 112.7h.89v.89h-.89zM371.0 124.2h.89v.89h-.89zM373.1 117.8h.89v.89h-.89zM361.2 126.4h.89v.89h-.89zM368.8 123.7h.89v.89h-.89zM370.3 125.0h.89v.89h-.89zM380.6 122.2h.89v.89h-.89z"/>
<path fill="#000" fill-opacity="0.3" d="M368.1 117.1h.89v.89h-.89zM362.1 127.9h.89v.89h-.89zM366.6 115.8h.89v.89h-.89zM359.3 123.1h.89v.89h-.89zM362.0 124.5h.89v.89h-.89zM378.7 120.7h.89v.89h-.89zM363.1 121.7h.89v.89h-.89zM379.5 121.7h.89v.89h-.89zM365.1 133.0h.89v.89h-.89zM376.8 124.7h.89v.89h-.89zM373.6 119.3h.89v.89h-.89zM371.4 121.1h.89v.89h-.89zM363.3 126.6h.89v.89h-.89zM364.2 117.8h.89v.89h-.89zM369.7 120.1h.89v.89h-.89zM369.2 117.0h.89v.89h-.89zM367.5 123.1h.89v.89h-.89zM373.4 123.5h.89v.89h-.89zM367.0 126.2h.89v.89h-.89zM378.6 117.3h.89v.89h-.89zM378.9 110.6h.89v.89h-.89zM361.5 128.8h.89v.89h-.89zM376.8 117.7h.89v.89h-.89zM349.8 125.4h.89v.89h-.89zM360.2 117.7h.89v.89h-.89zM377.9 119.3h.89v.89h-.89z"/>
<path d="M356.8 108.8 L379.9 108.8 L379.9 129.2 L356.8 129.2 Z" fill="none" stroke="#fff" stroke-width="2.3" stroke-opacity="0.8"/>
<path d="M379.9 108.8 L398.1 108.8 L398.1 124.2 L379.9 124.2 Z" fill="none" stroke="#fff" stroke-width="2.3" stroke-opacity="0.8"/>
<path d="M379.9 124.2 L398.1 124.2 L398.1 152.8 L379.9 152.8 Z" fill="none" stroke="#fff" stroke-width="2.3" stroke-opacity="0.8"/>
<path d="M356.8 108.8 L379.9 108.8 L379.9 129.2 L356.8 129.2 Z" fill="none" stroke="#000" stroke-width="1.1"/>
<path d="M379.9 108.8 L398.1 108.8 L398.1 124.2 L379.9 124.2 Z" fill="none" stroke="#000" stroke-width="1.1"/>
<path d="M379.9 124.2 L398.1 124.2 L398.1 152.8 L379.9 152.8 Z" fill="none" stroke="#000" stroke-width="1.1"/>
<text x="389.20" y="106.20" font-size="6.0" text-anchor="middle" font-weight="bold" fill="#000" stroke="#000" stroke-width="0.25" >67.1</text>
<text x="350.10" y="124.20" font-size="6.0" text-anchor="middle" font-weight="bold" fill="#000" stroke="#000" stroke-width="0.25" >19.8</text>
<text x="390.00" y="158.80" font-size="6.0" text-anchor="middle" font-weight="bold" fill="#000" stroke="#000" stroke-width="0.25" >9.87</text>
<rect x="94.50" y="22.30" width="64.00" height="63.10" fill="none" stroke="#000" stroke-width="1.4"/>
<text x="92.90" y="29.98" font-size="4.2" text-anchor="end" fill="#333" stroke="#333" stroke-width="0.12">10<tspan font-size="3.0" dy="-1.6">5</tspan></text>
<line x1="93.00" y1="28.48" x2="94.50" y2="28.48" stroke="#222" stroke-width="0.7"/>
<text x="92.90" y="44.62" font-size="4.2" text-anchor="end" fill="#333" stroke="#333" stroke-width="0.12">10<tspan font-size="3.0" dy="-1.6">4</tspan></text>
<line x1="93.00" y1="43.12" x2="94.50" y2="43.12" stroke="#222" stroke-width="0.7"/>
<text x="92.90" y="60.08" font-size="4.2" text-anchor="end" fill="#333" stroke="#333" stroke-width="0.12">10<tspan font-size="3.0" dy="-1.6">3</tspan></text>
<line x1="93.00" y1="58.58" x2="94.50" y2="58.58" stroke="#222" stroke-width="0.7"/>
<text x="92.90" y="73.65" font-size="4.2" text-anchor="end" fill="#333" stroke="#333" stroke-width="0.12">0</text>
<line x1="93.00" y1="72.15" x2="94.50" y2="72.15" stroke="#222" stroke-width="0.7"/>
<text x="100.39" y="92.20" font-size="4.2" text-anchor="middle" fill="#333" stroke="#333" stroke-width="0.12">0</text>
<line x1="100.39" y1="85.40" x2="100.39" y2="86.90" stroke="#222" stroke-width="0.7"/>
<text x="108.77" y="92.20" font-size="4.2" text-anchor="middle" fill="#333" stroke="#333" stroke-width="0.12">10<tspan font-size="3.0" dy="-1.6">2</tspan></text>
<line x1="107.97" y1="85.40" x2="107.97" y2="86.90" stroke="#222" stroke-width="0.7"/>
<text x="122.85" y="92.20" font-size="4.2" text-anchor="middle" fill="#333" stroke="#333" stroke-width="0.12">10<tspan font-size="3.0" dy="-1.6">3</tspan></text>
<line x1="122.05" y1="85.40" x2="122.05" y2="86.90" stroke="#222" stroke-width="0.7"/>
<text x="137.89" y="92.20" font-size="4.2" text-anchor="middle" fill="#333" stroke="#333" stroke-width="0.12">10<tspan font-size="3.0" dy="-1.6">4</tspan></text>
<line x1="137.09" y1="85.40" x2="137.09" y2="86.90" stroke="#222" stroke-width="0.7"/>
<text x="152.10" y="92.20" font-size="4.2" text-anchor="middle" fill="#333" stroke="#333" stroke-width="0.12">10<tspan font-size="3.0" dy="-1.6">5</tspan></text>
<line x1="151.30" y1="85.40" x2="151.30" y2="86.90" stroke="#222" stroke-width="0.7"/>
<rect x="94.50" y="98.80" width="64.00" height="63.50" fill="none" stroke="#000" stroke-width="1.4"/>
<text x="92.90" y="105.38" font-size="4.2" text-anchor="end" fill="#333" stroke="#333" stroke-width="0.12">10<tspan font-size="3.0" dy="-1.6">5</tspan></text>
<line x1="93.00" y1="103.88" x2="94.50" y2="103.88" stroke="#222" stroke-width="0.7"/>
<text x="92.90" y="120.30" font-size="4.2" text-anchor="end" fill="#333" stroke="#333" stroke-width="0.12">10<tspan font-size="3.0" dy="-1.6">4</tspan></text>
<line x1="93.00" y1="118.80" x2="94.50" y2="118.80" stroke="#222" stroke-width="0.7"/>
<text x="92.90" y="134.91" font-size="4.2" text-anchor="end" fill="#333" stroke="#333" stroke-width="0.12">10<tspan font-size="3.0" dy="-1.6">3</tspan></text>
<line x1="93.00" y1="133.41" x2="94.50" y2="133.41" stroke="#222" stroke-width="0.7"/>
<text x="92.90" y="156.18" font-size="4.2" text-anchor="end" fill="#333" stroke="#333" stroke-width="0.12">0</text>
<line x1="93.00" y1="154.68" x2="94.50" y2="154.68" stroke="#222" stroke-width="0.7"/>
<text x="108.39" y="168.30" font-size="4.2" text-anchor="middle" fill="#333" stroke="#333" stroke-width="0.12">0</text>
<line x1="108.39" y1="162.30" x2="108.39" y2="163.80" stroke="#222" stroke-width="0.7"/>
<text x="120.61" y="168.30" font-size="4.2" text-anchor="middle" fill="#333" stroke="#333" stroke-width="0.12">10<tspan font-size="3.0" dy="-1.6">3</tspan></text>
<line x1="119.81" y1="162.30" x2="119.81" y2="163.80" stroke="#222" stroke-width="0.7"/>
<text x="136.74" y="168.30" font-size="4.2" text-anchor="middle" fill="#333" stroke="#333" stroke-width="0.12">10<tspan font-size="3.0" dy="-1.6">4</tspan></text>
<line x1="135.94" y1="162.30" x2="135.94" y2="163.80" stroke="#222" stroke-width="0.7"/>
<text x="151.46" y="168.30" font-size="4.2" text-anchor="middle" fill="#333" stroke="#333" stroke-width="0.12">10<tspan font-size="3.0" dy="-1.6">5</tspan></text>
<line x1="150.66" y1="162.30" x2="150.66" y2="163.80" stroke="#222" stroke-width="0.7"/>
<rect x="177.50" y="22.30" width="64.00" height="63.10" fill="none" stroke="#000" stroke-width="1.4"/>
<text x="175.90" y="29.98" font-size="4.2" text-anchor="end" fill="#333" stroke="#333" stroke-width="0.12">10<tspan font-size="3.0" dy="-1.6">5</tspan></text>
<line x1="176.00" y1="28.48" x2="177.50" y2="28.48" stroke="#222" stroke-width="0.7"/>
<text x="175.90" y="44.62" font-size="4.2" text-anchor="end" fill="#333" stroke="#333" stroke-width="0.12">10<tspan font-size="3.0" dy="-1.6">4</tspan></text>
<line x1="176.00" y1="43.12" x2="177.50" y2="43.12" stroke="#222" stroke-width="0.7"/>
<text x="175.90" y="60.08" font-size="4.2" text-anchor="end" fill="#333" stroke="#333" stroke-width="0.12">10<tspan font-size="3.0" dy="-1.6">3</tspan></text>
<line x1="176.00" y1="58.58" x2="177.50" y2="58.58" stroke="#222" stroke-width="0.7"/>
<text x="175.90" y="73.65" font-size="4.2" text-anchor="end" fill="#333" stroke="#333" stroke-width="0.12">0</text>
<line x1="176.00" y1="72.15" x2="177.50" y2="72.15" stroke="#222" stroke-width="0.7"/>
<text x="183.39" y="92.20" font-size="4.2" text-anchor="middle" fill="#333" stroke="#333" stroke-width="0.12">0</text>
<line x1="183.39" y1="85.40" x2="183.39" y2="86.90" stroke="#222" stroke-width="0.7"/>
<text x="191.77" y="92.20" font-size="4.2" text-anchor="middle" fill="#333" stroke="#333" stroke-width="0.12">10<tspan font-size="3.0" dy="-1.6">2</tspan></text>
<line x1="190.97" y1="85.40" x2="190.97" y2="86.90" stroke="#222" stroke-width="0.7"/>
<text x="205.85" y="92.20" font-size="4.2" text-anchor="middle" fill="#333" stroke="#333" stroke-width="0.12">10<tspan font-size="3.0" dy="-1.6">3</tspan></text>
<line x1="205.05" y1="85.40" x2="205.05" y2="86.90" stroke="#222" stroke-width="0.7"/>
<text x="220.89" y="92.20" font-size="4.2" text-anchor="middle" fill="#333" stroke="#333" stroke-width="0.12">10<tspan font-size="3.0" dy="-1.6">4</tspan></text>
<line x1="220.09" y1="85.40" x2="220.09" y2="86.90" stroke="#222" stroke-width="0.7"/>
<text x="235.10" y="92.20" font-size="4.2" text-anchor="middle" fill="#333" stroke="#333" stroke-width="0.12">10<tspan font-size="3.0" dy="-1.6">5</tspan></text>
<line x1="234.30" y1="85.40" x2="234.30" y2="86.90" stroke="#222" stroke-width="0.7"/>
<rect x="177.50" y="98.80" width="64.00" height="63.50" fill="none" stroke="#000" stroke-width="1.4"/>
<text x="175.90" y="105.38" font-size="4.2" text-anchor="end" fill="#333" stroke="#333" stroke-width="0.12">10<tspan font-size="3.0" dy="-1.6">5</tspan></text>
<line x1="176.00" y1="103.88" x2="177.50" y2="103.88" stroke="#222" stroke-width="0.7"/>
<text x="175.90" y="120.30" font-size="4.2" text-anchor="end" fill="#333" stroke="#333" stroke-width="0.12">10<tspan font-size="3.0" dy="-1.6">4</tspan></text>
<line x1="176.00" y1="118.80" x2="177.50" y2="118.80" stroke="#222" stroke-width="0.7"/>
<text x="175.90" y="134.91" font-size="4.2" text-anchor="end" fill="#333" stroke="#333" stroke-width="0.12">10<tspan font-size="3.0" dy="-1.6">3</tspan></text>
<line x1="176.00" y1="133.41" x2="177.50" y2="133.41" stroke="#222" stroke-width="0.7"/>
<text x="175.90" y="156.18" font-size="4.2" text-anchor="end" fill="#333" stroke="#333" stroke-width="0.12">0</text>
<line x1="176.00" y1="154.68" x2="177.50" y2="154.68" stroke="#222" stroke-width="0.7"/>
<text x="191.39" y="168.30" font-size="4.2" text-anchor="middle" fill="#333" stroke="#333" stroke-width="0.12">0</text>
<line x1="191.39" y1="162.30" x2="191.39" y2="163.80" stroke="#222" stroke-width="0.7"/>
<text x="203.61" y="168.30" font-size="4.2" text-anchor="middle" fill="#333" stroke="#333" stroke-width="0.12">10<tspan font-size="3.0" dy="-1.6">3</tspan></text>
<line x1="202.81" y1="162.30" x2="202.81" y2="163.80" stroke="#222" stroke-width="0.7"/>
<text x="219.74" y="168.30" font-size="4.2" text-anchor="middle" fill="#333" stroke="#333" stroke-width="0.12">10<tspan font-size="3.0" dy="-1.6">4</tspan></text>
<line x1="218.94" y1="162.30" x2="218.94" y2="163.80" stroke="#222" stroke-width="0.7"/>
<text x="234.46" y="168.30" font-size="4.2" text-anchor="middle" fill="#333" stroke="#333" stroke-width="0.12">10<tspan font-size="3.0" dy="-1.6">5</tspan></text>
<line x1="233.66" y1="162.30" x2="233.66" y2="163.80" stroke="#222" stroke-width="0.7"/>
<rect x="260.30" y="22.30" width="64.00" height="63.10" fill="none" stroke="#000" stroke-width="1.4"/>
<text x="258.70" y="29.98" font-size="4.2" text-anchor="end" fill="#333" stroke="#333" stroke-width="0.12">10<tspan font-size="3.0" dy="-1.6">5</tspan></text>
<line x1="258.80" y1="28.48" x2="260.30" y2="28.48" stroke="#222" stroke-width="0.7"/>
<text x="258.70" y="44.62" font-size="4.2" text-anchor="end" fill="#333" stroke="#333" stroke-width="0.12">10<tspan font-size="3.0" dy="-1.6">4</tspan></text>
<line x1="258.80" y1="43.12" x2="260.30" y2="43.12" stroke="#222" stroke-width="0.7"/>
<text x="258.70" y="60.08" font-size="4.2" text-anchor="end" fill="#333" stroke="#333" stroke-width="0.12">10<tspan font-size="3.0" dy="-1.6">3</tspan></text>
<line x1="258.80" y1="58.58" x2="260.30" y2="58.58" stroke="#222" stroke-width="0.7"/>
<text x="258.70" y="73.65" font-size="4.2" text-anchor="end" fill="#333" stroke="#333" stroke-width="0.12">0</text>
<line x1="258.80" y1="72.15" x2="260.30" y2="72.15" stroke="#222" stroke-width="0.7"/>
<text x="266.19" y="92.20" font-size="4.2" text-anchor="middle" fill="#333" stroke="#333" stroke-width="0.12">0</text>
<line x1="266.19" y1="85.40" x2="266.19" y2="86.90" stroke="#222" stroke-width="0.7"/>
<text x="274.57" y="92.20" font-size="4.2" text-anchor="middle" fill="#333" stroke="#333" stroke-width="0.12">10<tspan font-size="3.0" dy="-1.6">2</tspan></text>
<line x1="273.77" y1="85.40" x2="273.77" y2="86.90" stroke="#222" stroke-width="0.7"/>
<text x="288.65" y="92.20" font-size="4.2" text-anchor="middle" fill="#333" stroke="#333" stroke-width="0.12">10<tspan font-size="3.0" dy="-1.6">3</tspan></text>
<line x1="287.85" y1="85.40" x2="287.85" y2="86.90" stroke="#222" stroke-width="0.7"/>
<text x="303.69" y="92.20" font-size="4.2" text-anchor="middle" fill="#333" stroke="#333" stroke-width="0.12">10<tspan font-size="3.0" dy="-1.6">4</tspan></text>
<line x1="302.89" y1="85.40" x2="302.89" y2="86.90" stroke="#222" stroke-width="0.7"/>
<text x="317.90" y="92.20" font-size="4.2" text-anchor="middle" fill="#333" stroke="#333" stroke-width="0.12">10<tspan font-size="3.0" dy="-1.6">5</tspan></text>
<line x1="317.10" y1="85.40" x2="317.10" y2="86.90" stroke="#222" stroke-width="0.7"/>
<rect x="260.30" y="98.80" width="64.00" height="63.50" fill="none" stroke="#000" stroke-width="1.4"/>
<text x="258.70" y="105.38" font-size="4.2" text-anchor="end" fill="#333" stroke="#333" stroke-width="0.12">10<tspan font-size="3.0" dy="-1.6">5</tspan></text>
<line x1="258.80" y1="103.88" x2="260.30" y2="103.88" stroke="#222" stroke-width="0.7"/>
<text x="258.70" y="120.30" font-size="4.2" text-anchor="end" fill="#333" stroke="#333" stroke-width="0.12">10<tspan font-size="3.0" dy="-1.6">4</tspan></text>
<line x1="258.80" y1="118.80" x2="260.30" y2="118.80" stroke="#222" stroke-width="0.7"/>
<text x="258.70" y="134.91" font-size="4.2" text-anchor="end" fill="#333" stroke="#333" stroke-width="0.12">10<tspan font-size="3.0" dy="-1.6">3</tspan></text>
<line x1="258.80" y1="133.41" x2="260.30" y2="133.41" stroke="#222" stroke-width="0.7"/>
<text x="258.70" y="156.18" font-size="4.2" text-anchor="end" fill="#333" stroke="#333" stroke-width="0.12">0</text>
<line x1="258.80" y1="154.68" x2="260.30" y2="154.68" stroke="#222" stroke-width="0.7"/>
<text x="274.19" y="168.30" font-size="4.2" text-anchor="middle" fill="#333" stroke="#333" stroke-width="0.12">0</text>
<line x1="274.19" y1="162.30" x2="274.19" y2="163.80" stroke="#222" stroke-width="0.7"/>
<text x="286.41" y="168.30" font-size="4.2" text-anchor="middle" fill="#333" stroke="#333" stroke-width="0.12">10<tspan font-size="3.0" dy="-1.6">3</tspan></text>
<line x1="285.61" y1="162.30" x2="285.61" y2="163.80" stroke="#222" stroke-width="0.7"/>
<text x="302.54" y="168.30" font-size="4.2" text-anchor="middle" fill="#333" stroke="#333" stroke-width="0.12">10<tspan font-size="3.0" dy="-1.6">4</tspan></text>
<line x1="301.74" y1="162.30" x2="301.74" y2="163.80" stroke="#222" stroke-width="0.7"/>
<text x="317.26" y="168.30" font-size="4.2" text-anchor="middle" fill="#333" stroke="#333" stroke-width="0.12">10<tspan font-size="3.0" dy="-1.6">5</tspan></text>
<line x1="316.46" y1="162.30" x2="316.46" y2="163.80" stroke="#222" stroke-width="0.7"/>
<rect x="343.00" y="22.30" width="64.00" height="63.10" fill="none" stroke="#000" stroke-width="1.4"/>
<text x="341.40" y="29.98" font-size="4.2" text-anchor="end" fill="#333" stroke="#333" stroke-width="0.12">10<tspan font-size="3.0" dy="-1.6">5</tspan></text>
<line x1="341.50" y1="28.48" x2="343.00" y2="28.48" stroke="#222" stroke-width="0.7"/>
<text x="341.40" y="44.62" font-size="4.2" text-anchor="end" fill="#333" stroke="#333" stroke-width="0.12">10<tspan font-size="3.0" dy="-1.6">4</tspan></text>
<line x1="341.50" y1="43.12" x2="343.00" y2="43.12" stroke="#222" stroke-width="0.7"/>
<text x="341.40" y="60.08" font-size="4.2" text-anchor="end" fill="#333" stroke="#333" stroke-width="0.12">10<tspan font-size="3.0" dy="-1.6">3</tspan></text>
<line x1="341.50" y1="58.58" x2="343.00" y2="58.58" stroke="#222" stroke-width="0.7"/>
<text x="341.40" y="73.65" font-size="4.2" text-anchor="end" fill="#333" stroke="#333" stroke-width="0.12">0</text>
<line x1="341.50" y1="72.15" x2="343.00" y2="72.15" stroke="#222" stroke-width="0.7"/>
<text x="348.89" y="92.20" font-size="4.2" text-anchor="middle" fill="#333" stroke="#333" stroke-width="0.12">0</text>
<line x1="348.89" y1="85.40" x2="348.89" y2="86.90" stroke="#222" stroke-width="0.7"/>
<text x="357.27" y="92.20" font-size="4.2" text-anchor="middle" fill="#333" stroke="#333" stroke-width="0.12">10<tspan font-size="3.0" dy="-1.6">2</tspan></text>
<line x1="356.47" y1="85.40" x2="356.47" y2="86.90" stroke="#222" stroke-width="0.7"/>
<text x="371.35" y="92.20" font-size="4.2" text-anchor="middle" fill="#333" stroke="#333" stroke-width="0.12">10<tspan font-size="3.0" dy="-1.6">3</tspan></text>
<line x1="370.55" y1="85.40" x2="370.55" y2="86.90" stroke="#222" stroke-width="0.7"/>
<text x="386.39" y="92.20" font-size="4.2" text-anchor="middle" fill="#333" stroke="#333" stroke-width="0.12">10<tspan font-size="3.0" dy="-1.6">4</tspan></text>
<line x1="385.59" y1="85.40" x2="385.59" y2="86.90" stroke="#222" stroke-width="0.7"/>
<text x="400.60" y="92.20" font-size="4.2" text-anchor="middle" fill="#333" stroke="#333" stroke-width="0.12">10<tspan font-size="3.0" dy="-1.6">5</tspan></text>
<line x1="399.80" y1="85.40" x2="399.80" y2="86.90" stroke="#222" stroke-width="0.7"/>
<rect x="343.00" y="98.80" width="64.00" height="63.50" fill="none" stroke="#000" stroke-width="1.4"/>
<text x="341.40" y="105.38" font-size="4.2" text-anchor="end" fill="#333" stroke="#333" stroke-width="0.12">10<tspan font-size="3.0" dy="-1.6">5</tspan></text>
<line x1="341.50" y1="103.88" x2="343.00" y2="103.88" stroke="#222" stroke-width="0.7"/>
<text x="341.40" y="120.30" font-size="4.2" text-anchor="end" fill="#333" stroke="#333" stroke-width="0.12">10<tspan font-size="3.0" dy="-1.6">4</tspan></text>
<line x1="341.50" y1="118.80" x2="343.00" y2="118.80" stroke="#222" stroke-width="0.7"/>
<text x="341.40" y="134.91" font-size="4.2" text-anchor="end" fill="#333" stroke="#333" stroke-width="0.12">10<tspan font-size="3.0" dy="-1.6">3</tspan></text>
<line x1="341.50" y1="133.41" x2="343.00" y2="133.41" stroke="#222" stroke-width="0.7"/>
<text x="341.40" y="156.18" font-size="4.2" text-anchor="end" fill="#333" stroke="#333" stroke-width="0.12">0</text>
<line x1="341.50" y1="154.68" x2="343.00" y2="154.68" stroke="#222" stroke-width="0.7"/>
<text x="356.89" y="168.30" font-size="4.2" text-anchor="middle" fill="#333" stroke="#333" stroke-width="0.12">0</text>
<line x1="356.89" y1="162.30" x2="356.89" y2="163.80" stroke="#222" stroke-width="0.7"/>
<text x="369.11" y="168.30" font-size="4.2" text-anchor="middle" fill="#333" stroke="#333" stroke-width="0.12">10<tspan font-size="3.0" dy="-1.6">3</tspan></text>
<line x1="368.31" y1="162.30" x2="368.31" y2="163.80" stroke="#222" stroke-width="0.7"/>
<text x="385.24" y="168.30" font-size="4.2" text-anchor="middle" fill="#333" stroke="#333" stroke-width="0.12">10<tspan font-size="3.0" dy="-1.6">4</tspan></text>
<line x1="384.44" y1="162.30" x2="384.44" y2="163.80" stroke="#222" stroke-width="0.7"/>
<text x="399.96" y="168.30" font-size="4.2" text-anchor="middle" fill="#333" stroke="#333" stroke-width="0.12">10<tspan font-size="3.0" dy="-1.6">5</tspan></text>
<line x1="399.16" y1="162.30" x2="399.16" y2="163.80" stroke="#222" stroke-width="0.7"/>
<line x1="54.20" y1="66.80" x2="54.20" y2="38.80" stroke="#000" stroke-width="0.9"/>
<line x1="54.20" y1="66.80" x2="79.80" y2="66.80" stroke="#000" stroke-width="0.9"/>
<path d="M52.6 39.3 L54.2 36.8 L55.8 39.3 Z" fill="#000"/>
<path d="M79.3 65.2 L81.8 66.8 L79.3 68.4 Z" fill="#000"/>
<line x1="54.20" y1="139.80" x2="54.20" y2="112.00" stroke="#000" stroke-width="0.9"/>
<line x1="54.20" y1="139.80" x2="79.80" y2="139.80" stroke="#000" stroke-width="0.9"/>
<path d="M52.6 112.5 L54.2 110.0 L55.8 112.5 Z" fill="#000"/>
<path d="M79.3 138.2 L81.8 139.8 L79.3 141.4 Z" fill="#000"/>
<text x="0" y="0" font-size="6.2" font-weight="bold" text-anchor="middle" stroke="#000" stroke-width="0.25" transform="translate(51.30,53.30) rotate(-90)">B220</text>
<text x="66.40" y="74.50" font-size="6.2" text-anchor="middle" font-weight="bold" fill="#000" stroke="#000" stroke-width="0.25" >CD3</text>
<text x="0" y="0" font-size="6.2" font-weight="bold" text-anchor="middle" stroke="#000" stroke-width="0.25" transform="translate(50.70,126.60) rotate(-90)">IgD</text>
<text x="66.50" y="148.20" font-size="6.2" text-anchor="middle" font-weight="bold" fill="#000" stroke="#000" stroke-width="0.25" >IgM</text>
<path d="M96.5 72 C90 78, 89.5 92, 95 98 L99.8 103.3" fill="none" stroke="#333" stroke-width="0.7"/>
<path d="M98.2 104.3 L101.6 105.4 L100.6 102.0 Z" fill="#000"/>
</svg></body></html>
